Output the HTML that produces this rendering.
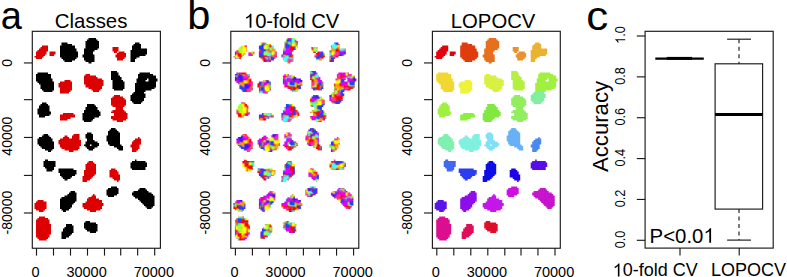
<!DOCTYPE html><html><head><meta charset="utf-8"><style>html,body{margin:0;padding:0;background:#fff;}svg{display:block;}text{font-family:"Liberation Sans",sans-serif;fill:#000;}</style></head><body>
<svg width="787" height="277" viewBox="0 0 787 277" xmlns="http://www.w3.org/2000/svg">
<rect width="787" height="277" fill="#fff"/>
<defs><pattern id="pf" patternUnits="userSpaceOnUse" x="0.6" y="0.3" width="60.0" height="60.0">
<rect width="60.0" height="60.0" fill="#ff0000"/>
<rect x="31.94" y="55.17" width="3.74" height="3.74" fill="#40ffff"/>
<rect x="33.67" y="7.97" width="3.81" height="3.81" fill="#40ffff"/>
<rect x="46.76" y="2.06" width="3.96" height="3.96" fill="#ffff00"/>
<rect x="47.95" y="40.59" width="3.31" height="3.31" fill="#ff0000"/>
<rect x="57.73" y="37.72" width="4.38" height="4.38" fill="#2040ff"/>
<rect x="-2.27" y="37.72" width="4.38" height="4.38" fill="#2040ff"/>
<rect x="-2.44" y="30.10" width="3.39" height="3.39" fill="#ff0000"/>
<rect x="57.56" y="30.10" width="3.39" height="3.39" fill="#ff0000"/>
<rect x="11.92" y="-1.52" width="3.43" height="3.43" fill="#40ffff"/>
<rect x="11.92" y="58.48" width="3.43" height="3.43" fill="#40ffff"/>
<rect x="49.96" y="29.35" width="3.73" height="3.73" fill="#2040ff"/>
<rect x="38.46" y="25.38" width="3.80" height="3.80" fill="#ffff00"/>
<rect x="59.72" y="49.71" width="4.40" height="4.40" fill="#5010ff"/>
<rect x="-0.28" y="49.71" width="4.40" height="4.40" fill="#5010ff"/>
<rect x="11.02" y="14.80" width="3.58" height="3.58" fill="#ff0000"/>
<rect x="21.55" y="50.16" width="4.12" height="4.12" fill="#a0ff30"/>
<rect x="50.17" y="-4.31" width="4.35" height="4.35" fill="#ffff00"/>
<rect x="50.17" y="55.69" width="4.35" height="4.35" fill="#ffff00"/>
<rect x="25.92" y="58.74" width="4.29" height="4.29" fill="#a0ff30"/>
<rect x="25.92" y="-1.26" width="4.29" height="4.29" fill="#a0ff30"/>
<rect x="36.55" y="45.98" width="3.29" height="3.29" fill="#ffff00"/>
<rect x="17.75" y="57.73" width="3.30" height="3.30" fill="#5010ff"/>
<rect x="17.75" y="-2.27" width="3.30" height="3.30" fill="#5010ff"/>
<rect x="12.27" y="3.06" width="3.34" height="3.34" fill="#ff0000"/>
<rect x="7.24" y="31.73" width="4.16" height="4.16" fill="#40ff80"/>
<rect x="42.99" y="4.88" width="3.43" height="3.43" fill="#2040ff"/>
<rect x="23.31" y="10.14" width="3.34" height="3.34" fill="#ffff00"/>
<rect x="47.35" y="15.21" width="4.37" height="4.37" fill="#e000ff"/>
<rect x="21.56" y="50.76" width="3.45" height="3.45" fill="#2040ff"/>
<rect x="59.32" y="10.18" width="3.32" height="3.32" fill="#ffff00"/>
<rect x="-0.68" y="10.18" width="3.32" height="3.32" fill="#ffff00"/>
<rect x="16.97" y="14.88" width="4.13" height="4.13" fill="#ff0000"/>
<rect x="33.58" y="12.08" width="3.31" height="3.31" fill="#2040ff"/>
<rect x="25.20" y="57.40" width="3.65" height="3.65" fill="#40ffff"/>
<rect x="25.20" y="-2.60" width="3.65" height="3.65" fill="#40ffff"/>
<rect x="51.47" y="7.79" width="3.89" height="3.89" fill="#ff9900"/>
<rect x="48.29" y="11.75" width="4.29" height="4.29" fill="#ff9900"/>
<rect x="56.18" y="8.51" width="4.09" height="4.09" fill="#ff30a0"/>
<rect x="-3.82" y="8.51" width="4.09" height="4.09" fill="#ff30a0"/>
<rect x="34.52" y="22.82" width="4.26" height="4.26" fill="#ff9900"/>
<rect x="57.64" y="11.83" width="3.25" height="3.25" fill="#5010ff"/>
<rect x="-2.36" y="11.83" width="3.25" height="3.25" fill="#5010ff"/>
<rect x="48.80" y="34.37" width="3.51" height="3.51" fill="#ffff00"/>
<rect x="42.27" y="0.95" width="3.41" height="3.41" fill="#ffff00"/>
<rect x="50.57" y="35.37" width="3.87" height="3.87" fill="#ffff00"/>
<rect x="8.82" y="-3.24" width="4.30" height="4.30" fill="#ffff00"/>
<rect x="8.82" y="56.76" width="4.30" height="4.30" fill="#ffff00"/>
<rect x="0.12" y="7.50" width="3.73" height="3.73" fill="#a0ff30"/>
<rect x="4.52" y="19.25" width="3.89" height="3.89" fill="#ff30a0"/>
<rect x="37.91" y="40.12" width="4.38" height="4.38" fill="#2040ff"/>
<rect x="-1.15" y="-2.23" width="3.37" height="3.37" fill="#ff30a0"/>
<rect x="-1.15" y="57.77" width="3.37" height="3.37" fill="#ff30a0"/>
<rect x="58.85" y="-2.23" width="3.37" height="3.37" fill="#ff30a0"/>
<rect x="58.85" y="57.77" width="3.37" height="3.37" fill="#ff30a0"/>
<rect x="57.62" y="-2.68" width="4.04" height="4.04" fill="#2040ff"/>
<rect x="57.62" y="57.32" width="4.04" height="4.04" fill="#2040ff"/>
<rect x="-2.38" y="-2.68" width="4.04" height="4.04" fill="#2040ff"/>
<rect x="-2.38" y="57.32" width="4.04" height="4.04" fill="#2040ff"/>
<rect x="42.81" y="16.56" width="3.78" height="3.78" fill="#ff30a0"/>
<rect x="31.27" y="43.35" width="3.29" height="3.29" fill="#ff30a0"/>
<rect x="41.01" y="46.75" width="4.08" height="4.08" fill="#ff30a0"/>
<rect x="39.97" y="53.69" width="3.62" height="3.62" fill="#e000ff"/>
<rect x="46.66" y="51.30" width="3.70" height="3.70" fill="#2040ff"/>
<rect x="20.50" y="33.31" width="3.95" height="3.95" fill="#2040ff"/>
<rect x="37.18" y="59.58" width="3.30" height="3.30" fill="#e000ff"/>
<rect x="37.18" y="-0.42" width="3.30" height="3.30" fill="#e000ff"/>
<rect x="20.81" y="43.02" width="4.07" height="4.07" fill="#2040ff"/>
<rect x="49.70" y="1.61" width="3.73" height="3.73" fill="#5010ff"/>
<rect x="34.79" y="27.18" width="3.24" height="3.24" fill="#ffff00"/>
<rect x="27.80" y="35.31" width="4.04" height="4.04" fill="#ff30a0"/>
<rect x="-2.79" y="15.61" width="3.51" height="3.51" fill="#2040ff"/>
<rect x="57.21" y="15.61" width="3.51" height="3.51" fill="#2040ff"/>
<rect x="7.32" y="54.02" width="3.44" height="3.44" fill="#2040ff"/>
<rect x="53.10" y="17.11" width="3.73" height="3.73" fill="#2040ff"/>
<rect x="23.90" y="47.69" width="3.44" height="3.44" fill="#ff30a0"/>
<rect x="20.45" y="33.21" width="4.26" height="4.26" fill="#ffff00"/>
<rect x="28.09" y="49.68" width="3.36" height="3.36" fill="#e000ff"/>
<rect x="56.80" y="13.68" width="4.05" height="4.05" fill="#ff9900"/>
<rect x="-3.20" y="13.68" width="4.05" height="4.05" fill="#ff9900"/>
<rect x="13.80" y="9.90" width="3.74" height="3.74" fill="#40ff80"/>
<rect x="27.63" y="16.22" width="3.95" height="3.95" fill="#e000ff"/>
<rect x="24.75" y="0.43" width="4.38" height="4.38" fill="#ff0000"/>
<rect x="-1.58" y="41.28" width="4.25" height="4.25" fill="#2040ff"/>
<rect x="58.42" y="41.28" width="4.25" height="4.25" fill="#2040ff"/>
<rect x="46.75" y="-2.36" width="3.57" height="3.57" fill="#ff9900"/>
<rect x="46.75" y="57.64" width="3.57" height="3.57" fill="#ff9900"/>
<rect x="-2.17" y="49.14" width="3.75" height="3.75" fill="#ffff00"/>
<rect x="57.83" y="49.14" width="3.75" height="3.75" fill="#ffff00"/>
<rect x="-0.39" y="36.50" width="3.37" height="3.37" fill="#40ff80"/>
<rect x="59.61" y="36.50" width="3.37" height="3.37" fill="#40ff80"/>
<rect x="37.94" y="47.68" width="3.96" height="3.96" fill="#ff30a0"/>
<rect x="8.74" y="26.40" width="4.02" height="4.02" fill="#ff9900"/>
<rect x="26.64" y="41.93" width="3.21" height="3.21" fill="#ff9900"/>
<rect x="18.44" y="40.77" width="3.53" height="3.53" fill="#40ffff"/>
<rect x="44.41" y="21.22" width="3.94" height="3.94" fill="#e000ff"/>
<rect x="1.32" y="55.67" width="4.29" height="4.29" fill="#5010ff"/>
<rect x="25.38" y="36.28" width="3.36" height="3.36" fill="#ff30a0"/>
<rect x="32.55" y="52.32" width="3.65" height="3.65" fill="#e000ff"/>
<rect x="25.50" y="37.57" width="4.33" height="4.33" fill="#ffff00"/>
<rect x="48.36" y="37.04" width="4.07" height="4.07" fill="#5010ff"/>
<rect x="53.65" y="58.76" width="3.46" height="3.46" fill="#ff30a0"/>
<rect x="53.65" y="-1.24" width="3.46" height="3.46" fill="#ff30a0"/>
<rect x="46.64" y="16.61" width="3.84" height="3.84" fill="#ff30a0"/>
<rect x="18.16" y="1.09" width="4.23" height="4.23" fill="#40ff80"/>
<rect x="45.20" y="27.27" width="3.86" height="3.86" fill="#ff0000"/>
<rect x="-0.06" y="47.16" width="4.17" height="4.17" fill="#ff9900"/>
<rect x="59.94" y="47.16" width="4.17" height="4.17" fill="#ff9900"/>
<rect x="46.51" y="5.33" width="3.60" height="3.60" fill="#ff9900"/>
<rect x="42.36" y="49.79" width="3.82" height="3.82" fill="#5010ff"/>
<rect x="27.36" y="56.73" width="4.33" height="4.33" fill="#ff0000"/>
<rect x="27.36" y="-3.27" width="4.33" height="4.33" fill="#ff0000"/>
<rect x="29.96" y="14.95" width="3.47" height="3.47" fill="#5010ff"/>
<rect x="29.47" y="50.00" width="3.97" height="3.97" fill="#2040ff"/>
<rect x="20.66" y="50.16" width="3.57" height="3.57" fill="#ff30a0"/>
<rect x="50.53" y="58.00" width="3.45" height="3.45" fill="#40ffff"/>
<rect x="50.53" y="-2.00" width="3.45" height="3.45" fill="#40ffff"/>
<rect x="8.95" y="30.35" width="3.89" height="3.89" fill="#40ffff"/>
<rect x="-2.15" y="58.04" width="3.93" height="3.93" fill="#40ffff"/>
<rect x="-2.15" y="-1.96" width="3.93" height="3.93" fill="#40ffff"/>
<rect x="57.85" y="58.04" width="3.93" height="3.93" fill="#40ffff"/>
<rect x="57.85" y="-1.96" width="3.93" height="3.93" fill="#40ffff"/>
<rect x="47.33" y="32.16" width="3.68" height="3.68" fill="#40ffff"/>
<rect x="0.19" y="30.46" width="4.03" height="4.03" fill="#40ff80"/>
<rect x="55.07" y="12.98" width="4.35" height="4.35" fill="#40ffff"/>
<rect x="24.12" y="48.33" width="3.35" height="3.35" fill="#ff30a0"/>
<rect x="16.46" y="8.44" width="3.77" height="3.77" fill="#2040ff"/>
<rect x="4.02" y="45.81" width="4.31" height="4.31" fill="#ff0000"/>
<rect x="10.98" y="40.15" width="3.43" height="3.43" fill="#a0ff30"/>
<rect x="35.81" y="3.05" width="3.63" height="3.63" fill="#5010ff"/>
<rect x="28.99" y="12.52" width="3.35" height="3.35" fill="#ffff00"/>
<rect x="24.05" y="20.15" width="3.84" height="3.84" fill="#40ff80"/>
<rect x="6.36" y="9.20" width="3.84" height="3.84" fill="#2040ff"/>
<rect x="29.91" y="50.49" width="3.97" height="3.97" fill="#2040ff"/>
<rect x="10.72" y="43.35" width="4.23" height="4.23" fill="#e000ff"/>
<rect x="16.02" y="15.97" width="4.28" height="4.28" fill="#ff30a0"/>
<rect x="59.90" y="52.86" width="3.46" height="3.46" fill="#ff9900"/>
<rect x="-0.10" y="52.86" width="3.46" height="3.46" fill="#ff9900"/>
<rect x="42.64" y="12.99" width="3.49" height="3.49" fill="#ff0000"/>
<rect x="22.87" y="46.51" width="4.20" height="4.20" fill="#ff9900"/>
<rect x="39.95" y="-2.55" width="3.68" height="3.68" fill="#ffff00"/>
<rect x="39.95" y="57.45" width="3.68" height="3.68" fill="#ffff00"/>
<rect x="54.33" y="57.98" width="4.02" height="4.02" fill="#ff9900"/>
<rect x="54.33" y="-2.02" width="4.02" height="4.02" fill="#ff9900"/>
<rect x="44.57" y="28.27" width="3.81" height="3.81" fill="#5010ff"/>
<rect x="1.05" y="3.31" width="3.43" height="3.43" fill="#ff0000"/>
<rect x="29.02" y="32.46" width="3.86" height="3.86" fill="#ff9900"/>
<rect x="9.51" y="49.87" width="3.42" height="3.42" fill="#ff30a0"/>
<rect x="1.81" y="-0.33" width="4.31" height="4.31" fill="#ff30a0"/>
<rect x="1.81" y="59.67" width="4.31" height="4.31" fill="#ff30a0"/>
<rect x="45.00" y="17.08" width="3.75" height="3.75" fill="#40ffff"/>
<rect x="23.63" y="34.53" width="3.82" height="3.82" fill="#ff0000"/>
<rect x="50.03" y="7.57" width="4.04" height="4.04" fill="#40ffff"/>
<rect x="21.89" y="8.42" width="4.09" height="4.09" fill="#ff9900"/>
<rect x="-2.83" y="53.18" width="3.82" height="3.82" fill="#e000ff"/>
<rect x="57.17" y="53.18" width="3.82" height="3.82" fill="#e000ff"/>
<rect x="51.08" y="36.26" width="4.05" height="4.05" fill="#a0ff30"/>
<rect x="28.31" y="58.89" width="3.92" height="3.92" fill="#e000ff"/>
<rect x="28.31" y="-1.11" width="3.92" height="3.92" fill="#e000ff"/>
<rect x="54.37" y="43.77" width="3.51" height="3.51" fill="#e000ff"/>
<rect x="21.86" y="53.36" width="4.18" height="4.18" fill="#e000ff"/>
<rect x="45.10" y="44.97" width="4.03" height="4.03" fill="#a0ff30"/>
<rect x="0.45" y="17.83" width="4.07" height="4.07" fill="#40ffff"/>
<rect x="19.27" y="37.16" width="3.21" height="3.21" fill="#2040ff"/>
<rect x="56.49" y="38.80" width="3.48" height="3.48" fill="#a0ff30"/>
<rect x="32.46" y="30.12" width="3.99" height="3.99" fill="#a0ff30"/>
<rect x="36.96" y="40.76" width="4.40" height="4.40" fill="#5010ff"/>
<rect x="-2.91" y="35.24" width="4.38" height="4.38" fill="#5010ff"/>
<rect x="57.09" y="35.24" width="4.38" height="4.38" fill="#5010ff"/>
<rect x="21.99" y="-0.30" width="3.51" height="3.51" fill="#ffff00"/>
<rect x="21.99" y="59.70" width="3.51" height="3.51" fill="#ffff00"/>
<rect x="2.62" y="12.32" width="3.65" height="3.65" fill="#ff30a0"/>
<rect x="28.57" y="57.90" width="3.86" height="3.86" fill="#2040ff"/>
<rect x="28.57" y="-2.10" width="3.86" height="3.86" fill="#2040ff"/>
<rect x="36.69" y="47.73" width="4.39" height="4.39" fill="#ff0000"/>
<rect x="44.61" y="-1.03" width="3.92" height="3.92" fill="#ff30a0"/>
<rect x="44.61" y="58.97" width="3.92" height="3.92" fill="#ff30a0"/>
<rect x="26.51" y="7.33" width="3.39" height="3.39" fill="#40ffff"/>
<rect x="-0.19" y="56.50" width="3.93" height="3.93" fill="#40ff80"/>
<rect x="-0.19" y="-3.50" width="3.93" height="3.93" fill="#40ff80"/>
<rect x="59.81" y="56.50" width="3.93" height="3.93" fill="#40ff80"/>
<rect x="59.81" y="-3.50" width="3.93" height="3.93" fill="#40ff80"/>
<rect x="34.33" y="19.50" width="3.83" height="3.83" fill="#ffff00"/>
<rect x="31.89" y="14.16" width="3.99" height="3.99" fill="#5010ff"/>
<rect x="-2.66" y="12.02" width="3.56" height="3.56" fill="#ff0000"/>
<rect x="57.34" y="12.02" width="3.56" height="3.56" fill="#ff0000"/>
<rect x="44.45" y="21.33" width="3.39" height="3.39" fill="#ff30a0"/>
<rect x="-0.88" y="59.28" width="4.10" height="4.10" fill="#ff30a0"/>
<rect x="-0.88" y="-0.72" width="4.10" height="4.10" fill="#ff30a0"/>
<rect x="59.12" y="59.28" width="4.10" height="4.10" fill="#ff30a0"/>
<rect x="59.12" y="-0.72" width="4.10" height="4.10" fill="#ff30a0"/>
<rect x="54.02" y="23.90" width="3.29" height="3.29" fill="#40ffff"/>
<rect x="11.32" y="29.32" width="4.37" height="4.37" fill="#ff30a0"/>
<rect x="25.94" y="58.64" width="4.07" height="4.07" fill="#e000ff"/>
<rect x="25.94" y="-1.36" width="4.07" height="4.07" fill="#e000ff"/>
<rect x="3.43" y="35.98" width="3.92" height="3.92" fill="#40ffff"/>
<rect x="-0.14" y="30.06" width="3.44" height="3.44" fill="#ff9900"/>
<rect x="59.86" y="30.06" width="3.44" height="3.44" fill="#ff9900"/>
<rect x="38.83" y="25.30" width="3.73" height="3.73" fill="#ffff00"/>
<rect x="22.91" y="45.81" width="3.90" height="3.90" fill="#40ffff"/>
<rect x="56.95" y="42.89" width="4.40" height="4.40" fill="#ffff00"/>
<rect x="-3.05" y="42.89" width="4.40" height="4.40" fill="#ffff00"/>
<rect x="53.20" y="46.34" width="3.34" height="3.34" fill="#2040ff"/>
<rect x="13.65" y="39.96" width="3.63" height="3.63" fill="#2040ff"/>
<rect x="36.55" y="44.24" width="3.91" height="3.91" fill="#ff9900"/>
<rect x="58.71" y="54.65" width="3.50" height="3.50" fill="#e000ff"/>
<rect x="-1.29" y="54.65" width="3.50" height="3.50" fill="#e000ff"/>
<rect x="0.60" y="13.89" width="3.25" height="3.25" fill="#40ff80"/>
<rect x="2.60" y="30.69" width="3.95" height="3.95" fill="#ff0000"/>
<rect x="39.51" y="31.55" width="3.30" height="3.30" fill="#2040ff"/>
<rect x="26.81" y="9.76" width="3.65" height="3.65" fill="#a0ff30"/>
<rect x="49.65" y="0.67" width="4.09" height="4.09" fill="#ff9900"/>
<rect x="35.85" y="45.16" width="4.17" height="4.17" fill="#ffff00"/>
<rect x="12.73" y="47.89" width="3.71" height="3.71" fill="#a0ff30"/>
<rect x="59.31" y="16.84" width="3.98" height="3.98" fill="#40ffff"/>
<rect x="-0.69" y="16.84" width="3.98" height="3.98" fill="#40ffff"/>
<rect x="54.93" y="23.32" width="4.10" height="4.10" fill="#a0ff30"/>
<rect x="52.10" y="1.65" width="3.32" height="3.32" fill="#ff0000"/>
<rect x="27.09" y="39.90" width="3.88" height="3.88" fill="#ffff00"/>
<rect x="0.75" y="9.55" width="4.13" height="4.13" fill="#2040ff"/>
<rect x="15.93" y="42.59" width="3.30" height="3.30" fill="#5010ff"/>
<rect x="5.54" y="19.20" width="3.54" height="3.54" fill="#5010ff"/>
<rect x="3.83" y="41.50" width="3.64" height="3.64" fill="#2040ff"/>
<rect x="56.14" y="54.43" width="4.30" height="4.30" fill="#40ff80"/>
<rect x="-3.86" y="54.43" width="4.30" height="4.30" fill="#40ff80"/>
<rect x="15.39" y="16.22" width="4.16" height="4.16" fill="#a0ff30"/>
<rect x="53.23" y="11.65" width="4.32" height="4.32" fill="#a0ff30"/>
<rect x="19.48" y="21.54" width="3.64" height="3.64" fill="#a0ff30"/>
<rect x="32.33" y="47.13" width="3.43" height="3.43" fill="#40ffff"/>
<rect x="31.93" y="7.13" width="4.20" height="4.20" fill="#5010ff"/>
<rect x="13.83" y="-2.83" width="4.26" height="4.26" fill="#40ffff"/>
<rect x="13.83" y="57.17" width="4.26" height="4.26" fill="#40ffff"/>
<rect x="32.38" y="57.86" width="3.85" height="3.85" fill="#2040ff"/>
<rect x="32.38" y="-2.14" width="3.85" height="3.85" fill="#2040ff"/>
<rect x="-0.05" y="30.92" width="4.17" height="4.17" fill="#e000ff"/>
<rect x="59.95" y="30.92" width="4.17" height="4.17" fill="#e000ff"/>
<rect x="1.87" y="43.36" width="3.30" height="3.30" fill="#ff30a0"/>
<rect x="36.84" y="5.81" width="3.30" height="3.30" fill="#5010ff"/>
<rect x="11.72" y="10.13" width="3.98" height="3.98" fill="#5010ff"/>
<rect x="44.98" y="21.35" width="3.83" height="3.83" fill="#a0ff30"/>
<rect x="38.91" y="27.41" width="4.36" height="4.36" fill="#40ffff"/>
<rect x="41.30" y="54.55" width="4.07" height="4.07" fill="#40ff80"/>
<rect x="38.61" y="50.60" width="4.19" height="4.19" fill="#e000ff"/>
<rect x="52.85" y="57.29" width="4.20" height="4.20" fill="#2040ff"/>
<rect x="52.85" y="-2.71" width="4.20" height="4.20" fill="#2040ff"/>
<rect x="41.50" y="47.38" width="3.83" height="3.83" fill="#40ff80"/>
<rect x="5.61" y="43.52" width="3.70" height="3.70" fill="#ff30a0"/>
<rect x="7.02" y="9.36" width="3.65" height="3.65" fill="#40ff80"/>
<rect x="58.08" y="0.21" width="3.55" height="3.55" fill="#ffff00"/>
<rect x="-1.92" y="0.21" width="3.55" height="3.55" fill="#ffff00"/>
<rect x="37.70" y="45.81" width="3.34" height="3.34" fill="#ff9900"/>
<rect x="25.75" y="33.68" width="3.27" height="3.27" fill="#ff30a0"/>
<rect x="3.63" y="8.43" width="3.24" height="3.24" fill="#ffff00"/>
<rect x="42.05" y="34.28" width="3.48" height="3.48" fill="#ffff00"/>
<rect x="14.40" y="7.52" width="3.42" height="3.42" fill="#5010ff"/>
<rect x="31.28" y="48.37" width="3.57" height="3.57" fill="#40ffff"/>
<rect x="52.85" y="54.55" width="3.51" height="3.51" fill="#a0ff30"/>
<rect x="57.26" y="26.96" width="3.86" height="3.86" fill="#ffff00"/>
<rect x="-2.74" y="26.96" width="3.86" height="3.86" fill="#ffff00"/>
<rect x="56.68" y="47.44" width="3.26" height="3.26" fill="#a0ff30"/>
<rect x="29.09" y="13.69" width="3.83" height="3.83" fill="#ff30a0"/>
<rect x="11.22" y="-3.29" width="3.99" height="3.99" fill="#40ffff"/>
<rect x="11.22" y="56.71" width="3.99" height="3.99" fill="#40ffff"/>
<rect x="47.07" y="41.75" width="3.65" height="3.65" fill="#2040ff"/>
<rect x="6.56" y="17.01" width="3.39" height="3.39" fill="#ffff00"/>
<rect x="28.91" y="36.68" width="4.24" height="4.24" fill="#ff30a0"/>
<rect x="30.44" y="6.05" width="3.52" height="3.52" fill="#e000ff"/>
<rect x="48.71" y="50.28" width="3.20" height="3.20" fill="#e000ff"/>
<rect x="13.79" y="42.06" width="3.30" height="3.30" fill="#ff0000"/>
<rect x="26.11" y="57.16" width="3.78" height="3.78" fill="#2040ff"/>
<rect x="26.11" y="-2.84" width="3.78" height="3.78" fill="#2040ff"/>
<rect x="15.27" y="46.47" width="4.23" height="4.23" fill="#40ff80"/>
<rect x="1.55" y="48.83" width="4.30" height="4.30" fill="#ffff00"/>
<rect x="29.71" y="6.21" width="3.85" height="3.85" fill="#e000ff"/>
<rect x="16.18" y="1.26" width="3.57" height="3.57" fill="#ffff00"/>
<rect x="41.84" y="19.17" width="3.76" height="3.76" fill="#5010ff"/>
<rect x="21.64" y="25.91" width="3.33" height="3.33" fill="#ff30a0"/>
<rect x="37.78" y="-3.40" width="4.20" height="4.20" fill="#a0ff30"/>
<rect x="37.78" y="56.60" width="4.20" height="4.20" fill="#a0ff30"/>
<rect x="11.16" y="32.08" width="4.05" height="4.05" fill="#40ffff"/>
<rect x="59.47" y="47.32" width="3.21" height="3.21" fill="#ffff00"/>
<rect x="-0.53" y="47.32" width="3.21" height="3.21" fill="#ffff00"/>
<rect x="14.63" y="20.10" width="3.94" height="3.94" fill="#40ffff"/>
<rect x="17.89" y="21.37" width="3.56" height="3.56" fill="#2040ff"/>
<rect x="9.19" y="42.94" width="3.51" height="3.51" fill="#a0ff30"/>
<rect x="31.87" y="42.23" width="4.33" height="4.33" fill="#a0ff30"/>
<rect x="1.73" y="4.85" width="4.19" height="4.19" fill="#ff0000"/>
<rect x="41.33" y="7.50" width="4.01" height="4.01" fill="#a0ff30"/>
<rect x="33.85" y="1.58" width="4.20" height="4.20" fill="#ffff00"/>
<rect x="4.48" y="22.40" width="3.39" height="3.39" fill="#ff0000"/>
<rect x="23.15" y="28.59" width="4.30" height="4.30" fill="#2040ff"/>
<rect x="48.53" y="20.63" width="4.12" height="4.12" fill="#a0ff30"/>
<rect x="-2.71" y="21.83" width="3.69" height="3.69" fill="#5010ff"/>
<rect x="57.29" y="21.83" width="3.69" height="3.69" fill="#5010ff"/>
<rect x="46.46" y="38.13" width="4.38" height="4.38" fill="#2040ff"/>
<rect x="17.71" y="18.41" width="3.22" height="3.22" fill="#2040ff"/>
<rect x="20.59" y="28.93" width="3.33" height="3.33" fill="#e000ff"/>
<rect x="35.06" y="5.97" width="4.19" height="4.19" fill="#5010ff"/>
<rect x="30.96" y="18.38" width="4.28" height="4.28" fill="#40ffff"/>
<rect x="41.84" y="59.16" width="3.37" height="3.37" fill="#40ffff"/>
<rect x="41.84" y="-0.84" width="3.37" height="3.37" fill="#40ffff"/>
<rect x="49.46" y="8.57" width="4.06" height="4.06" fill="#ff30a0"/>
<rect x="8.70" y="1.37" width="3.95" height="3.95" fill="#ffff00"/>
<rect x="40.65" y="17.14" width="3.89" height="3.89" fill="#ff30a0"/>
<rect x="25.83" y="4.26" width="3.63" height="3.63" fill="#ff30a0"/>
<rect x="53.92" y="31.07" width="3.36" height="3.36" fill="#2040ff"/>
<rect x="13.01" y="54.21" width="3.87" height="3.87" fill="#ff30a0"/>
<rect x="34.42" y="3.69" width="4.18" height="4.18" fill="#e000ff"/>
<rect x="53.46" y="11.76" width="3.55" height="3.55" fill="#2040ff"/>
<rect x="7.72" y="30.97" width="4.20" height="4.20" fill="#ff0000"/>
<rect x="8.15" y="59.18" width="3.24" height="3.24" fill="#ff30a0"/>
<rect x="8.15" y="-0.82" width="3.24" height="3.24" fill="#ff30a0"/>
<rect x="15.70" y="38.96" width="3.99" height="3.99" fill="#5010ff"/>
<rect x="34.02" y="47.51" width="3.66" height="3.66" fill="#ff0000"/>
<rect x="26.25" y="5.63" width="3.44" height="3.44" fill="#a0ff30"/>
<rect x="7.21" y="29.32" width="3.88" height="3.88" fill="#ffff00"/>
<rect x="17.33" y="37.11" width="3.88" height="3.88" fill="#ff0000"/>
<rect x="5.26" y="57.40" width="4.01" height="4.01" fill="#2040ff"/>
<rect x="5.26" y="-2.60" width="4.01" height="4.01" fill="#2040ff"/>
<rect x="22.47" y="36.01" width="3.76" height="3.76" fill="#5010ff"/>
<rect x="44.08" y="27.03" width="4.11" height="4.11" fill="#ff30a0"/>
<rect x="50.69" y="22.06" width="4.21" height="4.21" fill="#40ff80"/>
<rect x="53.95" y="29.72" width="3.88" height="3.88" fill="#40ffff"/>
<rect x="53.90" y="16.72" width="3.72" height="3.72" fill="#ff0000"/>
<rect x="53.60" y="42.83" width="4.07" height="4.07" fill="#2040ff"/>
<rect x="15.43" y="33.94" width="4.10" height="4.10" fill="#ff0000"/>
<rect x="24.97" y="28.49" width="3.35" height="3.35" fill="#a0ff30"/>
<rect x="40.70" y="30.03" width="3.26" height="3.26" fill="#ffff00"/>
<rect x="21.58" y="11.43" width="3.57" height="3.57" fill="#ff0000"/>
<rect x="57.84" y="38.51" width="4.29" height="4.29" fill="#e000ff"/>
<rect x="-2.16" y="38.51" width="4.29" height="4.29" fill="#e000ff"/>
<rect x="47.59" y="10.42" width="3.71" height="3.71" fill="#5010ff"/>
<rect x="53.83" y="2.42" width="3.88" height="3.88" fill="#e000ff"/>
<rect x="30.71" y="56.89" width="3.35" height="3.35" fill="#ff0000"/>
<rect x="30.71" y="-3.11" width="3.35" height="3.35" fill="#ff0000"/>
<rect x="15.51" y="17.13" width="3.49" height="3.49" fill="#ff0000"/>
<rect x="48.14" y="21.26" width="4.27" height="4.27" fill="#a0ff30"/>
<rect x="-0.97" y="-1.91" width="3.90" height="3.90" fill="#ff30a0"/>
<rect x="-0.97" y="58.09" width="3.90" height="3.90" fill="#ff30a0"/>
<rect x="59.03" y="-1.91" width="3.90" height="3.90" fill="#ff30a0"/>
<rect x="59.03" y="58.09" width="3.90" height="3.90" fill="#ff30a0"/>
<rect x="28.11" y="55.80" width="3.57" height="3.57" fill="#ff30a0"/>
<rect x="9.40" y="15.07" width="3.77" height="3.77" fill="#ff30a0"/>
<rect x="8.29" y="49.58" width="4.28" height="4.28" fill="#a0ff30"/>
<rect x="7.19" y="52.33" width="3.77" height="3.77" fill="#ff30a0"/>
<rect x="36.68" y="8.71" width="3.44" height="3.44" fill="#e000ff"/>
<rect x="3.45" y="42.65" width="3.26" height="3.26" fill="#ffff00"/>
<rect x="51.62" y="41.56" width="4.28" height="4.28" fill="#ff9900"/>
<rect x="56.02" y="24.47" width="4.04" height="4.04" fill="#ff0000"/>
<rect x="-3.98" y="24.47" width="4.04" height="4.04" fill="#ff0000"/>
<rect x="16.03" y="41.63" width="3.47" height="3.47" fill="#ffff00"/>
<rect x="11.51" y="38.73" width="3.42" height="3.42" fill="#e000ff"/>
<rect x="38.49" y="52.64" width="3.65" height="3.65" fill="#2040ff"/>
<rect x="15.63" y="55.35" width="3.47" height="3.47" fill="#2040ff"/>
<rect x="37.12" y="2.18" width="3.53" height="3.53" fill="#ff30a0"/>
<rect x="29.94" y="30.10" width="3.73" height="3.73" fill="#ff0000"/>
<rect x="14.27" y="12.12" width="3.92" height="3.92" fill="#e000ff"/>
<rect x="14.75" y="44.53" width="3.30" height="3.30" fill="#ffff00"/>
<rect x="31.29" y="8.31" width="3.53" height="3.53" fill="#ff30a0"/>
<rect x="-2.22" y="25.34" width="4.39" height="4.39" fill="#5010ff"/>
<rect x="57.78" y="25.34" width="4.39" height="4.39" fill="#5010ff"/>
<rect x="55.50" y="28.16" width="3.66" height="3.66" fill="#ff9900"/>
<rect x="37.32" y="19.10" width="3.87" height="3.87" fill="#2040ff"/>
<rect x="29.00" y="28.29" width="4.14" height="4.14" fill="#e000ff"/>
<rect x="29.30" y="56.90" width="4.02" height="4.02" fill="#ff9900"/>
<rect x="29.30" y="-3.10" width="4.02" height="4.02" fill="#ff9900"/>
<rect x="6.46" y="34.86" width="4.14" height="4.14" fill="#ffff00"/>
<rect x="45.54" y="46.40" width="3.73" height="3.73" fill="#e000ff"/>
<rect x="27.57" y="10.56" width="3.48" height="3.48" fill="#2040ff"/>
<rect x="-1.54" y="34.28" width="3.80" height="3.80" fill="#5010ff"/>
<rect x="58.46" y="34.28" width="3.80" height="3.80" fill="#5010ff"/>
<rect x="51.88" y="7.61" width="3.89" height="3.89" fill="#ff9900"/>
<rect x="28.14" y="24.26" width="3.22" height="3.22" fill="#40ff80"/>
<rect x="47.20" y="1.09" width="3.52" height="3.52" fill="#ff30a0"/>
<rect x="30.82" y="46.69" width="3.88" height="3.88" fill="#ffff00"/>
<rect x="16.33" y="-0.69" width="3.38" height="3.38" fill="#ffff00"/>
<rect x="16.33" y="59.31" width="3.38" height="3.38" fill="#ffff00"/>
<rect x="29.66" y="12.98" width="3.95" height="3.95" fill="#2040ff"/>
<rect x="48.64" y="7.56" width="3.31" height="3.31" fill="#ffff00"/>
<rect x="40.39" y="49.28" width="3.39" height="3.39" fill="#e000ff"/>
<rect x="22.71" y="19.78" width="3.27" height="3.27" fill="#ffff00"/>
<rect x="-1.65" y="27.14" width="4.36" height="4.36" fill="#5010ff"/>
<rect x="58.35" y="27.14" width="4.36" height="4.36" fill="#5010ff"/>
<rect x="4.92" y="24.93" width="4.38" height="4.38" fill="#5010ff"/>
<rect x="11.97" y="53.05" width="3.25" height="3.25" fill="#ff9900"/>
<rect x="15.31" y="23.35" width="3.67" height="3.67" fill="#ff0000"/>
<rect x="59.75" y="45.03" width="3.24" height="3.24" fill="#5010ff"/>
<rect x="-0.25" y="45.03" width="3.24" height="3.24" fill="#5010ff"/>
<rect x="12.60" y="31.56" width="3.48" height="3.48" fill="#ffff00"/>
<rect x="55.69" y="19.45" width="3.75" height="3.75" fill="#a0ff30"/>
<rect x="34.95" y="-1.82" width="4.38" height="4.38" fill="#a0ff30"/>
<rect x="34.95" y="58.18" width="4.38" height="4.38" fill="#a0ff30"/>
<rect x="-0.24" y="17.98" width="3.98" height="3.98" fill="#5010ff"/>
<rect x="59.76" y="17.98" width="3.98" height="3.98" fill="#5010ff"/>
<rect x="33.71" y="52.70" width="4.24" height="4.24" fill="#40ffff"/>
<rect x="50.01" y="20.60" width="3.67" height="3.67" fill="#e000ff"/>
<rect x="18.59" y="8.19" width="3.46" height="3.46" fill="#40ffff"/>
<rect x="9.51" y="10.20" width="3.40" height="3.40" fill="#40ffff"/>
<rect x="24.85" y="59.58" width="3.57" height="3.57" fill="#2040ff"/>
<rect x="24.85" y="-0.42" width="3.57" height="3.57" fill="#2040ff"/>
<rect x="8.91" y="20.36" width="4.24" height="4.24" fill="#ff0000"/>
<rect x="19.20" y="13.55" width="4.03" height="4.03" fill="#ff0000"/>
<rect x="13.22" y="21.50" width="3.42" height="3.42" fill="#ff30a0"/>
<rect x="13.15" y="19.07" width="4.06" height="4.06" fill="#ff9900"/>
<rect x="18.82" y="44.93" width="4.32" height="4.32" fill="#5010ff"/>
<rect x="-2.98" y="16.42" width="4.29" height="4.29" fill="#a0ff30"/>
<rect x="57.02" y="16.42" width="4.29" height="4.29" fill="#a0ff30"/>
<rect x="52.56" y="17.29" width="3.30" height="3.30" fill="#e000ff"/>
<rect x="-0.32" y="21.32" width="3.82" height="3.82" fill="#ffff00"/>
<rect x="59.68" y="21.32" width="3.82" height="3.82" fill="#ffff00"/>
<rect x="6.29" y="34.41" width="3.25" height="3.25" fill="#ff0000"/>
<rect x="23.38" y="31.01" width="3.57" height="3.57" fill="#ff9900"/>
<rect x="12.63" y="42.42" width="4.05" height="4.05" fill="#2040ff"/>
<rect x="9.60" y="14.39" width="3.38" height="3.38" fill="#5010ff"/>
<rect x="20.93" y="51.46" width="3.69" height="3.69" fill="#ffff00"/>
<rect x="18.37" y="10.16" width="3.55" height="3.55" fill="#ff0000"/>
<rect x="36.63" y="32.55" width="3.23" height="3.23" fill="#e000ff"/>
<rect x="14.82" y="38.79" width="4.37" height="4.37" fill="#ff30a0"/>
<rect x="40.28" y="38.84" width="3.46" height="3.46" fill="#ff30a0"/>
<rect x="10.83" y="36.39" width="4.24" height="4.24" fill="#ff0000"/>
<rect x="21.29" y="0.12" width="3.71" height="3.71" fill="#a0ff30"/>
<rect x="28.02" y="14.20" width="3.59" height="3.59" fill="#ff9900"/>
<rect x="26.58" y="6.93" width="3.68" height="3.68" fill="#2040ff"/>
<rect x="2.42" y="18.21" width="3.49" height="3.49" fill="#40ff80"/>
<rect x="33.55" y="41.07" width="3.38" height="3.38" fill="#2040ff"/>
<rect x="-2.56" y="21.02" width="4.04" height="4.04" fill="#a0ff30"/>
<rect x="57.44" y="21.02" width="4.04" height="4.04" fill="#a0ff30"/>
<rect x="22.31" y="0.18" width="3.28" height="3.28" fill="#40ffff"/>
<rect x="26.06" y="16.90" width="3.90" height="3.90" fill="#ffff00"/>
<rect x="18.72" y="53.16" width="3.23" height="3.23" fill="#2040ff"/>
<rect x="38.92" y="8.30" width="3.51" height="3.51" fill="#40ffff"/>
<rect x="57.10" y="19.25" width="3.94" height="3.94" fill="#2040ff"/>
<rect x="-2.90" y="19.25" width="3.94" height="3.94" fill="#2040ff"/>
<rect x="45.30" y="36.03" width="4.33" height="4.33" fill="#2040ff"/>
<rect x="22.78" y="13.90" width="3.69" height="3.69" fill="#e000ff"/>
<rect x="20.28" y="54.19" width="4.26" height="4.26" fill="#ff0000"/>
<rect x="28.77" y="16.19" width="3.36" height="3.36" fill="#a0ff30"/>
<rect x="5.27" y="8.02" width="4.37" height="4.37" fill="#ffff00"/>
<rect x="11.00" y="-3.96" width="4.02" height="4.02" fill="#40ffff"/>
<rect x="11.00" y="56.04" width="4.02" height="4.02" fill="#40ffff"/>
<rect x="11.57" y="27.76" width="3.67" height="3.67" fill="#2040ff"/>
<rect x="36.01" y="31.95" width="3.86" height="3.86" fill="#e000ff"/>
<rect x="17.10" y="17.95" width="4.36" height="4.36" fill="#e000ff"/>
<rect x="41.94" y="40.63" width="3.58" height="3.58" fill="#5010ff"/>
<rect x="48.70" y="5.91" width="4.36" height="4.36" fill="#2040ff"/>
<rect x="32.18" y="19.78" width="3.79" height="3.79" fill="#ffff00"/>
<rect x="30.13" y="11.09" width="4.10" height="4.10" fill="#ffff00"/>
<rect x="7.72" y="29.08" width="3.59" height="3.59" fill="#ff9900"/>
<rect x="1.07" y="3.19" width="3.28" height="3.28" fill="#5010ff"/>
<rect x="25.27" y="45.57" width="3.34" height="3.34" fill="#40ffff"/>
<rect x="51.52" y="51.75" width="3.40" height="3.40" fill="#ff0000"/>
<rect x="28.72" y="47.07" width="3.50" height="3.50" fill="#a0ff30"/>
<rect x="12.07" y="41.79" width="4.06" height="4.06" fill="#a0ff30"/>
<rect x="44.69" y="50.00" width="3.60" height="3.60" fill="#e000ff"/>
<rect x="22.99" y="41.28" width="3.88" height="3.88" fill="#2040ff"/>
<rect x="47.24" y="3.84" width="4.20" height="4.20" fill="#a0ff30"/>
<rect x="10.78" y="7.81" width="4.00" height="4.00" fill="#ff0000"/>
<rect x="56.23" y="58.11" width="3.90" height="3.90" fill="#ff9900"/>
<rect x="56.23" y="-1.89" width="3.90" height="3.90" fill="#ff9900"/>
<rect x="-3.77" y="58.11" width="3.90" height="3.90" fill="#ff9900"/>
<rect x="-3.77" y="-1.89" width="3.90" height="3.90" fill="#ff9900"/>
<rect x="22.82" y="36.40" width="4.03" height="4.03" fill="#a0ff30"/>
<rect x="59.28" y="-1.19" width="4.32" height="4.32" fill="#5010ff"/>
<rect x="59.28" y="58.81" width="4.32" height="4.32" fill="#5010ff"/>
<rect x="-0.72" y="-1.19" width="4.32" height="4.32" fill="#5010ff"/>
<rect x="-0.72" y="58.81" width="4.32" height="4.32" fill="#5010ff"/>
<rect x="-0.66" y="14.78" width="3.34" height="3.34" fill="#5010ff"/>
<rect x="59.34" y="14.78" width="3.34" height="3.34" fill="#5010ff"/>
<rect x="3.34" y="16.86" width="4.39" height="4.39" fill="#ff0000"/>
<rect x="26.99" y="19.99" width="3.85" height="3.85" fill="#ffff00"/>
<rect x="49.65" y="14.04" width="4.16" height="4.16" fill="#a0ff30"/>
<rect x="45.00" y="58.78" width="3.94" height="3.94" fill="#a0ff30"/>
<rect x="45.00" y="-1.22" width="3.94" height="3.94" fill="#a0ff30"/>
<rect x="30.93" y="47.20" width="4.03" height="4.03" fill="#ff9900"/>
<rect x="3.38" y="55.79" width="3.41" height="3.41" fill="#ffff00"/>
<rect x="3.89" y="16.86" width="3.79" height="3.79" fill="#ff0000"/>
<rect x="5.30" y="36.06" width="3.88" height="3.88" fill="#ffff00"/>
<rect x="27.13" y="19.75" width="3.47" height="3.47" fill="#ffff00"/>
<rect x="0.81" y="53.21" width="3.26" height="3.26" fill="#ffff00"/>
<rect x="8.26" y="27.30" width="3.29" height="3.29" fill="#ff30a0"/>
<rect x="51.58" y="27.28" width="3.44" height="3.44" fill="#40ff80"/>
<rect x="21.24" y="-0.47" width="4.17" height="4.17" fill="#2040ff"/>
<rect x="21.24" y="59.53" width="4.17" height="4.17" fill="#2040ff"/>
<rect x="35.88" y="13.74" width="3.99" height="3.99" fill="#ff30a0"/>
<rect x="59.63" y="24.23" width="4.24" height="4.24" fill="#e000ff"/>
<rect x="-0.37" y="24.23" width="4.24" height="4.24" fill="#e000ff"/>
<rect x="7.20" y="-2.35" width="4.07" height="4.07" fill="#ff9900"/>
<rect x="7.20" y="57.65" width="4.07" height="4.07" fill="#ff9900"/>
<rect x="1.39" y="19.39" width="3.34" height="3.34" fill="#5010ff"/>
<rect x="29.12" y="-2.91" width="3.57" height="3.57" fill="#ffff00"/>
<rect x="29.12" y="57.09" width="3.57" height="3.57" fill="#ffff00"/>
<rect x="-3.64" y="29.58" width="4.35" height="4.35" fill="#e000ff"/>
<rect x="56.36" y="29.58" width="4.35" height="4.35" fill="#e000ff"/>
<rect x="43.03" y="21.46" width="4.15" height="4.15" fill="#e000ff"/>
<rect x="45.09" y="59.10" width="4.19" height="4.19" fill="#ff9900"/>
<rect x="45.09" y="-0.90" width="4.19" height="4.19" fill="#ff9900"/>
<rect x="21.54" y="41.04" width="4.34" height="4.34" fill="#ffff00"/>
<rect x="-2.78" y="32.79" width="4.29" height="4.29" fill="#ffff00"/>
<rect x="57.22" y="32.79" width="4.29" height="4.29" fill="#ffff00"/>
<rect x="19.85" y="38.16" width="3.67" height="3.67" fill="#e000ff"/>
<rect x="36.96" y="18.89" width="3.64" height="3.64" fill="#ffff00"/>
<rect x="16.39" y="1.77" width="4.29" height="4.29" fill="#a0ff30"/>
<rect x="9.45" y="43.54" width="4.09" height="4.09" fill="#40ffff"/>
<rect x="7.33" y="2.76" width="4.02" height="4.02" fill="#ff9900"/>
<rect x="23.78" y="-3.02" width="3.62" height="3.62" fill="#40ffff"/>
<rect x="23.78" y="56.98" width="3.62" height="3.62" fill="#40ffff"/>
<rect x="16.79" y="30.52" width="3.68" height="3.68" fill="#ff30a0"/>
<rect x="52.42" y="16.91" width="3.45" height="3.45" fill="#5010ff"/>
<rect x="59.21" y="23.91" width="3.33" height="3.33" fill="#ff30a0"/>
<rect x="-0.79" y="23.91" width="3.33" height="3.33" fill="#ff30a0"/>
<rect x="22.44" y="41.34" width="3.46" height="3.46" fill="#ff9900"/>
<rect x="39.49" y="56.68" width="3.53" height="3.53" fill="#a0ff30"/>
<rect x="39.49" y="-3.32" width="3.53" height="3.53" fill="#a0ff30"/>
<rect x="19.23" y="59.33" width="3.42" height="3.42" fill="#ff9900"/>
<rect x="19.23" y="-0.67" width="3.42" height="3.42" fill="#ff9900"/>
<rect x="20.22" y="37.22" width="3.96" height="3.96" fill="#ffff00"/>
<rect x="52.82" y="50.82" width="3.94" height="3.94" fill="#2040ff"/>
<rect x="32.42" y="3.48" width="3.81" height="3.81" fill="#e000ff"/>
<rect x="24.99" y="38.58" width="4.03" height="4.03" fill="#40ff80"/>
<rect x="10.98" y="34.58" width="3.66" height="3.66" fill="#2040ff"/>
<rect x="-1.76" y="36.22" width="3.82" height="3.82" fill="#40ff80"/>
<rect x="58.24" y="36.22" width="3.82" height="3.82" fill="#40ff80"/>
<rect x="34.09" y="55.63" width="3.91" height="3.91" fill="#ff9900"/>
<rect x="59.55" y="43.29" width="3.76" height="3.76" fill="#ffff00"/>
<rect x="-0.45" y="43.29" width="3.76" height="3.76" fill="#ffff00"/>
<rect x="59.32" y="21.68" width="4.08" height="4.08" fill="#e000ff"/>
<rect x="-0.68" y="21.68" width="4.08" height="4.08" fill="#e000ff"/>
<rect x="59.37" y="27.76" width="3.35" height="3.35" fill="#ffff00"/>
<rect x="-0.63" y="27.76" width="3.35" height="3.35" fill="#ffff00"/>
<rect x="37.48" y="56.00" width="4.21" height="4.21" fill="#e000ff"/>
<rect x="37.48" y="-4.00" width="4.21" height="4.21" fill="#e000ff"/>
<rect x="28.67" y="59.59" width="4.16" height="4.16" fill="#ff0000"/>
<rect x="28.67" y="-0.41" width="4.16" height="4.16" fill="#ff0000"/>
<rect x="41.47" y="11.86" width="4.24" height="4.24" fill="#e000ff"/>
<rect x="30.44" y="51.43" width="3.74" height="3.74" fill="#ffff00"/>
<rect x="37.36" y="1.14" width="3.54" height="3.54" fill="#2040ff"/>
<rect x="27.33" y="11.37" width="4.14" height="4.14" fill="#e000ff"/>
<rect x="45.28" y="31.05" width="4.23" height="4.23" fill="#ff30a0"/>
<rect x="5.58" y="19.32" width="4.16" height="4.16" fill="#ff9900"/>
<rect x="18.62" y="51.45" width="3.24" height="3.24" fill="#e000ff"/>
<rect x="8.17" y="21.28" width="3.34" height="3.34" fill="#e000ff"/>
<rect x="53.72" y="0.66" width="3.94" height="3.94" fill="#ff30a0"/>
<rect x="36.47" y="52.17" width="3.45" height="3.45" fill="#5010ff"/>
<rect x="38.96" y="23.89" width="3.44" height="3.44" fill="#ff0000"/>
<rect x="16.45" y="36.45" width="3.61" height="3.61" fill="#ffff00"/>
<rect x="40.49" y="7.63" width="3.92" height="3.92" fill="#ff9900"/>
<rect x="25.84" y="4.23" width="4.03" height="4.03" fill="#ff9900"/>
<rect x="34.91" y="18.67" width="4.33" height="4.33" fill="#ffff00"/>
<rect x="40.14" y="43.02" width="4.39" height="4.39" fill="#a0ff30"/>
<rect x="22.38" y="5.73" width="3.57" height="3.57" fill="#2040ff"/>
<rect x="48.54" y="22.35" width="3.71" height="3.71" fill="#40ffff"/>
<rect x="56.28" y="18.29" width="3.81" height="3.81" fill="#5010ff"/>
<rect x="-3.72" y="18.29" width="3.81" height="3.81" fill="#5010ff"/>
<rect x="33.29" y="14.60" width="3.48" height="3.48" fill="#e000ff"/>
<rect x="50.75" y="39.46" width="3.54" height="3.54" fill="#40ffff"/>
<rect x="20.61" y="43.49" width="4.32" height="4.32" fill="#2040ff"/>
<rect x="0.35" y="22.97" width="3.74" height="3.74" fill="#ffff00"/>
<rect x="57.10" y="14.94" width="3.73" height="3.73" fill="#5010ff"/>
<rect x="-2.90" y="14.94" width="3.73" height="3.73" fill="#5010ff"/>
<rect x="11.66" y="22.33" width="4.01" height="4.01" fill="#ff9900"/>
<rect x="11.90" y="22.76" width="4.27" height="4.27" fill="#a0ff30"/>
<rect x="50.39" y="33.73" width="4.18" height="4.18" fill="#40ffff"/>
<rect x="53.45" y="2.28" width="3.32" height="3.32" fill="#a0ff30"/>
<rect x="42.37" y="38.94" width="3.65" height="3.65" fill="#a0ff30"/>
<rect x="56.76" y="-2.78" width="4.28" height="4.28" fill="#2040ff"/>
<rect x="56.76" y="57.22" width="4.28" height="4.28" fill="#2040ff"/>
<rect x="-3.24" y="-2.78" width="4.28" height="4.28" fill="#2040ff"/>
<rect x="-3.24" y="57.22" width="4.28" height="4.28" fill="#2040ff"/>
<rect x="19.30" y="25.88" width="3.76" height="3.76" fill="#ffff00"/>
<rect x="34.75" y="58.11" width="4.01" height="4.01" fill="#ff30a0"/>
<rect x="34.75" y="-1.89" width="4.01" height="4.01" fill="#ff30a0"/>
<rect x="21.05" y="48.97" width="4.39" height="4.39" fill="#2040ff"/>
<rect x="59.85" y="0.22" width="4.04" height="4.04" fill="#40ffff"/>
<rect x="-0.15" y="0.22" width="4.04" height="4.04" fill="#40ffff"/>
<rect x="38.10" y="10.21" width="3.68" height="3.68" fill="#ff30a0"/>
<rect x="20.02" y="5.62" width="3.45" height="3.45" fill="#a0ff30"/>
<rect x="1.26" y="6.60" width="4.09" height="4.09" fill="#2040ff"/>
<rect x="43.50" y="12.26" width="3.95" height="3.95" fill="#e000ff"/>
<rect x="45.65" y="3.59" width="4.08" height="4.08" fill="#40ffff"/>
<rect x="51.13" y="56.49" width="3.22" height="3.22" fill="#ff30a0"/>
<rect x="18.97" y="30.65" width="3.23" height="3.23" fill="#40ffff"/>
<rect x="46.65" y="15.77" width="3.33" height="3.33" fill="#40ffff"/>
<rect x="32.63" y="4.87" width="3.35" height="3.35" fill="#ff0000"/>
<rect x="14.95" y="45.80" width="3.81" height="3.81" fill="#ffff00"/>
<rect x="-0.24" y="10.17" width="3.70" height="3.70" fill="#40ffff"/>
<rect x="59.76" y="10.17" width="3.70" height="3.70" fill="#40ffff"/>
<rect x="25.47" y="50.47" width="3.87" height="3.87" fill="#ff9900"/>
<rect x="5.72" y="58.09" width="4.22" height="4.22" fill="#40ffff"/>
<rect x="5.72" y="-1.91" width="4.22" height="4.22" fill="#40ffff"/>
<rect x="35.30" y="51.33" width="3.69" height="3.69" fill="#ff30a0"/>
<rect x="-3.01" y="6.10" width="3.70" height="3.70" fill="#e000ff"/>
<rect x="56.99" y="6.10" width="3.70" height="3.70" fill="#e000ff"/>
<rect x="41.58" y="5.95" width="4.08" height="4.08" fill="#40ffff"/>
<rect x="3.74" y="15.78" width="3.23" height="3.23" fill="#ff30a0"/>
<rect x="50.26" y="-1.02" width="3.97" height="3.97" fill="#40ff80"/>
<rect x="50.26" y="58.98" width="3.97" height="3.97" fill="#40ff80"/>
<rect x="13.21" y="3.78" width="3.29" height="3.29" fill="#ff30a0"/>
<rect x="27.50" y="38.00" width="3.59" height="3.59" fill="#e000ff"/>
<rect x="32.20" y="27.89" width="4.34" height="4.34" fill="#ff30a0"/>
<rect x="15.39" y="43.40" width="3.67" height="3.67" fill="#ffff00"/>
<rect x="23.68" y="26.71" width="3.64" height="3.64" fill="#a0ff30"/>
<rect x="25.01" y="-0.56" width="3.72" height="3.72" fill="#e000ff"/>
<rect x="25.01" y="59.44" width="3.72" height="3.72" fill="#e000ff"/>
<rect x="30.13" y="31.37" width="3.27" height="3.27" fill="#a0ff30"/>
<rect x="2.83" y="20.14" width="3.47" height="3.47" fill="#ffff00"/>
<rect x="10.91" y="44.02" width="3.78" height="3.78" fill="#40ffff"/>
<rect x="22.49" y="57.87" width="3.21" height="3.21" fill="#ff0000"/>
<rect x="22.49" y="-2.13" width="3.21" height="3.21" fill="#ff0000"/>
<rect x="57.49" y="19.46" width="3.91" height="3.91" fill="#2040ff"/>
<rect x="-2.51" y="19.46" width="3.91" height="3.91" fill="#2040ff"/>
<rect x="15.52" y="35.13" width="3.64" height="3.64" fill="#2040ff"/>
<rect x="28.06" y="29.24" width="3.58" height="3.58" fill="#5010ff"/>
<rect x="2.61" y="12.68" width="3.26" height="3.26" fill="#ffff00"/>
<rect x="23.14" y="51.02" width="4.15" height="4.15" fill="#a0ff30"/>
<rect x="39.66" y="1.89" width="3.54" height="3.54" fill="#ff30a0"/>
<rect x="16.87" y="16.18" width="4.20" height="4.20" fill="#e000ff"/>
<rect x="37.05" y="-0.51" width="4.15" height="4.15" fill="#5010ff"/>
<rect x="37.05" y="59.49" width="4.15" height="4.15" fill="#5010ff"/>
<rect x="36.26" y="31.67" width="3.26" height="3.26" fill="#ff30a0"/>
<rect x="-2.54" y="55.80" width="3.97" height="3.97" fill="#5010ff"/>
<rect x="57.46" y="55.80" width="3.97" height="3.97" fill="#5010ff"/>
<rect x="-3.54" y="43.19" width="3.90" height="3.90" fill="#40ff80"/>
<rect x="56.46" y="43.19" width="3.90" height="3.90" fill="#40ff80"/>
<rect x="58.96" y="54.67" width="4.02" height="4.02" fill="#ff0000"/>
<rect x="-1.04" y="54.67" width="4.02" height="4.02" fill="#ff0000"/>
<rect x="24.12" y="44.07" width="4.14" height="4.14" fill="#a0ff30"/>
<rect x="24.11" y="3.78" width="3.74" height="3.74" fill="#ffff00"/>
<rect x="0.50" y="3.34" width="4.08" height="4.08" fill="#e000ff"/>
<rect x="31.08" y="3.25" width="4.00" height="4.00" fill="#ff9900"/>
<rect x="57.07" y="32.04" width="3.57" height="3.57" fill="#ff30a0"/>
<rect x="-2.93" y="32.04" width="3.57" height="3.57" fill="#ff30a0"/>
<rect x="22.87" y="30.58" width="3.45" height="3.45" fill="#e000ff"/>
<rect x="52.00" y="26.58" width="3.35" height="3.35" fill="#ff0000"/>
<rect x="20.34" y="39.25" width="3.72" height="3.72" fill="#ff30a0"/>
<rect x="40.20" y="20.96" width="3.79" height="3.79" fill="#e000ff"/>
<rect x="43.68" y="7.22" width="3.33" height="3.33" fill="#2040ff"/>
<rect x="18.53" y="6.95" width="3.44" height="3.44" fill="#a0ff30"/>
<rect x="29.32" y="20.92" width="3.91" height="3.91" fill="#2040ff"/>
<rect x="18.79" y="33.28" width="4.21" height="4.21" fill="#40ffff"/>
<rect x="16.74" y="40.52" width="4.38" height="4.38" fill="#ffff00"/>
<rect x="42.88" y="33.01" width="3.51" height="3.51" fill="#ffff00"/>
<rect x="48.92" y="20.61" width="3.28" height="3.28" fill="#5010ff"/>
<rect x="35.64" y="31.93" width="3.72" height="3.72" fill="#ff30a0"/>
<rect x="25.01" y="27.01" width="4.29" height="4.29" fill="#ffff00"/>
<rect x="2.45" y="15.55" width="4.10" height="4.10" fill="#e000ff"/>
<rect x="40.93" y="32.68" width="3.24" height="3.24" fill="#2040ff"/>
<rect x="6.04" y="56.87" width="3.60" height="3.60" fill="#5010ff"/>
<rect x="6.04" y="-3.13" width="3.60" height="3.60" fill="#5010ff"/>
<rect x="2.10" y="46.15" width="4.17" height="4.17" fill="#ffff00"/>
<rect x="30.50" y="35.25" width="3.44" height="3.44" fill="#ff9900"/>
<rect x="33.23" y="53.55" width="4.12" height="4.12" fill="#ff30a0"/>
<rect x="19.28" y="56.86" width="4.03" height="4.03" fill="#5010ff"/>
<rect x="19.28" y="-3.14" width="4.03" height="4.03" fill="#5010ff"/>
<rect x="50.95" y="42.64" width="3.55" height="3.55" fill="#ffff00"/>
<rect x="-2.21" y="30.61" width="3.50" height="3.50" fill="#ffff00"/>
<rect x="57.79" y="30.61" width="3.50" height="3.50" fill="#ffff00"/>
<rect x="12.52" y="4.81" width="3.55" height="3.55" fill="#40ffff"/>
<rect x="14.58" y="14.11" width="3.53" height="3.53" fill="#40ffff"/>
<rect x="6.04" y="50.98" width="4.25" height="4.25" fill="#e000ff"/>
<rect x="30.83" y="42.99" width="3.93" height="3.93" fill="#40ffff"/>
<rect x="54.83" y="45.62" width="3.99" height="3.99" fill="#ffff00"/>
<rect x="55.99" y="19.68" width="3.27" height="3.27" fill="#e000ff"/>
<rect x="25.27" y="20.04" width="3.48" height="3.48" fill="#5010ff"/>
<rect x="28.20" y="32.08" width="4.33" height="4.33" fill="#a0ff30"/>
<rect x="56.82" y="3.52" width="3.48" height="3.48" fill="#ff30a0"/>
<rect x="-3.18" y="3.52" width="3.48" height="3.48" fill="#ff30a0"/>
<rect x="0.61" y="53.71" width="3.99" height="3.99" fill="#ff9900"/>
<rect x="3.77" y="59.29" width="3.88" height="3.88" fill="#ffff00"/>
<rect x="3.77" y="-0.71" width="3.88" height="3.88" fill="#ffff00"/>
<rect x="-0.30" y="38.56" width="4.25" height="4.25" fill="#ff0000"/>
<rect x="59.70" y="38.56" width="4.25" height="4.25" fill="#ff0000"/>
<rect x="32.87" y="58.91" width="3.24" height="3.24" fill="#5010ff"/>
<rect x="32.87" y="-1.09" width="3.24" height="3.24" fill="#5010ff"/>
<rect x="46.18" y="29.25" width="4.23" height="4.23" fill="#ff0000"/>
<rect x="7.95" y="29.79" width="3.83" height="3.83" fill="#a0ff30"/>
<rect x="8.80" y="41.18" width="3.80" height="3.80" fill="#40ff80"/>
<rect x="1.24" y="27.28" width="3.78" height="3.78" fill="#2040ff"/>
<rect x="31.77" y="4.32" width="4.37" height="4.37" fill="#ffff00"/>
<rect x="41.05" y="56.11" width="3.60" height="3.60" fill="#ff30a0"/>
<rect x="55.20" y="50.90" width="4.34" height="4.34" fill="#ff30a0"/>
<rect x="27.74" y="34.12" width="3.22" height="3.22" fill="#5010ff"/>
<rect x="35.27" y="55.73" width="3.94" height="3.94" fill="#ff0000"/>
<rect x="57.41" y="-1.79" width="3.82" height="3.82" fill="#ff9900"/>
<rect x="57.41" y="58.21" width="3.82" height="3.82" fill="#ff9900"/>
<rect x="-2.59" y="-1.79" width="3.82" height="3.82" fill="#ff9900"/>
<rect x="-2.59" y="58.21" width="3.82" height="3.82" fill="#ff9900"/>
<rect x="57.25" y="-2.70" width="4.24" height="4.24" fill="#ff0000"/>
<rect x="57.25" y="57.30" width="4.24" height="4.24" fill="#ff0000"/>
<rect x="-2.75" y="-2.70" width="4.24" height="4.24" fill="#ff0000"/>
<rect x="-2.75" y="57.30" width="4.24" height="4.24" fill="#ff0000"/>
<rect x="40.00" y="29.17" width="4.20" height="4.20" fill="#2040ff"/>
<rect x="47.68" y="-4.07" width="4.11" height="4.11" fill="#ff0000"/>
<rect x="47.68" y="55.93" width="4.11" height="4.11" fill="#ff0000"/>
<rect x="58.42" y="49.31" width="4.15" height="4.15" fill="#a0ff30"/>
<rect x="-1.58" y="49.31" width="4.15" height="4.15" fill="#a0ff30"/>
<rect x="18.45" y="-2.65" width="3.60" height="3.60" fill="#e000ff"/>
<rect x="18.45" y="57.35" width="3.60" height="3.60" fill="#e000ff"/>
<rect x="33.68" y="29.90" width="3.51" height="3.51" fill="#a0ff30"/>
<rect x="25.11" y="10.99" width="4.01" height="4.01" fill="#e000ff"/>
<rect x="6.10" y="12.66" width="3.41" height="3.41" fill="#40ffff"/>
<rect x="17.21" y="11.14" width="4.14" height="4.14" fill="#2040ff"/>
<rect x="29.69" y="12.68" width="3.51" height="3.51" fill="#e000ff"/>
<rect x="11.31" y="15.70" width="3.42" height="3.42" fill="#a0ff30"/>
<rect x="39.12" y="46.57" width="4.07" height="4.07" fill="#40ffff"/>
<rect x="45.03" y="12.18" width="3.29" height="3.29" fill="#ffff00"/>
<rect x="59.35" y="19.92" width="3.70" height="3.70" fill="#a0ff30"/>
<rect x="-0.65" y="19.92" width="3.70" height="3.70" fill="#a0ff30"/>
<rect x="59.39" y="20.60" width="4.29" height="4.29" fill="#ff9900"/>
<rect x="-0.61" y="20.60" width="4.29" height="4.29" fill="#ff9900"/>
<rect x="46.04" y="17.54" width="4.15" height="4.15" fill="#e000ff"/>
<rect x="14.62" y="34.11" width="3.66" height="3.66" fill="#5010ff"/>
<rect x="48.42" y="-2.89" width="3.77" height="3.77" fill="#40ffff"/>
<rect x="48.42" y="57.11" width="3.77" height="3.77" fill="#40ffff"/>
<rect x="0.49" y="54.56" width="3.66" height="3.66" fill="#ff9900"/>
<rect x="52.27" y="57.49" width="3.45" height="3.45" fill="#ff30a0"/>
<rect x="52.27" y="-2.51" width="3.45" height="3.45" fill="#ff30a0"/>
<rect x="55.59" y="5.41" width="3.61" height="3.61" fill="#5010ff"/>
<rect x="8.06" y="4.40" width="4.33" height="4.33" fill="#2040ff"/>
<rect x="42.42" y="56.74" width="4.26" height="4.26" fill="#40ffff"/>
<rect x="42.42" y="-3.26" width="4.26" height="4.26" fill="#40ffff"/>
<rect x="4.00" y="13.73" width="3.65" height="3.65" fill="#ff30a0"/>
<rect x="8.41" y="18.71" width="3.29" height="3.29" fill="#ff0000"/>
<rect x="8.05" y="4.24" width="3.57" height="3.57" fill="#40ffff"/>
<rect x="32.40" y="44.82" width="3.85" height="3.85" fill="#40ffff"/>
<rect x="0.91" y="10.01" width="4.34" height="4.34" fill="#ff0000"/>
<rect x="44.79" y="55.18" width="3.57" height="3.57" fill="#40ffff"/>
<rect x="17.55" y="32.64" width="3.39" height="3.39" fill="#ffff00"/>
<rect x="58.24" y="25.34" width="4.15" height="4.15" fill="#2040ff"/>
<rect x="-1.76" y="25.34" width="4.15" height="4.15" fill="#2040ff"/>
<rect x="25.65" y="8.04" width="4.22" height="4.22" fill="#ff30a0"/>
<rect x="-2.80" y="44.72" width="4.37" height="4.37" fill="#a0ff30"/>
<rect x="57.20" y="44.72" width="4.37" height="4.37" fill="#a0ff30"/>
<rect x="7.04" y="7.68" width="3.26" height="3.26" fill="#5010ff"/>
<rect x="-2.21" y="10.49" width="3.45" height="3.45" fill="#e000ff"/>
<rect x="57.79" y="10.49" width="3.45" height="3.45" fill="#e000ff"/>
<rect x="37.85" y="25.87" width="3.80" height="3.80" fill="#ff9900"/>
<rect x="16.02" y="-0.59" width="3.22" height="3.22" fill="#ffff00"/>
<rect x="16.02" y="59.41" width="3.22" height="3.22" fill="#ffff00"/>
<rect x="19.68" y="26.30" width="3.94" height="3.94" fill="#2040ff"/>
<rect x="19.09" y="52.62" width="3.58" height="3.58" fill="#2040ff"/>
<rect x="30.71" y="25.62" width="3.70" height="3.70" fill="#a0ff30"/>
<rect x="10.71" y="55.88" width="4.30" height="4.30" fill="#e000ff"/>
<rect x="10.71" y="-4.12" width="4.30" height="4.30" fill="#e000ff"/>
<rect x="6.19" y="28.44" width="4.26" height="4.26" fill="#ff30a0"/>
<rect x="7.32" y="42.42" width="3.55" height="3.55" fill="#ffff00"/>
<rect x="6.17" y="56.64" width="3.90" height="3.90" fill="#ffff00"/>
<rect x="6.17" y="-3.36" width="3.90" height="3.90" fill="#ffff00"/>
<rect x="40.20" y="18.66" width="3.32" height="3.32" fill="#2040ff"/>
<rect x="55.06" y="29.01" width="3.80" height="3.80" fill="#a0ff30"/>
<rect x="28.18" y="13.80" width="3.20" height="3.20" fill="#2040ff"/>
<rect x="25.61" y="1.79" width="3.96" height="3.96" fill="#40ffff"/>
<rect x="37.12" y="58.09" width="3.78" height="3.78" fill="#ffff00"/>
<rect x="37.12" y="-1.91" width="3.78" height="3.78" fill="#ffff00"/>
<rect x="1.66" y="47.25" width="3.73" height="3.73" fill="#ffff00"/>
<rect x="47.03" y="12.15" width="4.19" height="4.19" fill="#ff30a0"/>
<rect x="23.39" y="31.62" width="3.80" height="3.80" fill="#ff30a0"/>
<rect x="26.97" y="14.75" width="3.79" height="3.79" fill="#e000ff"/>
<rect x="18.05" y="8.73" width="3.80" height="3.80" fill="#ffff00"/>
<rect x="47.38" y="58.63" width="4.20" height="4.20" fill="#ff30a0"/>
<rect x="47.38" y="-1.37" width="4.20" height="4.20" fill="#ff30a0"/>
<rect x="47.03" y="41.54" width="4.02" height="4.02" fill="#e000ff"/>
<rect x="7.15" y="48.11" width="4.16" height="4.16" fill="#ffff00"/>
<rect x="54.89" y="-2.04" width="3.49" height="3.49" fill="#40ffff"/>
<rect x="54.89" y="57.96" width="3.49" height="3.49" fill="#40ffff"/>
<rect x="46.75" y="35.22" width="3.61" height="3.61" fill="#ff30a0"/>
<rect x="37.12" y="-0.17" width="4.32" height="4.32" fill="#2040ff"/>
<rect x="37.12" y="59.83" width="4.32" height="4.32" fill="#2040ff"/>
<rect x="58.87" y="51.85" width="3.33" height="3.33" fill="#ffff00"/>
<rect x="-1.13" y="51.85" width="3.33" height="3.33" fill="#ffff00"/>
<rect x="40.61" y="44.66" width="3.42" height="3.42" fill="#ff30a0"/>
<rect x="4.06" y="42.52" width="3.95" height="3.95" fill="#ff0000"/>
<rect x="45.14" y="46.21" width="4.24" height="4.24" fill="#e000ff"/>
<rect x="56.39" y="36.95" width="3.88" height="3.88" fill="#40ffff"/>
<rect x="-3.61" y="36.95" width="3.88" height="3.88" fill="#40ffff"/>
<rect x="18.84" y="-2.20" width="3.66" height="3.66" fill="#ff9900"/>
<rect x="18.84" y="57.80" width="3.66" height="3.66" fill="#ff9900"/>
<rect x="10.52" y="37.78" width="4.15" height="4.15" fill="#e000ff"/>
<rect x="29.00" y="16.20" width="4.03" height="4.03" fill="#ffff00"/>
<rect x="37.66" y="40.10" width="3.42" height="3.42" fill="#ff30a0"/>
<rect x="55.36" y="54.37" width="3.60" height="3.60" fill="#ffff00"/>
<rect x="35.51" y="57.59" width="4.34" height="4.34" fill="#e000ff"/>
<rect x="35.51" y="-2.41" width="4.34" height="4.34" fill="#e000ff"/>
<rect x="14.16" y="29.63" width="3.60" height="3.60" fill="#40ffff"/>
<rect x="51.30" y="30.62" width="3.24" height="3.24" fill="#40ffff"/>
<rect x="11.92" y="8.68" width="4.09" height="4.09" fill="#2040ff"/>
<rect x="17.30" y="0.95" width="3.49" height="3.49" fill="#ff0000"/>
<rect x="29.90" y="56.75" width="3.63" height="3.63" fill="#2040ff"/>
<rect x="29.90" y="-3.25" width="3.63" height="3.63" fill="#2040ff"/>
<rect x="22.21" y="11.30" width="3.70" height="3.70" fill="#40ffff"/>
<rect x="3.50" y="23.51" width="4.35" height="4.35" fill="#5010ff"/>
<rect x="31.47" y="36.99" width="4.11" height="4.11" fill="#ff30a0"/>
<rect x="11.86" y="30.51" width="4.28" height="4.28" fill="#ff30a0"/>
<rect x="8.25" y="45.07" width="3.83" height="3.83" fill="#ff0000"/>
<rect x="31.56" y="13.90" width="3.38" height="3.38" fill="#5010ff"/>
<rect x="16.39" y="45.07" width="4.07" height="4.07" fill="#2040ff"/>
<rect x="25.20" y="23.65" width="4.05" height="4.05" fill="#ff9900"/>
<rect x="57.11" y="52.89" width="3.77" height="3.77" fill="#ff0000"/>
<rect x="-2.89" y="52.89" width="3.77" height="3.77" fill="#ff0000"/>
<rect x="13.77" y="40.66" width="3.29" height="3.29" fill="#40ff80"/>
<rect x="23.61" y="32.96" width="3.35" height="3.35" fill="#5010ff"/>
<rect x="37.69" y="39.71" width="3.68" height="3.68" fill="#2040ff"/>
<rect x="41.69" y="4.88" width="3.26" height="3.26" fill="#ff0000"/>
<rect x="-2.70" y="0.88" width="3.77" height="3.77" fill="#a0ff30"/>
<rect x="57.30" y="0.88" width="3.77" height="3.77" fill="#a0ff30"/>
<rect x="2.97" y="57.05" width="3.76" height="3.76" fill="#e000ff"/>
<rect x="2.97" y="-2.95" width="3.76" height="3.76" fill="#e000ff"/>
<rect x="33.71" y="16.35" width="3.78" height="3.78" fill="#ff30a0"/>
<rect x="15.92" y="10.65" width="3.34" height="3.34" fill="#e000ff"/>
<rect x="22.38" y="21.64" width="3.81" height="3.81" fill="#e000ff"/>
<rect x="46.75" y="41.46" width="3.51" height="3.51" fill="#40ff80"/>
<rect x="24.16" y="25.19" width="3.64" height="3.64" fill="#ffff00"/>
<rect x="22.34" y="15.47" width="3.95" height="3.95" fill="#e000ff"/>
<rect x="26.44" y="52.32" width="3.75" height="3.75" fill="#40ffff"/>
<rect x="53.51" y="58.50" width="3.65" height="3.65" fill="#e000ff"/>
<rect x="53.51" y="-1.50" width="3.65" height="3.65" fill="#e000ff"/>
<rect x="39.06" y="43.50" width="3.68" height="3.68" fill="#ffff00"/>
<rect x="56.78" y="37.95" width="4.07" height="4.07" fill="#2040ff"/>
<rect x="-3.22" y="37.95" width="4.07" height="4.07" fill="#2040ff"/>
<rect x="37.91" y="10.68" width="3.72" height="3.72" fill="#e000ff"/>
<rect x="58.72" y="17.97" width="3.85" height="3.85" fill="#5010ff"/>
<rect x="-1.28" y="17.97" width="3.85" height="3.85" fill="#5010ff"/>
<rect x="23.09" y="45.23" width="3.22" height="3.22" fill="#ffff00"/>
<rect x="10.19" y="21.53" width="3.94" height="3.94" fill="#ff30a0"/>
<rect x="54.47" y="0.36" width="3.44" height="3.44" fill="#2040ff"/>
<rect x="49.56" y="20.93" width="4.19" height="4.19" fill="#2040ff"/>
<rect x="44.74" y="43.77" width="4.05" height="4.05" fill="#2040ff"/>
</pattern><filter id="bl" x="-5%" y="-5%" width="110%" height="110%"><feGaussianBlur stdDeviation="0.3"/></filter><filter id="bl2" x="-5%" y="-5%" width="110%" height="110%"><feGaussianBlur stdDeviation="0.22"/></filter></defs>
<g filter="url(#bl)">
<path fill="#dd0000" d="M34.50 56.00h1.50v1.50h-1.50zM36.00 51.50h1.50v1.50h-1.50zM36.00 53.00h1.50v1.50h-1.50zM36.00 54.50h1.50v1.50h-1.50zM36.00 56.00h1.50v1.50h-1.50zM36.00 57.50h1.50v1.50h-1.50zM37.50 50.00h1.50v1.50h-1.50zM37.50 51.50h1.50v1.50h-1.50zM37.50 53.00h1.50v1.50h-1.50zM37.50 54.50h1.50v1.50h-1.50zM37.50 56.00h1.50v1.50h-1.50zM37.50 57.50h1.50v1.50h-1.50zM39.00 48.50h1.50v1.50h-1.50zM39.00 50.00h1.50v1.50h-1.50zM39.00 51.50h1.50v1.50h-1.50zM39.00 53.00h1.50v1.50h-1.50zM39.00 54.50h1.50v1.50h-1.50zM39.00 56.00h1.50v1.50h-1.50zM39.00 57.50h1.50v1.50h-1.50zM40.50 47.00h1.50v1.50h-1.50zM40.50 48.50h1.50v1.50h-1.50zM40.50 50.00h1.50v1.50h-1.50zM40.50 51.50h1.50v1.50h-1.50zM40.50 53.00h1.50v1.50h-1.50zM40.50 54.50h1.50v1.50h-1.50zM40.50 56.00h1.50v1.50h-1.50zM40.50 57.50h1.50v1.50h-1.50zM42.00 45.50h1.50v1.50h-1.50zM42.00 47.00h1.50v1.50h-1.50zM42.00 48.50h1.50v1.50h-1.50zM42.00 50.00h1.50v1.50h-1.50zM42.00 51.50h1.50v1.50h-1.50zM42.00 53.00h1.50v1.50h-1.50zM42.00 54.50h1.50v1.50h-1.50zM42.00 56.00h1.50v1.50h-1.50zM43.50 45.50h1.50v1.50h-1.50zM43.50 47.00h1.50v1.50h-1.50zM43.50 48.50h1.50v1.50h-1.50zM43.50 50.00h1.50v1.50h-1.50zM43.50 51.50h1.50v1.50h-1.50zM43.50 53.00h1.50v1.50h-1.50zM43.50 54.50h1.50v1.50h-1.50zM45.00 45.50h1.50v1.50h-1.50zM45.00 47.00h1.50v1.50h-1.50zM45.00 48.50h1.50v1.50h-1.50zM45.00 50.00h1.50v1.50h-1.50zM45.00 51.50h1.50v1.50h-1.50zM45.00 53.00h1.50v1.50h-1.50zM46.50 45.50h1.50v1.50h-1.50zM46.50 47.00h1.50v1.50h-1.50zM46.50 48.50h1.50v1.50h-1.50zM46.50 50.00h1.50v1.50h-1.50z"/>
<path fill="#dd0000" d="M49.50 51.50h1.50v1.50h-1.50zM49.50 53.00h1.50v1.50h-1.50zM49.50 54.50h1.50v1.50h-1.50zM51.00 51.50h1.50v1.50h-1.50zM51.00 53.00h1.50v1.50h-1.50zM51.00 54.50h1.50v1.50h-1.50zM52.50 51.50h1.50v1.50h-1.50zM52.50 53.00h1.50v1.50h-1.50zM52.50 54.50h1.50v1.50h-1.50zM54.00 51.50h1.50v1.50h-1.50zM54.00 53.00h1.50v1.50h-1.50z"/>
<path fill="#000" d="M60.00 45.50h1.50v1.50h-1.50zM60.00 47.00h1.50v1.50h-1.50zM60.00 48.50h1.50v1.50h-1.50zM60.00 50.00h1.50v1.50h-1.50zM60.00 51.50h1.50v1.50h-1.50zM60.00 53.00h1.50v1.50h-1.50zM60.00 54.50h1.50v1.50h-1.50zM60.00 56.00h1.50v1.50h-1.50zM61.50 42.50h1.50v1.50h-1.50zM61.50 44.00h1.50v1.50h-1.50zM61.50 45.50h1.50v1.50h-1.50zM61.50 47.00h1.50v1.50h-1.50zM61.50 48.50h1.50v1.50h-1.50zM61.50 50.00h1.50v1.50h-1.50zM61.50 51.50h1.50v1.50h-1.50zM61.50 53.00h1.50v1.50h-1.50zM61.50 54.50h1.50v1.50h-1.50zM61.50 56.00h1.50v1.50h-1.50zM61.50 57.50h1.50v1.50h-1.50zM63.00 42.50h1.50v1.50h-1.50zM63.00 44.00h1.50v1.50h-1.50zM63.00 45.50h1.50v1.50h-1.50zM63.00 47.00h1.50v1.50h-1.50zM63.00 48.50h1.50v1.50h-1.50zM63.00 50.00h1.50v1.50h-1.50zM63.00 51.50h1.50v1.50h-1.50zM63.00 53.00h1.50v1.50h-1.50zM63.00 54.50h1.50v1.50h-1.50zM63.00 56.00h1.50v1.50h-1.50zM63.00 57.50h1.50v1.50h-1.50zM63.00 59.00h1.50v1.50h-1.50zM64.50 42.50h1.50v1.50h-1.50zM64.50 44.00h1.50v1.50h-1.50zM64.50 45.50h1.50v1.50h-1.50zM64.50 47.00h1.50v1.50h-1.50zM64.50 48.50h1.50v1.50h-1.50zM64.50 50.00h1.50v1.50h-1.50zM64.50 51.50h1.50v1.50h-1.50zM64.50 53.00h1.50v1.50h-1.50zM64.50 54.50h1.50v1.50h-1.50zM64.50 56.00h1.50v1.50h-1.50zM64.50 57.50h1.50v1.50h-1.50zM64.50 59.00h1.50v1.50h-1.50zM64.50 60.50h1.50v1.50h-1.50zM66.00 42.50h1.50v1.50h-1.50zM66.00 44.00h1.50v1.50h-1.50zM66.00 45.50h1.50v1.50h-1.50zM66.00 47.00h1.50v1.50h-1.50zM66.00 48.50h1.50v1.50h-1.50zM66.00 50.00h1.50v1.50h-1.50zM66.00 51.50h1.50v1.50h-1.50zM66.00 53.00h1.50v1.50h-1.50zM66.00 54.50h1.50v1.50h-1.50zM66.00 56.00h1.50v1.50h-1.50zM66.00 57.50h1.50v1.50h-1.50zM66.00 59.00h1.50v1.50h-1.50zM66.00 60.50h1.50v1.50h-1.50zM67.50 44.00h1.50v1.50h-1.50zM67.50 45.50h1.50v1.50h-1.50zM67.50 47.00h1.50v1.50h-1.50zM67.50 48.50h1.50v1.50h-1.50zM67.50 50.00h1.50v1.50h-1.50zM67.50 51.50h1.50v1.50h-1.50zM67.50 53.00h1.50v1.50h-1.50zM67.50 54.50h1.50v1.50h-1.50zM67.50 56.00h1.50v1.50h-1.50zM67.50 57.50h1.50v1.50h-1.50zM67.50 59.00h1.50v1.50h-1.50zM67.50 60.50h1.50v1.50h-1.50zM69.00 44.00h1.50v1.50h-1.50zM69.00 45.50h1.50v1.50h-1.50zM69.00 47.00h1.50v1.50h-1.50zM69.00 48.50h1.50v1.50h-1.50zM69.00 50.00h1.50v1.50h-1.50zM69.00 51.50h1.50v1.50h-1.50zM69.00 53.00h1.50v1.50h-1.50zM69.00 54.50h1.50v1.50h-1.50zM69.00 56.00h1.50v1.50h-1.50zM69.00 57.50h1.50v1.50h-1.50zM69.00 59.00h1.50v1.50h-1.50zM69.00 60.50h1.50v1.50h-1.50zM70.50 44.00h1.50v1.50h-1.50zM70.50 45.50h1.50v1.50h-1.50zM70.50 47.00h1.50v1.50h-1.50zM70.50 48.50h1.50v1.50h-1.50zM70.50 50.00h1.50v1.50h-1.50zM70.50 51.50h1.50v1.50h-1.50zM70.50 53.00h1.50v1.50h-1.50zM70.50 54.50h1.50v1.50h-1.50zM70.50 56.00h1.50v1.50h-1.50zM70.50 57.50h1.50v1.50h-1.50zM70.50 59.00h1.50v1.50h-1.50zM70.50 60.50h1.50v1.50h-1.50zM72.00 45.50h1.50v1.50h-1.50zM72.00 47.00h1.50v1.50h-1.50zM72.00 48.50h1.50v1.50h-1.50zM72.00 50.00h1.50v1.50h-1.50zM72.00 51.50h1.50v1.50h-1.50zM72.00 53.00h1.50v1.50h-1.50zM72.00 54.50h1.50v1.50h-1.50zM72.00 56.00h1.50v1.50h-1.50zM72.00 57.50h1.50v1.50h-1.50zM72.00 59.00h1.50v1.50h-1.50zM73.50 45.50h1.50v1.50h-1.50zM73.50 47.00h1.50v1.50h-1.50zM73.50 48.50h1.50v1.50h-1.50zM73.50 50.00h1.50v1.50h-1.50zM73.50 51.50h1.50v1.50h-1.50zM73.50 53.00h1.50v1.50h-1.50zM73.50 54.50h1.50v1.50h-1.50zM73.50 56.00h1.50v1.50h-1.50zM73.50 57.50h1.50v1.50h-1.50zM73.50 59.00h1.50v1.50h-1.50zM75.00 48.50h1.50v1.50h-1.50zM75.00 50.00h1.50v1.50h-1.50zM75.00 51.50h1.50v1.50h-1.50zM75.00 53.00h1.50v1.50h-1.50zM75.00 54.50h1.50v1.50h-1.50zM75.00 56.00h1.50v1.50h-1.50zM75.00 57.50h1.50v1.50h-1.50zM76.50 51.50h1.50v1.50h-1.50zM76.50 53.00h1.50v1.50h-1.50zM76.50 54.50h1.50v1.50h-1.50zM76.50 56.00h1.50v1.50h-1.50z"/>
<path fill="#000" d="M36.00 74.00h1.50v1.50h-1.50zM36.00 75.50h1.50v1.50h-1.50zM36.00 77.00h1.50v1.50h-1.50zM36.00 78.50h1.50v1.50h-1.50zM36.00 80.00h1.50v1.50h-1.50zM37.50 72.50h1.50v1.50h-1.50zM37.50 74.00h1.50v1.50h-1.50zM37.50 75.50h1.50v1.50h-1.50zM37.50 77.00h1.50v1.50h-1.50zM37.50 78.50h1.50v1.50h-1.50zM37.50 80.00h1.50v1.50h-1.50zM37.50 81.50h1.50v1.50h-1.50zM39.00 72.50h1.50v1.50h-1.50zM39.00 74.00h1.50v1.50h-1.50zM39.00 75.50h1.50v1.50h-1.50zM39.00 77.00h1.50v1.50h-1.50zM39.00 78.50h1.50v1.50h-1.50zM39.00 80.00h1.50v1.50h-1.50zM39.00 81.50h1.50v1.50h-1.50zM39.00 83.00h1.50v1.50h-1.50zM40.50 72.50h1.50v1.50h-1.50zM40.50 74.00h1.50v1.50h-1.50zM40.50 75.50h1.50v1.50h-1.50zM40.50 77.00h1.50v1.50h-1.50zM40.50 78.50h1.50v1.50h-1.50zM40.50 80.00h1.50v1.50h-1.50zM40.50 81.50h1.50v1.50h-1.50zM40.50 83.00h1.50v1.50h-1.50zM40.50 84.50h1.50v1.50h-1.50zM40.50 86.00h1.50v1.50h-1.50zM40.50 87.50h1.50v1.50h-1.50zM42.00 72.50h1.50v1.50h-1.50zM42.00 74.00h1.50v1.50h-1.50zM42.00 75.50h1.50v1.50h-1.50zM42.00 77.00h1.50v1.50h-1.50zM42.00 78.50h1.50v1.50h-1.50zM42.00 80.00h1.50v1.50h-1.50zM42.00 81.50h1.50v1.50h-1.50zM42.00 83.00h1.50v1.50h-1.50zM42.00 84.50h1.50v1.50h-1.50zM42.00 86.00h1.50v1.50h-1.50zM42.00 87.50h1.50v1.50h-1.50zM42.00 89.00h1.50v1.50h-1.50zM43.50 72.50h1.50v1.50h-1.50zM43.50 74.00h1.50v1.50h-1.50zM43.50 75.50h1.50v1.50h-1.50zM43.50 77.00h1.50v1.50h-1.50zM43.50 78.50h1.50v1.50h-1.50zM43.50 80.00h1.50v1.50h-1.50zM43.50 81.50h1.50v1.50h-1.50zM43.50 83.00h1.50v1.50h-1.50zM43.50 84.50h1.50v1.50h-1.50zM43.50 86.00h1.50v1.50h-1.50zM43.50 87.50h1.50v1.50h-1.50zM43.50 89.00h1.50v1.50h-1.50zM43.50 90.50h1.50v1.50h-1.50zM45.00 72.50h1.50v1.50h-1.50zM45.00 74.00h1.50v1.50h-1.50zM45.00 75.50h1.50v1.50h-1.50zM45.00 77.00h1.50v1.50h-1.50zM45.00 78.50h1.50v1.50h-1.50zM45.00 80.00h1.50v1.50h-1.50zM45.00 81.50h1.50v1.50h-1.50zM45.00 83.00h1.50v1.50h-1.50zM45.00 84.50h1.50v1.50h-1.50zM45.00 86.00h1.50v1.50h-1.50zM45.00 87.50h1.50v1.50h-1.50zM45.00 89.00h1.50v1.50h-1.50zM45.00 90.50h1.50v1.50h-1.50zM46.50 72.50h1.50v1.50h-1.50zM46.50 74.00h1.50v1.50h-1.50zM46.50 75.50h1.50v1.50h-1.50zM46.50 77.00h1.50v1.50h-1.50zM46.50 78.50h1.50v1.50h-1.50zM46.50 80.00h1.50v1.50h-1.50zM46.50 81.50h1.50v1.50h-1.50zM46.50 83.00h1.50v1.50h-1.50zM46.50 84.50h1.50v1.50h-1.50zM46.50 86.00h1.50v1.50h-1.50zM46.50 87.50h1.50v1.50h-1.50zM46.50 89.00h1.50v1.50h-1.50zM46.50 90.50h1.50v1.50h-1.50zM48.00 74.00h1.50v1.50h-1.50zM48.00 75.50h1.50v1.50h-1.50zM48.00 77.00h1.50v1.50h-1.50zM48.00 78.50h1.50v1.50h-1.50zM48.00 80.00h1.50v1.50h-1.50zM48.00 81.50h1.50v1.50h-1.50zM48.00 83.00h1.50v1.50h-1.50zM48.00 84.50h1.50v1.50h-1.50zM48.00 86.00h1.50v1.50h-1.50zM48.00 87.50h1.50v1.50h-1.50zM48.00 89.00h1.50v1.50h-1.50zM48.00 90.50h1.50v1.50h-1.50zM49.50 74.00h1.50v1.50h-1.50zM49.50 75.50h1.50v1.50h-1.50zM49.50 77.00h1.50v1.50h-1.50zM49.50 78.50h1.50v1.50h-1.50zM49.50 80.00h1.50v1.50h-1.50zM49.50 81.50h1.50v1.50h-1.50zM49.50 83.00h1.50v1.50h-1.50zM49.50 84.50h1.50v1.50h-1.50zM49.50 86.00h1.50v1.50h-1.50zM49.50 87.50h1.50v1.50h-1.50zM49.50 89.00h1.50v1.50h-1.50zM49.50 90.50h1.50v1.50h-1.50zM51.00 78.50h1.50v1.50h-1.50zM51.00 80.00h1.50v1.50h-1.50zM51.00 81.50h1.50v1.50h-1.50zM51.00 83.00h1.50v1.50h-1.50zM51.00 84.50h1.50v1.50h-1.50zM51.00 86.00h1.50v1.50h-1.50zM51.00 87.50h1.50v1.50h-1.50zM51.00 89.00h1.50v1.50h-1.50zM51.00 90.50h1.50v1.50h-1.50zM52.50 81.50h1.50v1.50h-1.50zM52.50 83.00h1.50v1.50h-1.50zM52.50 84.50h1.50v1.50h-1.50zM52.50 86.00h1.50v1.50h-1.50zM52.50 87.50h1.50v1.50h-1.50zM52.50 89.00h1.50v1.50h-1.50z"/>
<path fill="#000" d="M82.50 54.50h1.50v1.50h-1.50zM82.50 56.00h1.50v1.50h-1.50zM84.00 48.50h1.50v1.50h-1.50zM84.00 50.00h1.50v1.50h-1.50zM84.00 51.50h1.50v1.50h-1.50zM84.00 53.00h1.50v1.50h-1.50zM84.00 54.50h1.50v1.50h-1.50zM84.00 56.00h1.50v1.50h-1.50zM84.00 57.50h1.50v1.50h-1.50zM84.00 59.00h1.50v1.50h-1.50zM85.50 41.00h1.50v1.50h-1.50zM85.50 42.50h1.50v1.50h-1.50zM85.50 44.00h1.50v1.50h-1.50zM85.50 45.50h1.50v1.50h-1.50zM85.50 47.00h1.50v1.50h-1.50zM85.50 48.50h1.50v1.50h-1.50zM85.50 50.00h1.50v1.50h-1.50zM85.50 51.50h1.50v1.50h-1.50zM85.50 53.00h1.50v1.50h-1.50zM85.50 54.50h1.50v1.50h-1.50zM85.50 56.00h1.50v1.50h-1.50zM85.50 57.50h1.50v1.50h-1.50zM85.50 59.00h1.50v1.50h-1.50zM85.50 60.50h1.50v1.50h-1.50zM87.00 39.50h1.50v1.50h-1.50zM87.00 41.00h1.50v1.50h-1.50zM87.00 42.50h1.50v1.50h-1.50zM87.00 44.00h1.50v1.50h-1.50zM87.00 45.50h1.50v1.50h-1.50zM87.00 47.00h1.50v1.50h-1.50zM87.00 48.50h1.50v1.50h-1.50zM87.00 50.00h1.50v1.50h-1.50zM87.00 51.50h1.50v1.50h-1.50zM87.00 53.00h1.50v1.50h-1.50zM87.00 54.50h1.50v1.50h-1.50zM87.00 56.00h1.50v1.50h-1.50zM87.00 57.50h1.50v1.50h-1.50zM87.00 59.00h1.50v1.50h-1.50zM87.00 60.50h1.50v1.50h-1.50zM88.50 38.00h1.50v1.50h-1.50zM88.50 39.50h1.50v1.50h-1.50zM88.50 41.00h1.50v1.50h-1.50zM88.50 42.50h1.50v1.50h-1.50zM88.50 44.00h1.50v1.50h-1.50zM88.50 45.50h1.50v1.50h-1.50zM88.50 47.00h1.50v1.50h-1.50zM88.50 48.50h1.50v1.50h-1.50zM88.50 50.00h1.50v1.50h-1.50zM88.50 51.50h1.50v1.50h-1.50zM88.50 53.00h1.50v1.50h-1.50zM88.50 54.50h1.50v1.50h-1.50zM88.50 56.00h1.50v1.50h-1.50zM88.50 57.50h1.50v1.50h-1.50zM88.50 59.00h1.50v1.50h-1.50zM88.50 60.50h1.50v1.50h-1.50zM88.50 62.00h1.50v1.50h-1.50zM90.00 38.00h1.50v1.50h-1.50zM90.00 39.50h1.50v1.50h-1.50zM90.00 41.00h1.50v1.50h-1.50zM90.00 42.50h1.50v1.50h-1.50zM90.00 44.00h1.50v1.50h-1.50zM90.00 45.50h1.50v1.50h-1.50zM90.00 47.00h1.50v1.50h-1.50zM90.00 48.50h1.50v1.50h-1.50zM90.00 50.00h1.50v1.50h-1.50zM90.00 51.50h1.50v1.50h-1.50zM90.00 53.00h1.50v1.50h-1.50zM90.00 54.50h1.50v1.50h-1.50zM90.00 56.00h1.50v1.50h-1.50zM90.00 57.50h1.50v1.50h-1.50zM90.00 59.00h1.50v1.50h-1.50zM90.00 60.50h1.50v1.50h-1.50zM90.00 62.00h1.50v1.50h-1.50zM91.50 38.00h1.50v1.50h-1.50zM91.50 39.50h1.50v1.50h-1.50zM91.50 41.00h1.50v1.50h-1.50zM91.50 42.50h1.50v1.50h-1.50zM91.50 44.00h1.50v1.50h-1.50zM91.50 45.50h1.50v1.50h-1.50zM91.50 47.00h1.50v1.50h-1.50zM91.50 48.50h1.50v1.50h-1.50zM91.50 50.00h1.50v1.50h-1.50zM91.50 51.50h1.50v1.50h-1.50zM91.50 53.00h1.50v1.50h-1.50zM91.50 54.50h1.50v1.50h-1.50zM91.50 56.00h1.50v1.50h-1.50zM91.50 57.50h1.50v1.50h-1.50zM91.50 59.00h1.50v1.50h-1.50zM91.50 60.50h1.50v1.50h-1.50zM93.00 38.00h1.50v1.50h-1.50zM93.00 39.50h1.50v1.50h-1.50zM93.00 41.00h1.50v1.50h-1.50zM93.00 42.50h1.50v1.50h-1.50zM93.00 44.00h1.50v1.50h-1.50zM93.00 45.50h1.50v1.50h-1.50zM93.00 47.00h1.50v1.50h-1.50zM93.00 48.50h1.50v1.50h-1.50zM93.00 50.00h1.50v1.50h-1.50zM93.00 54.50h1.50v1.50h-1.50zM93.00 56.00h1.50v1.50h-1.50zM93.00 57.50h1.50v1.50h-1.50zM93.00 59.00h1.50v1.50h-1.50zM93.00 60.50h1.50v1.50h-1.50zM94.50 38.00h1.50v1.50h-1.50zM94.50 39.50h1.50v1.50h-1.50zM94.50 41.00h1.50v1.50h-1.50zM94.50 42.50h1.50v1.50h-1.50zM94.50 44.00h1.50v1.50h-1.50zM94.50 45.50h1.50v1.50h-1.50zM94.50 47.00h1.50v1.50h-1.50zM94.50 48.50h1.50v1.50h-1.50zM96.00 39.50h1.50v1.50h-1.50zM96.00 41.00h1.50v1.50h-1.50zM96.00 42.50h1.50v1.50h-1.50zM96.00 44.00h1.50v1.50h-1.50zM96.00 45.50h1.50v1.50h-1.50zM96.00 47.00h1.50v1.50h-1.50zM96.00 48.50h1.50v1.50h-1.50zM97.50 41.00h1.50v1.50h-1.50zM97.50 42.50h1.50v1.50h-1.50zM97.50 44.00h1.50v1.50h-1.50zM97.50 45.50h1.50v1.50h-1.50zM97.50 47.00h1.50v1.50h-1.50z"/>
<path fill="#dd0000" d="M112.50 47.00h1.50v1.50h-1.50zM112.50 48.50h1.50v1.50h-1.50zM112.50 50.00h1.50v1.50h-1.50zM114.00 47.00h1.50v1.50h-1.50zM114.00 48.50h1.50v1.50h-1.50zM114.00 50.00h1.50v1.50h-1.50zM114.00 51.50h1.50v1.50h-1.50zM115.50 47.00h1.50v1.50h-1.50zM115.50 48.50h1.50v1.50h-1.50zM115.50 50.00h1.50v1.50h-1.50zM115.50 51.50h1.50v1.50h-1.50zM117.00 47.00h1.50v1.50h-1.50zM117.00 48.50h1.50v1.50h-1.50zM117.00 50.00h1.50v1.50h-1.50z"/>
<path fill="#dd0000" d="M115.50 54.50h1.50v1.50h-1.50zM115.50 56.00h1.50v1.50h-1.50zM117.00 53.00h1.50v1.50h-1.50zM117.00 54.50h1.50v1.50h-1.50zM117.00 56.00h1.50v1.50h-1.50zM117.00 57.50h1.50v1.50h-1.50zM117.00 59.00h1.50v1.50h-1.50zM118.50 51.50h1.50v1.50h-1.50zM118.50 53.00h1.50v1.50h-1.50zM118.50 54.50h1.50v1.50h-1.50zM118.50 56.00h1.50v1.50h-1.50zM118.50 57.50h1.50v1.50h-1.50zM118.50 59.00h1.50v1.50h-1.50zM120.00 51.50h1.50v1.50h-1.50zM120.00 53.00h1.50v1.50h-1.50zM120.00 54.50h1.50v1.50h-1.50zM120.00 56.00h1.50v1.50h-1.50zM120.00 57.50h1.50v1.50h-1.50zM120.00 59.00h1.50v1.50h-1.50zM121.50 51.50h1.50v1.50h-1.50zM121.50 53.00h1.50v1.50h-1.50zM121.50 54.50h1.50v1.50h-1.50zM121.50 56.00h1.50v1.50h-1.50zM121.50 57.50h1.50v1.50h-1.50zM121.50 59.00h1.50v1.50h-1.50zM123.00 51.50h1.50v1.50h-1.50zM123.00 53.00h1.50v1.50h-1.50zM123.00 54.50h1.50v1.50h-1.50zM123.00 56.00h1.50v1.50h-1.50zM123.00 57.50h1.50v1.50h-1.50zM124.50 53.00h1.50v1.50h-1.50zM124.50 54.50h1.50v1.50h-1.50zM124.50 56.00h1.50v1.50h-1.50z"/>
<path fill="#dd0000" d="M84.00 75.50h1.50v1.50h-1.50zM84.00 77.00h1.50v1.50h-1.50zM84.00 78.50h1.50v1.50h-1.50zM84.00 80.00h1.50v1.50h-1.50zM84.00 81.50h1.50v1.50h-1.50zM84.00 83.00h1.50v1.50h-1.50zM85.50 74.00h1.50v1.50h-1.50zM85.50 75.50h1.50v1.50h-1.50zM85.50 77.00h1.50v1.50h-1.50zM85.50 78.50h1.50v1.50h-1.50zM85.50 80.00h1.50v1.50h-1.50zM85.50 81.50h1.50v1.50h-1.50zM85.50 83.00h1.50v1.50h-1.50zM85.50 84.50h1.50v1.50h-1.50zM85.50 86.00h1.50v1.50h-1.50zM87.00 74.00h1.50v1.50h-1.50zM87.00 75.50h1.50v1.50h-1.50zM87.00 77.00h1.50v1.50h-1.50zM87.00 78.50h1.50v1.50h-1.50zM87.00 80.00h1.50v1.50h-1.50zM87.00 81.50h1.50v1.50h-1.50zM87.00 83.00h1.50v1.50h-1.50zM87.00 84.50h1.50v1.50h-1.50zM87.00 86.00h1.50v1.50h-1.50zM88.50 74.00h1.50v1.50h-1.50zM88.50 75.50h1.50v1.50h-1.50zM88.50 77.00h1.50v1.50h-1.50zM88.50 78.50h1.50v1.50h-1.50zM88.50 80.00h1.50v1.50h-1.50zM88.50 81.50h1.50v1.50h-1.50zM88.50 83.00h1.50v1.50h-1.50zM88.50 84.50h1.50v1.50h-1.50zM88.50 86.00h1.50v1.50h-1.50zM88.50 87.50h1.50v1.50h-1.50zM90.00 75.50h1.50v1.50h-1.50zM90.00 77.00h1.50v1.50h-1.50zM90.00 78.50h1.50v1.50h-1.50zM90.00 80.00h1.50v1.50h-1.50zM90.00 81.50h1.50v1.50h-1.50zM90.00 83.00h1.50v1.50h-1.50zM90.00 84.50h1.50v1.50h-1.50zM90.00 86.00h1.50v1.50h-1.50zM90.00 87.50h1.50v1.50h-1.50zM91.50 75.50h1.50v1.50h-1.50zM91.50 77.00h1.50v1.50h-1.50zM91.50 78.50h1.50v1.50h-1.50zM91.50 80.00h1.50v1.50h-1.50zM91.50 81.50h1.50v1.50h-1.50zM91.50 83.00h1.50v1.50h-1.50zM91.50 84.50h1.50v1.50h-1.50zM91.50 86.00h1.50v1.50h-1.50zM91.50 87.50h1.50v1.50h-1.50zM91.50 89.00h1.50v1.50h-1.50zM93.00 75.50h1.50v1.50h-1.50zM93.00 77.00h1.50v1.50h-1.50zM93.00 78.50h1.50v1.50h-1.50zM93.00 80.00h1.50v1.50h-1.50zM93.00 81.50h1.50v1.50h-1.50zM93.00 83.00h1.50v1.50h-1.50zM93.00 84.50h1.50v1.50h-1.50zM93.00 86.00h1.50v1.50h-1.50zM93.00 87.50h1.50v1.50h-1.50zM93.00 89.00h1.50v1.50h-1.50zM93.00 90.50h1.50v1.50h-1.50zM94.50 75.50h1.50v1.50h-1.50zM94.50 77.00h1.50v1.50h-1.50zM94.50 78.50h1.50v1.50h-1.50zM94.50 80.00h1.50v1.50h-1.50zM94.50 81.50h1.50v1.50h-1.50zM94.50 83.00h1.50v1.50h-1.50zM94.50 84.50h1.50v1.50h-1.50zM94.50 86.00h1.50v1.50h-1.50zM94.50 87.50h1.50v1.50h-1.50zM94.50 89.00h1.50v1.50h-1.50zM94.50 90.50h1.50v1.50h-1.50zM96.00 77.00h1.50v1.50h-1.50zM96.00 78.50h1.50v1.50h-1.50zM96.00 80.00h1.50v1.50h-1.50zM96.00 81.50h1.50v1.50h-1.50zM96.00 83.00h1.50v1.50h-1.50zM96.00 84.50h1.50v1.50h-1.50zM96.00 86.00h1.50v1.50h-1.50zM96.00 87.50h1.50v1.50h-1.50zM96.00 89.00h1.50v1.50h-1.50zM96.00 90.50h1.50v1.50h-1.50zM97.50 78.50h1.50v1.50h-1.50zM97.50 80.00h1.50v1.50h-1.50zM97.50 81.50h1.50v1.50h-1.50zM97.50 83.00h1.50v1.50h-1.50zM97.50 84.50h1.50v1.50h-1.50zM97.50 86.00h1.50v1.50h-1.50zM97.50 87.50h1.50v1.50h-1.50zM97.50 89.00h1.50v1.50h-1.50zM97.50 90.50h1.50v1.50h-1.50zM99.00 78.50h1.50v1.50h-1.50zM99.00 80.00h1.50v1.50h-1.50zM99.00 81.50h1.50v1.50h-1.50zM99.00 83.00h1.50v1.50h-1.50zM99.00 84.50h1.50v1.50h-1.50zM99.00 86.00h1.50v1.50h-1.50zM99.00 87.50h1.50v1.50h-1.50zM99.00 89.00h1.50v1.50h-1.50zM100.50 78.50h1.50v1.50h-1.50zM100.50 80.00h1.50v1.50h-1.50zM100.50 81.50h1.50v1.50h-1.50zM100.50 83.00h1.50v1.50h-1.50zM100.50 84.50h1.50v1.50h-1.50zM100.50 86.00h1.50v1.50h-1.50zM100.50 87.50h1.50v1.50h-1.50zM102.00 80.00h1.50v1.50h-1.50zM102.00 81.50h1.50v1.50h-1.50zM102.00 83.00h1.50v1.50h-1.50zM102.00 84.50h1.50v1.50h-1.50z"/>
<path fill="#000" d="M130.50 50.00h1.50v1.50h-1.50zM130.50 51.50h1.50v1.50h-1.50zM130.50 53.00h1.50v1.50h-1.50zM130.50 54.50h1.50v1.50h-1.50zM130.50 56.00h1.50v1.50h-1.50zM130.50 57.50h1.50v1.50h-1.50zM130.50 59.00h1.50v1.50h-1.50zM130.50 60.50h1.50v1.50h-1.50zM132.00 45.50h1.50v1.50h-1.50zM132.00 47.00h1.50v1.50h-1.50zM132.00 48.50h1.50v1.50h-1.50zM132.00 50.00h1.50v1.50h-1.50zM132.00 51.50h1.50v1.50h-1.50zM132.00 53.00h1.50v1.50h-1.50zM132.00 54.50h1.50v1.50h-1.50zM132.00 56.00h1.50v1.50h-1.50zM132.00 57.50h1.50v1.50h-1.50zM132.00 59.00h1.50v1.50h-1.50zM132.00 60.50h1.50v1.50h-1.50zM133.50 44.00h1.50v1.50h-1.50zM133.50 45.50h1.50v1.50h-1.50zM133.50 47.00h1.50v1.50h-1.50zM133.50 48.50h1.50v1.50h-1.50zM133.50 50.00h1.50v1.50h-1.50zM133.50 51.50h1.50v1.50h-1.50zM133.50 53.00h1.50v1.50h-1.50zM133.50 54.50h1.50v1.50h-1.50zM133.50 56.00h1.50v1.50h-1.50zM133.50 57.50h1.50v1.50h-1.50zM133.50 59.00h1.50v1.50h-1.50zM133.50 60.50h1.50v1.50h-1.50zM135.00 42.50h1.50v1.50h-1.50zM135.00 44.00h1.50v1.50h-1.50zM135.00 45.50h1.50v1.50h-1.50zM135.00 47.00h1.50v1.50h-1.50zM135.00 48.50h1.50v1.50h-1.50zM135.00 50.00h1.50v1.50h-1.50zM135.00 51.50h1.50v1.50h-1.50zM135.00 53.00h1.50v1.50h-1.50zM135.00 54.50h1.50v1.50h-1.50zM135.00 56.00h1.50v1.50h-1.50zM135.00 57.50h1.50v1.50h-1.50zM136.50 42.50h1.50v1.50h-1.50zM136.50 44.00h1.50v1.50h-1.50zM136.50 45.50h1.50v1.50h-1.50zM136.50 47.00h1.50v1.50h-1.50zM136.50 48.50h1.50v1.50h-1.50zM136.50 50.00h1.50v1.50h-1.50zM136.50 51.50h1.50v1.50h-1.50zM136.50 53.00h1.50v1.50h-1.50zM136.50 54.50h1.50v1.50h-1.50zM136.50 56.00h1.50v1.50h-1.50zM138.00 42.50h1.50v1.50h-1.50zM138.00 44.00h1.50v1.50h-1.50zM138.00 45.50h1.50v1.50h-1.50zM138.00 47.00h1.50v1.50h-1.50zM138.00 48.50h1.50v1.50h-1.50zM138.00 50.00h1.50v1.50h-1.50zM138.00 51.50h1.50v1.50h-1.50zM138.00 53.00h1.50v1.50h-1.50zM138.00 54.50h1.50v1.50h-1.50zM138.00 56.00h1.50v1.50h-1.50zM139.50 44.00h1.50v1.50h-1.50zM139.50 45.50h1.50v1.50h-1.50zM139.50 47.00h1.50v1.50h-1.50zM139.50 48.50h1.50v1.50h-1.50zM139.50 50.00h1.50v1.50h-1.50zM139.50 51.50h1.50v1.50h-1.50zM139.50 53.00h1.50v1.50h-1.50zM139.50 54.50h1.50v1.50h-1.50zM141.00 48.50h1.50v1.50h-1.50zM141.00 50.00h1.50v1.50h-1.50zM141.00 51.50h1.50v1.50h-1.50zM141.00 53.00h1.50v1.50h-1.50zM141.00 54.50h1.50v1.50h-1.50zM142.50 48.50h1.50v1.50h-1.50zM142.50 50.00h1.50v1.50h-1.50zM142.50 51.50h1.50v1.50h-1.50zM142.50 53.00h1.50v1.50h-1.50zM142.50 54.50h1.50v1.50h-1.50zM144.00 48.50h1.50v1.50h-1.50zM144.00 50.00h1.50v1.50h-1.50zM144.00 51.50h1.50v1.50h-1.50zM144.00 53.00h1.50v1.50h-1.50zM144.00 54.50h1.50v1.50h-1.50zM145.50 48.50h1.50v1.50h-1.50zM145.50 50.00h1.50v1.50h-1.50zM145.50 51.50h1.50v1.50h-1.50zM145.50 53.00h1.50v1.50h-1.50z"/>
<path fill="#000" d="M111.00 71.00h1.50v1.50h-1.50zM111.00 72.50h1.50v1.50h-1.50zM111.00 74.00h1.50v1.50h-1.50zM111.00 75.50h1.50v1.50h-1.50zM111.00 77.00h1.50v1.50h-1.50zM111.00 78.50h1.50v1.50h-1.50zM112.50 71.00h1.50v1.50h-1.50zM112.50 72.50h1.50v1.50h-1.50zM112.50 74.00h1.50v1.50h-1.50zM112.50 75.50h1.50v1.50h-1.50zM112.50 77.00h1.50v1.50h-1.50zM112.50 78.50h1.50v1.50h-1.50zM112.50 80.00h1.50v1.50h-1.50zM112.50 81.50h1.50v1.50h-1.50zM112.50 83.00h1.50v1.50h-1.50zM112.50 84.50h1.50v1.50h-1.50zM112.50 86.00h1.50v1.50h-1.50zM112.50 87.50h1.50v1.50h-1.50zM114.00 71.00h1.50v1.50h-1.50zM114.00 72.50h1.50v1.50h-1.50zM114.00 74.00h1.50v1.50h-1.50zM114.00 75.50h1.50v1.50h-1.50zM114.00 77.00h1.50v1.50h-1.50zM114.00 78.50h1.50v1.50h-1.50zM114.00 80.00h1.50v1.50h-1.50zM114.00 81.50h1.50v1.50h-1.50zM114.00 83.00h1.50v1.50h-1.50zM114.00 84.50h1.50v1.50h-1.50zM114.00 86.00h1.50v1.50h-1.50zM114.00 87.50h1.50v1.50h-1.50zM114.00 89.00h1.50v1.50h-1.50zM115.50 71.00h1.50v1.50h-1.50zM115.50 72.50h1.50v1.50h-1.50zM115.50 74.00h1.50v1.50h-1.50zM115.50 75.50h1.50v1.50h-1.50zM115.50 77.00h1.50v1.50h-1.50zM115.50 78.50h1.50v1.50h-1.50zM115.50 80.00h1.50v1.50h-1.50zM115.50 81.50h1.50v1.50h-1.50zM115.50 83.00h1.50v1.50h-1.50zM115.50 84.50h1.50v1.50h-1.50zM115.50 86.00h1.50v1.50h-1.50zM115.50 87.50h1.50v1.50h-1.50zM115.50 89.00h1.50v1.50h-1.50zM117.00 72.50h1.50v1.50h-1.50zM117.00 74.00h1.50v1.50h-1.50zM117.00 75.50h1.50v1.50h-1.50zM117.00 77.00h1.50v1.50h-1.50zM117.00 78.50h1.50v1.50h-1.50zM117.00 80.00h1.50v1.50h-1.50zM117.00 81.50h1.50v1.50h-1.50zM117.00 83.00h1.50v1.50h-1.50zM117.00 84.50h1.50v1.50h-1.50zM117.00 86.00h1.50v1.50h-1.50zM117.00 87.50h1.50v1.50h-1.50zM117.00 89.00h1.50v1.50h-1.50zM118.50 75.50h1.50v1.50h-1.50zM118.50 77.00h1.50v1.50h-1.50zM118.50 78.50h1.50v1.50h-1.50zM118.50 80.00h1.50v1.50h-1.50zM118.50 81.50h1.50v1.50h-1.50zM118.50 83.00h1.50v1.50h-1.50zM118.50 84.50h1.50v1.50h-1.50zM118.50 86.00h1.50v1.50h-1.50zM118.50 87.50h1.50v1.50h-1.50zM118.50 89.00h1.50v1.50h-1.50zM120.00 77.00h1.50v1.50h-1.50zM120.00 78.50h1.50v1.50h-1.50zM120.00 80.00h1.50v1.50h-1.50zM120.00 81.50h1.50v1.50h-1.50zM120.00 83.00h1.50v1.50h-1.50zM120.00 84.50h1.50v1.50h-1.50zM120.00 86.00h1.50v1.50h-1.50zM120.00 87.50h1.50v1.50h-1.50zM120.00 89.00h1.50v1.50h-1.50zM121.50 80.00h1.50v1.50h-1.50zM121.50 81.50h1.50v1.50h-1.50zM121.50 83.00h1.50v1.50h-1.50zM121.50 84.50h1.50v1.50h-1.50zM121.50 86.00h1.50v1.50h-1.50zM121.50 87.50h1.50v1.50h-1.50zM121.50 89.00h1.50v1.50h-1.50zM123.00 81.50h1.50v1.50h-1.50zM123.00 83.00h1.50v1.50h-1.50zM123.00 84.50h1.50v1.50h-1.50zM123.00 86.00h1.50v1.50h-1.50zM123.00 87.50h1.50v1.50h-1.50z"/>
<path fill="#000" d="M135.00 83.00h1.50v1.50h-1.50zM135.00 84.50h1.50v1.50h-1.50zM135.00 86.00h1.50v1.50h-1.50zM135.00 87.50h1.50v1.50h-1.50zM135.00 89.00h1.50v1.50h-1.50zM135.00 90.50h1.50v1.50h-1.50zM136.50 78.50h1.50v1.50h-1.50zM136.50 80.00h1.50v1.50h-1.50zM136.50 81.50h1.50v1.50h-1.50zM136.50 83.00h1.50v1.50h-1.50zM136.50 84.50h1.50v1.50h-1.50zM136.50 86.00h1.50v1.50h-1.50zM136.50 87.50h1.50v1.50h-1.50zM136.50 89.00h1.50v1.50h-1.50zM136.50 90.50h1.50v1.50h-1.50zM138.00 74.00h1.50v1.50h-1.50zM138.00 75.50h1.50v1.50h-1.50zM138.00 77.00h1.50v1.50h-1.50zM138.00 78.50h1.50v1.50h-1.50zM138.00 80.00h1.50v1.50h-1.50zM138.00 81.50h1.50v1.50h-1.50zM138.00 83.00h1.50v1.50h-1.50zM138.00 84.50h1.50v1.50h-1.50zM138.00 86.00h1.50v1.50h-1.50zM138.00 87.50h1.50v1.50h-1.50zM138.00 89.00h1.50v1.50h-1.50zM138.00 90.50h1.50v1.50h-1.50zM139.50 72.50h1.50v1.50h-1.50zM139.50 74.00h1.50v1.50h-1.50zM139.50 75.50h1.50v1.50h-1.50zM139.50 77.00h1.50v1.50h-1.50zM139.50 78.50h1.50v1.50h-1.50zM139.50 80.00h1.50v1.50h-1.50zM139.50 81.50h1.50v1.50h-1.50zM139.50 83.00h1.50v1.50h-1.50zM139.50 84.50h1.50v1.50h-1.50zM139.50 86.00h1.50v1.50h-1.50zM139.50 87.50h1.50v1.50h-1.50zM139.50 89.00h1.50v1.50h-1.50zM139.50 90.50h1.50v1.50h-1.50zM141.00 72.50h1.50v1.50h-1.50zM141.00 74.00h1.50v1.50h-1.50zM141.00 75.50h1.50v1.50h-1.50zM141.00 77.00h1.50v1.50h-1.50zM141.00 78.50h1.50v1.50h-1.50zM141.00 80.00h1.50v1.50h-1.50zM141.00 81.50h1.50v1.50h-1.50zM141.00 83.00h1.50v1.50h-1.50zM141.00 84.50h1.50v1.50h-1.50zM141.00 86.00h1.50v1.50h-1.50zM141.00 87.50h1.50v1.50h-1.50zM141.00 89.00h1.50v1.50h-1.50zM141.00 90.50h1.50v1.50h-1.50zM142.50 72.50h1.50v1.50h-1.50zM142.50 74.00h1.50v1.50h-1.50zM142.50 75.50h1.50v1.50h-1.50zM142.50 77.00h1.50v1.50h-1.50zM142.50 78.50h1.50v1.50h-1.50zM142.50 80.00h1.50v1.50h-1.50zM142.50 81.50h1.50v1.50h-1.50zM142.50 83.00h1.50v1.50h-1.50zM142.50 84.50h1.50v1.50h-1.50zM142.50 86.00h1.50v1.50h-1.50zM142.50 87.50h1.50v1.50h-1.50zM142.50 89.00h1.50v1.50h-1.50zM142.50 90.50h1.50v1.50h-1.50zM144.00 72.50h1.50v1.50h-1.50zM144.00 74.00h1.50v1.50h-1.50zM144.00 75.50h1.50v1.50h-1.50zM144.00 77.00h1.50v1.50h-1.50zM144.00 78.50h1.50v1.50h-1.50zM144.00 80.00h1.50v1.50h-1.50zM144.00 81.50h1.50v1.50h-1.50zM144.00 83.00h1.50v1.50h-1.50zM144.00 84.50h1.50v1.50h-1.50zM144.00 86.00h1.50v1.50h-1.50zM144.00 87.50h1.50v1.50h-1.50zM144.00 89.00h1.50v1.50h-1.50zM144.00 90.50h1.50v1.50h-1.50zM145.50 72.50h1.50v1.50h-1.50zM145.50 74.00h1.50v1.50h-1.50zM145.50 75.50h1.50v1.50h-1.50zM145.50 77.00h1.50v1.50h-1.50zM145.50 78.50h1.50v1.50h-1.50zM145.50 81.50h1.50v1.50h-1.50zM145.50 83.00h1.50v1.50h-1.50zM145.50 84.50h1.50v1.50h-1.50zM145.50 86.00h1.50v1.50h-1.50zM145.50 87.50h1.50v1.50h-1.50zM145.50 89.00h1.50v1.50h-1.50zM147.00 72.50h1.50v1.50h-1.50zM147.00 74.00h1.50v1.50h-1.50zM147.00 75.50h1.50v1.50h-1.50zM147.00 77.00h1.50v1.50h-1.50zM147.00 81.50h1.50v1.50h-1.50zM147.00 83.00h1.50v1.50h-1.50zM147.00 84.50h1.50v1.50h-1.50zM147.00 86.00h1.50v1.50h-1.50zM147.00 87.50h1.50v1.50h-1.50zM147.00 89.00h1.50v1.50h-1.50zM148.50 72.50h1.50v1.50h-1.50zM148.50 74.00h1.50v1.50h-1.50zM148.50 75.50h1.50v1.50h-1.50zM148.50 77.00h1.50v1.50h-1.50zM148.50 78.50h1.50v1.50h-1.50zM148.50 80.00h1.50v1.50h-1.50zM148.50 81.50h1.50v1.50h-1.50zM148.50 83.00h1.50v1.50h-1.50zM148.50 84.50h1.50v1.50h-1.50zM148.50 86.00h1.50v1.50h-1.50zM148.50 87.50h1.50v1.50h-1.50zM148.50 89.00h1.50v1.50h-1.50zM150.00 74.00h1.50v1.50h-1.50zM150.00 75.50h1.50v1.50h-1.50zM150.00 77.00h1.50v1.50h-1.50zM150.00 78.50h1.50v1.50h-1.50zM150.00 80.00h1.50v1.50h-1.50zM150.00 81.50h1.50v1.50h-1.50zM150.00 83.00h1.50v1.50h-1.50zM150.00 84.50h1.50v1.50h-1.50zM150.00 86.00h1.50v1.50h-1.50zM150.00 87.50h1.50v1.50h-1.50zM150.00 89.00h1.50v1.50h-1.50zM151.50 74.00h1.50v1.50h-1.50zM151.50 75.50h1.50v1.50h-1.50zM151.50 77.00h1.50v1.50h-1.50zM151.50 78.50h1.50v1.50h-1.50zM151.50 80.00h1.50v1.50h-1.50zM151.50 81.50h1.50v1.50h-1.50zM151.50 83.00h1.50v1.50h-1.50zM151.50 84.50h1.50v1.50h-1.50zM151.50 86.00h1.50v1.50h-1.50zM151.50 87.50h1.50v1.50h-1.50zM153.00 75.50h1.50v1.50h-1.50zM153.00 77.00h1.50v1.50h-1.50zM153.00 78.50h1.50v1.50h-1.50zM153.00 80.00h1.50v1.50h-1.50zM153.00 81.50h1.50v1.50h-1.50zM153.00 83.00h1.50v1.50h-1.50zM153.00 84.50h1.50v1.50h-1.50zM153.00 86.00h1.50v1.50h-1.50zM153.00 87.50h1.50v1.50h-1.50zM154.50 75.50h1.50v1.50h-1.50zM154.50 77.00h1.50v1.50h-1.50zM154.50 78.50h1.50v1.50h-1.50zM154.50 80.00h1.50v1.50h-1.50zM154.50 81.50h1.50v1.50h-1.50zM154.50 83.00h1.50v1.50h-1.50zM154.50 84.50h1.50v1.50h-1.50zM154.50 86.00h1.50v1.50h-1.50zM156.00 78.50h1.50v1.50h-1.50zM156.00 80.00h1.50v1.50h-1.50z"/>
<path fill="#dd0000" d="M58.50 83.00h1.50v1.50h-1.50zM58.50 84.50h1.50v1.50h-1.50zM58.50 86.00h1.50v1.50h-1.50zM60.00 81.50h1.50v1.50h-1.50zM60.00 83.00h1.50v1.50h-1.50zM60.00 84.50h1.50v1.50h-1.50zM60.00 86.00h1.50v1.50h-1.50zM60.00 87.50h1.50v1.50h-1.50zM60.00 89.00h1.50v1.50h-1.50zM60.00 90.50h1.50v1.50h-1.50zM60.00 92.00h1.50v1.50h-1.50zM61.50 81.50h1.50v1.50h-1.50zM61.50 83.00h1.50v1.50h-1.50zM61.50 84.50h1.50v1.50h-1.50zM61.50 86.00h1.50v1.50h-1.50zM61.50 87.50h1.50v1.50h-1.50zM61.50 89.00h1.50v1.50h-1.50zM61.50 90.50h1.50v1.50h-1.50zM61.50 92.00h1.50v1.50h-1.50zM63.00 81.50h1.50v1.50h-1.50zM63.00 83.00h1.50v1.50h-1.50zM63.00 84.50h1.50v1.50h-1.50zM63.00 86.00h1.50v1.50h-1.50zM63.00 87.50h1.50v1.50h-1.50zM63.00 89.00h1.50v1.50h-1.50zM63.00 90.50h1.50v1.50h-1.50zM63.00 92.00h1.50v1.50h-1.50zM64.50 80.00h1.50v1.50h-1.50zM64.50 81.50h1.50v1.50h-1.50zM64.50 83.00h1.50v1.50h-1.50zM64.50 84.50h1.50v1.50h-1.50zM64.50 86.00h1.50v1.50h-1.50zM64.50 87.50h1.50v1.50h-1.50zM64.50 89.00h1.50v1.50h-1.50zM64.50 90.50h1.50v1.50h-1.50zM64.50 92.00h1.50v1.50h-1.50zM66.00 80.00h1.50v1.50h-1.50zM66.00 81.50h1.50v1.50h-1.50zM66.00 83.00h1.50v1.50h-1.50zM66.00 84.50h1.50v1.50h-1.50zM66.00 86.00h1.50v1.50h-1.50zM66.00 87.50h1.50v1.50h-1.50zM66.00 89.00h1.50v1.50h-1.50zM66.00 90.50h1.50v1.50h-1.50zM66.00 92.00h1.50v1.50h-1.50zM67.50 80.00h1.50v1.50h-1.50zM67.50 81.50h1.50v1.50h-1.50zM67.50 83.00h1.50v1.50h-1.50zM67.50 84.50h1.50v1.50h-1.50zM67.50 86.00h1.50v1.50h-1.50zM67.50 87.50h1.50v1.50h-1.50zM67.50 89.00h1.50v1.50h-1.50zM67.50 90.50h1.50v1.50h-1.50zM67.50 92.00h1.50v1.50h-1.50zM69.00 80.00h1.50v1.50h-1.50zM69.00 81.50h1.50v1.50h-1.50zM69.00 83.00h1.50v1.50h-1.50zM69.00 84.50h1.50v1.50h-1.50zM69.00 86.00h1.50v1.50h-1.50zM69.00 87.50h1.50v1.50h-1.50zM69.00 89.00h1.50v1.50h-1.50zM69.00 90.50h1.50v1.50h-1.50zM70.50 81.50h1.50v1.50h-1.50zM70.50 83.00h1.50v1.50h-1.50zM70.50 84.50h1.50v1.50h-1.50zM70.50 86.00h1.50v1.50h-1.50zM70.50 87.50h1.50v1.50h-1.50zM70.50 89.00h1.50v1.50h-1.50z"/>
<path fill="#000" d="M37.50 108.50h1.50v1.50h-1.50zM37.50 110.00h1.50v1.50h-1.50zM37.50 111.50h1.50v1.50h-1.50zM37.50 113.00h1.50v1.50h-1.50zM39.00 105.50h1.50v1.50h-1.50zM39.00 107.00h1.50v1.50h-1.50zM39.00 108.50h1.50v1.50h-1.50zM39.00 110.00h1.50v1.50h-1.50zM39.00 111.50h1.50v1.50h-1.50zM39.00 113.00h1.50v1.50h-1.50zM39.00 114.50h1.50v1.50h-1.50zM39.00 116.00h1.50v1.50h-1.50zM40.50 104.00h1.50v1.50h-1.50zM40.50 105.50h1.50v1.50h-1.50zM40.50 107.00h1.50v1.50h-1.50zM40.50 108.50h1.50v1.50h-1.50zM40.50 110.00h1.50v1.50h-1.50zM40.50 111.50h1.50v1.50h-1.50zM40.50 113.00h1.50v1.50h-1.50zM40.50 114.50h1.50v1.50h-1.50zM40.50 116.00h1.50v1.50h-1.50zM42.00 102.50h1.50v1.50h-1.50zM42.00 104.00h1.50v1.50h-1.50zM42.00 105.50h1.50v1.50h-1.50zM42.00 107.00h1.50v1.50h-1.50zM42.00 108.50h1.50v1.50h-1.50zM42.00 110.00h1.50v1.50h-1.50zM42.00 111.50h1.50v1.50h-1.50zM42.00 113.00h1.50v1.50h-1.50zM42.00 114.50h1.50v1.50h-1.50zM42.00 116.00h1.50v1.50h-1.50zM43.50 102.50h1.50v1.50h-1.50zM43.50 104.00h1.50v1.50h-1.50zM43.50 105.50h1.50v1.50h-1.50zM43.50 107.00h1.50v1.50h-1.50zM43.50 108.50h1.50v1.50h-1.50zM43.50 110.00h1.50v1.50h-1.50zM43.50 111.50h1.50v1.50h-1.50zM43.50 113.00h1.50v1.50h-1.50zM43.50 114.50h1.50v1.50h-1.50zM43.50 116.00h1.50v1.50h-1.50zM45.00 102.50h1.50v1.50h-1.50zM45.00 104.00h1.50v1.50h-1.50zM45.00 105.50h1.50v1.50h-1.50zM45.00 107.00h1.50v1.50h-1.50zM45.00 108.50h1.50v1.50h-1.50zM45.00 110.00h1.50v1.50h-1.50zM45.00 111.50h1.50v1.50h-1.50zM45.00 113.00h1.50v1.50h-1.50zM45.00 114.50h1.50v1.50h-1.50zM46.50 104.00h1.50v1.50h-1.50zM46.50 105.50h1.50v1.50h-1.50zM46.50 107.00h1.50v1.50h-1.50zM46.50 108.50h1.50v1.50h-1.50zM46.50 110.00h1.50v1.50h-1.50zM46.50 111.50h1.50v1.50h-1.50zM46.50 113.00h1.50v1.50h-1.50zM46.50 114.50h1.50v1.50h-1.50zM48.00 105.50h1.50v1.50h-1.50zM48.00 107.00h1.50v1.50h-1.50zM48.00 108.50h1.50v1.50h-1.50zM48.00 110.00h1.50v1.50h-1.50zM48.00 111.50h1.50v1.50h-1.50zM48.00 113.00h1.50v1.50h-1.50zM48.00 114.50h1.50v1.50h-1.50zM49.50 111.50h1.50v1.50h-1.50zM49.50 113.00h1.50v1.50h-1.50z"/>
<path fill="#dd0000" d="M60.00 114.50h1.50v1.50h-1.50zM60.00 116.00h1.50v1.50h-1.50zM60.00 117.50h1.50v1.50h-1.50zM60.00 119.00h1.50v1.50h-1.50zM61.50 114.50h1.50v1.50h-1.50zM61.50 116.00h1.50v1.50h-1.50zM61.50 117.50h1.50v1.50h-1.50zM61.50 119.00h1.50v1.50h-1.50zM63.00 113.00h1.50v1.50h-1.50zM63.00 114.50h1.50v1.50h-1.50zM63.00 116.00h1.50v1.50h-1.50zM63.00 117.50h1.50v1.50h-1.50zM63.00 119.00h1.50v1.50h-1.50zM64.50 113.00h1.50v1.50h-1.50zM64.50 114.50h1.50v1.50h-1.50zM64.50 116.00h1.50v1.50h-1.50zM64.50 117.50h1.50v1.50h-1.50zM64.50 119.00h1.50v1.50h-1.50zM66.00 113.00h1.50v1.50h-1.50zM66.00 114.50h1.50v1.50h-1.50zM66.00 116.00h1.50v1.50h-1.50zM66.00 117.50h1.50v1.50h-1.50zM66.00 119.00h1.50v1.50h-1.50zM67.50 113.00h1.50v1.50h-1.50zM67.50 114.50h1.50v1.50h-1.50zM67.50 116.00h1.50v1.50h-1.50zM67.50 117.50h1.50v1.50h-1.50zM69.00 113.00h1.50v1.50h-1.50zM69.00 114.50h1.50v1.50h-1.50zM69.00 116.00h1.50v1.50h-1.50zM69.00 117.50h1.50v1.50h-1.50zM70.50 113.00h1.50v1.50h-1.50zM70.50 114.50h1.50v1.50h-1.50zM70.50 116.00h1.50v1.50h-1.50zM72.00 113.00h1.50v1.50h-1.50zM72.00 114.50h1.50v1.50h-1.50zM72.00 116.00h1.50v1.50h-1.50zM73.50 114.50h1.50v1.50h-1.50zM73.50 116.00h1.50v1.50h-1.50z"/>
<path fill="#dd0000" d="M111.00 98.00h1.50v1.50h-1.50zM111.00 99.50h1.50v1.50h-1.50zM111.00 101.00h1.50v1.50h-1.50zM111.00 102.50h1.50v1.50h-1.50zM111.00 104.00h1.50v1.50h-1.50zM111.00 111.50h1.50v1.50h-1.50zM111.00 116.00h1.50v1.50h-1.50zM111.00 117.50h1.50v1.50h-1.50zM112.50 96.50h1.50v1.50h-1.50zM112.50 98.00h1.50v1.50h-1.50zM112.50 99.50h1.50v1.50h-1.50zM112.50 101.00h1.50v1.50h-1.50zM112.50 102.50h1.50v1.50h-1.50zM112.50 104.00h1.50v1.50h-1.50zM112.50 105.50h1.50v1.50h-1.50zM112.50 110.00h1.50v1.50h-1.50zM112.50 111.50h1.50v1.50h-1.50zM112.50 116.00h1.50v1.50h-1.50zM112.50 117.50h1.50v1.50h-1.50zM112.50 119.00h1.50v1.50h-1.50zM114.00 95.00h1.50v1.50h-1.50zM114.00 96.50h1.50v1.50h-1.50zM114.00 98.00h1.50v1.50h-1.50zM114.00 99.50h1.50v1.50h-1.50zM114.00 101.00h1.50v1.50h-1.50zM114.00 102.50h1.50v1.50h-1.50zM114.00 104.00h1.50v1.50h-1.50zM114.00 105.50h1.50v1.50h-1.50zM114.00 110.00h1.50v1.50h-1.50zM114.00 111.50h1.50v1.50h-1.50zM114.00 113.00h1.50v1.50h-1.50zM114.00 114.50h1.50v1.50h-1.50zM114.00 116.00h1.50v1.50h-1.50zM114.00 117.50h1.50v1.50h-1.50zM114.00 119.00h1.50v1.50h-1.50zM115.50 95.00h1.50v1.50h-1.50zM115.50 96.50h1.50v1.50h-1.50zM115.50 98.00h1.50v1.50h-1.50zM115.50 99.50h1.50v1.50h-1.50zM115.50 101.00h1.50v1.50h-1.50zM115.50 102.50h1.50v1.50h-1.50zM115.50 104.00h1.50v1.50h-1.50zM115.50 105.50h1.50v1.50h-1.50zM115.50 107.00h1.50v1.50h-1.50zM115.50 108.50h1.50v1.50h-1.50zM115.50 110.00h1.50v1.50h-1.50zM115.50 111.50h1.50v1.50h-1.50zM115.50 113.00h1.50v1.50h-1.50zM115.50 114.50h1.50v1.50h-1.50zM115.50 116.00h1.50v1.50h-1.50zM115.50 117.50h1.50v1.50h-1.50zM115.50 119.00h1.50v1.50h-1.50zM117.00 95.00h1.50v1.50h-1.50zM117.00 96.50h1.50v1.50h-1.50zM117.00 98.00h1.50v1.50h-1.50zM117.00 99.50h1.50v1.50h-1.50zM117.00 101.00h1.50v1.50h-1.50zM117.00 102.50h1.50v1.50h-1.50zM117.00 104.00h1.50v1.50h-1.50zM117.00 105.50h1.50v1.50h-1.50zM117.00 107.00h1.50v1.50h-1.50zM117.00 108.50h1.50v1.50h-1.50zM117.00 110.00h1.50v1.50h-1.50zM117.00 111.50h1.50v1.50h-1.50zM117.00 113.00h1.50v1.50h-1.50zM117.00 114.50h1.50v1.50h-1.50zM117.00 116.00h1.50v1.50h-1.50zM117.00 117.50h1.50v1.50h-1.50zM117.00 119.00h1.50v1.50h-1.50zM117.00 120.50h1.50v1.50h-1.50zM118.50 95.00h1.50v1.50h-1.50zM118.50 96.50h1.50v1.50h-1.50zM118.50 98.00h1.50v1.50h-1.50zM118.50 99.50h1.50v1.50h-1.50zM118.50 101.00h1.50v1.50h-1.50zM118.50 102.50h1.50v1.50h-1.50zM118.50 104.00h1.50v1.50h-1.50zM118.50 105.50h1.50v1.50h-1.50zM118.50 107.00h1.50v1.50h-1.50zM118.50 108.50h1.50v1.50h-1.50zM118.50 110.00h1.50v1.50h-1.50zM118.50 111.50h1.50v1.50h-1.50zM118.50 113.00h1.50v1.50h-1.50zM118.50 114.50h1.50v1.50h-1.50zM118.50 116.00h1.50v1.50h-1.50zM118.50 117.50h1.50v1.50h-1.50zM118.50 119.00h1.50v1.50h-1.50zM118.50 120.50h1.50v1.50h-1.50zM120.00 96.50h1.50v1.50h-1.50zM120.00 98.00h1.50v1.50h-1.50zM120.00 99.50h1.50v1.50h-1.50zM120.00 101.00h1.50v1.50h-1.50zM120.00 102.50h1.50v1.50h-1.50zM120.00 104.00h1.50v1.50h-1.50zM120.00 105.50h1.50v1.50h-1.50zM120.00 107.00h1.50v1.50h-1.50zM120.00 108.50h1.50v1.50h-1.50zM120.00 110.00h1.50v1.50h-1.50zM120.00 111.50h1.50v1.50h-1.50zM120.00 113.00h1.50v1.50h-1.50zM120.00 114.50h1.50v1.50h-1.50zM120.00 116.00h1.50v1.50h-1.50zM120.00 117.50h1.50v1.50h-1.50zM120.00 119.00h1.50v1.50h-1.50zM120.00 120.50h1.50v1.50h-1.50zM121.50 96.50h1.50v1.50h-1.50zM121.50 98.00h1.50v1.50h-1.50zM121.50 99.50h1.50v1.50h-1.50zM121.50 101.00h1.50v1.50h-1.50zM121.50 102.50h1.50v1.50h-1.50zM121.50 104.00h1.50v1.50h-1.50zM121.50 105.50h1.50v1.50h-1.50zM121.50 107.00h1.50v1.50h-1.50zM121.50 108.50h1.50v1.50h-1.50zM121.50 110.00h1.50v1.50h-1.50zM121.50 111.50h1.50v1.50h-1.50zM121.50 113.00h1.50v1.50h-1.50zM121.50 114.50h1.50v1.50h-1.50zM121.50 116.00h1.50v1.50h-1.50zM121.50 117.50h1.50v1.50h-1.50zM121.50 119.00h1.50v1.50h-1.50zM121.50 120.50h1.50v1.50h-1.50zM123.00 98.00h1.50v1.50h-1.50zM123.00 99.50h1.50v1.50h-1.50zM123.00 101.00h1.50v1.50h-1.50zM123.00 102.50h1.50v1.50h-1.50zM123.00 104.00h1.50v1.50h-1.50zM123.00 105.50h1.50v1.50h-1.50zM123.00 110.00h1.50v1.50h-1.50zM123.00 111.50h1.50v1.50h-1.50zM123.00 113.00h1.50v1.50h-1.50zM123.00 114.50h1.50v1.50h-1.50zM123.00 116.00h1.50v1.50h-1.50zM123.00 117.50h1.50v1.50h-1.50zM123.00 119.00h1.50v1.50h-1.50zM124.50 99.50h1.50v1.50h-1.50zM124.50 101.00h1.50v1.50h-1.50zM124.50 102.50h1.50v1.50h-1.50zM124.50 104.00h1.50v1.50h-1.50zM124.50 111.50h1.50v1.50h-1.50zM124.50 113.00h1.50v1.50h-1.50zM124.50 114.50h1.50v1.50h-1.50zM124.50 116.00h1.50v1.50h-1.50zM124.50 117.50h1.50v1.50h-1.50zM124.50 119.00h1.50v1.50h-1.50zM126.00 113.00h1.50v1.50h-1.50zM126.00 114.50h1.50v1.50h-1.50zM126.00 116.00h1.50v1.50h-1.50zM126.00 117.50h1.50v1.50h-1.50z"/>
<path fill="#000" d="M82.50 113.00h1.50v1.50h-1.50zM82.50 114.50h1.50v1.50h-1.50zM82.50 116.00h1.50v1.50h-1.50zM82.50 117.50h1.50v1.50h-1.50zM82.50 119.00h1.50v1.50h-1.50zM84.00 110.00h1.50v1.50h-1.50zM84.00 111.50h1.50v1.50h-1.50zM84.00 113.00h1.50v1.50h-1.50zM84.00 114.50h1.50v1.50h-1.50zM84.00 116.00h1.50v1.50h-1.50zM84.00 117.50h1.50v1.50h-1.50zM84.00 119.00h1.50v1.50h-1.50zM84.00 120.50h1.50v1.50h-1.50zM85.50 107.00h1.50v1.50h-1.50zM85.50 108.50h1.50v1.50h-1.50zM85.50 110.00h1.50v1.50h-1.50zM85.50 111.50h1.50v1.50h-1.50zM85.50 113.00h1.50v1.50h-1.50zM85.50 114.50h1.50v1.50h-1.50zM85.50 116.00h1.50v1.50h-1.50zM85.50 117.50h1.50v1.50h-1.50zM85.50 119.00h1.50v1.50h-1.50zM85.50 120.50h1.50v1.50h-1.50zM87.00 104.00h1.50v1.50h-1.50zM87.00 105.50h1.50v1.50h-1.50zM87.00 107.00h1.50v1.50h-1.50zM87.00 108.50h1.50v1.50h-1.50zM87.00 110.00h1.50v1.50h-1.50zM87.00 111.50h1.50v1.50h-1.50zM87.00 113.00h1.50v1.50h-1.50zM87.00 114.50h1.50v1.50h-1.50zM87.00 116.00h1.50v1.50h-1.50zM87.00 117.50h1.50v1.50h-1.50zM87.00 119.00h1.50v1.50h-1.50zM87.00 120.50h1.50v1.50h-1.50zM88.50 104.00h1.50v1.50h-1.50zM88.50 105.50h1.50v1.50h-1.50zM88.50 107.00h1.50v1.50h-1.50zM88.50 108.50h1.50v1.50h-1.50zM88.50 110.00h1.50v1.50h-1.50zM88.50 111.50h1.50v1.50h-1.50zM88.50 113.00h1.50v1.50h-1.50zM88.50 114.50h1.50v1.50h-1.50zM88.50 116.00h1.50v1.50h-1.50zM88.50 117.50h1.50v1.50h-1.50zM88.50 119.00h1.50v1.50h-1.50zM88.50 120.50h1.50v1.50h-1.50zM90.00 104.00h1.50v1.50h-1.50zM90.00 105.50h1.50v1.50h-1.50zM90.00 107.00h1.50v1.50h-1.50zM90.00 108.50h1.50v1.50h-1.50zM90.00 110.00h1.50v1.50h-1.50zM90.00 111.50h1.50v1.50h-1.50zM90.00 113.00h1.50v1.50h-1.50zM90.00 114.50h1.50v1.50h-1.50zM90.00 116.00h1.50v1.50h-1.50zM90.00 117.50h1.50v1.50h-1.50zM90.00 119.00h1.50v1.50h-1.50zM90.00 120.50h1.50v1.50h-1.50zM91.50 104.00h1.50v1.50h-1.50zM91.50 105.50h1.50v1.50h-1.50zM91.50 107.00h1.50v1.50h-1.50zM91.50 108.50h1.50v1.50h-1.50zM91.50 110.00h1.50v1.50h-1.50zM91.50 111.50h1.50v1.50h-1.50zM91.50 113.00h1.50v1.50h-1.50zM91.50 114.50h1.50v1.50h-1.50zM91.50 116.00h1.50v1.50h-1.50zM91.50 117.50h1.50v1.50h-1.50zM91.50 119.00h1.50v1.50h-1.50zM93.00 104.00h1.50v1.50h-1.50zM93.00 105.50h1.50v1.50h-1.50zM93.00 107.00h1.50v1.50h-1.50zM93.00 108.50h1.50v1.50h-1.50zM93.00 110.00h1.50v1.50h-1.50zM93.00 111.50h1.50v1.50h-1.50zM93.00 113.00h1.50v1.50h-1.50zM93.00 114.50h1.50v1.50h-1.50zM93.00 116.00h1.50v1.50h-1.50zM93.00 117.50h1.50v1.50h-1.50zM94.50 105.50h1.50v1.50h-1.50zM94.50 107.00h1.50v1.50h-1.50zM94.50 108.50h1.50v1.50h-1.50zM94.50 110.00h1.50v1.50h-1.50zM94.50 111.50h1.50v1.50h-1.50zM94.50 113.00h1.50v1.50h-1.50zM94.50 114.50h1.50v1.50h-1.50zM94.50 116.00h1.50v1.50h-1.50zM96.00 107.00h1.50v1.50h-1.50zM96.00 108.50h1.50v1.50h-1.50zM96.00 110.00h1.50v1.50h-1.50zM96.00 111.50h1.50v1.50h-1.50zM96.00 113.00h1.50v1.50h-1.50zM96.00 114.50h1.50v1.50h-1.50zM96.00 116.00h1.50v1.50h-1.50zM97.50 110.00h1.50v1.50h-1.50zM97.50 111.50h1.50v1.50h-1.50zM97.50 113.00h1.50v1.50h-1.50zM97.50 114.50h1.50v1.50h-1.50zM97.50 116.00h1.50v1.50h-1.50zM99.00 111.50h1.50v1.50h-1.50zM99.00 113.00h1.50v1.50h-1.50zM99.00 114.50h1.50v1.50h-1.50z"/>
<path fill="#000" d="M84.00 144.50h1.50v1.50h-1.50zM85.50 134.00h1.50v1.50h-1.50zM85.50 135.50h1.50v1.50h-1.50zM85.50 137.00h1.50v1.50h-1.50zM85.50 141.50h1.50v1.50h-1.50zM85.50 143.00h1.50v1.50h-1.50zM85.50 144.50h1.50v1.50h-1.50zM85.50 146.00h1.50v1.50h-1.50zM87.00 132.50h1.50v1.50h-1.50zM87.00 134.00h1.50v1.50h-1.50zM87.00 135.50h1.50v1.50h-1.50zM87.00 137.00h1.50v1.50h-1.50zM87.00 138.50h1.50v1.50h-1.50zM87.00 140.00h1.50v1.50h-1.50zM87.00 141.50h1.50v1.50h-1.50zM87.00 143.00h1.50v1.50h-1.50zM87.00 144.50h1.50v1.50h-1.50zM87.00 146.00h1.50v1.50h-1.50zM87.00 147.50h1.50v1.50h-1.50zM88.50 132.50h1.50v1.50h-1.50zM88.50 134.00h1.50v1.50h-1.50zM88.50 135.50h1.50v1.50h-1.50zM88.50 137.00h1.50v1.50h-1.50zM88.50 138.50h1.50v1.50h-1.50zM88.50 140.00h1.50v1.50h-1.50zM88.50 141.50h1.50v1.50h-1.50zM88.50 143.00h1.50v1.50h-1.50zM88.50 144.50h1.50v1.50h-1.50zM88.50 146.00h1.50v1.50h-1.50zM88.50 147.50h1.50v1.50h-1.50zM88.50 149.00h1.50v1.50h-1.50zM90.00 132.50h1.50v1.50h-1.50zM90.00 134.00h1.50v1.50h-1.50zM90.00 135.50h1.50v1.50h-1.50zM90.00 137.00h1.50v1.50h-1.50zM90.00 138.50h1.50v1.50h-1.50zM90.00 140.00h1.50v1.50h-1.50zM90.00 141.50h1.50v1.50h-1.50zM90.00 143.00h1.50v1.50h-1.50zM90.00 146.00h1.50v1.50h-1.50zM90.00 147.50h1.50v1.50h-1.50zM90.00 149.00h1.50v1.50h-1.50zM91.50 134.00h1.50v1.50h-1.50zM91.50 135.50h1.50v1.50h-1.50zM91.50 137.00h1.50v1.50h-1.50zM91.50 138.50h1.50v1.50h-1.50zM91.50 140.00h1.50v1.50h-1.50zM91.50 141.50h1.50v1.50h-1.50zM91.50 143.00h1.50v1.50h-1.50zM91.50 144.50h1.50v1.50h-1.50zM91.50 146.00h1.50v1.50h-1.50zM91.50 147.50h1.50v1.50h-1.50zM91.50 149.00h1.50v1.50h-1.50zM93.00 140.00h1.50v1.50h-1.50zM93.00 141.50h1.50v1.50h-1.50zM93.00 143.00h1.50v1.50h-1.50zM93.00 144.50h1.50v1.50h-1.50zM93.00 146.00h1.50v1.50h-1.50zM93.00 147.50h1.50v1.50h-1.50zM94.50 141.50h1.50v1.50h-1.50zM94.50 143.00h1.50v1.50h-1.50zM94.50 144.50h1.50v1.50h-1.50zM94.50 146.00h1.50v1.50h-1.50zM96.00 141.50h1.50v1.50h-1.50zM96.00 143.00h1.50v1.50h-1.50zM96.00 144.50h1.50v1.50h-1.50zM96.00 146.00h1.50v1.50h-1.50zM97.50 143.00h1.50v1.50h-1.50zM97.50 144.50h1.50v1.50h-1.50z"/>
<path fill="#000" d="M106.50 135.50h1.50v1.50h-1.50zM106.50 137.00h1.50v1.50h-1.50zM106.50 138.50h1.50v1.50h-1.50zM106.50 140.00h1.50v1.50h-1.50zM108.00 131.00h1.50v1.50h-1.50zM108.00 132.50h1.50v1.50h-1.50zM108.00 134.00h1.50v1.50h-1.50zM108.00 135.50h1.50v1.50h-1.50zM108.00 137.00h1.50v1.50h-1.50zM108.00 138.50h1.50v1.50h-1.50zM108.00 140.00h1.50v1.50h-1.50zM108.00 141.50h1.50v1.50h-1.50zM108.00 143.00h1.50v1.50h-1.50zM109.50 129.50h1.50v1.50h-1.50zM109.50 131.00h1.50v1.50h-1.50zM109.50 132.50h1.50v1.50h-1.50zM109.50 134.00h1.50v1.50h-1.50zM109.50 135.50h1.50v1.50h-1.50zM109.50 137.00h1.50v1.50h-1.50zM109.50 138.50h1.50v1.50h-1.50zM109.50 140.00h1.50v1.50h-1.50zM109.50 141.50h1.50v1.50h-1.50zM109.50 143.00h1.50v1.50h-1.50zM109.50 144.50h1.50v1.50h-1.50zM111.00 128.00h1.50v1.50h-1.50zM111.00 129.50h1.50v1.50h-1.50zM111.00 131.00h1.50v1.50h-1.50zM111.00 132.50h1.50v1.50h-1.50zM111.00 134.00h1.50v1.50h-1.50zM111.00 135.50h1.50v1.50h-1.50zM111.00 137.00h1.50v1.50h-1.50zM111.00 138.50h1.50v1.50h-1.50zM111.00 140.00h1.50v1.50h-1.50zM111.00 141.50h1.50v1.50h-1.50zM111.00 143.00h1.50v1.50h-1.50zM111.00 144.50h1.50v1.50h-1.50zM112.50 128.00h1.50v1.50h-1.50zM112.50 129.50h1.50v1.50h-1.50zM112.50 131.00h1.50v1.50h-1.50zM112.50 132.50h1.50v1.50h-1.50zM112.50 134.00h1.50v1.50h-1.50zM112.50 135.50h1.50v1.50h-1.50zM112.50 137.00h1.50v1.50h-1.50zM112.50 138.50h1.50v1.50h-1.50zM112.50 140.00h1.50v1.50h-1.50zM112.50 141.50h1.50v1.50h-1.50zM112.50 143.00h1.50v1.50h-1.50zM112.50 144.50h1.50v1.50h-1.50zM114.00 128.00h1.50v1.50h-1.50zM114.00 129.50h1.50v1.50h-1.50zM114.00 131.00h1.50v1.50h-1.50zM114.00 132.50h1.50v1.50h-1.50zM114.00 134.00h1.50v1.50h-1.50zM114.00 135.50h1.50v1.50h-1.50zM114.00 137.00h1.50v1.50h-1.50zM114.00 138.50h1.50v1.50h-1.50zM114.00 140.00h1.50v1.50h-1.50zM114.00 141.50h1.50v1.50h-1.50zM114.00 143.00h1.50v1.50h-1.50zM114.00 144.50h1.50v1.50h-1.50zM114.00 146.00h1.50v1.50h-1.50zM115.50 129.50h1.50v1.50h-1.50zM115.50 131.00h1.50v1.50h-1.50zM115.50 132.50h1.50v1.50h-1.50zM115.50 134.00h1.50v1.50h-1.50zM115.50 135.50h1.50v1.50h-1.50zM115.50 137.00h1.50v1.50h-1.50zM115.50 138.50h1.50v1.50h-1.50zM115.50 140.00h1.50v1.50h-1.50zM115.50 141.50h1.50v1.50h-1.50zM115.50 143.00h1.50v1.50h-1.50zM115.50 144.50h1.50v1.50h-1.50zM115.50 146.00h1.50v1.50h-1.50zM117.00 131.00h1.50v1.50h-1.50zM117.00 132.50h1.50v1.50h-1.50zM117.00 134.00h1.50v1.50h-1.50zM117.00 135.50h1.50v1.50h-1.50zM117.00 137.00h1.50v1.50h-1.50zM117.00 138.50h1.50v1.50h-1.50zM117.00 140.00h1.50v1.50h-1.50zM117.00 141.50h1.50v1.50h-1.50zM117.00 143.00h1.50v1.50h-1.50zM117.00 144.50h1.50v1.50h-1.50zM117.00 146.00h1.50v1.50h-1.50zM117.00 147.50h1.50v1.50h-1.50zM118.50 132.50h1.50v1.50h-1.50zM118.50 134.00h1.50v1.50h-1.50zM118.50 135.50h1.50v1.50h-1.50zM118.50 137.00h1.50v1.50h-1.50zM118.50 138.50h1.50v1.50h-1.50zM118.50 140.00h1.50v1.50h-1.50zM118.50 141.50h1.50v1.50h-1.50zM118.50 143.00h1.50v1.50h-1.50zM118.50 144.50h1.50v1.50h-1.50zM118.50 146.00h1.50v1.50h-1.50zM118.50 147.50h1.50v1.50h-1.50zM118.50 149.00h1.50v1.50h-1.50zM120.00 144.50h1.50v1.50h-1.50zM120.00 146.00h1.50v1.50h-1.50zM120.00 147.50h1.50v1.50h-1.50zM120.00 149.00h1.50v1.50h-1.50zM121.50 146.00h1.50v1.50h-1.50zM121.50 147.50h1.50v1.50h-1.50zM121.50 149.00h1.50v1.50h-1.50z"/>
<path fill="#000" d="M37.50 138.50h1.50v1.50h-1.50zM37.50 140.00h1.50v1.50h-1.50zM37.50 141.50h1.50v1.50h-1.50zM37.50 143.00h1.50v1.50h-1.50zM39.00 137.00h1.50v1.50h-1.50zM39.00 138.50h1.50v1.50h-1.50zM39.00 140.00h1.50v1.50h-1.50zM39.00 141.50h1.50v1.50h-1.50zM39.00 143.00h1.50v1.50h-1.50zM39.00 144.50h1.50v1.50h-1.50zM40.50 137.00h1.50v1.50h-1.50zM40.50 138.50h1.50v1.50h-1.50zM40.50 140.00h1.50v1.50h-1.50zM40.50 141.50h1.50v1.50h-1.50zM40.50 143.00h1.50v1.50h-1.50zM40.50 144.50h1.50v1.50h-1.50zM40.50 146.00h1.50v1.50h-1.50zM42.00 135.50h1.50v1.50h-1.50zM42.00 137.00h1.50v1.50h-1.50zM42.00 138.50h1.50v1.50h-1.50zM42.00 140.00h1.50v1.50h-1.50zM42.00 141.50h1.50v1.50h-1.50zM42.00 143.00h1.50v1.50h-1.50zM42.00 144.50h1.50v1.50h-1.50zM42.00 146.00h1.50v1.50h-1.50zM42.00 147.50h1.50v1.50h-1.50zM43.50 134.00h1.50v1.50h-1.50zM43.50 135.50h1.50v1.50h-1.50zM43.50 137.00h1.50v1.50h-1.50zM43.50 138.50h1.50v1.50h-1.50zM43.50 140.00h1.50v1.50h-1.50zM43.50 141.50h1.50v1.50h-1.50zM43.50 143.00h1.50v1.50h-1.50zM43.50 144.50h1.50v1.50h-1.50zM43.50 146.00h1.50v1.50h-1.50zM43.50 147.50h1.50v1.50h-1.50zM45.00 134.00h1.50v1.50h-1.50zM45.00 135.50h1.50v1.50h-1.50zM45.00 137.00h1.50v1.50h-1.50zM45.00 138.50h1.50v1.50h-1.50zM45.00 140.00h1.50v1.50h-1.50zM45.00 141.50h1.50v1.50h-1.50zM45.00 143.00h1.50v1.50h-1.50zM45.00 144.50h1.50v1.50h-1.50zM45.00 146.00h1.50v1.50h-1.50zM45.00 147.50h1.50v1.50h-1.50zM45.00 149.00h1.50v1.50h-1.50zM46.50 134.00h1.50v1.50h-1.50zM46.50 135.50h1.50v1.50h-1.50zM46.50 137.00h1.50v1.50h-1.50zM46.50 138.50h1.50v1.50h-1.50zM46.50 140.00h1.50v1.50h-1.50zM46.50 141.50h1.50v1.50h-1.50zM46.50 143.00h1.50v1.50h-1.50zM46.50 144.50h1.50v1.50h-1.50zM46.50 146.00h1.50v1.50h-1.50zM46.50 147.50h1.50v1.50h-1.50zM46.50 149.00h1.50v1.50h-1.50zM48.00 135.50h1.50v1.50h-1.50zM48.00 137.00h1.50v1.50h-1.50zM48.00 138.50h1.50v1.50h-1.50zM48.00 140.00h1.50v1.50h-1.50zM48.00 141.50h1.50v1.50h-1.50zM48.00 143.00h1.50v1.50h-1.50zM48.00 144.50h1.50v1.50h-1.50zM48.00 146.00h1.50v1.50h-1.50zM48.00 147.50h1.50v1.50h-1.50zM48.00 149.00h1.50v1.50h-1.50zM48.00 150.50h1.50v1.50h-1.50zM49.50 137.00h1.50v1.50h-1.50zM49.50 138.50h1.50v1.50h-1.50zM49.50 140.00h1.50v1.50h-1.50zM49.50 141.50h1.50v1.50h-1.50zM49.50 143.00h1.50v1.50h-1.50zM49.50 144.50h1.50v1.50h-1.50zM49.50 146.00h1.50v1.50h-1.50zM49.50 147.50h1.50v1.50h-1.50zM49.50 149.00h1.50v1.50h-1.50zM49.50 150.50h1.50v1.50h-1.50zM51.00 138.50h1.50v1.50h-1.50zM51.00 140.00h1.50v1.50h-1.50zM51.00 141.50h1.50v1.50h-1.50zM51.00 143.00h1.50v1.50h-1.50zM51.00 144.50h1.50v1.50h-1.50zM51.00 146.00h1.50v1.50h-1.50zM51.00 147.50h1.50v1.50h-1.50zM51.00 149.00h1.50v1.50h-1.50zM52.50 141.50h1.50v1.50h-1.50zM52.50 143.00h1.50v1.50h-1.50zM52.50 144.50h1.50v1.50h-1.50zM52.50 146.00h1.50v1.50h-1.50zM52.50 147.50h1.50v1.50h-1.50z"/>
<path fill="#dd0000" d="M58.50 140.00h1.50v1.50h-1.50zM58.50 141.50h1.50v1.50h-1.50zM58.50 143.00h1.50v1.50h-1.50zM60.00 138.50h1.50v1.50h-1.50zM60.00 140.00h1.50v1.50h-1.50zM60.00 141.50h1.50v1.50h-1.50zM60.00 143.00h1.50v1.50h-1.50zM60.00 144.50h1.50v1.50h-1.50zM60.00 146.00h1.50v1.50h-1.50zM61.50 138.50h1.50v1.50h-1.50zM61.50 140.00h1.50v1.50h-1.50zM61.50 141.50h1.50v1.50h-1.50zM61.50 143.00h1.50v1.50h-1.50zM61.50 144.50h1.50v1.50h-1.50zM61.50 146.00h1.50v1.50h-1.50zM61.50 147.50h1.50v1.50h-1.50zM63.00 137.00h1.50v1.50h-1.50zM63.00 138.50h1.50v1.50h-1.50zM63.00 140.00h1.50v1.50h-1.50zM63.00 141.50h1.50v1.50h-1.50zM63.00 143.00h1.50v1.50h-1.50zM63.00 144.50h1.50v1.50h-1.50zM63.00 146.00h1.50v1.50h-1.50zM63.00 147.50h1.50v1.50h-1.50zM64.50 135.50h1.50v1.50h-1.50zM64.50 137.00h1.50v1.50h-1.50zM64.50 138.50h1.50v1.50h-1.50zM64.50 140.00h1.50v1.50h-1.50zM64.50 141.50h1.50v1.50h-1.50zM64.50 143.00h1.50v1.50h-1.50zM64.50 144.50h1.50v1.50h-1.50zM64.50 146.00h1.50v1.50h-1.50zM64.50 147.50h1.50v1.50h-1.50zM64.50 149.00h1.50v1.50h-1.50zM66.00 135.50h1.50v1.50h-1.50zM66.00 137.00h1.50v1.50h-1.50zM66.00 138.50h1.50v1.50h-1.50zM66.00 140.00h1.50v1.50h-1.50zM66.00 141.50h1.50v1.50h-1.50zM66.00 143.00h1.50v1.50h-1.50zM66.00 144.50h1.50v1.50h-1.50zM66.00 146.00h1.50v1.50h-1.50zM66.00 147.50h1.50v1.50h-1.50zM66.00 149.00h1.50v1.50h-1.50zM67.50 137.00h1.50v1.50h-1.50zM67.50 138.50h1.50v1.50h-1.50zM67.50 140.00h1.50v1.50h-1.50zM67.50 141.50h1.50v1.50h-1.50zM67.50 143.00h1.50v1.50h-1.50zM67.50 144.50h1.50v1.50h-1.50zM67.50 146.00h1.50v1.50h-1.50zM67.50 147.50h1.50v1.50h-1.50zM67.50 149.00h1.50v1.50h-1.50zM69.00 138.50h1.50v1.50h-1.50zM69.00 140.00h1.50v1.50h-1.50zM69.00 141.50h1.50v1.50h-1.50zM69.00 143.00h1.50v1.50h-1.50zM69.00 144.50h1.50v1.50h-1.50zM69.00 146.00h1.50v1.50h-1.50zM69.00 147.50h1.50v1.50h-1.50zM69.00 149.00h1.50v1.50h-1.50zM69.00 150.50h1.50v1.50h-1.50zM70.50 138.50h1.50v1.50h-1.50zM70.50 140.00h1.50v1.50h-1.50zM70.50 141.50h1.50v1.50h-1.50zM70.50 143.00h1.50v1.50h-1.50zM70.50 144.50h1.50v1.50h-1.50zM70.50 146.00h1.50v1.50h-1.50zM70.50 147.50h1.50v1.50h-1.50zM70.50 149.00h1.50v1.50h-1.50zM70.50 150.50h1.50v1.50h-1.50zM72.00 135.50h1.50v1.50h-1.50zM72.00 137.00h1.50v1.50h-1.50zM72.00 138.50h1.50v1.50h-1.50zM72.00 140.00h1.50v1.50h-1.50zM72.00 141.50h1.50v1.50h-1.50zM72.00 143.00h1.50v1.50h-1.50zM72.00 144.50h1.50v1.50h-1.50zM72.00 146.00h1.50v1.50h-1.50zM72.00 147.50h1.50v1.50h-1.50zM72.00 149.00h1.50v1.50h-1.50zM72.00 150.50h1.50v1.50h-1.50zM73.50 134.00h1.50v1.50h-1.50zM73.50 135.50h1.50v1.50h-1.50zM73.50 137.00h1.50v1.50h-1.50zM73.50 138.50h1.50v1.50h-1.50zM73.50 140.00h1.50v1.50h-1.50zM73.50 141.50h1.50v1.50h-1.50zM73.50 143.00h1.50v1.50h-1.50zM73.50 144.50h1.50v1.50h-1.50zM73.50 146.00h1.50v1.50h-1.50zM73.50 147.50h1.50v1.50h-1.50zM73.50 149.00h1.50v1.50h-1.50zM75.00 134.00h1.50v1.50h-1.50zM75.00 135.50h1.50v1.50h-1.50zM75.00 137.00h1.50v1.50h-1.50zM75.00 138.50h1.50v1.50h-1.50zM75.00 140.00h1.50v1.50h-1.50zM75.00 141.50h1.50v1.50h-1.50zM75.00 143.00h1.50v1.50h-1.50zM75.00 144.50h1.50v1.50h-1.50zM75.00 146.00h1.50v1.50h-1.50zM75.00 147.50h1.50v1.50h-1.50zM75.00 149.00h1.50v1.50h-1.50zM76.50 134.00h1.50v1.50h-1.50zM76.50 135.50h1.50v1.50h-1.50zM76.50 137.00h1.50v1.50h-1.50zM76.50 138.50h1.50v1.50h-1.50zM76.50 140.00h1.50v1.50h-1.50zM76.50 141.50h1.50v1.50h-1.50zM76.50 143.00h1.50v1.50h-1.50zM76.50 144.50h1.50v1.50h-1.50zM76.50 146.00h1.50v1.50h-1.50zM76.50 147.50h1.50v1.50h-1.50zM76.50 149.00h1.50v1.50h-1.50zM78.00 134.00h1.50v1.50h-1.50zM78.00 135.50h1.50v1.50h-1.50zM78.00 137.00h1.50v1.50h-1.50zM78.00 138.50h1.50v1.50h-1.50zM78.00 140.00h1.50v1.50h-1.50zM78.00 141.50h1.50v1.50h-1.50zM78.00 143.00h1.50v1.50h-1.50zM78.00 144.50h1.50v1.50h-1.50zM78.00 146.00h1.50v1.50h-1.50zM78.00 147.50h1.50v1.50h-1.50zM79.50 140.00h1.50v1.50h-1.50zM79.50 141.50h1.50v1.50h-1.50zM79.50 143.00h1.50v1.50h-1.50zM79.50 144.50h1.50v1.50h-1.50z"/>
<path fill="#000" d="M43.50 161.00h1.50v1.50h-1.50zM43.50 162.50h1.50v1.50h-1.50zM43.50 164.00h1.50v1.50h-1.50zM43.50 165.50h1.50v1.50h-1.50zM45.00 159.50h1.50v1.50h-1.50zM45.00 161.00h1.50v1.50h-1.50zM45.00 162.50h1.50v1.50h-1.50zM45.00 164.00h1.50v1.50h-1.50zM45.00 165.50h1.50v1.50h-1.50zM45.00 167.00h1.50v1.50h-1.50zM46.50 159.50h1.50v1.50h-1.50zM46.50 161.00h1.50v1.50h-1.50zM46.50 162.50h1.50v1.50h-1.50zM46.50 164.00h1.50v1.50h-1.50zM46.50 165.50h1.50v1.50h-1.50zM46.50 167.00h1.50v1.50h-1.50zM46.50 168.50h1.50v1.50h-1.50zM46.50 170.00h1.50v1.50h-1.50zM48.00 161.00h1.50v1.50h-1.50zM48.00 162.50h1.50v1.50h-1.50zM48.00 164.00h1.50v1.50h-1.50zM48.00 165.50h1.50v1.50h-1.50zM48.00 167.00h1.50v1.50h-1.50zM48.00 168.50h1.50v1.50h-1.50zM48.00 170.00h1.50v1.50h-1.50zM49.50 161.00h1.50v1.50h-1.50zM49.50 162.50h1.50v1.50h-1.50zM49.50 164.00h1.50v1.50h-1.50zM49.50 165.50h1.50v1.50h-1.50zM49.50 167.00h1.50v1.50h-1.50zM49.50 168.50h1.50v1.50h-1.50zM49.50 170.00h1.50v1.50h-1.50zM51.00 161.00h1.50v1.50h-1.50zM51.00 162.50h1.50v1.50h-1.50zM51.00 164.00h1.50v1.50h-1.50zM51.00 165.50h1.50v1.50h-1.50zM51.00 167.00h1.50v1.50h-1.50zM51.00 168.50h1.50v1.50h-1.50zM51.00 170.00h1.50v1.50h-1.50zM52.50 161.00h1.50v1.50h-1.50zM52.50 162.50h1.50v1.50h-1.50zM52.50 164.00h1.50v1.50h-1.50zM52.50 165.50h1.50v1.50h-1.50zM52.50 167.00h1.50v1.50h-1.50zM52.50 168.50h1.50v1.50h-1.50zM54.00 161.00h1.50v1.50h-1.50zM54.00 162.50h1.50v1.50h-1.50zM54.00 164.00h1.50v1.50h-1.50zM54.00 165.50h1.50v1.50h-1.50z"/>
<path fill="#000" d="M58.50 168.50h1.50v1.50h-1.50zM58.50 170.00h1.50v1.50h-1.50zM58.50 171.50h1.50v1.50h-1.50zM60.00 168.50h1.50v1.50h-1.50zM60.00 170.00h1.50v1.50h-1.50zM60.00 171.50h1.50v1.50h-1.50zM60.00 173.00h1.50v1.50h-1.50zM60.00 174.50h1.50v1.50h-1.50zM61.50 168.50h1.50v1.50h-1.50zM61.50 170.00h1.50v1.50h-1.50zM61.50 171.50h1.50v1.50h-1.50zM61.50 173.00h1.50v1.50h-1.50zM61.50 174.50h1.50v1.50h-1.50zM61.50 176.00h1.50v1.50h-1.50zM63.00 168.50h1.50v1.50h-1.50zM63.00 170.00h1.50v1.50h-1.50zM63.00 171.50h1.50v1.50h-1.50zM63.00 173.00h1.50v1.50h-1.50zM63.00 174.50h1.50v1.50h-1.50zM63.00 176.00h1.50v1.50h-1.50zM63.00 177.50h1.50v1.50h-1.50zM64.50 168.50h1.50v1.50h-1.50zM64.50 170.00h1.50v1.50h-1.50zM64.50 171.50h1.50v1.50h-1.50zM64.50 173.00h1.50v1.50h-1.50zM64.50 174.50h1.50v1.50h-1.50zM64.50 176.00h1.50v1.50h-1.50zM64.50 177.50h1.50v1.50h-1.50zM64.50 179.00h1.50v1.50h-1.50zM66.00 168.50h1.50v1.50h-1.50zM66.00 170.00h1.50v1.50h-1.50zM66.00 171.50h1.50v1.50h-1.50zM66.00 173.00h1.50v1.50h-1.50zM66.00 174.50h1.50v1.50h-1.50zM66.00 176.00h1.50v1.50h-1.50zM66.00 177.50h1.50v1.50h-1.50zM66.00 179.00h1.50v1.50h-1.50zM67.50 168.50h1.50v1.50h-1.50zM67.50 170.00h1.50v1.50h-1.50zM67.50 171.50h1.50v1.50h-1.50zM67.50 173.00h1.50v1.50h-1.50zM67.50 174.50h1.50v1.50h-1.50zM67.50 176.00h1.50v1.50h-1.50zM67.50 177.50h1.50v1.50h-1.50zM69.00 168.50h1.50v1.50h-1.50zM69.00 170.00h1.50v1.50h-1.50zM69.00 171.50h1.50v1.50h-1.50zM69.00 173.00h1.50v1.50h-1.50zM69.00 174.50h1.50v1.50h-1.50zM69.00 176.00h1.50v1.50h-1.50zM69.00 177.50h1.50v1.50h-1.50zM70.50 168.50h1.50v1.50h-1.50zM70.50 170.00h1.50v1.50h-1.50zM70.50 171.50h1.50v1.50h-1.50zM70.50 173.00h1.50v1.50h-1.50zM70.50 174.50h1.50v1.50h-1.50zM70.50 176.00h1.50v1.50h-1.50zM72.00 168.50h1.50v1.50h-1.50zM72.00 170.00h1.50v1.50h-1.50zM72.00 171.50h1.50v1.50h-1.50zM72.00 173.00h1.50v1.50h-1.50zM72.00 174.50h1.50v1.50h-1.50zM73.50 170.00h1.50v1.50h-1.50zM73.50 171.50h1.50v1.50h-1.50zM73.50 173.00h1.50v1.50h-1.50zM73.50 174.50h1.50v1.50h-1.50zM75.00 170.00h1.50v1.50h-1.50zM75.00 171.50h1.50v1.50h-1.50zM75.00 173.00h1.50v1.50h-1.50z"/>
<path fill="#dd0000" d="M130.50 144.50h1.50v1.50h-1.50zM130.50 146.00h1.50v1.50h-1.50zM132.00 141.50h1.50v1.50h-1.50zM132.00 143.00h1.50v1.50h-1.50zM132.00 144.50h1.50v1.50h-1.50zM132.00 146.00h1.50v1.50h-1.50zM132.00 147.50h1.50v1.50h-1.50zM132.00 149.00h1.50v1.50h-1.50zM132.00 150.50h1.50v1.50h-1.50zM133.50 140.00h1.50v1.50h-1.50zM133.50 141.50h1.50v1.50h-1.50zM133.50 143.00h1.50v1.50h-1.50zM133.50 144.50h1.50v1.50h-1.50zM133.50 146.00h1.50v1.50h-1.50zM133.50 147.50h1.50v1.50h-1.50zM133.50 149.00h1.50v1.50h-1.50zM133.50 150.50h1.50v1.50h-1.50zM135.00 138.50h1.50v1.50h-1.50zM135.00 140.00h1.50v1.50h-1.50zM135.00 141.50h1.50v1.50h-1.50zM135.00 143.00h1.50v1.50h-1.50zM135.00 144.50h1.50v1.50h-1.50zM135.00 146.00h1.50v1.50h-1.50zM135.00 147.50h1.50v1.50h-1.50zM135.00 149.00h1.50v1.50h-1.50zM135.00 150.50h1.50v1.50h-1.50zM136.50 138.50h1.50v1.50h-1.50zM136.50 140.00h1.50v1.50h-1.50zM136.50 141.50h1.50v1.50h-1.50zM136.50 143.00h1.50v1.50h-1.50zM136.50 144.50h1.50v1.50h-1.50zM136.50 146.00h1.50v1.50h-1.50zM136.50 147.50h1.50v1.50h-1.50zM136.50 149.00h1.50v1.50h-1.50zM138.00 137.00h1.50v1.50h-1.50zM138.00 138.50h1.50v1.50h-1.50zM138.00 140.00h1.50v1.50h-1.50zM138.00 141.50h1.50v1.50h-1.50zM138.00 143.00h1.50v1.50h-1.50zM138.00 144.50h1.50v1.50h-1.50zM138.00 146.00h1.50v1.50h-1.50zM138.00 147.50h1.50v1.50h-1.50zM139.50 138.50h1.50v1.50h-1.50zM139.50 140.00h1.50v1.50h-1.50zM139.50 141.50h1.50v1.50h-1.50zM139.50 143.00h1.50v1.50h-1.50z"/>
<path fill="#000" d="M130.50 162.50h1.50v1.50h-1.50zM130.50 164.00h1.50v1.50h-1.50zM130.50 165.50h1.50v1.50h-1.50zM130.50 167.00h1.50v1.50h-1.50zM132.00 161.00h1.50v1.50h-1.50zM132.00 162.50h1.50v1.50h-1.50zM132.00 164.00h1.50v1.50h-1.50zM132.00 165.50h1.50v1.50h-1.50zM132.00 167.00h1.50v1.50h-1.50zM132.00 168.50h1.50v1.50h-1.50zM133.50 161.00h1.50v1.50h-1.50zM133.50 162.50h1.50v1.50h-1.50zM133.50 164.00h1.50v1.50h-1.50zM133.50 165.50h1.50v1.50h-1.50zM133.50 167.00h1.50v1.50h-1.50zM133.50 168.50h1.50v1.50h-1.50zM135.00 159.50h1.50v1.50h-1.50zM135.00 161.00h1.50v1.50h-1.50zM135.00 162.50h1.50v1.50h-1.50zM135.00 164.00h1.50v1.50h-1.50zM135.00 165.50h1.50v1.50h-1.50zM135.00 167.00h1.50v1.50h-1.50zM135.00 168.50h1.50v1.50h-1.50zM136.50 161.00h1.50v1.50h-1.50zM136.50 162.50h1.50v1.50h-1.50zM136.50 164.00h1.50v1.50h-1.50zM136.50 165.50h1.50v1.50h-1.50zM136.50 167.00h1.50v1.50h-1.50zM136.50 168.50h1.50v1.50h-1.50zM138.00 161.00h1.50v1.50h-1.50zM138.00 162.50h1.50v1.50h-1.50zM138.00 164.00h1.50v1.50h-1.50zM138.00 165.50h1.50v1.50h-1.50zM138.00 167.00h1.50v1.50h-1.50zM138.00 168.50h1.50v1.50h-1.50zM139.50 161.00h1.50v1.50h-1.50zM139.50 162.50h1.50v1.50h-1.50zM139.50 164.00h1.50v1.50h-1.50zM139.50 165.50h1.50v1.50h-1.50zM139.50 167.00h1.50v1.50h-1.50zM139.50 168.50h1.50v1.50h-1.50zM141.00 161.00h1.50v1.50h-1.50zM141.00 162.50h1.50v1.50h-1.50zM141.00 164.00h1.50v1.50h-1.50zM141.00 165.50h1.50v1.50h-1.50zM141.00 167.00h1.50v1.50h-1.50zM141.00 168.50h1.50v1.50h-1.50zM142.50 161.00h1.50v1.50h-1.50zM142.50 162.50h1.50v1.50h-1.50zM142.50 164.00h1.50v1.50h-1.50zM142.50 165.50h1.50v1.50h-1.50zM142.50 167.00h1.50v1.50h-1.50zM142.50 168.50h1.50v1.50h-1.50zM144.00 161.00h1.50v1.50h-1.50zM144.00 162.50h1.50v1.50h-1.50zM144.00 164.00h1.50v1.50h-1.50zM144.00 165.50h1.50v1.50h-1.50zM144.00 167.00h1.50v1.50h-1.50zM144.00 168.50h1.50v1.50h-1.50zM145.50 162.50h1.50v1.50h-1.50zM145.50 164.00h1.50v1.50h-1.50zM145.50 165.50h1.50v1.50h-1.50z"/>
<path fill="#dd0000" d="M109.50 170.00h1.50v1.50h-1.50zM109.50 171.50h1.50v1.50h-1.50zM109.50 173.00h1.50v1.50h-1.50zM109.50 174.50h1.50v1.50h-1.50zM109.50 176.00h1.50v1.50h-1.50zM111.00 168.50h1.50v1.50h-1.50zM111.00 170.00h1.50v1.50h-1.50zM111.00 171.50h1.50v1.50h-1.50zM111.00 173.00h1.50v1.50h-1.50zM111.00 174.50h1.50v1.50h-1.50zM111.00 176.00h1.50v1.50h-1.50zM112.50 168.50h1.50v1.50h-1.50zM112.50 170.00h1.50v1.50h-1.50zM112.50 171.50h1.50v1.50h-1.50zM112.50 173.00h1.50v1.50h-1.50zM112.50 174.50h1.50v1.50h-1.50zM112.50 176.00h1.50v1.50h-1.50zM112.50 177.50h1.50v1.50h-1.50zM114.00 168.50h1.50v1.50h-1.50zM114.00 170.00h1.50v1.50h-1.50zM114.00 171.50h1.50v1.50h-1.50zM114.00 173.00h1.50v1.50h-1.50zM114.00 174.50h1.50v1.50h-1.50zM114.00 176.00h1.50v1.50h-1.50zM114.00 177.50h1.50v1.50h-1.50zM114.00 179.00h1.50v1.50h-1.50zM115.50 170.00h1.50v1.50h-1.50zM115.50 171.50h1.50v1.50h-1.50zM115.50 173.00h1.50v1.50h-1.50zM115.50 174.50h1.50v1.50h-1.50zM115.50 176.00h1.50v1.50h-1.50zM115.50 177.50h1.50v1.50h-1.50zM115.50 179.00h1.50v1.50h-1.50zM117.00 171.50h1.50v1.50h-1.50zM117.00 173.00h1.50v1.50h-1.50zM117.00 174.50h1.50v1.50h-1.50zM117.00 176.00h1.50v1.50h-1.50zM117.00 177.50h1.50v1.50h-1.50zM117.00 179.00h1.50v1.50h-1.50zM117.00 180.50h1.50v1.50h-1.50zM118.50 174.50h1.50v1.50h-1.50zM118.50 176.00h1.50v1.50h-1.50zM118.50 177.50h1.50v1.50h-1.50zM118.50 179.00h1.50v1.50h-1.50z"/>
<path fill="#dd0000" d="M34.50 203.00h1.50v1.50h-1.50zM34.50 204.50h1.50v1.50h-1.50zM34.50 206.00h1.50v1.50h-1.50zM34.50 207.50h1.50v1.50h-1.50zM36.00 201.50h1.50v1.50h-1.50zM36.00 203.00h1.50v1.50h-1.50zM36.00 204.50h1.50v1.50h-1.50zM36.00 206.00h1.50v1.50h-1.50zM36.00 207.50h1.50v1.50h-1.50zM36.00 209.00h1.50v1.50h-1.50zM37.50 200.00h1.50v1.50h-1.50zM37.50 201.50h1.50v1.50h-1.50zM37.50 203.00h1.50v1.50h-1.50zM37.50 204.50h1.50v1.50h-1.50zM37.50 206.00h1.50v1.50h-1.50zM37.50 207.50h1.50v1.50h-1.50zM37.50 209.00h1.50v1.50h-1.50zM39.00 200.00h1.50v1.50h-1.50zM39.00 201.50h1.50v1.50h-1.50zM39.00 203.00h1.50v1.50h-1.50zM39.00 204.50h1.50v1.50h-1.50zM39.00 206.00h1.50v1.50h-1.50zM39.00 207.50h1.50v1.50h-1.50zM39.00 209.00h1.50v1.50h-1.50zM39.00 210.50h1.50v1.50h-1.50zM40.50 200.00h1.50v1.50h-1.50zM40.50 201.50h1.50v1.50h-1.50zM40.50 203.00h1.50v1.50h-1.50zM40.50 204.50h1.50v1.50h-1.50zM40.50 206.00h1.50v1.50h-1.50zM40.50 207.50h1.50v1.50h-1.50zM40.50 209.00h1.50v1.50h-1.50zM40.50 210.50h1.50v1.50h-1.50zM42.00 200.00h1.50v1.50h-1.50zM42.00 201.50h1.50v1.50h-1.50zM42.00 203.00h1.50v1.50h-1.50zM42.00 204.50h1.50v1.50h-1.50zM42.00 206.00h1.50v1.50h-1.50zM42.00 207.50h1.50v1.50h-1.50zM42.00 209.00h1.50v1.50h-1.50zM42.00 210.50h1.50v1.50h-1.50zM43.50 201.50h1.50v1.50h-1.50zM43.50 203.00h1.50v1.50h-1.50zM43.50 204.50h1.50v1.50h-1.50zM43.50 206.00h1.50v1.50h-1.50zM43.50 207.50h1.50v1.50h-1.50zM43.50 209.00h1.50v1.50h-1.50zM45.00 201.50h1.50v1.50h-1.50zM45.00 203.00h1.50v1.50h-1.50zM45.00 204.50h1.50v1.50h-1.50zM45.00 206.00h1.50v1.50h-1.50zM45.00 207.50h1.50v1.50h-1.50z"/>
<path fill="#dd0000" d="M36.00 219.50h1.50v1.50h-1.50zM36.00 221.00h1.50v1.50h-1.50zM36.00 222.50h1.50v1.50h-1.50zM36.00 224.00h1.50v1.50h-1.50zM36.00 225.50h1.50v1.50h-1.50zM36.00 227.00h1.50v1.50h-1.50zM36.00 228.50h1.50v1.50h-1.50zM36.00 230.00h1.50v1.50h-1.50zM36.00 231.50h1.50v1.50h-1.50zM36.00 233.00h1.50v1.50h-1.50zM36.00 234.50h1.50v1.50h-1.50zM36.00 236.00h1.50v1.50h-1.50zM37.50 218.00h1.50v1.50h-1.50zM37.50 219.50h1.50v1.50h-1.50zM37.50 221.00h1.50v1.50h-1.50zM37.50 222.50h1.50v1.50h-1.50zM37.50 224.00h1.50v1.50h-1.50zM37.50 225.50h1.50v1.50h-1.50zM37.50 227.00h1.50v1.50h-1.50zM37.50 228.50h1.50v1.50h-1.50zM37.50 230.00h1.50v1.50h-1.50zM37.50 231.50h1.50v1.50h-1.50zM37.50 233.00h1.50v1.50h-1.50zM37.50 234.50h1.50v1.50h-1.50zM37.50 236.00h1.50v1.50h-1.50zM37.50 237.50h1.50v1.50h-1.50zM39.00 216.50h1.50v1.50h-1.50zM39.00 218.00h1.50v1.50h-1.50zM39.00 219.50h1.50v1.50h-1.50zM39.00 221.00h1.50v1.50h-1.50zM39.00 222.50h1.50v1.50h-1.50zM39.00 224.00h1.50v1.50h-1.50zM39.00 225.50h1.50v1.50h-1.50zM39.00 227.00h1.50v1.50h-1.50zM39.00 228.50h1.50v1.50h-1.50zM39.00 230.00h1.50v1.50h-1.50zM39.00 231.50h1.50v1.50h-1.50zM39.00 233.00h1.50v1.50h-1.50zM39.00 234.50h1.50v1.50h-1.50zM39.00 236.00h1.50v1.50h-1.50zM39.00 237.50h1.50v1.50h-1.50zM39.00 239.00h1.50v1.50h-1.50zM40.50 216.50h1.50v1.50h-1.50zM40.50 218.00h1.50v1.50h-1.50zM40.50 219.50h1.50v1.50h-1.50zM40.50 221.00h1.50v1.50h-1.50zM40.50 222.50h1.50v1.50h-1.50zM40.50 224.00h1.50v1.50h-1.50zM40.50 225.50h1.50v1.50h-1.50zM40.50 227.00h1.50v1.50h-1.50zM40.50 228.50h1.50v1.50h-1.50zM40.50 230.00h1.50v1.50h-1.50zM40.50 231.50h1.50v1.50h-1.50zM40.50 233.00h1.50v1.50h-1.50zM40.50 234.50h1.50v1.50h-1.50zM40.50 236.00h1.50v1.50h-1.50zM40.50 237.50h1.50v1.50h-1.50zM40.50 239.00h1.50v1.50h-1.50zM42.00 216.50h1.50v1.50h-1.50zM42.00 218.00h1.50v1.50h-1.50zM42.00 219.50h1.50v1.50h-1.50zM42.00 221.00h1.50v1.50h-1.50zM42.00 222.50h1.50v1.50h-1.50zM42.00 224.00h1.50v1.50h-1.50zM42.00 225.50h1.50v1.50h-1.50zM42.00 227.00h1.50v1.50h-1.50zM42.00 228.50h1.50v1.50h-1.50zM42.00 230.00h1.50v1.50h-1.50zM42.00 231.50h1.50v1.50h-1.50zM42.00 233.00h1.50v1.50h-1.50zM42.00 234.50h1.50v1.50h-1.50zM42.00 236.00h1.50v1.50h-1.50zM42.00 237.50h1.50v1.50h-1.50zM42.00 239.00h1.50v1.50h-1.50zM43.50 216.50h1.50v1.50h-1.50zM43.50 218.00h1.50v1.50h-1.50zM43.50 219.50h1.50v1.50h-1.50zM43.50 221.00h1.50v1.50h-1.50zM43.50 222.50h1.50v1.50h-1.50zM43.50 224.00h1.50v1.50h-1.50zM43.50 225.50h1.50v1.50h-1.50zM43.50 227.00h1.50v1.50h-1.50zM43.50 228.50h1.50v1.50h-1.50zM43.50 230.00h1.50v1.50h-1.50zM43.50 231.50h1.50v1.50h-1.50zM43.50 233.00h1.50v1.50h-1.50zM43.50 234.50h1.50v1.50h-1.50zM43.50 236.00h1.50v1.50h-1.50zM43.50 237.50h1.50v1.50h-1.50zM43.50 239.00h1.50v1.50h-1.50zM45.00 218.00h1.50v1.50h-1.50zM45.00 219.50h1.50v1.50h-1.50zM45.00 221.00h1.50v1.50h-1.50zM45.00 222.50h1.50v1.50h-1.50zM45.00 224.00h1.50v1.50h-1.50zM45.00 225.50h1.50v1.50h-1.50zM45.00 227.00h1.50v1.50h-1.50zM45.00 228.50h1.50v1.50h-1.50zM45.00 230.00h1.50v1.50h-1.50zM45.00 231.50h1.50v1.50h-1.50zM45.00 233.00h1.50v1.50h-1.50zM45.00 234.50h1.50v1.50h-1.50zM45.00 236.00h1.50v1.50h-1.50zM45.00 237.50h1.50v1.50h-1.50zM45.00 239.00h1.50v1.50h-1.50zM46.50 218.00h1.50v1.50h-1.50zM46.50 219.50h1.50v1.50h-1.50zM46.50 221.00h1.50v1.50h-1.50zM46.50 222.50h1.50v1.50h-1.50zM46.50 224.00h1.50v1.50h-1.50zM46.50 225.50h1.50v1.50h-1.50zM46.50 227.00h1.50v1.50h-1.50zM46.50 228.50h1.50v1.50h-1.50zM46.50 230.00h1.50v1.50h-1.50zM46.50 231.50h1.50v1.50h-1.50zM46.50 233.00h1.50v1.50h-1.50zM46.50 234.50h1.50v1.50h-1.50zM46.50 236.00h1.50v1.50h-1.50zM46.50 237.50h1.50v1.50h-1.50zM48.00 219.50h1.50v1.50h-1.50zM48.00 221.00h1.50v1.50h-1.50zM48.00 222.50h1.50v1.50h-1.50zM48.00 224.00h1.50v1.50h-1.50zM48.00 225.50h1.50v1.50h-1.50zM48.00 227.00h1.50v1.50h-1.50zM48.00 228.50h1.50v1.50h-1.50zM48.00 230.00h1.50v1.50h-1.50zM48.00 231.50h1.50v1.50h-1.50zM48.00 233.00h1.50v1.50h-1.50zM48.00 234.50h1.50v1.50h-1.50zM48.00 236.00h1.50v1.50h-1.50zM49.50 224.00h1.50v1.50h-1.50zM49.50 225.50h1.50v1.50h-1.50zM49.50 227.00h1.50v1.50h-1.50zM49.50 228.50h1.50v1.50h-1.50zM49.50 230.00h1.50v1.50h-1.50zM49.50 231.50h1.50v1.50h-1.50zM49.50 233.00h1.50v1.50h-1.50z"/>
<path fill="#000" d="M60.00 198.50h1.50v1.50h-1.50zM60.00 200.00h1.50v1.50h-1.50zM60.00 201.50h1.50v1.50h-1.50zM60.00 203.00h1.50v1.50h-1.50zM60.00 204.50h1.50v1.50h-1.50zM60.00 206.00h1.50v1.50h-1.50zM60.00 207.50h1.50v1.50h-1.50zM61.50 197.00h1.50v1.50h-1.50zM61.50 198.50h1.50v1.50h-1.50zM61.50 200.00h1.50v1.50h-1.50zM61.50 201.50h1.50v1.50h-1.50zM61.50 203.00h1.50v1.50h-1.50zM61.50 204.50h1.50v1.50h-1.50zM61.50 206.00h1.50v1.50h-1.50zM61.50 207.50h1.50v1.50h-1.50zM61.50 209.00h1.50v1.50h-1.50zM63.00 197.00h1.50v1.50h-1.50zM63.00 198.50h1.50v1.50h-1.50zM63.00 200.00h1.50v1.50h-1.50zM63.00 201.50h1.50v1.50h-1.50zM63.00 203.00h1.50v1.50h-1.50zM63.00 204.50h1.50v1.50h-1.50zM63.00 206.00h1.50v1.50h-1.50zM63.00 207.50h1.50v1.50h-1.50zM63.00 209.00h1.50v1.50h-1.50zM63.00 210.50h1.50v1.50h-1.50zM64.50 195.50h1.50v1.50h-1.50zM64.50 197.00h1.50v1.50h-1.50zM64.50 198.50h1.50v1.50h-1.50zM64.50 200.00h1.50v1.50h-1.50zM64.50 201.50h1.50v1.50h-1.50zM64.50 203.00h1.50v1.50h-1.50zM64.50 204.50h1.50v1.50h-1.50zM64.50 206.00h1.50v1.50h-1.50zM64.50 207.50h1.50v1.50h-1.50zM64.50 209.00h1.50v1.50h-1.50zM64.50 210.50h1.50v1.50h-1.50zM66.00 195.50h1.50v1.50h-1.50zM66.00 197.00h1.50v1.50h-1.50zM66.00 198.50h1.50v1.50h-1.50zM66.00 200.00h1.50v1.50h-1.50zM66.00 201.50h1.50v1.50h-1.50zM66.00 203.00h1.50v1.50h-1.50zM66.00 204.50h1.50v1.50h-1.50zM66.00 206.00h1.50v1.50h-1.50zM66.00 207.50h1.50v1.50h-1.50zM66.00 209.00h1.50v1.50h-1.50zM67.50 194.00h1.50v1.50h-1.50zM67.50 195.50h1.50v1.50h-1.50zM67.50 197.00h1.50v1.50h-1.50zM67.50 198.50h1.50v1.50h-1.50zM67.50 200.00h1.50v1.50h-1.50zM67.50 201.50h1.50v1.50h-1.50zM67.50 203.00h1.50v1.50h-1.50zM67.50 204.50h1.50v1.50h-1.50zM67.50 206.00h1.50v1.50h-1.50zM67.50 207.50h1.50v1.50h-1.50zM67.50 209.00h1.50v1.50h-1.50zM69.00 192.50h1.50v1.50h-1.50zM69.00 194.00h1.50v1.50h-1.50zM69.00 195.50h1.50v1.50h-1.50zM69.00 197.00h1.50v1.50h-1.50zM69.00 198.50h1.50v1.50h-1.50zM69.00 200.00h1.50v1.50h-1.50zM69.00 201.50h1.50v1.50h-1.50zM69.00 203.00h1.50v1.50h-1.50zM69.00 204.50h1.50v1.50h-1.50zM69.00 206.00h1.50v1.50h-1.50zM69.00 207.50h1.50v1.50h-1.50zM70.50 191.00h1.50v1.50h-1.50zM70.50 192.50h1.50v1.50h-1.50zM70.50 194.00h1.50v1.50h-1.50zM70.50 195.50h1.50v1.50h-1.50zM70.50 197.00h1.50v1.50h-1.50zM70.50 198.50h1.50v1.50h-1.50zM70.50 200.00h1.50v1.50h-1.50zM70.50 201.50h1.50v1.50h-1.50zM70.50 203.00h1.50v1.50h-1.50zM70.50 204.50h1.50v1.50h-1.50zM70.50 206.00h1.50v1.50h-1.50zM72.00 191.00h1.50v1.50h-1.50zM72.00 192.50h1.50v1.50h-1.50zM72.00 194.00h1.50v1.50h-1.50zM72.00 195.50h1.50v1.50h-1.50zM72.00 197.00h1.50v1.50h-1.50zM72.00 198.50h1.50v1.50h-1.50zM72.00 200.00h1.50v1.50h-1.50zM72.00 201.50h1.50v1.50h-1.50zM72.00 203.00h1.50v1.50h-1.50zM73.50 191.00h1.50v1.50h-1.50zM73.50 192.50h1.50v1.50h-1.50zM73.50 194.00h1.50v1.50h-1.50zM73.50 195.50h1.50v1.50h-1.50zM73.50 197.00h1.50v1.50h-1.50zM73.50 198.50h1.50v1.50h-1.50zM73.50 200.00h1.50v1.50h-1.50zM73.50 201.50h1.50v1.50h-1.50zM75.00 192.50h1.50v1.50h-1.50zM75.00 194.00h1.50v1.50h-1.50zM75.00 195.50h1.50v1.50h-1.50zM75.00 197.00h1.50v1.50h-1.50zM75.00 198.50h1.50v1.50h-1.50zM75.00 200.00h1.50v1.50h-1.50z"/>
<path fill="#000" d="M61.50 231.50h1.50v1.50h-1.50zM61.50 233.00h1.50v1.50h-1.50zM61.50 234.50h1.50v1.50h-1.50zM61.50 236.00h1.50v1.50h-1.50zM61.50 237.50h1.50v1.50h-1.50zM63.00 228.50h1.50v1.50h-1.50zM63.00 230.00h1.50v1.50h-1.50zM63.00 231.50h1.50v1.50h-1.50zM63.00 233.00h1.50v1.50h-1.50zM63.00 234.50h1.50v1.50h-1.50zM63.00 236.00h1.50v1.50h-1.50zM63.00 237.50h1.50v1.50h-1.50zM64.50 227.00h1.50v1.50h-1.50zM64.50 228.50h1.50v1.50h-1.50zM64.50 230.00h1.50v1.50h-1.50zM64.50 231.50h1.50v1.50h-1.50zM64.50 233.00h1.50v1.50h-1.50zM64.50 234.50h1.50v1.50h-1.50zM64.50 236.00h1.50v1.50h-1.50zM64.50 237.50h1.50v1.50h-1.50zM66.00 224.00h1.50v1.50h-1.50zM66.00 225.50h1.50v1.50h-1.50zM66.00 227.00h1.50v1.50h-1.50zM66.00 228.50h1.50v1.50h-1.50zM66.00 230.00h1.50v1.50h-1.50zM66.00 231.50h1.50v1.50h-1.50zM66.00 233.00h1.50v1.50h-1.50zM66.00 234.50h1.50v1.50h-1.50zM66.00 236.00h1.50v1.50h-1.50zM67.50 224.00h1.50v1.50h-1.50zM67.50 225.50h1.50v1.50h-1.50zM67.50 227.00h1.50v1.50h-1.50zM67.50 228.50h1.50v1.50h-1.50zM67.50 230.00h1.50v1.50h-1.50zM67.50 231.50h1.50v1.50h-1.50zM67.50 233.00h1.50v1.50h-1.50zM67.50 234.50h1.50v1.50h-1.50zM67.50 236.00h1.50v1.50h-1.50zM69.00 224.00h1.50v1.50h-1.50zM69.00 225.50h1.50v1.50h-1.50zM69.00 227.00h1.50v1.50h-1.50zM69.00 228.50h1.50v1.50h-1.50zM69.00 230.00h1.50v1.50h-1.50zM69.00 231.50h1.50v1.50h-1.50zM69.00 233.00h1.50v1.50h-1.50zM69.00 234.50h1.50v1.50h-1.50zM70.50 224.00h1.50v1.50h-1.50zM70.50 225.50h1.50v1.50h-1.50zM70.50 227.00h1.50v1.50h-1.50zM70.50 228.50h1.50v1.50h-1.50zM70.50 230.00h1.50v1.50h-1.50zM70.50 231.50h1.50v1.50h-1.50zM70.50 233.00h1.50v1.50h-1.50zM72.00 225.50h1.50v1.50h-1.50zM72.00 227.00h1.50v1.50h-1.50zM72.00 228.50h1.50v1.50h-1.50zM72.00 230.00h1.50v1.50h-1.50zM72.00 231.50h1.50v1.50h-1.50z"/>
<path fill="#dd0000" d="M82.50 176.00h1.50v1.50h-1.50zM82.50 177.50h1.50v1.50h-1.50zM82.50 179.00h1.50v1.50h-1.50zM82.50 180.50h1.50v1.50h-1.50zM84.00 170.00h1.50v1.50h-1.50zM84.00 171.50h1.50v1.50h-1.50zM84.00 173.00h1.50v1.50h-1.50zM84.00 174.50h1.50v1.50h-1.50zM84.00 176.00h1.50v1.50h-1.50zM84.00 177.50h1.50v1.50h-1.50zM84.00 179.00h1.50v1.50h-1.50zM84.00 180.50h1.50v1.50h-1.50zM85.50 164.00h1.50v1.50h-1.50zM85.50 165.50h1.50v1.50h-1.50zM85.50 167.00h1.50v1.50h-1.50zM85.50 168.50h1.50v1.50h-1.50zM85.50 170.00h1.50v1.50h-1.50zM85.50 171.50h1.50v1.50h-1.50zM85.50 173.00h1.50v1.50h-1.50zM85.50 174.50h1.50v1.50h-1.50zM85.50 176.00h1.50v1.50h-1.50zM85.50 177.50h1.50v1.50h-1.50zM85.50 179.00h1.50v1.50h-1.50zM85.50 180.50h1.50v1.50h-1.50zM87.00 162.50h1.50v1.50h-1.50zM87.00 164.00h1.50v1.50h-1.50zM87.00 165.50h1.50v1.50h-1.50zM87.00 167.00h1.50v1.50h-1.50zM87.00 168.50h1.50v1.50h-1.50zM87.00 170.00h1.50v1.50h-1.50zM87.00 171.50h1.50v1.50h-1.50zM87.00 173.00h1.50v1.50h-1.50zM87.00 174.50h1.50v1.50h-1.50zM87.00 176.00h1.50v1.50h-1.50zM87.00 177.50h1.50v1.50h-1.50zM87.00 179.00h1.50v1.50h-1.50zM88.50 161.00h1.50v1.50h-1.50zM88.50 162.50h1.50v1.50h-1.50zM88.50 164.00h1.50v1.50h-1.50zM88.50 165.50h1.50v1.50h-1.50zM88.50 167.00h1.50v1.50h-1.50zM88.50 168.50h1.50v1.50h-1.50zM88.50 170.00h1.50v1.50h-1.50zM88.50 171.50h1.50v1.50h-1.50zM88.50 173.00h1.50v1.50h-1.50zM88.50 174.50h1.50v1.50h-1.50zM88.50 176.00h1.50v1.50h-1.50zM88.50 177.50h1.50v1.50h-1.50zM88.50 179.00h1.50v1.50h-1.50zM90.00 161.00h1.50v1.50h-1.50zM90.00 162.50h1.50v1.50h-1.50zM90.00 164.00h1.50v1.50h-1.50zM90.00 165.50h1.50v1.50h-1.50zM90.00 167.00h1.50v1.50h-1.50zM90.00 168.50h1.50v1.50h-1.50zM90.00 170.00h1.50v1.50h-1.50zM90.00 171.50h1.50v1.50h-1.50zM90.00 173.00h1.50v1.50h-1.50zM90.00 174.50h1.50v1.50h-1.50zM90.00 176.00h1.50v1.50h-1.50zM90.00 177.50h1.50v1.50h-1.50zM91.50 161.00h1.50v1.50h-1.50zM91.50 162.50h1.50v1.50h-1.50zM91.50 164.00h1.50v1.50h-1.50zM91.50 165.50h1.50v1.50h-1.50zM91.50 167.00h1.50v1.50h-1.50zM91.50 168.50h1.50v1.50h-1.50zM91.50 170.00h1.50v1.50h-1.50zM91.50 171.50h1.50v1.50h-1.50zM91.50 173.00h1.50v1.50h-1.50zM91.50 174.50h1.50v1.50h-1.50zM91.50 176.00h1.50v1.50h-1.50zM93.00 162.50h1.50v1.50h-1.50zM93.00 164.00h1.50v1.50h-1.50zM93.00 165.50h1.50v1.50h-1.50zM93.00 167.00h1.50v1.50h-1.50zM93.00 168.50h1.50v1.50h-1.50zM93.00 170.00h1.50v1.50h-1.50zM93.00 171.50h1.50v1.50h-1.50zM93.00 173.00h1.50v1.50h-1.50zM93.00 174.50h1.50v1.50h-1.50zM94.50 164.00h1.50v1.50h-1.50zM94.50 165.50h1.50v1.50h-1.50zM94.50 167.00h1.50v1.50h-1.50zM94.50 168.50h1.50v1.50h-1.50zM94.50 170.00h1.50v1.50h-1.50zM94.50 171.50h1.50v1.50h-1.50zM94.50 173.00h1.50v1.50h-1.50z"/>
<path fill="#000" d="M106.50 189.50h1.50v1.50h-1.50zM106.50 191.00h1.50v1.50h-1.50zM106.50 192.50h1.50v1.50h-1.50zM106.50 194.00h1.50v1.50h-1.50zM108.00 188.00h1.50v1.50h-1.50zM108.00 189.50h1.50v1.50h-1.50zM108.00 191.00h1.50v1.50h-1.50zM108.00 192.50h1.50v1.50h-1.50zM108.00 194.00h1.50v1.50h-1.50zM108.00 195.50h1.50v1.50h-1.50zM109.50 188.00h1.50v1.50h-1.50zM109.50 189.50h1.50v1.50h-1.50zM109.50 191.00h1.50v1.50h-1.50zM109.50 192.50h1.50v1.50h-1.50zM109.50 194.00h1.50v1.50h-1.50zM109.50 195.50h1.50v1.50h-1.50zM111.00 186.50h1.50v1.50h-1.50zM111.00 188.00h1.50v1.50h-1.50zM111.00 189.50h1.50v1.50h-1.50zM111.00 191.00h1.50v1.50h-1.50zM111.00 192.50h1.50v1.50h-1.50zM111.00 194.00h1.50v1.50h-1.50zM111.00 195.50h1.50v1.50h-1.50zM112.50 186.50h1.50v1.50h-1.50zM112.50 188.00h1.50v1.50h-1.50zM112.50 189.50h1.50v1.50h-1.50zM112.50 191.00h1.50v1.50h-1.50zM112.50 192.50h1.50v1.50h-1.50zM112.50 194.00h1.50v1.50h-1.50zM112.50 195.50h1.50v1.50h-1.50zM114.00 186.50h1.50v1.50h-1.50zM114.00 188.00h1.50v1.50h-1.50zM114.00 189.50h1.50v1.50h-1.50zM114.00 191.00h1.50v1.50h-1.50zM114.00 192.50h1.50v1.50h-1.50zM114.00 194.00h1.50v1.50h-1.50zM115.50 186.50h1.50v1.50h-1.50zM115.50 188.00h1.50v1.50h-1.50zM115.50 189.50h1.50v1.50h-1.50zM115.50 191.00h1.50v1.50h-1.50zM115.50 192.50h1.50v1.50h-1.50zM115.50 194.00h1.50v1.50h-1.50zM117.00 188.00h1.50v1.50h-1.50zM117.00 189.50h1.50v1.50h-1.50zM117.00 191.00h1.50v1.50h-1.50zM117.00 192.50h1.50v1.50h-1.50z"/>
<path fill="#dd0000" d="M82.50 203.00h1.50v1.50h-1.50zM82.50 204.50h1.50v1.50h-1.50zM82.50 206.00h1.50v1.50h-1.50zM84.00 203.00h1.50v1.50h-1.50zM84.00 204.50h1.50v1.50h-1.50zM84.00 206.00h1.50v1.50h-1.50zM84.00 207.50h1.50v1.50h-1.50zM85.50 201.50h1.50v1.50h-1.50zM85.50 203.00h1.50v1.50h-1.50zM85.50 204.50h1.50v1.50h-1.50zM85.50 206.00h1.50v1.50h-1.50zM85.50 207.50h1.50v1.50h-1.50zM87.00 198.50h1.50v1.50h-1.50zM87.00 200.00h1.50v1.50h-1.50zM87.00 201.50h1.50v1.50h-1.50zM87.00 203.00h1.50v1.50h-1.50zM87.00 204.50h1.50v1.50h-1.50zM87.00 206.00h1.50v1.50h-1.50zM87.00 207.50h1.50v1.50h-1.50zM87.00 209.00h1.50v1.50h-1.50zM88.50 197.00h1.50v1.50h-1.50zM88.50 198.50h1.50v1.50h-1.50zM88.50 200.00h1.50v1.50h-1.50zM88.50 201.50h1.50v1.50h-1.50zM88.50 203.00h1.50v1.50h-1.50zM88.50 204.50h1.50v1.50h-1.50zM88.50 206.00h1.50v1.50h-1.50zM88.50 207.50h1.50v1.50h-1.50zM88.50 209.00h1.50v1.50h-1.50zM90.00 197.00h1.50v1.50h-1.50zM90.00 198.50h1.50v1.50h-1.50zM90.00 200.00h1.50v1.50h-1.50zM90.00 201.50h1.50v1.50h-1.50zM90.00 203.00h1.50v1.50h-1.50zM90.00 204.50h1.50v1.50h-1.50zM90.00 206.00h1.50v1.50h-1.50zM90.00 207.50h1.50v1.50h-1.50zM90.00 209.00h1.50v1.50h-1.50zM90.00 210.50h1.50v1.50h-1.50zM91.50 195.50h1.50v1.50h-1.50zM91.50 197.00h1.50v1.50h-1.50zM91.50 198.50h1.50v1.50h-1.50zM91.50 200.00h1.50v1.50h-1.50zM91.50 201.50h1.50v1.50h-1.50zM91.50 203.00h1.50v1.50h-1.50zM91.50 204.50h1.50v1.50h-1.50zM91.50 206.00h1.50v1.50h-1.50zM91.50 207.50h1.50v1.50h-1.50zM91.50 209.00h1.50v1.50h-1.50zM91.50 210.50h1.50v1.50h-1.50zM93.00 194.00h1.50v1.50h-1.50zM93.00 195.50h1.50v1.50h-1.50zM93.00 197.00h1.50v1.50h-1.50zM93.00 198.50h1.50v1.50h-1.50zM93.00 200.00h1.50v1.50h-1.50zM93.00 201.50h1.50v1.50h-1.50zM93.00 203.00h1.50v1.50h-1.50zM93.00 204.50h1.50v1.50h-1.50zM93.00 206.00h1.50v1.50h-1.50zM93.00 207.50h1.50v1.50h-1.50zM93.00 209.00h1.50v1.50h-1.50zM93.00 210.50h1.50v1.50h-1.50zM94.50 195.50h1.50v1.50h-1.50zM94.50 197.00h1.50v1.50h-1.50zM94.50 198.50h1.50v1.50h-1.50zM94.50 200.00h1.50v1.50h-1.50zM94.50 201.50h1.50v1.50h-1.50zM94.50 203.00h1.50v1.50h-1.50zM94.50 204.50h1.50v1.50h-1.50zM94.50 206.00h1.50v1.50h-1.50zM94.50 207.50h1.50v1.50h-1.50zM94.50 209.00h1.50v1.50h-1.50zM94.50 210.50h1.50v1.50h-1.50zM96.00 198.50h1.50v1.50h-1.50zM96.00 200.00h1.50v1.50h-1.50zM96.00 201.50h1.50v1.50h-1.50zM96.00 203.00h1.50v1.50h-1.50zM96.00 204.50h1.50v1.50h-1.50zM96.00 206.00h1.50v1.50h-1.50zM96.00 207.50h1.50v1.50h-1.50zM96.00 209.00h1.50v1.50h-1.50zM97.50 198.50h1.50v1.50h-1.50zM97.50 200.00h1.50v1.50h-1.50zM97.50 201.50h1.50v1.50h-1.50zM97.50 203.00h1.50v1.50h-1.50zM97.50 204.50h1.50v1.50h-1.50zM97.50 206.00h1.50v1.50h-1.50zM97.50 207.50h1.50v1.50h-1.50zM97.50 209.00h1.50v1.50h-1.50zM99.00 200.00h1.50v1.50h-1.50zM99.00 201.50h1.50v1.50h-1.50zM99.00 203.00h1.50v1.50h-1.50zM99.00 204.50h1.50v1.50h-1.50zM99.00 206.00h1.50v1.50h-1.50zM99.00 207.50h1.50v1.50h-1.50zM99.00 209.00h1.50v1.50h-1.50zM100.50 200.00h1.50v1.50h-1.50zM100.50 201.50h1.50v1.50h-1.50zM100.50 203.00h1.50v1.50h-1.50zM100.50 204.50h1.50v1.50h-1.50zM100.50 206.00h1.50v1.50h-1.50zM100.50 207.50h1.50v1.50h-1.50zM102.00 203.00h1.50v1.50h-1.50zM102.00 204.50h1.50v1.50h-1.50z"/>
<path fill="#000" d="M132.00 192.50h1.50v1.50h-1.50zM132.00 194.00h1.50v1.50h-1.50zM133.50 191.00h1.50v1.50h-1.50zM133.50 192.50h1.50v1.50h-1.50zM133.50 194.00h1.50v1.50h-1.50zM133.50 195.50h1.50v1.50h-1.50zM135.00 191.00h1.50v1.50h-1.50zM135.00 192.50h1.50v1.50h-1.50zM135.00 194.00h1.50v1.50h-1.50zM135.00 195.50h1.50v1.50h-1.50zM135.00 197.00h1.50v1.50h-1.50zM136.50 191.00h1.50v1.50h-1.50zM136.50 192.50h1.50v1.50h-1.50zM136.50 194.00h1.50v1.50h-1.50zM136.50 195.50h1.50v1.50h-1.50zM136.50 197.00h1.50v1.50h-1.50zM138.00 189.50h1.50v1.50h-1.50zM138.00 191.00h1.50v1.50h-1.50zM138.00 192.50h1.50v1.50h-1.50zM138.00 194.00h1.50v1.50h-1.50zM138.00 195.50h1.50v1.50h-1.50zM138.00 197.00h1.50v1.50h-1.50zM138.00 198.50h1.50v1.50h-1.50zM139.50 188.00h1.50v1.50h-1.50zM139.50 189.50h1.50v1.50h-1.50zM139.50 191.00h1.50v1.50h-1.50zM139.50 192.50h1.50v1.50h-1.50zM139.50 194.00h1.50v1.50h-1.50zM139.50 195.50h1.50v1.50h-1.50zM139.50 197.00h1.50v1.50h-1.50zM139.50 198.50h1.50v1.50h-1.50zM139.50 200.00h1.50v1.50h-1.50zM141.00 188.00h1.50v1.50h-1.50zM141.00 189.50h1.50v1.50h-1.50zM141.00 191.00h1.50v1.50h-1.50zM141.00 192.50h1.50v1.50h-1.50zM141.00 194.00h1.50v1.50h-1.50zM141.00 195.50h1.50v1.50h-1.50zM141.00 197.00h1.50v1.50h-1.50zM141.00 198.50h1.50v1.50h-1.50zM141.00 200.00h1.50v1.50h-1.50zM141.00 201.50h1.50v1.50h-1.50zM142.50 188.00h1.50v1.50h-1.50zM142.50 189.50h1.50v1.50h-1.50zM142.50 191.00h1.50v1.50h-1.50zM142.50 192.50h1.50v1.50h-1.50zM142.50 194.00h1.50v1.50h-1.50zM142.50 195.50h1.50v1.50h-1.50zM142.50 197.00h1.50v1.50h-1.50zM142.50 198.50h1.50v1.50h-1.50zM142.50 200.00h1.50v1.50h-1.50zM142.50 201.50h1.50v1.50h-1.50zM142.50 203.00h1.50v1.50h-1.50zM144.00 188.00h1.50v1.50h-1.50zM144.00 189.50h1.50v1.50h-1.50zM144.00 191.00h1.50v1.50h-1.50zM144.00 192.50h1.50v1.50h-1.50zM144.00 194.00h1.50v1.50h-1.50zM144.00 195.50h1.50v1.50h-1.50zM144.00 197.00h1.50v1.50h-1.50zM144.00 198.50h1.50v1.50h-1.50zM144.00 200.00h1.50v1.50h-1.50zM144.00 201.50h1.50v1.50h-1.50zM144.00 203.00h1.50v1.50h-1.50zM144.00 204.50h1.50v1.50h-1.50zM145.50 189.50h1.50v1.50h-1.50zM145.50 191.00h1.50v1.50h-1.50zM145.50 192.50h1.50v1.50h-1.50zM145.50 194.00h1.50v1.50h-1.50zM145.50 195.50h1.50v1.50h-1.50zM145.50 197.00h1.50v1.50h-1.50zM145.50 198.50h1.50v1.50h-1.50zM145.50 200.00h1.50v1.50h-1.50zM145.50 201.50h1.50v1.50h-1.50zM145.50 203.00h1.50v1.50h-1.50zM145.50 204.50h1.50v1.50h-1.50zM145.50 206.00h1.50v1.50h-1.50zM147.00 191.00h1.50v1.50h-1.50zM147.00 192.50h1.50v1.50h-1.50zM147.00 194.00h1.50v1.50h-1.50zM147.00 195.50h1.50v1.50h-1.50zM147.00 197.00h1.50v1.50h-1.50zM147.00 198.50h1.50v1.50h-1.50zM147.00 200.00h1.50v1.50h-1.50zM147.00 201.50h1.50v1.50h-1.50zM147.00 203.00h1.50v1.50h-1.50zM147.00 204.50h1.50v1.50h-1.50zM147.00 206.00h1.50v1.50h-1.50zM147.00 207.50h1.50v1.50h-1.50zM148.50 192.50h1.50v1.50h-1.50zM148.50 194.00h1.50v1.50h-1.50zM148.50 195.50h1.50v1.50h-1.50zM148.50 197.00h1.50v1.50h-1.50zM148.50 198.50h1.50v1.50h-1.50zM148.50 200.00h1.50v1.50h-1.50zM148.50 201.50h1.50v1.50h-1.50zM148.50 203.00h1.50v1.50h-1.50zM148.50 204.50h1.50v1.50h-1.50zM148.50 206.00h1.50v1.50h-1.50zM148.50 207.50h1.50v1.50h-1.50zM150.00 192.50h1.50v1.50h-1.50zM150.00 194.00h1.50v1.50h-1.50zM150.00 195.50h1.50v1.50h-1.50zM150.00 197.00h1.50v1.50h-1.50zM150.00 198.50h1.50v1.50h-1.50zM150.00 200.00h1.50v1.50h-1.50zM150.00 201.50h1.50v1.50h-1.50zM150.00 203.00h1.50v1.50h-1.50zM150.00 204.50h1.50v1.50h-1.50zM150.00 206.00h1.50v1.50h-1.50zM150.00 207.50h1.50v1.50h-1.50zM151.50 194.00h1.50v1.50h-1.50zM151.50 195.50h1.50v1.50h-1.50zM151.50 197.00h1.50v1.50h-1.50zM151.50 198.50h1.50v1.50h-1.50zM151.50 200.00h1.50v1.50h-1.50zM151.50 201.50h1.50v1.50h-1.50zM151.50 203.00h1.50v1.50h-1.50zM151.50 204.50h1.50v1.50h-1.50zM151.50 206.00h1.50v1.50h-1.50zM153.00 195.50h1.50v1.50h-1.50zM153.00 197.00h1.50v1.50h-1.50zM153.00 198.50h1.50v1.50h-1.50zM153.00 200.00h1.50v1.50h-1.50zM153.00 201.50h1.50v1.50h-1.50zM153.00 203.00h1.50v1.50h-1.50zM153.00 204.50h1.50v1.50h-1.50z"/>
<path fill="#000" d="M84.00 222.50h1.50v1.50h-1.50zM84.00 224.00h1.50v1.50h-1.50zM84.00 225.50h1.50v1.50h-1.50zM84.00 227.00h1.50v1.50h-1.50zM85.50 221.00h1.50v1.50h-1.50zM85.50 222.50h1.50v1.50h-1.50zM85.50 224.00h1.50v1.50h-1.50zM85.50 225.50h1.50v1.50h-1.50zM85.50 227.00h1.50v1.50h-1.50zM85.50 228.50h1.50v1.50h-1.50zM87.00 221.00h1.50v1.50h-1.50zM87.00 222.50h1.50v1.50h-1.50zM87.00 224.00h1.50v1.50h-1.50zM87.00 225.50h1.50v1.50h-1.50zM87.00 227.00h1.50v1.50h-1.50zM87.00 228.50h1.50v1.50h-1.50zM87.00 230.00h1.50v1.50h-1.50zM88.50 221.00h1.50v1.50h-1.50zM88.50 222.50h1.50v1.50h-1.50zM88.50 224.00h1.50v1.50h-1.50zM88.50 225.50h1.50v1.50h-1.50zM88.50 227.00h1.50v1.50h-1.50zM88.50 228.50h1.50v1.50h-1.50zM88.50 230.00h1.50v1.50h-1.50zM90.00 222.50h1.50v1.50h-1.50zM90.00 224.00h1.50v1.50h-1.50zM90.00 225.50h1.50v1.50h-1.50zM90.00 227.00h1.50v1.50h-1.50zM90.00 228.50h1.50v1.50h-1.50zM90.00 230.00h1.50v1.50h-1.50zM90.00 231.50h1.50v1.50h-1.50zM91.50 222.50h1.50v1.50h-1.50zM91.50 224.00h1.50v1.50h-1.50zM91.50 225.50h1.50v1.50h-1.50zM91.50 227.00h1.50v1.50h-1.50zM91.50 228.50h1.50v1.50h-1.50zM91.50 230.00h1.50v1.50h-1.50zM91.50 231.50h1.50v1.50h-1.50zM93.00 222.50h1.50v1.50h-1.50zM93.00 224.00h1.50v1.50h-1.50zM93.00 225.50h1.50v1.50h-1.50zM93.00 227.00h1.50v1.50h-1.50zM93.00 228.50h1.50v1.50h-1.50zM93.00 230.00h1.50v1.50h-1.50zM93.00 231.50h1.50v1.50h-1.50zM94.50 222.50h1.50v1.50h-1.50zM94.50 224.00h1.50v1.50h-1.50zM94.50 225.50h1.50v1.50h-1.50zM94.50 227.00h1.50v1.50h-1.50zM94.50 228.50h1.50v1.50h-1.50zM94.50 230.00h1.50v1.50h-1.50zM94.50 231.50h1.50v1.50h-1.50zM96.00 224.00h1.50v1.50h-1.50zM96.00 225.50h1.50v1.50h-1.50zM96.00 227.00h1.50v1.50h-1.50zM96.00 228.50h1.50v1.50h-1.50zM96.00 230.00h1.50v1.50h-1.50z"/>
<path fill="#000" d="M130.50 95.00h1.50v1.50h-1.50zM130.50 96.50h1.50v1.50h-1.50zM130.50 98.00h1.50v1.50h-1.50zM130.50 99.50h1.50v1.50h-1.50zM132.00 93.50h1.50v1.50h-1.50zM132.00 95.00h1.50v1.50h-1.50zM132.00 96.50h1.50v1.50h-1.50zM132.00 98.00h1.50v1.50h-1.50zM132.00 99.50h1.50v1.50h-1.50zM132.00 101.00h1.50v1.50h-1.50zM133.50 92.00h1.50v1.50h-1.50zM133.50 93.50h1.50v1.50h-1.50zM133.50 95.00h1.50v1.50h-1.50zM133.50 96.50h1.50v1.50h-1.50zM133.50 98.00h1.50v1.50h-1.50zM133.50 99.50h1.50v1.50h-1.50zM133.50 101.00h1.50v1.50h-1.50zM133.50 102.50h1.50v1.50h-1.50zM135.00 92.00h1.50v1.50h-1.50zM135.00 93.50h1.50v1.50h-1.50zM135.00 95.00h1.50v1.50h-1.50zM135.00 96.50h1.50v1.50h-1.50zM135.00 98.00h1.50v1.50h-1.50zM135.00 99.50h1.50v1.50h-1.50zM135.00 101.00h1.50v1.50h-1.50zM135.00 102.50h1.50v1.50h-1.50zM136.50 92.00h1.50v1.50h-1.50zM136.50 93.50h1.50v1.50h-1.50zM136.50 95.00h1.50v1.50h-1.50zM136.50 96.50h1.50v1.50h-1.50zM136.50 98.00h1.50v1.50h-1.50zM136.50 99.50h1.50v1.50h-1.50zM136.50 101.00h1.50v1.50h-1.50zM136.50 102.50h1.50v1.50h-1.50zM138.00 92.00h1.50v1.50h-1.50zM138.00 93.50h1.50v1.50h-1.50zM138.00 95.00h1.50v1.50h-1.50zM138.00 96.50h1.50v1.50h-1.50zM138.00 98.00h1.50v1.50h-1.50zM138.00 99.50h1.50v1.50h-1.50zM138.00 101.00h1.50v1.50h-1.50zM138.00 102.50h1.50v1.50h-1.50zM139.50 92.00h1.50v1.50h-1.50zM139.50 93.50h1.50v1.50h-1.50zM139.50 95.00h1.50v1.50h-1.50zM139.50 96.50h1.50v1.50h-1.50zM139.50 98.00h1.50v1.50h-1.50zM139.50 99.50h1.50v1.50h-1.50zM139.50 101.00h1.50v1.50h-1.50zM139.50 102.50h1.50v1.50h-1.50zM141.00 92.00h1.50v1.50h-1.50zM141.00 93.50h1.50v1.50h-1.50zM141.00 95.00h1.50v1.50h-1.50zM141.00 96.50h1.50v1.50h-1.50zM141.00 98.00h1.50v1.50h-1.50zM141.00 99.50h1.50v1.50h-1.50zM141.00 101.00h1.50v1.50h-1.50zM142.50 92.00h1.50v1.50h-1.50zM142.50 93.50h1.50v1.50h-1.50zM142.50 95.00h1.50v1.50h-1.50zM142.50 96.50h1.50v1.50h-1.50zM142.50 98.00h1.50v1.50h-1.50zM142.50 99.50h1.50v1.50h-1.50zM144.00 93.50h1.50v1.50h-1.50zM144.00 95.00h1.50v1.50h-1.50zM144.00 96.50h1.50v1.50h-1.50z"/>
</g><g>
<rect x="32.3" y="31.3" width="128.10" height="216.95" stroke="#1a1a1a" stroke-width="1.15" fill="none"/>
<line x1="36.50" y1="248.25" x2="36.50" y2="255.6" stroke="#1a1a1a" stroke-width="1.15" fill="none"/>
<line x1="53.50" y1="248.25" x2="53.50" y2="255.6" stroke="#1a1a1a" stroke-width="1.15" fill="none"/>
<line x1="70.50" y1="248.25" x2="70.50" y2="255.6" stroke="#1a1a1a" stroke-width="1.15" fill="none"/>
<line x1="87.50" y1="248.25" x2="87.50" y2="255.6" stroke="#1a1a1a" stroke-width="1.15" fill="none"/>
<line x1="104.50" y1="248.25" x2="104.50" y2="255.6" stroke="#1a1a1a" stroke-width="1.15" fill="none"/>
<line x1="120.70" y1="248.25" x2="120.70" y2="255.6" stroke="#1a1a1a" stroke-width="1.15" fill="none"/>
<line x1="137.65" y1="248.25" x2="137.65" y2="255.6" stroke="#1a1a1a" stroke-width="1.15" fill="none"/>
<line x1="154.70" y1="248.25" x2="154.70" y2="255.6" stroke="#1a1a1a" stroke-width="1.15" fill="none"/>
<text x="35.60" y="276.6" font-size="14.5" text-anchor="middle">0</text>
<text x="86.60" y="276.6" font-size="14.5" text-anchor="middle">30000</text>
<text x="153.80" y="276.6" font-size="14.5" text-anchor="middle">70000</text>
<line x1="23.90" y1="62.94" x2="32.3" y2="62.94" stroke="#1a1a1a" stroke-width="1.15" fill="none"/>
<line x1="23.90" y1="99.65" x2="32.3" y2="99.65" stroke="#1a1a1a" stroke-width="1.15" fill="none"/>
<line x1="23.90" y1="137.46" x2="32.3" y2="137.46" stroke="#1a1a1a" stroke-width="1.15" fill="none"/>
<line x1="23.90" y1="175.43" x2="32.3" y2="175.43" stroke="#1a1a1a" stroke-width="1.15" fill="none"/>
<line x1="23.90" y1="212.98" x2="32.3" y2="212.98" stroke="#1a1a1a" stroke-width="1.15" fill="none"/>
<text transform="translate(11.70,62.79) rotate(-90)" font-size="14" text-anchor="middle">0</text>
<text transform="translate(11.70,136.16) rotate(-90)" font-size="14" text-anchor="middle">40000</text>
<text transform="translate(11.70,212.58) rotate(-90)" font-size="14" text-anchor="middle">-80000</text>
</g>
<g filter="url(#bl2)">
<path fill="url(#pf)" d="M233.40 56.00h1.50v1.50h-1.50zM234.90 51.50h1.50v1.50h-1.50zM234.90 53.00h1.50v1.50h-1.50zM234.90 54.50h1.50v1.50h-1.50zM234.90 56.00h1.50v1.50h-1.50zM234.90 57.50h1.50v1.50h-1.50zM236.40 50.00h1.50v1.50h-1.50zM236.40 51.50h1.50v1.50h-1.50zM236.40 53.00h1.50v1.50h-1.50zM236.40 54.50h1.50v1.50h-1.50zM236.40 56.00h1.50v1.50h-1.50zM236.40 57.50h1.50v1.50h-1.50zM237.90 48.50h1.50v1.50h-1.50zM237.90 50.00h1.50v1.50h-1.50zM237.90 51.50h1.50v1.50h-1.50zM237.90 53.00h1.50v1.50h-1.50zM237.90 54.50h1.50v1.50h-1.50zM237.90 56.00h1.50v1.50h-1.50zM237.90 57.50h1.50v1.50h-1.50zM239.40 47.00h1.50v1.50h-1.50zM239.40 48.50h1.50v1.50h-1.50zM239.40 50.00h1.50v1.50h-1.50zM239.40 51.50h1.50v1.50h-1.50zM239.40 53.00h1.50v1.50h-1.50zM239.40 54.50h1.50v1.50h-1.50zM239.40 56.00h1.50v1.50h-1.50zM239.40 57.50h1.50v1.50h-1.50zM240.90 45.50h1.50v1.50h-1.50zM240.90 47.00h1.50v1.50h-1.50zM240.90 48.50h1.50v1.50h-1.50zM240.90 50.00h1.50v1.50h-1.50zM240.90 51.50h1.50v1.50h-1.50zM240.90 53.00h1.50v1.50h-1.50zM240.90 54.50h1.50v1.50h-1.50zM240.90 56.00h1.50v1.50h-1.50zM242.40 45.50h1.50v1.50h-1.50zM242.40 47.00h1.50v1.50h-1.50zM242.40 48.50h1.50v1.50h-1.50zM242.40 50.00h1.50v1.50h-1.50zM242.40 51.50h1.50v1.50h-1.50zM242.40 53.00h1.50v1.50h-1.50zM242.40 54.50h1.50v1.50h-1.50zM243.90 45.50h1.50v1.50h-1.50zM243.90 47.00h1.50v1.50h-1.50zM243.90 48.50h1.50v1.50h-1.50zM243.90 50.00h1.50v1.50h-1.50zM243.90 51.50h1.50v1.50h-1.50zM243.90 53.00h1.50v1.50h-1.50zM245.40 45.50h1.50v1.50h-1.50zM245.40 47.00h1.50v1.50h-1.50zM245.40 48.50h1.50v1.50h-1.50zM245.40 50.00h1.50v1.50h-1.50zM248.40 51.50h1.50v1.50h-1.50zM248.40 53.00h1.50v1.50h-1.50zM248.40 54.50h1.50v1.50h-1.50zM249.90 51.50h1.50v1.50h-1.50zM249.90 53.00h1.50v1.50h-1.50zM249.90 54.50h1.50v1.50h-1.50zM251.40 51.50h1.50v1.50h-1.50zM251.40 53.00h1.50v1.50h-1.50zM251.40 54.50h1.50v1.50h-1.50zM252.90 51.50h1.50v1.50h-1.50zM252.90 53.00h1.50v1.50h-1.50zM258.90 45.50h1.50v1.50h-1.50zM258.90 47.00h1.50v1.50h-1.50zM258.90 48.50h1.50v1.50h-1.50zM258.90 50.00h1.50v1.50h-1.50zM258.90 51.50h1.50v1.50h-1.50zM258.90 53.00h1.50v1.50h-1.50zM258.90 54.50h1.50v1.50h-1.50zM258.90 56.00h1.50v1.50h-1.50zM260.40 42.50h1.50v1.50h-1.50zM260.40 44.00h1.50v1.50h-1.50zM260.40 45.50h1.50v1.50h-1.50zM260.40 47.00h1.50v1.50h-1.50zM260.40 48.50h1.50v1.50h-1.50zM260.40 50.00h1.50v1.50h-1.50zM260.40 51.50h1.50v1.50h-1.50zM260.40 53.00h1.50v1.50h-1.50zM260.40 54.50h1.50v1.50h-1.50zM260.40 56.00h1.50v1.50h-1.50zM260.40 57.50h1.50v1.50h-1.50zM261.90 42.50h1.50v1.50h-1.50zM261.90 44.00h1.50v1.50h-1.50zM261.90 45.50h1.50v1.50h-1.50zM261.90 47.00h1.50v1.50h-1.50zM261.90 48.50h1.50v1.50h-1.50zM261.90 50.00h1.50v1.50h-1.50zM261.90 51.50h1.50v1.50h-1.50zM261.90 53.00h1.50v1.50h-1.50zM261.90 54.50h1.50v1.50h-1.50zM261.90 56.00h1.50v1.50h-1.50zM261.90 57.50h1.50v1.50h-1.50zM261.90 59.00h1.50v1.50h-1.50zM263.40 42.50h1.50v1.50h-1.50zM263.40 44.00h1.50v1.50h-1.50zM263.40 45.50h1.50v1.50h-1.50zM263.40 47.00h1.50v1.50h-1.50zM263.40 48.50h1.50v1.50h-1.50zM263.40 50.00h1.50v1.50h-1.50zM263.40 51.50h1.50v1.50h-1.50zM263.40 53.00h1.50v1.50h-1.50zM263.40 54.50h1.50v1.50h-1.50zM263.40 56.00h1.50v1.50h-1.50zM263.40 57.50h1.50v1.50h-1.50zM263.40 59.00h1.50v1.50h-1.50zM263.40 60.50h1.50v1.50h-1.50zM264.90 42.50h1.50v1.50h-1.50zM264.90 44.00h1.50v1.50h-1.50zM264.90 45.50h1.50v1.50h-1.50zM264.90 47.00h1.50v1.50h-1.50zM264.90 48.50h1.50v1.50h-1.50zM264.90 50.00h1.50v1.50h-1.50zM264.90 51.50h1.50v1.50h-1.50zM264.90 53.00h1.50v1.50h-1.50zM264.90 54.50h1.50v1.50h-1.50zM264.90 56.00h1.50v1.50h-1.50zM264.90 57.50h1.50v1.50h-1.50zM264.90 59.00h1.50v1.50h-1.50zM264.90 60.50h1.50v1.50h-1.50zM266.40 44.00h1.50v1.50h-1.50zM266.40 45.50h1.50v1.50h-1.50zM266.40 47.00h1.50v1.50h-1.50zM266.40 48.50h1.50v1.50h-1.50zM266.40 50.00h1.50v1.50h-1.50zM266.40 51.50h1.50v1.50h-1.50zM266.40 53.00h1.50v1.50h-1.50zM266.40 54.50h1.50v1.50h-1.50zM266.40 56.00h1.50v1.50h-1.50zM266.40 57.50h1.50v1.50h-1.50zM266.40 59.00h1.50v1.50h-1.50zM266.40 60.50h1.50v1.50h-1.50zM267.90 44.00h1.50v1.50h-1.50zM267.90 45.50h1.50v1.50h-1.50zM267.90 47.00h1.50v1.50h-1.50zM267.90 48.50h1.50v1.50h-1.50zM267.90 50.00h1.50v1.50h-1.50zM267.90 51.50h1.50v1.50h-1.50zM267.90 53.00h1.50v1.50h-1.50zM267.90 54.50h1.50v1.50h-1.50zM267.90 56.00h1.50v1.50h-1.50zM267.90 57.50h1.50v1.50h-1.50zM267.90 59.00h1.50v1.50h-1.50zM267.90 60.50h1.50v1.50h-1.50zM269.40 44.00h1.50v1.50h-1.50zM269.40 45.50h1.50v1.50h-1.50zM269.40 47.00h1.50v1.50h-1.50zM269.40 48.50h1.50v1.50h-1.50zM269.40 50.00h1.50v1.50h-1.50zM269.40 51.50h1.50v1.50h-1.50zM269.40 53.00h1.50v1.50h-1.50zM269.40 54.50h1.50v1.50h-1.50zM269.40 56.00h1.50v1.50h-1.50zM269.40 57.50h1.50v1.50h-1.50zM269.40 59.00h1.50v1.50h-1.50zM269.40 60.50h1.50v1.50h-1.50zM270.90 45.50h1.50v1.50h-1.50zM270.90 47.00h1.50v1.50h-1.50zM270.90 48.50h1.50v1.50h-1.50zM270.90 50.00h1.50v1.50h-1.50zM270.90 51.50h1.50v1.50h-1.50zM270.90 53.00h1.50v1.50h-1.50zM270.90 54.50h1.50v1.50h-1.50zM270.90 56.00h1.50v1.50h-1.50zM270.90 57.50h1.50v1.50h-1.50zM270.90 59.00h1.50v1.50h-1.50zM272.40 45.50h1.50v1.50h-1.50zM272.40 47.00h1.50v1.50h-1.50zM272.40 48.50h1.50v1.50h-1.50zM272.40 50.00h1.50v1.50h-1.50zM272.40 51.50h1.50v1.50h-1.50zM272.40 53.00h1.50v1.50h-1.50zM272.40 54.50h1.50v1.50h-1.50zM272.40 56.00h1.50v1.50h-1.50zM272.40 57.50h1.50v1.50h-1.50zM272.40 59.00h1.50v1.50h-1.50zM273.90 48.50h1.50v1.50h-1.50zM273.90 50.00h1.50v1.50h-1.50zM273.90 51.50h1.50v1.50h-1.50zM273.90 53.00h1.50v1.50h-1.50zM273.90 54.50h1.50v1.50h-1.50zM273.90 56.00h1.50v1.50h-1.50zM273.90 57.50h1.50v1.50h-1.50zM275.40 51.50h1.50v1.50h-1.50zM275.40 53.00h1.50v1.50h-1.50zM275.40 54.50h1.50v1.50h-1.50zM275.40 56.00h1.50v1.50h-1.50zM234.90 74.00h1.50v1.50h-1.50zM234.90 75.50h1.50v1.50h-1.50zM234.90 77.00h1.50v1.50h-1.50zM234.90 78.50h1.50v1.50h-1.50zM234.90 80.00h1.50v1.50h-1.50zM236.40 72.50h1.50v1.50h-1.50zM236.40 74.00h1.50v1.50h-1.50zM236.40 75.50h1.50v1.50h-1.50zM236.40 77.00h1.50v1.50h-1.50zM236.40 78.50h1.50v1.50h-1.50zM236.40 80.00h1.50v1.50h-1.50zM236.40 81.50h1.50v1.50h-1.50zM237.90 72.50h1.50v1.50h-1.50zM237.90 74.00h1.50v1.50h-1.50zM237.90 75.50h1.50v1.50h-1.50zM237.90 77.00h1.50v1.50h-1.50zM237.90 78.50h1.50v1.50h-1.50zM237.90 80.00h1.50v1.50h-1.50zM237.90 81.50h1.50v1.50h-1.50zM237.90 83.00h1.50v1.50h-1.50zM239.40 72.50h1.50v1.50h-1.50zM239.40 74.00h1.50v1.50h-1.50zM239.40 75.50h1.50v1.50h-1.50zM239.40 77.00h1.50v1.50h-1.50zM239.40 78.50h1.50v1.50h-1.50zM239.40 80.00h1.50v1.50h-1.50zM239.40 81.50h1.50v1.50h-1.50zM239.40 83.00h1.50v1.50h-1.50zM239.40 84.50h1.50v1.50h-1.50zM239.40 86.00h1.50v1.50h-1.50zM239.40 87.50h1.50v1.50h-1.50zM240.90 72.50h1.50v1.50h-1.50zM240.90 74.00h1.50v1.50h-1.50zM240.90 75.50h1.50v1.50h-1.50zM240.90 77.00h1.50v1.50h-1.50zM240.90 78.50h1.50v1.50h-1.50zM240.90 80.00h1.50v1.50h-1.50zM240.90 81.50h1.50v1.50h-1.50zM240.90 83.00h1.50v1.50h-1.50zM240.90 84.50h1.50v1.50h-1.50zM240.90 86.00h1.50v1.50h-1.50zM240.90 87.50h1.50v1.50h-1.50zM240.90 89.00h1.50v1.50h-1.50zM242.40 72.50h1.50v1.50h-1.50zM242.40 74.00h1.50v1.50h-1.50zM242.40 75.50h1.50v1.50h-1.50zM242.40 77.00h1.50v1.50h-1.50zM242.40 78.50h1.50v1.50h-1.50zM242.40 80.00h1.50v1.50h-1.50zM242.40 81.50h1.50v1.50h-1.50zM242.40 83.00h1.50v1.50h-1.50zM242.40 84.50h1.50v1.50h-1.50zM242.40 86.00h1.50v1.50h-1.50zM242.40 87.50h1.50v1.50h-1.50zM242.40 89.00h1.50v1.50h-1.50zM242.40 90.50h1.50v1.50h-1.50zM243.90 72.50h1.50v1.50h-1.50zM243.90 74.00h1.50v1.50h-1.50zM243.90 75.50h1.50v1.50h-1.50zM243.90 77.00h1.50v1.50h-1.50zM243.90 78.50h1.50v1.50h-1.50zM243.90 80.00h1.50v1.50h-1.50zM243.90 81.50h1.50v1.50h-1.50zM243.90 83.00h1.50v1.50h-1.50zM243.90 84.50h1.50v1.50h-1.50zM243.90 86.00h1.50v1.50h-1.50zM243.90 87.50h1.50v1.50h-1.50zM243.90 89.00h1.50v1.50h-1.50zM243.90 90.50h1.50v1.50h-1.50zM245.40 72.50h1.50v1.50h-1.50zM245.40 74.00h1.50v1.50h-1.50zM245.40 75.50h1.50v1.50h-1.50zM245.40 77.00h1.50v1.50h-1.50zM245.40 78.50h1.50v1.50h-1.50zM245.40 80.00h1.50v1.50h-1.50zM245.40 81.50h1.50v1.50h-1.50zM245.40 83.00h1.50v1.50h-1.50zM245.40 84.50h1.50v1.50h-1.50zM245.40 86.00h1.50v1.50h-1.50zM245.40 87.50h1.50v1.50h-1.50zM245.40 89.00h1.50v1.50h-1.50zM245.40 90.50h1.50v1.50h-1.50zM246.90 74.00h1.50v1.50h-1.50zM246.90 75.50h1.50v1.50h-1.50zM246.90 77.00h1.50v1.50h-1.50zM246.90 78.50h1.50v1.50h-1.50zM246.90 80.00h1.50v1.50h-1.50zM246.90 81.50h1.50v1.50h-1.50zM246.90 83.00h1.50v1.50h-1.50zM246.90 84.50h1.50v1.50h-1.50zM246.90 86.00h1.50v1.50h-1.50zM246.90 87.50h1.50v1.50h-1.50zM246.90 89.00h1.50v1.50h-1.50zM246.90 90.50h1.50v1.50h-1.50zM248.40 74.00h1.50v1.50h-1.50zM248.40 75.50h1.50v1.50h-1.50zM248.40 77.00h1.50v1.50h-1.50zM248.40 78.50h1.50v1.50h-1.50zM248.40 80.00h1.50v1.50h-1.50zM248.40 81.50h1.50v1.50h-1.50zM248.40 83.00h1.50v1.50h-1.50zM248.40 84.50h1.50v1.50h-1.50zM248.40 86.00h1.50v1.50h-1.50zM248.40 87.50h1.50v1.50h-1.50zM248.40 89.00h1.50v1.50h-1.50zM248.40 90.50h1.50v1.50h-1.50zM249.90 78.50h1.50v1.50h-1.50zM249.90 80.00h1.50v1.50h-1.50zM249.90 81.50h1.50v1.50h-1.50zM249.90 83.00h1.50v1.50h-1.50zM249.90 84.50h1.50v1.50h-1.50zM249.90 86.00h1.50v1.50h-1.50zM249.90 87.50h1.50v1.50h-1.50zM249.90 89.00h1.50v1.50h-1.50zM249.90 90.50h1.50v1.50h-1.50zM251.40 81.50h1.50v1.50h-1.50zM251.40 83.00h1.50v1.50h-1.50zM251.40 84.50h1.50v1.50h-1.50zM251.40 86.00h1.50v1.50h-1.50zM251.40 87.50h1.50v1.50h-1.50zM251.40 89.00h1.50v1.50h-1.50zM281.40 54.50h1.50v1.50h-1.50zM281.40 56.00h1.50v1.50h-1.50zM282.90 48.50h1.50v1.50h-1.50zM282.90 50.00h1.50v1.50h-1.50zM282.90 51.50h1.50v1.50h-1.50zM282.90 53.00h1.50v1.50h-1.50zM282.90 54.50h1.50v1.50h-1.50zM282.90 56.00h1.50v1.50h-1.50zM282.90 57.50h1.50v1.50h-1.50zM282.90 59.00h1.50v1.50h-1.50zM284.40 41.00h1.50v1.50h-1.50zM284.40 42.50h1.50v1.50h-1.50zM284.40 44.00h1.50v1.50h-1.50zM284.40 45.50h1.50v1.50h-1.50zM284.40 47.00h1.50v1.50h-1.50zM284.40 48.50h1.50v1.50h-1.50zM284.40 50.00h1.50v1.50h-1.50zM284.40 51.50h1.50v1.50h-1.50zM284.40 53.00h1.50v1.50h-1.50zM284.40 54.50h1.50v1.50h-1.50zM284.40 56.00h1.50v1.50h-1.50zM284.40 57.50h1.50v1.50h-1.50zM284.40 59.00h1.50v1.50h-1.50zM284.40 60.50h1.50v1.50h-1.50zM285.90 39.50h1.50v1.50h-1.50zM285.90 41.00h1.50v1.50h-1.50zM285.90 42.50h1.50v1.50h-1.50zM285.90 44.00h1.50v1.50h-1.50zM285.90 45.50h1.50v1.50h-1.50zM285.90 47.00h1.50v1.50h-1.50zM285.90 48.50h1.50v1.50h-1.50zM285.90 50.00h1.50v1.50h-1.50zM285.90 51.50h1.50v1.50h-1.50zM285.90 53.00h1.50v1.50h-1.50zM285.90 54.50h1.50v1.50h-1.50zM285.90 56.00h1.50v1.50h-1.50zM285.90 57.50h1.50v1.50h-1.50zM285.90 59.00h1.50v1.50h-1.50zM285.90 60.50h1.50v1.50h-1.50zM287.40 38.00h1.50v1.50h-1.50zM287.40 39.50h1.50v1.50h-1.50zM287.40 41.00h1.50v1.50h-1.50zM287.40 42.50h1.50v1.50h-1.50zM287.40 44.00h1.50v1.50h-1.50zM287.40 45.50h1.50v1.50h-1.50zM287.40 47.00h1.50v1.50h-1.50zM287.40 48.50h1.50v1.50h-1.50zM287.40 50.00h1.50v1.50h-1.50zM287.40 51.50h1.50v1.50h-1.50zM287.40 53.00h1.50v1.50h-1.50zM287.40 54.50h1.50v1.50h-1.50zM287.40 56.00h1.50v1.50h-1.50zM287.40 57.50h1.50v1.50h-1.50zM287.40 59.00h1.50v1.50h-1.50zM287.40 60.50h1.50v1.50h-1.50zM287.40 62.00h1.50v1.50h-1.50zM288.90 38.00h1.50v1.50h-1.50zM288.90 39.50h1.50v1.50h-1.50zM288.90 41.00h1.50v1.50h-1.50zM288.90 42.50h1.50v1.50h-1.50zM288.90 44.00h1.50v1.50h-1.50zM288.90 45.50h1.50v1.50h-1.50zM288.90 47.00h1.50v1.50h-1.50zM288.90 48.50h1.50v1.50h-1.50zM288.90 50.00h1.50v1.50h-1.50zM288.90 51.50h1.50v1.50h-1.50zM288.90 53.00h1.50v1.50h-1.50zM288.90 54.50h1.50v1.50h-1.50zM288.90 56.00h1.50v1.50h-1.50zM288.90 57.50h1.50v1.50h-1.50zM288.90 59.00h1.50v1.50h-1.50zM288.90 60.50h1.50v1.50h-1.50zM288.90 62.00h1.50v1.50h-1.50zM290.40 38.00h1.50v1.50h-1.50zM290.40 39.50h1.50v1.50h-1.50zM290.40 41.00h1.50v1.50h-1.50zM290.40 42.50h1.50v1.50h-1.50zM290.40 44.00h1.50v1.50h-1.50zM290.40 45.50h1.50v1.50h-1.50zM290.40 47.00h1.50v1.50h-1.50zM290.40 48.50h1.50v1.50h-1.50zM290.40 50.00h1.50v1.50h-1.50zM290.40 51.50h1.50v1.50h-1.50zM290.40 53.00h1.50v1.50h-1.50zM290.40 54.50h1.50v1.50h-1.50zM290.40 56.00h1.50v1.50h-1.50zM290.40 57.50h1.50v1.50h-1.50zM290.40 59.00h1.50v1.50h-1.50zM290.40 60.50h1.50v1.50h-1.50zM291.90 38.00h1.50v1.50h-1.50zM291.90 39.50h1.50v1.50h-1.50zM291.90 41.00h1.50v1.50h-1.50zM291.90 42.50h1.50v1.50h-1.50zM291.90 44.00h1.50v1.50h-1.50zM291.90 45.50h1.50v1.50h-1.50zM291.90 47.00h1.50v1.50h-1.50zM291.90 48.50h1.50v1.50h-1.50zM291.90 50.00h1.50v1.50h-1.50zM291.90 54.50h1.50v1.50h-1.50zM291.90 56.00h1.50v1.50h-1.50zM291.90 57.50h1.50v1.50h-1.50zM291.90 59.00h1.50v1.50h-1.50zM291.90 60.50h1.50v1.50h-1.50zM293.40 38.00h1.50v1.50h-1.50zM293.40 39.50h1.50v1.50h-1.50zM293.40 41.00h1.50v1.50h-1.50zM293.40 42.50h1.50v1.50h-1.50zM293.40 44.00h1.50v1.50h-1.50zM293.40 45.50h1.50v1.50h-1.50zM293.40 47.00h1.50v1.50h-1.50zM293.40 48.50h1.50v1.50h-1.50zM294.90 39.50h1.50v1.50h-1.50zM294.90 41.00h1.50v1.50h-1.50zM294.90 42.50h1.50v1.50h-1.50zM294.90 44.00h1.50v1.50h-1.50zM294.90 45.50h1.50v1.50h-1.50zM294.90 47.00h1.50v1.50h-1.50zM294.90 48.50h1.50v1.50h-1.50zM296.40 41.00h1.50v1.50h-1.50zM296.40 42.50h1.50v1.50h-1.50zM296.40 44.00h1.50v1.50h-1.50zM296.40 45.50h1.50v1.50h-1.50zM296.40 47.00h1.50v1.50h-1.50zM311.40 47.00h1.50v1.50h-1.50zM311.40 48.50h1.50v1.50h-1.50zM311.40 50.00h1.50v1.50h-1.50zM312.90 47.00h1.50v1.50h-1.50zM312.90 48.50h1.50v1.50h-1.50zM312.90 50.00h1.50v1.50h-1.50zM312.90 51.50h1.50v1.50h-1.50zM314.40 47.00h1.50v1.50h-1.50zM314.40 48.50h1.50v1.50h-1.50zM314.40 50.00h1.50v1.50h-1.50zM314.40 51.50h1.50v1.50h-1.50zM315.90 47.00h1.50v1.50h-1.50zM315.90 48.50h1.50v1.50h-1.50zM315.90 50.00h1.50v1.50h-1.50zM314.40 54.50h1.50v1.50h-1.50zM314.40 56.00h1.50v1.50h-1.50zM315.90 53.00h1.50v1.50h-1.50zM315.90 54.50h1.50v1.50h-1.50zM315.90 56.00h1.50v1.50h-1.50zM315.90 57.50h1.50v1.50h-1.50zM315.90 59.00h1.50v1.50h-1.50zM317.40 51.50h1.50v1.50h-1.50zM317.40 53.00h1.50v1.50h-1.50zM317.40 54.50h1.50v1.50h-1.50zM317.40 56.00h1.50v1.50h-1.50zM317.40 57.50h1.50v1.50h-1.50zM317.40 59.00h1.50v1.50h-1.50zM318.90 51.50h1.50v1.50h-1.50zM318.90 53.00h1.50v1.50h-1.50zM318.90 54.50h1.50v1.50h-1.50zM318.90 56.00h1.50v1.50h-1.50zM318.90 57.50h1.50v1.50h-1.50zM318.90 59.00h1.50v1.50h-1.50zM320.40 51.50h1.50v1.50h-1.50zM320.40 53.00h1.50v1.50h-1.50zM320.40 54.50h1.50v1.50h-1.50zM320.40 56.00h1.50v1.50h-1.50zM320.40 57.50h1.50v1.50h-1.50zM320.40 59.00h1.50v1.50h-1.50zM321.90 51.50h1.50v1.50h-1.50zM321.90 53.00h1.50v1.50h-1.50zM321.90 54.50h1.50v1.50h-1.50zM321.90 56.00h1.50v1.50h-1.50zM321.90 57.50h1.50v1.50h-1.50zM323.40 53.00h1.50v1.50h-1.50zM323.40 54.50h1.50v1.50h-1.50zM323.40 56.00h1.50v1.50h-1.50zM282.90 75.50h1.50v1.50h-1.50zM282.90 77.00h1.50v1.50h-1.50zM282.90 78.50h1.50v1.50h-1.50zM282.90 80.00h1.50v1.50h-1.50zM282.90 81.50h1.50v1.50h-1.50zM282.90 83.00h1.50v1.50h-1.50zM284.40 74.00h1.50v1.50h-1.50zM284.40 75.50h1.50v1.50h-1.50zM284.40 77.00h1.50v1.50h-1.50zM284.40 78.50h1.50v1.50h-1.50zM284.40 80.00h1.50v1.50h-1.50zM284.40 81.50h1.50v1.50h-1.50zM284.40 83.00h1.50v1.50h-1.50zM284.40 84.50h1.50v1.50h-1.50zM284.40 86.00h1.50v1.50h-1.50zM285.90 74.00h1.50v1.50h-1.50zM285.90 75.50h1.50v1.50h-1.50zM285.90 77.00h1.50v1.50h-1.50zM285.90 78.50h1.50v1.50h-1.50zM285.90 80.00h1.50v1.50h-1.50zM285.90 81.50h1.50v1.50h-1.50zM285.90 83.00h1.50v1.50h-1.50zM285.90 84.50h1.50v1.50h-1.50zM285.90 86.00h1.50v1.50h-1.50zM287.40 74.00h1.50v1.50h-1.50zM287.40 75.50h1.50v1.50h-1.50zM287.40 77.00h1.50v1.50h-1.50zM287.40 78.50h1.50v1.50h-1.50zM287.40 80.00h1.50v1.50h-1.50zM287.40 81.50h1.50v1.50h-1.50zM287.40 83.00h1.50v1.50h-1.50zM287.40 84.50h1.50v1.50h-1.50zM287.40 86.00h1.50v1.50h-1.50zM287.40 87.50h1.50v1.50h-1.50zM288.90 75.50h1.50v1.50h-1.50zM288.90 77.00h1.50v1.50h-1.50zM288.90 78.50h1.50v1.50h-1.50zM288.90 80.00h1.50v1.50h-1.50zM288.90 81.50h1.50v1.50h-1.50zM288.90 83.00h1.50v1.50h-1.50zM288.90 84.50h1.50v1.50h-1.50zM288.90 86.00h1.50v1.50h-1.50zM288.90 87.50h1.50v1.50h-1.50zM290.40 75.50h1.50v1.50h-1.50zM290.40 77.00h1.50v1.50h-1.50zM290.40 78.50h1.50v1.50h-1.50zM290.40 80.00h1.50v1.50h-1.50zM290.40 81.50h1.50v1.50h-1.50zM290.40 83.00h1.50v1.50h-1.50zM290.40 84.50h1.50v1.50h-1.50zM290.40 86.00h1.50v1.50h-1.50zM290.40 87.50h1.50v1.50h-1.50zM290.40 89.00h1.50v1.50h-1.50zM291.90 75.50h1.50v1.50h-1.50zM291.90 77.00h1.50v1.50h-1.50zM291.90 78.50h1.50v1.50h-1.50zM291.90 80.00h1.50v1.50h-1.50zM291.90 81.50h1.50v1.50h-1.50zM291.90 83.00h1.50v1.50h-1.50zM291.90 84.50h1.50v1.50h-1.50zM291.90 86.00h1.50v1.50h-1.50zM291.90 87.50h1.50v1.50h-1.50zM291.90 89.00h1.50v1.50h-1.50zM291.90 90.50h1.50v1.50h-1.50zM293.40 75.50h1.50v1.50h-1.50zM293.40 77.00h1.50v1.50h-1.50zM293.40 78.50h1.50v1.50h-1.50zM293.40 80.00h1.50v1.50h-1.50zM293.40 81.50h1.50v1.50h-1.50zM293.40 83.00h1.50v1.50h-1.50zM293.40 84.50h1.50v1.50h-1.50zM293.40 86.00h1.50v1.50h-1.50zM293.40 87.50h1.50v1.50h-1.50zM293.40 89.00h1.50v1.50h-1.50zM293.40 90.50h1.50v1.50h-1.50zM294.90 77.00h1.50v1.50h-1.50zM294.90 78.50h1.50v1.50h-1.50zM294.90 80.00h1.50v1.50h-1.50zM294.90 81.50h1.50v1.50h-1.50zM294.90 83.00h1.50v1.50h-1.50zM294.90 84.50h1.50v1.50h-1.50zM294.90 86.00h1.50v1.50h-1.50zM294.90 87.50h1.50v1.50h-1.50zM294.90 89.00h1.50v1.50h-1.50zM294.90 90.50h1.50v1.50h-1.50zM296.40 78.50h1.50v1.50h-1.50zM296.40 80.00h1.50v1.50h-1.50zM296.40 81.50h1.50v1.50h-1.50zM296.40 83.00h1.50v1.50h-1.50zM296.40 84.50h1.50v1.50h-1.50zM296.40 86.00h1.50v1.50h-1.50zM296.40 87.50h1.50v1.50h-1.50zM296.40 89.00h1.50v1.50h-1.50zM296.40 90.50h1.50v1.50h-1.50zM297.90 78.50h1.50v1.50h-1.50zM297.90 80.00h1.50v1.50h-1.50zM297.90 81.50h1.50v1.50h-1.50zM297.90 83.00h1.50v1.50h-1.50zM297.90 84.50h1.50v1.50h-1.50zM297.90 86.00h1.50v1.50h-1.50zM297.90 87.50h1.50v1.50h-1.50zM297.90 89.00h1.50v1.50h-1.50zM299.40 78.50h1.50v1.50h-1.50zM299.40 80.00h1.50v1.50h-1.50zM299.40 81.50h1.50v1.50h-1.50zM299.40 83.00h1.50v1.50h-1.50zM299.40 84.50h1.50v1.50h-1.50zM299.40 86.00h1.50v1.50h-1.50zM299.40 87.50h1.50v1.50h-1.50zM300.90 80.00h1.50v1.50h-1.50zM300.90 81.50h1.50v1.50h-1.50zM300.90 83.00h1.50v1.50h-1.50zM300.90 84.50h1.50v1.50h-1.50zM329.40 50.00h1.50v1.50h-1.50zM329.40 51.50h1.50v1.50h-1.50zM329.40 53.00h1.50v1.50h-1.50zM329.40 54.50h1.50v1.50h-1.50zM329.40 56.00h1.50v1.50h-1.50zM329.40 57.50h1.50v1.50h-1.50zM329.40 59.00h1.50v1.50h-1.50zM329.40 60.50h1.50v1.50h-1.50zM330.90 45.50h1.50v1.50h-1.50zM330.90 47.00h1.50v1.50h-1.50zM330.90 48.50h1.50v1.50h-1.50zM330.90 50.00h1.50v1.50h-1.50zM330.90 51.50h1.50v1.50h-1.50zM330.90 53.00h1.50v1.50h-1.50zM330.90 54.50h1.50v1.50h-1.50zM330.90 56.00h1.50v1.50h-1.50zM330.90 57.50h1.50v1.50h-1.50zM330.90 59.00h1.50v1.50h-1.50zM330.90 60.50h1.50v1.50h-1.50zM332.40 44.00h1.50v1.50h-1.50zM332.40 45.50h1.50v1.50h-1.50zM332.40 47.00h1.50v1.50h-1.50zM332.40 48.50h1.50v1.50h-1.50zM332.40 50.00h1.50v1.50h-1.50zM332.40 51.50h1.50v1.50h-1.50zM332.40 53.00h1.50v1.50h-1.50zM332.40 54.50h1.50v1.50h-1.50zM332.40 56.00h1.50v1.50h-1.50zM332.40 57.50h1.50v1.50h-1.50zM332.40 59.00h1.50v1.50h-1.50zM332.40 60.50h1.50v1.50h-1.50zM333.90 42.50h1.50v1.50h-1.50zM333.90 44.00h1.50v1.50h-1.50zM333.90 45.50h1.50v1.50h-1.50zM333.90 47.00h1.50v1.50h-1.50zM333.90 48.50h1.50v1.50h-1.50zM333.90 50.00h1.50v1.50h-1.50zM333.90 51.50h1.50v1.50h-1.50zM333.90 53.00h1.50v1.50h-1.50zM333.90 54.50h1.50v1.50h-1.50zM333.90 56.00h1.50v1.50h-1.50zM333.90 57.50h1.50v1.50h-1.50zM335.40 42.50h1.50v1.50h-1.50zM335.40 44.00h1.50v1.50h-1.50zM335.40 45.50h1.50v1.50h-1.50zM335.40 47.00h1.50v1.50h-1.50zM335.40 48.50h1.50v1.50h-1.50zM335.40 50.00h1.50v1.50h-1.50zM335.40 51.50h1.50v1.50h-1.50zM335.40 53.00h1.50v1.50h-1.50zM335.40 54.50h1.50v1.50h-1.50zM335.40 56.00h1.50v1.50h-1.50zM336.90 42.50h1.50v1.50h-1.50zM336.90 44.00h1.50v1.50h-1.50zM336.90 45.50h1.50v1.50h-1.50zM336.90 47.00h1.50v1.50h-1.50zM336.90 48.50h1.50v1.50h-1.50zM336.90 50.00h1.50v1.50h-1.50zM336.90 51.50h1.50v1.50h-1.50zM336.90 53.00h1.50v1.50h-1.50zM336.90 54.50h1.50v1.50h-1.50zM336.90 56.00h1.50v1.50h-1.50zM338.40 44.00h1.50v1.50h-1.50zM338.40 45.50h1.50v1.50h-1.50zM338.40 47.00h1.50v1.50h-1.50zM338.40 48.50h1.50v1.50h-1.50zM338.40 50.00h1.50v1.50h-1.50zM338.40 51.50h1.50v1.50h-1.50zM338.40 53.00h1.50v1.50h-1.50zM338.40 54.50h1.50v1.50h-1.50zM339.90 48.50h1.50v1.50h-1.50zM339.90 50.00h1.50v1.50h-1.50zM339.90 51.50h1.50v1.50h-1.50zM339.90 53.00h1.50v1.50h-1.50zM339.90 54.50h1.50v1.50h-1.50zM341.40 48.50h1.50v1.50h-1.50zM341.40 50.00h1.50v1.50h-1.50zM341.40 51.50h1.50v1.50h-1.50zM341.40 53.00h1.50v1.50h-1.50zM341.40 54.50h1.50v1.50h-1.50zM342.90 48.50h1.50v1.50h-1.50zM342.90 50.00h1.50v1.50h-1.50zM342.90 51.50h1.50v1.50h-1.50zM342.90 53.00h1.50v1.50h-1.50zM342.90 54.50h1.50v1.50h-1.50zM344.40 48.50h1.50v1.50h-1.50zM344.40 50.00h1.50v1.50h-1.50zM344.40 51.50h1.50v1.50h-1.50zM344.40 53.00h1.50v1.50h-1.50zM309.90 71.00h1.50v1.50h-1.50zM309.90 72.50h1.50v1.50h-1.50zM309.90 74.00h1.50v1.50h-1.50zM309.90 75.50h1.50v1.50h-1.50zM309.90 77.00h1.50v1.50h-1.50zM309.90 78.50h1.50v1.50h-1.50zM311.40 71.00h1.50v1.50h-1.50zM311.40 72.50h1.50v1.50h-1.50zM311.40 74.00h1.50v1.50h-1.50zM311.40 75.50h1.50v1.50h-1.50zM311.40 77.00h1.50v1.50h-1.50zM311.40 78.50h1.50v1.50h-1.50zM311.40 80.00h1.50v1.50h-1.50zM311.40 81.50h1.50v1.50h-1.50zM311.40 83.00h1.50v1.50h-1.50zM311.40 84.50h1.50v1.50h-1.50zM311.40 86.00h1.50v1.50h-1.50zM311.40 87.50h1.50v1.50h-1.50zM312.90 71.00h1.50v1.50h-1.50zM312.90 72.50h1.50v1.50h-1.50zM312.90 74.00h1.50v1.50h-1.50zM312.90 75.50h1.50v1.50h-1.50zM312.90 77.00h1.50v1.50h-1.50zM312.90 78.50h1.50v1.50h-1.50zM312.90 80.00h1.50v1.50h-1.50zM312.90 81.50h1.50v1.50h-1.50zM312.90 83.00h1.50v1.50h-1.50zM312.90 84.50h1.50v1.50h-1.50zM312.90 86.00h1.50v1.50h-1.50zM312.90 87.50h1.50v1.50h-1.50zM312.90 89.00h1.50v1.50h-1.50zM314.40 71.00h1.50v1.50h-1.50zM314.40 72.50h1.50v1.50h-1.50zM314.40 74.00h1.50v1.50h-1.50zM314.40 75.50h1.50v1.50h-1.50zM314.40 77.00h1.50v1.50h-1.50zM314.40 78.50h1.50v1.50h-1.50zM314.40 80.00h1.50v1.50h-1.50zM314.40 81.50h1.50v1.50h-1.50zM314.40 83.00h1.50v1.50h-1.50zM314.40 84.50h1.50v1.50h-1.50zM314.40 86.00h1.50v1.50h-1.50zM314.40 87.50h1.50v1.50h-1.50zM314.40 89.00h1.50v1.50h-1.50zM315.90 72.50h1.50v1.50h-1.50zM315.90 74.00h1.50v1.50h-1.50zM315.90 75.50h1.50v1.50h-1.50zM315.90 77.00h1.50v1.50h-1.50zM315.90 78.50h1.50v1.50h-1.50zM315.90 80.00h1.50v1.50h-1.50zM315.90 81.50h1.50v1.50h-1.50zM315.90 83.00h1.50v1.50h-1.50zM315.90 84.50h1.50v1.50h-1.50zM315.90 86.00h1.50v1.50h-1.50zM315.90 87.50h1.50v1.50h-1.50zM315.90 89.00h1.50v1.50h-1.50zM317.40 75.50h1.50v1.50h-1.50zM317.40 77.00h1.50v1.50h-1.50zM317.40 78.50h1.50v1.50h-1.50zM317.40 80.00h1.50v1.50h-1.50zM317.40 81.50h1.50v1.50h-1.50zM317.40 83.00h1.50v1.50h-1.50zM317.40 84.50h1.50v1.50h-1.50zM317.40 86.00h1.50v1.50h-1.50zM317.40 87.50h1.50v1.50h-1.50zM317.40 89.00h1.50v1.50h-1.50zM318.90 77.00h1.50v1.50h-1.50zM318.90 78.50h1.50v1.50h-1.50zM318.90 80.00h1.50v1.50h-1.50zM318.90 81.50h1.50v1.50h-1.50zM318.90 83.00h1.50v1.50h-1.50zM318.90 84.50h1.50v1.50h-1.50zM318.90 86.00h1.50v1.50h-1.50zM318.90 87.50h1.50v1.50h-1.50zM318.90 89.00h1.50v1.50h-1.50zM320.40 80.00h1.50v1.50h-1.50zM320.40 81.50h1.50v1.50h-1.50zM320.40 83.00h1.50v1.50h-1.50zM320.40 84.50h1.50v1.50h-1.50zM320.40 86.00h1.50v1.50h-1.50zM320.40 87.50h1.50v1.50h-1.50zM320.40 89.00h1.50v1.50h-1.50zM321.90 81.50h1.50v1.50h-1.50zM321.90 83.00h1.50v1.50h-1.50zM321.90 84.50h1.50v1.50h-1.50zM321.90 86.00h1.50v1.50h-1.50zM321.90 87.50h1.50v1.50h-1.50zM333.90 83.00h1.50v1.50h-1.50zM333.90 84.50h1.50v1.50h-1.50zM333.90 86.00h1.50v1.50h-1.50zM333.90 87.50h1.50v1.50h-1.50zM333.90 89.00h1.50v1.50h-1.50zM333.90 90.50h1.50v1.50h-1.50zM335.40 78.50h1.50v1.50h-1.50zM335.40 80.00h1.50v1.50h-1.50zM335.40 81.50h1.50v1.50h-1.50zM335.40 83.00h1.50v1.50h-1.50zM335.40 84.50h1.50v1.50h-1.50zM335.40 86.00h1.50v1.50h-1.50zM335.40 87.50h1.50v1.50h-1.50zM335.40 89.00h1.50v1.50h-1.50zM335.40 90.50h1.50v1.50h-1.50zM336.90 74.00h1.50v1.50h-1.50zM336.90 75.50h1.50v1.50h-1.50zM336.90 77.00h1.50v1.50h-1.50zM336.90 78.50h1.50v1.50h-1.50zM336.90 80.00h1.50v1.50h-1.50zM336.90 81.50h1.50v1.50h-1.50zM336.90 83.00h1.50v1.50h-1.50zM336.90 84.50h1.50v1.50h-1.50zM336.90 86.00h1.50v1.50h-1.50zM336.90 87.50h1.50v1.50h-1.50zM336.90 89.00h1.50v1.50h-1.50zM336.90 90.50h1.50v1.50h-1.50zM338.40 72.50h1.50v1.50h-1.50zM338.40 74.00h1.50v1.50h-1.50zM338.40 75.50h1.50v1.50h-1.50zM338.40 77.00h1.50v1.50h-1.50zM338.40 78.50h1.50v1.50h-1.50zM338.40 80.00h1.50v1.50h-1.50zM338.40 81.50h1.50v1.50h-1.50zM338.40 83.00h1.50v1.50h-1.50zM338.40 84.50h1.50v1.50h-1.50zM338.40 86.00h1.50v1.50h-1.50zM338.40 87.50h1.50v1.50h-1.50zM338.40 89.00h1.50v1.50h-1.50zM338.40 90.50h1.50v1.50h-1.50zM339.90 72.50h1.50v1.50h-1.50zM339.90 74.00h1.50v1.50h-1.50zM339.90 75.50h1.50v1.50h-1.50zM339.90 77.00h1.50v1.50h-1.50zM339.90 78.50h1.50v1.50h-1.50zM339.90 80.00h1.50v1.50h-1.50zM339.90 81.50h1.50v1.50h-1.50zM339.90 83.00h1.50v1.50h-1.50zM339.90 84.50h1.50v1.50h-1.50zM339.90 86.00h1.50v1.50h-1.50zM339.90 87.50h1.50v1.50h-1.50zM339.90 89.00h1.50v1.50h-1.50zM339.90 90.50h1.50v1.50h-1.50zM341.40 72.50h1.50v1.50h-1.50zM341.40 74.00h1.50v1.50h-1.50zM341.40 75.50h1.50v1.50h-1.50zM341.40 77.00h1.50v1.50h-1.50zM341.40 78.50h1.50v1.50h-1.50zM341.40 80.00h1.50v1.50h-1.50zM341.40 81.50h1.50v1.50h-1.50zM341.40 83.00h1.50v1.50h-1.50zM341.40 84.50h1.50v1.50h-1.50zM341.40 86.00h1.50v1.50h-1.50zM341.40 87.50h1.50v1.50h-1.50zM341.40 89.00h1.50v1.50h-1.50zM341.40 90.50h1.50v1.50h-1.50zM342.90 72.50h1.50v1.50h-1.50zM342.90 74.00h1.50v1.50h-1.50zM342.90 75.50h1.50v1.50h-1.50zM342.90 77.00h1.50v1.50h-1.50zM342.90 78.50h1.50v1.50h-1.50zM342.90 80.00h1.50v1.50h-1.50zM342.90 81.50h1.50v1.50h-1.50zM342.90 83.00h1.50v1.50h-1.50zM342.90 84.50h1.50v1.50h-1.50zM342.90 86.00h1.50v1.50h-1.50zM342.90 87.50h1.50v1.50h-1.50zM342.90 89.00h1.50v1.50h-1.50zM342.90 90.50h1.50v1.50h-1.50zM344.40 72.50h1.50v1.50h-1.50zM344.40 74.00h1.50v1.50h-1.50zM344.40 75.50h1.50v1.50h-1.50zM344.40 77.00h1.50v1.50h-1.50zM344.40 78.50h1.50v1.50h-1.50zM344.40 81.50h1.50v1.50h-1.50zM344.40 83.00h1.50v1.50h-1.50zM344.40 84.50h1.50v1.50h-1.50zM344.40 86.00h1.50v1.50h-1.50zM344.40 87.50h1.50v1.50h-1.50zM344.40 89.00h1.50v1.50h-1.50zM345.90 72.50h1.50v1.50h-1.50zM345.90 74.00h1.50v1.50h-1.50zM345.90 75.50h1.50v1.50h-1.50zM345.90 77.00h1.50v1.50h-1.50zM345.90 81.50h1.50v1.50h-1.50zM345.90 83.00h1.50v1.50h-1.50zM345.90 84.50h1.50v1.50h-1.50zM345.90 86.00h1.50v1.50h-1.50zM345.90 87.50h1.50v1.50h-1.50zM345.90 89.00h1.50v1.50h-1.50zM347.40 72.50h1.50v1.50h-1.50zM347.40 74.00h1.50v1.50h-1.50zM347.40 75.50h1.50v1.50h-1.50zM347.40 77.00h1.50v1.50h-1.50zM347.40 78.50h1.50v1.50h-1.50zM347.40 80.00h1.50v1.50h-1.50zM347.40 81.50h1.50v1.50h-1.50zM347.40 83.00h1.50v1.50h-1.50zM347.40 84.50h1.50v1.50h-1.50zM347.40 86.00h1.50v1.50h-1.50zM347.40 87.50h1.50v1.50h-1.50zM347.40 89.00h1.50v1.50h-1.50zM348.90 74.00h1.50v1.50h-1.50zM348.90 75.50h1.50v1.50h-1.50zM348.90 77.00h1.50v1.50h-1.50zM348.90 78.50h1.50v1.50h-1.50zM348.90 80.00h1.50v1.50h-1.50zM348.90 81.50h1.50v1.50h-1.50zM348.90 83.00h1.50v1.50h-1.50zM348.90 84.50h1.50v1.50h-1.50zM348.90 86.00h1.50v1.50h-1.50zM348.90 87.50h1.50v1.50h-1.50zM348.90 89.00h1.50v1.50h-1.50zM350.40 74.00h1.50v1.50h-1.50zM350.40 75.50h1.50v1.50h-1.50zM350.40 77.00h1.50v1.50h-1.50zM350.40 78.50h1.50v1.50h-1.50zM350.40 80.00h1.50v1.50h-1.50zM350.40 81.50h1.50v1.50h-1.50zM350.40 83.00h1.50v1.50h-1.50zM350.40 84.50h1.50v1.50h-1.50zM350.40 86.00h1.50v1.50h-1.50zM350.40 87.50h1.50v1.50h-1.50zM351.90 75.50h1.50v1.50h-1.50zM351.90 77.00h1.50v1.50h-1.50zM351.90 78.50h1.50v1.50h-1.50zM351.90 80.00h1.50v1.50h-1.50zM351.90 81.50h1.50v1.50h-1.50zM351.90 83.00h1.50v1.50h-1.50zM351.90 84.50h1.50v1.50h-1.50zM351.90 86.00h1.50v1.50h-1.50zM351.90 87.50h1.50v1.50h-1.50zM353.40 75.50h1.50v1.50h-1.50zM353.40 77.00h1.50v1.50h-1.50zM353.40 78.50h1.50v1.50h-1.50zM353.40 80.00h1.50v1.50h-1.50zM353.40 81.50h1.50v1.50h-1.50zM353.40 83.00h1.50v1.50h-1.50zM353.40 84.50h1.50v1.50h-1.50zM353.40 86.00h1.50v1.50h-1.50zM354.90 78.50h1.50v1.50h-1.50zM354.90 80.00h1.50v1.50h-1.50zM257.40 83.00h1.50v1.50h-1.50zM257.40 84.50h1.50v1.50h-1.50zM257.40 86.00h1.50v1.50h-1.50zM258.90 81.50h1.50v1.50h-1.50zM258.90 83.00h1.50v1.50h-1.50zM258.90 84.50h1.50v1.50h-1.50zM258.90 86.00h1.50v1.50h-1.50zM258.90 87.50h1.50v1.50h-1.50zM258.90 89.00h1.50v1.50h-1.50zM258.90 90.50h1.50v1.50h-1.50zM258.90 92.00h1.50v1.50h-1.50zM260.40 81.50h1.50v1.50h-1.50zM260.40 83.00h1.50v1.50h-1.50zM260.40 84.50h1.50v1.50h-1.50zM260.40 86.00h1.50v1.50h-1.50zM260.40 87.50h1.50v1.50h-1.50zM260.40 89.00h1.50v1.50h-1.50zM260.40 90.50h1.50v1.50h-1.50zM260.40 92.00h1.50v1.50h-1.50zM261.90 81.50h1.50v1.50h-1.50zM261.90 83.00h1.50v1.50h-1.50zM261.90 84.50h1.50v1.50h-1.50zM261.90 86.00h1.50v1.50h-1.50zM261.90 87.50h1.50v1.50h-1.50zM261.90 89.00h1.50v1.50h-1.50zM261.90 90.50h1.50v1.50h-1.50zM261.90 92.00h1.50v1.50h-1.50zM263.40 80.00h1.50v1.50h-1.50zM263.40 81.50h1.50v1.50h-1.50zM263.40 83.00h1.50v1.50h-1.50zM263.40 84.50h1.50v1.50h-1.50zM263.40 86.00h1.50v1.50h-1.50zM263.40 87.50h1.50v1.50h-1.50zM263.40 89.00h1.50v1.50h-1.50zM263.40 90.50h1.50v1.50h-1.50zM263.40 92.00h1.50v1.50h-1.50zM264.90 80.00h1.50v1.50h-1.50zM264.90 81.50h1.50v1.50h-1.50zM264.90 83.00h1.50v1.50h-1.50zM264.90 84.50h1.50v1.50h-1.50zM264.90 86.00h1.50v1.50h-1.50zM264.90 87.50h1.50v1.50h-1.50zM264.90 89.00h1.50v1.50h-1.50zM264.90 90.50h1.50v1.50h-1.50zM264.90 92.00h1.50v1.50h-1.50zM266.40 80.00h1.50v1.50h-1.50zM266.40 81.50h1.50v1.50h-1.50zM266.40 83.00h1.50v1.50h-1.50zM266.40 84.50h1.50v1.50h-1.50zM266.40 86.00h1.50v1.50h-1.50zM266.40 87.50h1.50v1.50h-1.50zM266.40 89.00h1.50v1.50h-1.50zM266.40 90.50h1.50v1.50h-1.50zM266.40 92.00h1.50v1.50h-1.50zM267.90 80.00h1.50v1.50h-1.50zM267.90 81.50h1.50v1.50h-1.50zM267.90 83.00h1.50v1.50h-1.50zM267.90 84.50h1.50v1.50h-1.50zM267.90 86.00h1.50v1.50h-1.50zM267.90 87.50h1.50v1.50h-1.50zM267.90 89.00h1.50v1.50h-1.50zM267.90 90.50h1.50v1.50h-1.50zM269.40 81.50h1.50v1.50h-1.50zM269.40 83.00h1.50v1.50h-1.50zM269.40 84.50h1.50v1.50h-1.50zM269.40 86.00h1.50v1.50h-1.50zM269.40 87.50h1.50v1.50h-1.50zM269.40 89.00h1.50v1.50h-1.50zM236.40 108.50h1.50v1.50h-1.50zM236.40 110.00h1.50v1.50h-1.50zM236.40 111.50h1.50v1.50h-1.50zM236.40 113.00h1.50v1.50h-1.50zM237.90 105.50h1.50v1.50h-1.50zM237.90 107.00h1.50v1.50h-1.50zM237.90 108.50h1.50v1.50h-1.50zM237.90 110.00h1.50v1.50h-1.50zM237.90 111.50h1.50v1.50h-1.50zM237.90 113.00h1.50v1.50h-1.50zM237.90 114.50h1.50v1.50h-1.50zM237.90 116.00h1.50v1.50h-1.50zM239.40 104.00h1.50v1.50h-1.50zM239.40 105.50h1.50v1.50h-1.50zM239.40 107.00h1.50v1.50h-1.50zM239.40 108.50h1.50v1.50h-1.50zM239.40 110.00h1.50v1.50h-1.50zM239.40 111.50h1.50v1.50h-1.50zM239.40 113.00h1.50v1.50h-1.50zM239.40 114.50h1.50v1.50h-1.50zM239.40 116.00h1.50v1.50h-1.50zM240.90 102.50h1.50v1.50h-1.50zM240.90 104.00h1.50v1.50h-1.50zM240.90 105.50h1.50v1.50h-1.50zM240.90 107.00h1.50v1.50h-1.50zM240.90 108.50h1.50v1.50h-1.50zM240.90 110.00h1.50v1.50h-1.50zM240.90 111.50h1.50v1.50h-1.50zM240.90 113.00h1.50v1.50h-1.50zM240.90 114.50h1.50v1.50h-1.50zM240.90 116.00h1.50v1.50h-1.50zM242.40 102.50h1.50v1.50h-1.50zM242.40 104.00h1.50v1.50h-1.50zM242.40 105.50h1.50v1.50h-1.50zM242.40 107.00h1.50v1.50h-1.50zM242.40 108.50h1.50v1.50h-1.50zM242.40 110.00h1.50v1.50h-1.50zM242.40 111.50h1.50v1.50h-1.50zM242.40 113.00h1.50v1.50h-1.50zM242.40 114.50h1.50v1.50h-1.50zM242.40 116.00h1.50v1.50h-1.50zM243.90 102.50h1.50v1.50h-1.50zM243.90 104.00h1.50v1.50h-1.50zM243.90 105.50h1.50v1.50h-1.50zM243.90 107.00h1.50v1.50h-1.50zM243.90 108.50h1.50v1.50h-1.50zM243.90 110.00h1.50v1.50h-1.50zM243.90 111.50h1.50v1.50h-1.50zM243.90 113.00h1.50v1.50h-1.50zM243.90 114.50h1.50v1.50h-1.50zM245.40 104.00h1.50v1.50h-1.50zM245.40 105.50h1.50v1.50h-1.50zM245.40 107.00h1.50v1.50h-1.50zM245.40 108.50h1.50v1.50h-1.50zM245.40 110.00h1.50v1.50h-1.50zM245.40 111.50h1.50v1.50h-1.50zM245.40 113.00h1.50v1.50h-1.50zM245.40 114.50h1.50v1.50h-1.50zM246.90 105.50h1.50v1.50h-1.50zM246.90 107.00h1.50v1.50h-1.50zM246.90 108.50h1.50v1.50h-1.50zM246.90 110.00h1.50v1.50h-1.50zM246.90 111.50h1.50v1.50h-1.50zM246.90 113.00h1.50v1.50h-1.50zM246.90 114.50h1.50v1.50h-1.50zM248.40 111.50h1.50v1.50h-1.50zM248.40 113.00h1.50v1.50h-1.50zM258.90 114.50h1.50v1.50h-1.50zM258.90 116.00h1.50v1.50h-1.50zM258.90 117.50h1.50v1.50h-1.50zM258.90 119.00h1.50v1.50h-1.50zM260.40 114.50h1.50v1.50h-1.50zM260.40 116.00h1.50v1.50h-1.50zM260.40 117.50h1.50v1.50h-1.50zM260.40 119.00h1.50v1.50h-1.50zM261.90 113.00h1.50v1.50h-1.50zM261.90 114.50h1.50v1.50h-1.50zM261.90 116.00h1.50v1.50h-1.50zM261.90 117.50h1.50v1.50h-1.50zM261.90 119.00h1.50v1.50h-1.50zM263.40 113.00h1.50v1.50h-1.50zM263.40 114.50h1.50v1.50h-1.50zM263.40 116.00h1.50v1.50h-1.50zM263.40 117.50h1.50v1.50h-1.50zM263.40 119.00h1.50v1.50h-1.50zM264.90 113.00h1.50v1.50h-1.50zM264.90 114.50h1.50v1.50h-1.50zM264.90 116.00h1.50v1.50h-1.50zM264.90 117.50h1.50v1.50h-1.50zM264.90 119.00h1.50v1.50h-1.50zM266.40 113.00h1.50v1.50h-1.50zM266.40 114.50h1.50v1.50h-1.50zM266.40 116.00h1.50v1.50h-1.50zM266.40 117.50h1.50v1.50h-1.50zM267.90 113.00h1.50v1.50h-1.50zM267.90 114.50h1.50v1.50h-1.50zM267.90 116.00h1.50v1.50h-1.50zM267.90 117.50h1.50v1.50h-1.50zM269.40 113.00h1.50v1.50h-1.50zM269.40 114.50h1.50v1.50h-1.50zM269.40 116.00h1.50v1.50h-1.50zM270.90 113.00h1.50v1.50h-1.50zM270.90 114.50h1.50v1.50h-1.50zM270.90 116.00h1.50v1.50h-1.50zM272.40 114.50h1.50v1.50h-1.50zM272.40 116.00h1.50v1.50h-1.50zM309.90 98.00h1.50v1.50h-1.50zM309.90 99.50h1.50v1.50h-1.50zM309.90 101.00h1.50v1.50h-1.50zM309.90 102.50h1.50v1.50h-1.50zM309.90 104.00h1.50v1.50h-1.50zM309.90 111.50h1.50v1.50h-1.50zM309.90 116.00h1.50v1.50h-1.50zM309.90 117.50h1.50v1.50h-1.50zM311.40 96.50h1.50v1.50h-1.50zM311.40 98.00h1.50v1.50h-1.50zM311.40 99.50h1.50v1.50h-1.50zM311.40 101.00h1.50v1.50h-1.50zM311.40 102.50h1.50v1.50h-1.50zM311.40 104.00h1.50v1.50h-1.50zM311.40 105.50h1.50v1.50h-1.50zM311.40 110.00h1.50v1.50h-1.50zM311.40 111.50h1.50v1.50h-1.50zM311.40 116.00h1.50v1.50h-1.50zM311.40 117.50h1.50v1.50h-1.50zM311.40 119.00h1.50v1.50h-1.50zM312.90 95.00h1.50v1.50h-1.50zM312.90 96.50h1.50v1.50h-1.50zM312.90 98.00h1.50v1.50h-1.50zM312.90 99.50h1.50v1.50h-1.50zM312.90 101.00h1.50v1.50h-1.50zM312.90 102.50h1.50v1.50h-1.50zM312.90 104.00h1.50v1.50h-1.50zM312.90 105.50h1.50v1.50h-1.50zM312.90 110.00h1.50v1.50h-1.50zM312.90 111.50h1.50v1.50h-1.50zM312.90 113.00h1.50v1.50h-1.50zM312.90 114.50h1.50v1.50h-1.50zM312.90 116.00h1.50v1.50h-1.50zM312.90 117.50h1.50v1.50h-1.50zM312.90 119.00h1.50v1.50h-1.50zM314.40 95.00h1.50v1.50h-1.50zM314.40 96.50h1.50v1.50h-1.50zM314.40 98.00h1.50v1.50h-1.50zM314.40 99.50h1.50v1.50h-1.50zM314.40 101.00h1.50v1.50h-1.50zM314.40 102.50h1.50v1.50h-1.50zM314.40 104.00h1.50v1.50h-1.50zM314.40 105.50h1.50v1.50h-1.50zM314.40 107.00h1.50v1.50h-1.50zM314.40 108.50h1.50v1.50h-1.50zM314.40 110.00h1.50v1.50h-1.50zM314.40 111.50h1.50v1.50h-1.50zM314.40 113.00h1.50v1.50h-1.50zM314.40 114.50h1.50v1.50h-1.50zM314.40 116.00h1.50v1.50h-1.50zM314.40 117.50h1.50v1.50h-1.50zM314.40 119.00h1.50v1.50h-1.50zM315.90 95.00h1.50v1.50h-1.50zM315.90 96.50h1.50v1.50h-1.50zM315.90 98.00h1.50v1.50h-1.50zM315.90 99.50h1.50v1.50h-1.50zM315.90 101.00h1.50v1.50h-1.50zM315.90 102.50h1.50v1.50h-1.50zM315.90 104.00h1.50v1.50h-1.50zM315.90 105.50h1.50v1.50h-1.50zM315.90 107.00h1.50v1.50h-1.50zM315.90 108.50h1.50v1.50h-1.50zM315.90 110.00h1.50v1.50h-1.50zM315.90 111.50h1.50v1.50h-1.50zM315.90 113.00h1.50v1.50h-1.50zM315.90 114.50h1.50v1.50h-1.50zM315.90 116.00h1.50v1.50h-1.50zM315.90 117.50h1.50v1.50h-1.50zM315.90 119.00h1.50v1.50h-1.50zM315.90 120.50h1.50v1.50h-1.50zM317.40 95.00h1.50v1.50h-1.50zM317.40 96.50h1.50v1.50h-1.50zM317.40 98.00h1.50v1.50h-1.50zM317.40 99.50h1.50v1.50h-1.50zM317.40 101.00h1.50v1.50h-1.50zM317.40 102.50h1.50v1.50h-1.50zM317.40 104.00h1.50v1.50h-1.50zM317.40 105.50h1.50v1.50h-1.50zM317.40 107.00h1.50v1.50h-1.50zM317.40 108.50h1.50v1.50h-1.50zM317.40 110.00h1.50v1.50h-1.50zM317.40 111.50h1.50v1.50h-1.50zM317.40 113.00h1.50v1.50h-1.50zM317.40 114.50h1.50v1.50h-1.50zM317.40 116.00h1.50v1.50h-1.50zM317.40 117.50h1.50v1.50h-1.50zM317.40 119.00h1.50v1.50h-1.50zM317.40 120.50h1.50v1.50h-1.50zM318.90 96.50h1.50v1.50h-1.50zM318.90 98.00h1.50v1.50h-1.50zM318.90 99.50h1.50v1.50h-1.50zM318.90 101.00h1.50v1.50h-1.50zM318.90 102.50h1.50v1.50h-1.50zM318.90 104.00h1.50v1.50h-1.50zM318.90 105.50h1.50v1.50h-1.50zM318.90 107.00h1.50v1.50h-1.50zM318.90 108.50h1.50v1.50h-1.50zM318.90 110.00h1.50v1.50h-1.50zM318.90 111.50h1.50v1.50h-1.50zM318.90 113.00h1.50v1.50h-1.50zM318.90 114.50h1.50v1.50h-1.50zM318.90 116.00h1.50v1.50h-1.50zM318.90 117.50h1.50v1.50h-1.50zM318.90 119.00h1.50v1.50h-1.50zM318.90 120.50h1.50v1.50h-1.50zM320.40 96.50h1.50v1.50h-1.50zM320.40 98.00h1.50v1.50h-1.50zM320.40 99.50h1.50v1.50h-1.50zM320.40 101.00h1.50v1.50h-1.50zM320.40 102.50h1.50v1.50h-1.50zM320.40 104.00h1.50v1.50h-1.50zM320.40 105.50h1.50v1.50h-1.50zM320.40 107.00h1.50v1.50h-1.50zM320.40 108.50h1.50v1.50h-1.50zM320.40 110.00h1.50v1.50h-1.50zM320.40 111.50h1.50v1.50h-1.50zM320.40 113.00h1.50v1.50h-1.50zM320.40 114.50h1.50v1.50h-1.50zM320.40 116.00h1.50v1.50h-1.50zM320.40 117.50h1.50v1.50h-1.50zM320.40 119.00h1.50v1.50h-1.50zM320.40 120.50h1.50v1.50h-1.50zM321.90 98.00h1.50v1.50h-1.50zM321.90 99.50h1.50v1.50h-1.50zM321.90 101.00h1.50v1.50h-1.50zM321.90 102.50h1.50v1.50h-1.50zM321.90 104.00h1.50v1.50h-1.50zM321.90 105.50h1.50v1.50h-1.50zM321.90 110.00h1.50v1.50h-1.50zM321.90 111.50h1.50v1.50h-1.50zM321.90 113.00h1.50v1.50h-1.50zM321.90 114.50h1.50v1.50h-1.50zM321.90 116.00h1.50v1.50h-1.50zM321.90 117.50h1.50v1.50h-1.50zM321.90 119.00h1.50v1.50h-1.50zM323.40 99.50h1.50v1.50h-1.50zM323.40 101.00h1.50v1.50h-1.50zM323.40 102.50h1.50v1.50h-1.50zM323.40 104.00h1.50v1.50h-1.50zM323.40 111.50h1.50v1.50h-1.50zM323.40 113.00h1.50v1.50h-1.50zM323.40 114.50h1.50v1.50h-1.50zM323.40 116.00h1.50v1.50h-1.50zM323.40 117.50h1.50v1.50h-1.50zM323.40 119.00h1.50v1.50h-1.50zM324.90 113.00h1.50v1.50h-1.50zM324.90 114.50h1.50v1.50h-1.50zM324.90 116.00h1.50v1.50h-1.50zM324.90 117.50h1.50v1.50h-1.50zM281.40 113.00h1.50v1.50h-1.50zM281.40 114.50h1.50v1.50h-1.50zM281.40 116.00h1.50v1.50h-1.50zM281.40 117.50h1.50v1.50h-1.50zM281.40 119.00h1.50v1.50h-1.50zM282.90 110.00h1.50v1.50h-1.50zM282.90 111.50h1.50v1.50h-1.50zM282.90 113.00h1.50v1.50h-1.50zM282.90 114.50h1.50v1.50h-1.50zM282.90 116.00h1.50v1.50h-1.50zM282.90 117.50h1.50v1.50h-1.50zM282.90 119.00h1.50v1.50h-1.50zM282.90 120.50h1.50v1.50h-1.50zM284.40 107.00h1.50v1.50h-1.50zM284.40 108.50h1.50v1.50h-1.50zM284.40 110.00h1.50v1.50h-1.50zM284.40 111.50h1.50v1.50h-1.50zM284.40 113.00h1.50v1.50h-1.50zM284.40 114.50h1.50v1.50h-1.50zM284.40 116.00h1.50v1.50h-1.50zM284.40 117.50h1.50v1.50h-1.50zM284.40 119.00h1.50v1.50h-1.50zM284.40 120.50h1.50v1.50h-1.50zM285.90 104.00h1.50v1.50h-1.50zM285.90 105.50h1.50v1.50h-1.50zM285.90 107.00h1.50v1.50h-1.50zM285.90 108.50h1.50v1.50h-1.50zM285.90 110.00h1.50v1.50h-1.50zM285.90 111.50h1.50v1.50h-1.50zM285.90 113.00h1.50v1.50h-1.50zM285.90 114.50h1.50v1.50h-1.50zM285.90 116.00h1.50v1.50h-1.50zM285.90 117.50h1.50v1.50h-1.50zM285.90 119.00h1.50v1.50h-1.50zM285.90 120.50h1.50v1.50h-1.50zM287.40 104.00h1.50v1.50h-1.50zM287.40 105.50h1.50v1.50h-1.50zM287.40 107.00h1.50v1.50h-1.50zM287.40 108.50h1.50v1.50h-1.50zM287.40 110.00h1.50v1.50h-1.50zM287.40 111.50h1.50v1.50h-1.50zM287.40 113.00h1.50v1.50h-1.50zM287.40 114.50h1.50v1.50h-1.50zM287.40 116.00h1.50v1.50h-1.50zM287.40 117.50h1.50v1.50h-1.50zM287.40 119.00h1.50v1.50h-1.50zM287.40 120.50h1.50v1.50h-1.50zM288.90 104.00h1.50v1.50h-1.50zM288.90 105.50h1.50v1.50h-1.50zM288.90 107.00h1.50v1.50h-1.50zM288.90 108.50h1.50v1.50h-1.50zM288.90 110.00h1.50v1.50h-1.50zM288.90 111.50h1.50v1.50h-1.50zM288.90 113.00h1.50v1.50h-1.50zM288.90 114.50h1.50v1.50h-1.50zM288.90 116.00h1.50v1.50h-1.50zM288.90 117.50h1.50v1.50h-1.50zM288.90 119.00h1.50v1.50h-1.50zM288.90 120.50h1.50v1.50h-1.50zM290.40 104.00h1.50v1.50h-1.50zM290.40 105.50h1.50v1.50h-1.50zM290.40 107.00h1.50v1.50h-1.50zM290.40 108.50h1.50v1.50h-1.50zM290.40 110.00h1.50v1.50h-1.50zM290.40 111.50h1.50v1.50h-1.50zM290.40 113.00h1.50v1.50h-1.50zM290.40 114.50h1.50v1.50h-1.50zM290.40 116.00h1.50v1.50h-1.50zM290.40 117.50h1.50v1.50h-1.50zM290.40 119.00h1.50v1.50h-1.50zM291.90 104.00h1.50v1.50h-1.50zM291.90 105.50h1.50v1.50h-1.50zM291.90 107.00h1.50v1.50h-1.50zM291.90 108.50h1.50v1.50h-1.50zM291.90 110.00h1.50v1.50h-1.50zM291.90 111.50h1.50v1.50h-1.50zM291.90 113.00h1.50v1.50h-1.50zM291.90 114.50h1.50v1.50h-1.50zM291.90 116.00h1.50v1.50h-1.50zM291.90 117.50h1.50v1.50h-1.50zM293.40 105.50h1.50v1.50h-1.50zM293.40 107.00h1.50v1.50h-1.50zM293.40 108.50h1.50v1.50h-1.50zM293.40 110.00h1.50v1.50h-1.50zM293.40 111.50h1.50v1.50h-1.50zM293.40 113.00h1.50v1.50h-1.50zM293.40 114.50h1.50v1.50h-1.50zM293.40 116.00h1.50v1.50h-1.50zM294.90 107.00h1.50v1.50h-1.50zM294.90 108.50h1.50v1.50h-1.50zM294.90 110.00h1.50v1.50h-1.50zM294.90 111.50h1.50v1.50h-1.50zM294.90 113.00h1.50v1.50h-1.50zM294.90 114.50h1.50v1.50h-1.50zM294.90 116.00h1.50v1.50h-1.50zM296.40 110.00h1.50v1.50h-1.50zM296.40 111.50h1.50v1.50h-1.50zM296.40 113.00h1.50v1.50h-1.50zM296.40 114.50h1.50v1.50h-1.50zM296.40 116.00h1.50v1.50h-1.50zM297.90 111.50h1.50v1.50h-1.50zM297.90 113.00h1.50v1.50h-1.50zM297.90 114.50h1.50v1.50h-1.50zM282.90 144.50h1.50v1.50h-1.50zM284.40 134.00h1.50v1.50h-1.50zM284.40 135.50h1.50v1.50h-1.50zM284.40 137.00h1.50v1.50h-1.50zM284.40 141.50h1.50v1.50h-1.50zM284.40 143.00h1.50v1.50h-1.50zM284.40 144.50h1.50v1.50h-1.50zM284.40 146.00h1.50v1.50h-1.50zM285.90 132.50h1.50v1.50h-1.50zM285.90 134.00h1.50v1.50h-1.50zM285.90 135.50h1.50v1.50h-1.50zM285.90 137.00h1.50v1.50h-1.50zM285.90 138.50h1.50v1.50h-1.50zM285.90 140.00h1.50v1.50h-1.50zM285.90 141.50h1.50v1.50h-1.50zM285.90 143.00h1.50v1.50h-1.50zM285.90 144.50h1.50v1.50h-1.50zM285.90 146.00h1.50v1.50h-1.50zM285.90 147.50h1.50v1.50h-1.50zM287.40 132.50h1.50v1.50h-1.50zM287.40 134.00h1.50v1.50h-1.50zM287.40 135.50h1.50v1.50h-1.50zM287.40 137.00h1.50v1.50h-1.50zM287.40 138.50h1.50v1.50h-1.50zM287.40 140.00h1.50v1.50h-1.50zM287.40 141.50h1.50v1.50h-1.50zM287.40 143.00h1.50v1.50h-1.50zM287.40 144.50h1.50v1.50h-1.50zM287.40 146.00h1.50v1.50h-1.50zM287.40 147.50h1.50v1.50h-1.50zM287.40 149.00h1.50v1.50h-1.50zM288.90 132.50h1.50v1.50h-1.50zM288.90 134.00h1.50v1.50h-1.50zM288.90 135.50h1.50v1.50h-1.50zM288.90 137.00h1.50v1.50h-1.50zM288.90 138.50h1.50v1.50h-1.50zM288.90 140.00h1.50v1.50h-1.50zM288.90 141.50h1.50v1.50h-1.50zM288.90 143.00h1.50v1.50h-1.50zM288.90 146.00h1.50v1.50h-1.50zM288.90 147.50h1.50v1.50h-1.50zM288.90 149.00h1.50v1.50h-1.50zM290.40 134.00h1.50v1.50h-1.50zM290.40 135.50h1.50v1.50h-1.50zM290.40 137.00h1.50v1.50h-1.50zM290.40 138.50h1.50v1.50h-1.50zM290.40 140.00h1.50v1.50h-1.50zM290.40 141.50h1.50v1.50h-1.50zM290.40 143.00h1.50v1.50h-1.50zM290.40 144.50h1.50v1.50h-1.50zM290.40 146.00h1.50v1.50h-1.50zM290.40 147.50h1.50v1.50h-1.50zM290.40 149.00h1.50v1.50h-1.50zM291.90 140.00h1.50v1.50h-1.50zM291.90 141.50h1.50v1.50h-1.50zM291.90 143.00h1.50v1.50h-1.50zM291.90 144.50h1.50v1.50h-1.50zM291.90 146.00h1.50v1.50h-1.50zM291.90 147.50h1.50v1.50h-1.50zM293.40 141.50h1.50v1.50h-1.50zM293.40 143.00h1.50v1.50h-1.50zM293.40 144.50h1.50v1.50h-1.50zM293.40 146.00h1.50v1.50h-1.50zM294.90 141.50h1.50v1.50h-1.50zM294.90 143.00h1.50v1.50h-1.50zM294.90 144.50h1.50v1.50h-1.50zM294.90 146.00h1.50v1.50h-1.50zM296.40 143.00h1.50v1.50h-1.50zM296.40 144.50h1.50v1.50h-1.50zM305.40 135.50h1.50v1.50h-1.50zM305.40 137.00h1.50v1.50h-1.50zM305.40 138.50h1.50v1.50h-1.50zM305.40 140.00h1.50v1.50h-1.50zM306.90 131.00h1.50v1.50h-1.50zM306.90 132.50h1.50v1.50h-1.50zM306.90 134.00h1.50v1.50h-1.50zM306.90 135.50h1.50v1.50h-1.50zM306.90 137.00h1.50v1.50h-1.50zM306.90 138.50h1.50v1.50h-1.50zM306.90 140.00h1.50v1.50h-1.50zM306.90 141.50h1.50v1.50h-1.50zM306.90 143.00h1.50v1.50h-1.50zM308.40 129.50h1.50v1.50h-1.50zM308.40 131.00h1.50v1.50h-1.50zM308.40 132.50h1.50v1.50h-1.50zM308.40 134.00h1.50v1.50h-1.50zM308.40 135.50h1.50v1.50h-1.50zM308.40 137.00h1.50v1.50h-1.50zM308.40 138.50h1.50v1.50h-1.50zM308.40 140.00h1.50v1.50h-1.50zM308.40 141.50h1.50v1.50h-1.50zM308.40 143.00h1.50v1.50h-1.50zM308.40 144.50h1.50v1.50h-1.50zM309.90 128.00h1.50v1.50h-1.50zM309.90 129.50h1.50v1.50h-1.50zM309.90 131.00h1.50v1.50h-1.50zM309.90 132.50h1.50v1.50h-1.50zM309.90 134.00h1.50v1.50h-1.50zM309.90 135.50h1.50v1.50h-1.50zM309.90 137.00h1.50v1.50h-1.50zM309.90 138.50h1.50v1.50h-1.50zM309.90 140.00h1.50v1.50h-1.50zM309.90 141.50h1.50v1.50h-1.50zM309.90 143.00h1.50v1.50h-1.50zM309.90 144.50h1.50v1.50h-1.50zM311.40 128.00h1.50v1.50h-1.50zM311.40 129.50h1.50v1.50h-1.50zM311.40 131.00h1.50v1.50h-1.50zM311.40 132.50h1.50v1.50h-1.50zM311.40 134.00h1.50v1.50h-1.50zM311.40 135.50h1.50v1.50h-1.50zM311.40 137.00h1.50v1.50h-1.50zM311.40 138.50h1.50v1.50h-1.50zM311.40 140.00h1.50v1.50h-1.50zM311.40 141.50h1.50v1.50h-1.50zM311.40 143.00h1.50v1.50h-1.50zM311.40 144.50h1.50v1.50h-1.50zM312.90 128.00h1.50v1.50h-1.50zM312.90 129.50h1.50v1.50h-1.50zM312.90 131.00h1.50v1.50h-1.50zM312.90 132.50h1.50v1.50h-1.50zM312.90 134.00h1.50v1.50h-1.50zM312.90 135.50h1.50v1.50h-1.50zM312.90 137.00h1.50v1.50h-1.50zM312.90 138.50h1.50v1.50h-1.50zM312.90 140.00h1.50v1.50h-1.50zM312.90 141.50h1.50v1.50h-1.50zM312.90 143.00h1.50v1.50h-1.50zM312.90 144.50h1.50v1.50h-1.50zM312.90 146.00h1.50v1.50h-1.50zM314.40 129.50h1.50v1.50h-1.50zM314.40 131.00h1.50v1.50h-1.50zM314.40 132.50h1.50v1.50h-1.50zM314.40 134.00h1.50v1.50h-1.50zM314.40 135.50h1.50v1.50h-1.50zM314.40 137.00h1.50v1.50h-1.50zM314.40 138.50h1.50v1.50h-1.50zM314.40 140.00h1.50v1.50h-1.50zM314.40 141.50h1.50v1.50h-1.50zM314.40 143.00h1.50v1.50h-1.50zM314.40 144.50h1.50v1.50h-1.50zM314.40 146.00h1.50v1.50h-1.50zM315.90 131.00h1.50v1.50h-1.50zM315.90 132.50h1.50v1.50h-1.50zM315.90 134.00h1.50v1.50h-1.50zM315.90 135.50h1.50v1.50h-1.50zM315.90 137.00h1.50v1.50h-1.50zM315.90 138.50h1.50v1.50h-1.50zM315.90 140.00h1.50v1.50h-1.50zM315.90 141.50h1.50v1.50h-1.50zM315.90 143.00h1.50v1.50h-1.50zM315.90 144.50h1.50v1.50h-1.50zM315.90 146.00h1.50v1.50h-1.50zM315.90 147.50h1.50v1.50h-1.50zM317.40 132.50h1.50v1.50h-1.50zM317.40 134.00h1.50v1.50h-1.50zM317.40 135.50h1.50v1.50h-1.50zM317.40 137.00h1.50v1.50h-1.50zM317.40 138.50h1.50v1.50h-1.50zM317.40 140.00h1.50v1.50h-1.50zM317.40 141.50h1.50v1.50h-1.50zM317.40 143.00h1.50v1.50h-1.50zM317.40 144.50h1.50v1.50h-1.50zM317.40 146.00h1.50v1.50h-1.50zM317.40 147.50h1.50v1.50h-1.50zM317.40 149.00h1.50v1.50h-1.50zM318.90 144.50h1.50v1.50h-1.50zM318.90 146.00h1.50v1.50h-1.50zM318.90 147.50h1.50v1.50h-1.50zM318.90 149.00h1.50v1.50h-1.50zM320.40 146.00h1.50v1.50h-1.50zM320.40 147.50h1.50v1.50h-1.50zM320.40 149.00h1.50v1.50h-1.50zM236.40 138.50h1.50v1.50h-1.50zM236.40 140.00h1.50v1.50h-1.50zM236.40 141.50h1.50v1.50h-1.50zM236.40 143.00h1.50v1.50h-1.50zM237.90 137.00h1.50v1.50h-1.50zM237.90 138.50h1.50v1.50h-1.50zM237.90 140.00h1.50v1.50h-1.50zM237.90 141.50h1.50v1.50h-1.50zM237.90 143.00h1.50v1.50h-1.50zM237.90 144.50h1.50v1.50h-1.50zM239.40 137.00h1.50v1.50h-1.50zM239.40 138.50h1.50v1.50h-1.50zM239.40 140.00h1.50v1.50h-1.50zM239.40 141.50h1.50v1.50h-1.50zM239.40 143.00h1.50v1.50h-1.50zM239.40 144.50h1.50v1.50h-1.50zM239.40 146.00h1.50v1.50h-1.50zM240.90 135.50h1.50v1.50h-1.50zM240.90 137.00h1.50v1.50h-1.50zM240.90 138.50h1.50v1.50h-1.50zM240.90 140.00h1.50v1.50h-1.50zM240.90 141.50h1.50v1.50h-1.50zM240.90 143.00h1.50v1.50h-1.50zM240.90 144.50h1.50v1.50h-1.50zM240.90 146.00h1.50v1.50h-1.50zM240.90 147.50h1.50v1.50h-1.50zM242.40 134.00h1.50v1.50h-1.50zM242.40 135.50h1.50v1.50h-1.50zM242.40 137.00h1.50v1.50h-1.50zM242.40 138.50h1.50v1.50h-1.50zM242.40 140.00h1.50v1.50h-1.50zM242.40 141.50h1.50v1.50h-1.50zM242.40 143.00h1.50v1.50h-1.50zM242.40 144.50h1.50v1.50h-1.50zM242.40 146.00h1.50v1.50h-1.50zM242.40 147.50h1.50v1.50h-1.50zM243.90 134.00h1.50v1.50h-1.50zM243.90 135.50h1.50v1.50h-1.50zM243.90 137.00h1.50v1.50h-1.50zM243.90 138.50h1.50v1.50h-1.50zM243.90 140.00h1.50v1.50h-1.50zM243.90 141.50h1.50v1.50h-1.50zM243.90 143.00h1.50v1.50h-1.50zM243.90 144.50h1.50v1.50h-1.50zM243.90 146.00h1.50v1.50h-1.50zM243.90 147.50h1.50v1.50h-1.50zM243.90 149.00h1.50v1.50h-1.50zM245.40 134.00h1.50v1.50h-1.50zM245.40 135.50h1.50v1.50h-1.50zM245.40 137.00h1.50v1.50h-1.50zM245.40 138.50h1.50v1.50h-1.50zM245.40 140.00h1.50v1.50h-1.50zM245.40 141.50h1.50v1.50h-1.50zM245.40 143.00h1.50v1.50h-1.50zM245.40 144.50h1.50v1.50h-1.50zM245.40 146.00h1.50v1.50h-1.50zM245.40 147.50h1.50v1.50h-1.50zM245.40 149.00h1.50v1.50h-1.50zM246.90 135.50h1.50v1.50h-1.50zM246.90 137.00h1.50v1.50h-1.50zM246.90 138.50h1.50v1.50h-1.50zM246.90 140.00h1.50v1.50h-1.50zM246.90 141.50h1.50v1.50h-1.50zM246.90 143.00h1.50v1.50h-1.50zM246.90 144.50h1.50v1.50h-1.50zM246.90 146.00h1.50v1.50h-1.50zM246.90 147.50h1.50v1.50h-1.50zM246.90 149.00h1.50v1.50h-1.50zM246.90 150.50h1.50v1.50h-1.50zM248.40 137.00h1.50v1.50h-1.50zM248.40 138.50h1.50v1.50h-1.50zM248.40 140.00h1.50v1.50h-1.50zM248.40 141.50h1.50v1.50h-1.50zM248.40 143.00h1.50v1.50h-1.50zM248.40 144.50h1.50v1.50h-1.50zM248.40 146.00h1.50v1.50h-1.50zM248.40 147.50h1.50v1.50h-1.50zM248.40 149.00h1.50v1.50h-1.50zM248.40 150.50h1.50v1.50h-1.50zM249.90 138.50h1.50v1.50h-1.50zM249.90 140.00h1.50v1.50h-1.50zM249.90 141.50h1.50v1.50h-1.50zM249.90 143.00h1.50v1.50h-1.50zM249.90 144.50h1.50v1.50h-1.50zM249.90 146.00h1.50v1.50h-1.50zM249.90 147.50h1.50v1.50h-1.50zM249.90 149.00h1.50v1.50h-1.50zM251.40 141.50h1.50v1.50h-1.50zM251.40 143.00h1.50v1.50h-1.50zM251.40 144.50h1.50v1.50h-1.50zM251.40 146.00h1.50v1.50h-1.50zM251.40 147.50h1.50v1.50h-1.50zM257.40 140.00h1.50v1.50h-1.50zM257.40 141.50h1.50v1.50h-1.50zM257.40 143.00h1.50v1.50h-1.50zM258.90 138.50h1.50v1.50h-1.50zM258.90 140.00h1.50v1.50h-1.50zM258.90 141.50h1.50v1.50h-1.50zM258.90 143.00h1.50v1.50h-1.50zM258.90 144.50h1.50v1.50h-1.50zM258.90 146.00h1.50v1.50h-1.50zM260.40 138.50h1.50v1.50h-1.50zM260.40 140.00h1.50v1.50h-1.50zM260.40 141.50h1.50v1.50h-1.50zM260.40 143.00h1.50v1.50h-1.50zM260.40 144.50h1.50v1.50h-1.50zM260.40 146.00h1.50v1.50h-1.50zM260.40 147.50h1.50v1.50h-1.50zM261.90 137.00h1.50v1.50h-1.50zM261.90 138.50h1.50v1.50h-1.50zM261.90 140.00h1.50v1.50h-1.50zM261.90 141.50h1.50v1.50h-1.50zM261.90 143.00h1.50v1.50h-1.50zM261.90 144.50h1.50v1.50h-1.50zM261.90 146.00h1.50v1.50h-1.50zM261.90 147.50h1.50v1.50h-1.50zM263.40 135.50h1.50v1.50h-1.50zM263.40 137.00h1.50v1.50h-1.50zM263.40 138.50h1.50v1.50h-1.50zM263.40 140.00h1.50v1.50h-1.50zM263.40 141.50h1.50v1.50h-1.50zM263.40 143.00h1.50v1.50h-1.50zM263.40 144.50h1.50v1.50h-1.50zM263.40 146.00h1.50v1.50h-1.50zM263.40 147.50h1.50v1.50h-1.50zM263.40 149.00h1.50v1.50h-1.50zM264.90 135.50h1.50v1.50h-1.50zM264.90 137.00h1.50v1.50h-1.50zM264.90 138.50h1.50v1.50h-1.50zM264.90 140.00h1.50v1.50h-1.50zM264.90 141.50h1.50v1.50h-1.50zM264.90 143.00h1.50v1.50h-1.50zM264.90 144.50h1.50v1.50h-1.50zM264.90 146.00h1.50v1.50h-1.50zM264.90 147.50h1.50v1.50h-1.50zM264.90 149.00h1.50v1.50h-1.50zM266.40 137.00h1.50v1.50h-1.50zM266.40 138.50h1.50v1.50h-1.50zM266.40 140.00h1.50v1.50h-1.50zM266.40 141.50h1.50v1.50h-1.50zM266.40 143.00h1.50v1.50h-1.50zM266.40 144.50h1.50v1.50h-1.50zM266.40 146.00h1.50v1.50h-1.50zM266.40 147.50h1.50v1.50h-1.50zM266.40 149.00h1.50v1.50h-1.50zM267.90 138.50h1.50v1.50h-1.50zM267.90 140.00h1.50v1.50h-1.50zM267.90 141.50h1.50v1.50h-1.50zM267.90 143.00h1.50v1.50h-1.50zM267.90 144.50h1.50v1.50h-1.50zM267.90 146.00h1.50v1.50h-1.50zM267.90 147.50h1.50v1.50h-1.50zM267.90 149.00h1.50v1.50h-1.50zM267.90 150.50h1.50v1.50h-1.50zM269.40 138.50h1.50v1.50h-1.50zM269.40 140.00h1.50v1.50h-1.50zM269.40 141.50h1.50v1.50h-1.50zM269.40 143.00h1.50v1.50h-1.50zM269.40 144.50h1.50v1.50h-1.50zM269.40 146.00h1.50v1.50h-1.50zM269.40 147.50h1.50v1.50h-1.50zM269.40 149.00h1.50v1.50h-1.50zM269.40 150.50h1.50v1.50h-1.50zM270.90 135.50h1.50v1.50h-1.50zM270.90 137.00h1.50v1.50h-1.50zM270.90 138.50h1.50v1.50h-1.50zM270.90 140.00h1.50v1.50h-1.50zM270.90 141.50h1.50v1.50h-1.50zM270.90 143.00h1.50v1.50h-1.50zM270.90 144.50h1.50v1.50h-1.50zM270.90 146.00h1.50v1.50h-1.50zM270.90 147.50h1.50v1.50h-1.50zM270.90 149.00h1.50v1.50h-1.50zM270.90 150.50h1.50v1.50h-1.50zM272.40 134.00h1.50v1.50h-1.50zM272.40 135.50h1.50v1.50h-1.50zM272.40 137.00h1.50v1.50h-1.50zM272.40 138.50h1.50v1.50h-1.50zM272.40 140.00h1.50v1.50h-1.50zM272.40 141.50h1.50v1.50h-1.50zM272.40 143.00h1.50v1.50h-1.50zM272.40 144.50h1.50v1.50h-1.50zM272.40 146.00h1.50v1.50h-1.50zM272.40 147.50h1.50v1.50h-1.50zM272.40 149.00h1.50v1.50h-1.50zM273.90 134.00h1.50v1.50h-1.50zM273.90 135.50h1.50v1.50h-1.50zM273.90 137.00h1.50v1.50h-1.50zM273.90 138.50h1.50v1.50h-1.50zM273.90 140.00h1.50v1.50h-1.50zM273.90 141.50h1.50v1.50h-1.50zM273.90 143.00h1.50v1.50h-1.50zM273.90 144.50h1.50v1.50h-1.50zM273.90 146.00h1.50v1.50h-1.50zM273.90 147.50h1.50v1.50h-1.50zM273.90 149.00h1.50v1.50h-1.50zM275.40 134.00h1.50v1.50h-1.50zM275.40 135.50h1.50v1.50h-1.50zM275.40 137.00h1.50v1.50h-1.50zM275.40 138.50h1.50v1.50h-1.50zM275.40 140.00h1.50v1.50h-1.50zM275.40 141.50h1.50v1.50h-1.50zM275.40 143.00h1.50v1.50h-1.50zM275.40 144.50h1.50v1.50h-1.50zM275.40 146.00h1.50v1.50h-1.50zM275.40 147.50h1.50v1.50h-1.50zM275.40 149.00h1.50v1.50h-1.50zM276.90 134.00h1.50v1.50h-1.50zM276.90 135.50h1.50v1.50h-1.50zM276.90 137.00h1.50v1.50h-1.50zM276.90 138.50h1.50v1.50h-1.50zM276.90 140.00h1.50v1.50h-1.50zM276.90 141.50h1.50v1.50h-1.50zM276.90 143.00h1.50v1.50h-1.50zM276.90 144.50h1.50v1.50h-1.50zM276.90 146.00h1.50v1.50h-1.50zM276.90 147.50h1.50v1.50h-1.50zM278.40 140.00h1.50v1.50h-1.50zM278.40 141.50h1.50v1.50h-1.50zM278.40 143.00h1.50v1.50h-1.50zM278.40 144.50h1.50v1.50h-1.50zM242.40 161.00h1.50v1.50h-1.50zM242.40 162.50h1.50v1.50h-1.50zM242.40 164.00h1.50v1.50h-1.50zM242.40 165.50h1.50v1.50h-1.50zM243.90 159.50h1.50v1.50h-1.50zM243.90 161.00h1.50v1.50h-1.50zM243.90 162.50h1.50v1.50h-1.50zM243.90 164.00h1.50v1.50h-1.50zM243.90 165.50h1.50v1.50h-1.50zM243.90 167.00h1.50v1.50h-1.50zM245.40 159.50h1.50v1.50h-1.50zM245.40 161.00h1.50v1.50h-1.50zM245.40 162.50h1.50v1.50h-1.50zM245.40 164.00h1.50v1.50h-1.50zM245.40 165.50h1.50v1.50h-1.50zM245.40 167.00h1.50v1.50h-1.50zM245.40 168.50h1.50v1.50h-1.50zM245.40 170.00h1.50v1.50h-1.50zM246.90 161.00h1.50v1.50h-1.50zM246.90 162.50h1.50v1.50h-1.50zM246.90 164.00h1.50v1.50h-1.50zM246.90 165.50h1.50v1.50h-1.50zM246.90 167.00h1.50v1.50h-1.50zM246.90 168.50h1.50v1.50h-1.50zM246.90 170.00h1.50v1.50h-1.50zM248.40 161.00h1.50v1.50h-1.50zM248.40 162.50h1.50v1.50h-1.50zM248.40 164.00h1.50v1.50h-1.50zM248.40 165.50h1.50v1.50h-1.50zM248.40 167.00h1.50v1.50h-1.50zM248.40 168.50h1.50v1.50h-1.50zM248.40 170.00h1.50v1.50h-1.50zM249.90 161.00h1.50v1.50h-1.50zM249.90 162.50h1.50v1.50h-1.50zM249.90 164.00h1.50v1.50h-1.50zM249.90 165.50h1.50v1.50h-1.50zM249.90 167.00h1.50v1.50h-1.50zM249.90 168.50h1.50v1.50h-1.50zM249.90 170.00h1.50v1.50h-1.50zM251.40 161.00h1.50v1.50h-1.50zM251.40 162.50h1.50v1.50h-1.50zM251.40 164.00h1.50v1.50h-1.50zM251.40 165.50h1.50v1.50h-1.50zM251.40 167.00h1.50v1.50h-1.50zM251.40 168.50h1.50v1.50h-1.50zM252.90 161.00h1.50v1.50h-1.50zM252.90 162.50h1.50v1.50h-1.50zM252.90 164.00h1.50v1.50h-1.50zM252.90 165.50h1.50v1.50h-1.50zM257.40 168.50h1.50v1.50h-1.50zM257.40 170.00h1.50v1.50h-1.50zM257.40 171.50h1.50v1.50h-1.50zM258.90 168.50h1.50v1.50h-1.50zM258.90 170.00h1.50v1.50h-1.50zM258.90 171.50h1.50v1.50h-1.50zM258.90 173.00h1.50v1.50h-1.50zM258.90 174.50h1.50v1.50h-1.50zM260.40 168.50h1.50v1.50h-1.50zM260.40 170.00h1.50v1.50h-1.50zM260.40 171.50h1.50v1.50h-1.50zM260.40 173.00h1.50v1.50h-1.50zM260.40 174.50h1.50v1.50h-1.50zM260.40 176.00h1.50v1.50h-1.50zM261.90 168.50h1.50v1.50h-1.50zM261.90 170.00h1.50v1.50h-1.50zM261.90 171.50h1.50v1.50h-1.50zM261.90 173.00h1.50v1.50h-1.50zM261.90 174.50h1.50v1.50h-1.50zM261.90 176.00h1.50v1.50h-1.50zM261.90 177.50h1.50v1.50h-1.50zM263.40 168.50h1.50v1.50h-1.50zM263.40 170.00h1.50v1.50h-1.50zM263.40 171.50h1.50v1.50h-1.50zM263.40 173.00h1.50v1.50h-1.50zM263.40 174.50h1.50v1.50h-1.50zM263.40 176.00h1.50v1.50h-1.50zM263.40 177.50h1.50v1.50h-1.50zM263.40 179.00h1.50v1.50h-1.50zM264.90 168.50h1.50v1.50h-1.50zM264.90 170.00h1.50v1.50h-1.50zM264.90 171.50h1.50v1.50h-1.50zM264.90 173.00h1.50v1.50h-1.50zM264.90 174.50h1.50v1.50h-1.50zM264.90 176.00h1.50v1.50h-1.50zM264.90 177.50h1.50v1.50h-1.50zM264.90 179.00h1.50v1.50h-1.50zM266.40 168.50h1.50v1.50h-1.50zM266.40 170.00h1.50v1.50h-1.50zM266.40 171.50h1.50v1.50h-1.50zM266.40 173.00h1.50v1.50h-1.50zM266.40 174.50h1.50v1.50h-1.50zM266.40 176.00h1.50v1.50h-1.50zM266.40 177.50h1.50v1.50h-1.50zM267.90 168.50h1.50v1.50h-1.50zM267.90 170.00h1.50v1.50h-1.50zM267.90 171.50h1.50v1.50h-1.50zM267.90 173.00h1.50v1.50h-1.50zM267.90 174.50h1.50v1.50h-1.50zM267.90 176.00h1.50v1.50h-1.50zM267.90 177.50h1.50v1.50h-1.50zM269.40 168.50h1.50v1.50h-1.50zM269.40 170.00h1.50v1.50h-1.50zM269.40 171.50h1.50v1.50h-1.50zM269.40 173.00h1.50v1.50h-1.50zM269.40 174.50h1.50v1.50h-1.50zM269.40 176.00h1.50v1.50h-1.50zM270.90 168.50h1.50v1.50h-1.50zM270.90 170.00h1.50v1.50h-1.50zM270.90 171.50h1.50v1.50h-1.50zM270.90 173.00h1.50v1.50h-1.50zM270.90 174.50h1.50v1.50h-1.50zM272.40 170.00h1.50v1.50h-1.50zM272.40 171.50h1.50v1.50h-1.50zM272.40 173.00h1.50v1.50h-1.50zM272.40 174.50h1.50v1.50h-1.50zM273.90 170.00h1.50v1.50h-1.50zM273.90 171.50h1.50v1.50h-1.50zM273.90 173.00h1.50v1.50h-1.50zM329.40 144.50h1.50v1.50h-1.50zM329.40 146.00h1.50v1.50h-1.50zM330.90 141.50h1.50v1.50h-1.50zM330.90 143.00h1.50v1.50h-1.50zM330.90 144.50h1.50v1.50h-1.50zM330.90 146.00h1.50v1.50h-1.50zM330.90 147.50h1.50v1.50h-1.50zM330.90 149.00h1.50v1.50h-1.50zM330.90 150.50h1.50v1.50h-1.50zM332.40 140.00h1.50v1.50h-1.50zM332.40 141.50h1.50v1.50h-1.50zM332.40 143.00h1.50v1.50h-1.50zM332.40 144.50h1.50v1.50h-1.50zM332.40 146.00h1.50v1.50h-1.50zM332.40 147.50h1.50v1.50h-1.50zM332.40 149.00h1.50v1.50h-1.50zM332.40 150.50h1.50v1.50h-1.50zM333.90 138.50h1.50v1.50h-1.50zM333.90 140.00h1.50v1.50h-1.50zM333.90 141.50h1.50v1.50h-1.50zM333.90 143.00h1.50v1.50h-1.50zM333.90 144.50h1.50v1.50h-1.50zM333.90 146.00h1.50v1.50h-1.50zM333.90 147.50h1.50v1.50h-1.50zM333.90 149.00h1.50v1.50h-1.50zM333.90 150.50h1.50v1.50h-1.50zM335.40 138.50h1.50v1.50h-1.50zM335.40 140.00h1.50v1.50h-1.50zM335.40 141.50h1.50v1.50h-1.50zM335.40 143.00h1.50v1.50h-1.50zM335.40 144.50h1.50v1.50h-1.50zM335.40 146.00h1.50v1.50h-1.50zM335.40 147.50h1.50v1.50h-1.50zM335.40 149.00h1.50v1.50h-1.50zM336.90 137.00h1.50v1.50h-1.50zM336.90 138.50h1.50v1.50h-1.50zM336.90 140.00h1.50v1.50h-1.50zM336.90 141.50h1.50v1.50h-1.50zM336.90 143.00h1.50v1.50h-1.50zM336.90 144.50h1.50v1.50h-1.50zM336.90 146.00h1.50v1.50h-1.50zM336.90 147.50h1.50v1.50h-1.50zM338.40 138.50h1.50v1.50h-1.50zM338.40 140.00h1.50v1.50h-1.50zM338.40 141.50h1.50v1.50h-1.50zM338.40 143.00h1.50v1.50h-1.50zM329.40 162.50h1.50v1.50h-1.50zM329.40 164.00h1.50v1.50h-1.50zM329.40 165.50h1.50v1.50h-1.50zM329.40 167.00h1.50v1.50h-1.50zM330.90 161.00h1.50v1.50h-1.50zM330.90 162.50h1.50v1.50h-1.50zM330.90 164.00h1.50v1.50h-1.50zM330.90 165.50h1.50v1.50h-1.50zM330.90 167.00h1.50v1.50h-1.50zM330.90 168.50h1.50v1.50h-1.50zM332.40 161.00h1.50v1.50h-1.50zM332.40 162.50h1.50v1.50h-1.50zM332.40 164.00h1.50v1.50h-1.50zM332.40 165.50h1.50v1.50h-1.50zM332.40 167.00h1.50v1.50h-1.50zM332.40 168.50h1.50v1.50h-1.50zM333.90 159.50h1.50v1.50h-1.50zM333.90 161.00h1.50v1.50h-1.50zM333.90 162.50h1.50v1.50h-1.50zM333.90 164.00h1.50v1.50h-1.50zM333.90 165.50h1.50v1.50h-1.50zM333.90 167.00h1.50v1.50h-1.50zM333.90 168.50h1.50v1.50h-1.50zM335.40 161.00h1.50v1.50h-1.50zM335.40 162.50h1.50v1.50h-1.50zM335.40 164.00h1.50v1.50h-1.50zM335.40 165.50h1.50v1.50h-1.50zM335.40 167.00h1.50v1.50h-1.50zM335.40 168.50h1.50v1.50h-1.50zM336.90 161.00h1.50v1.50h-1.50zM336.90 162.50h1.50v1.50h-1.50zM336.90 164.00h1.50v1.50h-1.50zM336.90 165.50h1.50v1.50h-1.50zM336.90 167.00h1.50v1.50h-1.50zM336.90 168.50h1.50v1.50h-1.50zM338.40 161.00h1.50v1.50h-1.50zM338.40 162.50h1.50v1.50h-1.50zM338.40 164.00h1.50v1.50h-1.50zM338.40 165.50h1.50v1.50h-1.50zM338.40 167.00h1.50v1.50h-1.50zM338.40 168.50h1.50v1.50h-1.50zM339.90 161.00h1.50v1.50h-1.50zM339.90 162.50h1.50v1.50h-1.50zM339.90 164.00h1.50v1.50h-1.50zM339.90 165.50h1.50v1.50h-1.50zM339.90 167.00h1.50v1.50h-1.50zM339.90 168.50h1.50v1.50h-1.50zM341.40 161.00h1.50v1.50h-1.50zM341.40 162.50h1.50v1.50h-1.50zM341.40 164.00h1.50v1.50h-1.50zM341.40 165.50h1.50v1.50h-1.50zM341.40 167.00h1.50v1.50h-1.50zM341.40 168.50h1.50v1.50h-1.50zM342.90 161.00h1.50v1.50h-1.50zM342.90 162.50h1.50v1.50h-1.50zM342.90 164.00h1.50v1.50h-1.50zM342.90 165.50h1.50v1.50h-1.50zM342.90 167.00h1.50v1.50h-1.50zM342.90 168.50h1.50v1.50h-1.50zM344.40 162.50h1.50v1.50h-1.50zM344.40 164.00h1.50v1.50h-1.50zM344.40 165.50h1.50v1.50h-1.50zM308.40 170.00h1.50v1.50h-1.50zM308.40 171.50h1.50v1.50h-1.50zM308.40 173.00h1.50v1.50h-1.50zM308.40 174.50h1.50v1.50h-1.50zM308.40 176.00h1.50v1.50h-1.50zM309.90 168.50h1.50v1.50h-1.50zM309.90 170.00h1.50v1.50h-1.50zM309.90 171.50h1.50v1.50h-1.50zM309.90 173.00h1.50v1.50h-1.50zM309.90 174.50h1.50v1.50h-1.50zM309.90 176.00h1.50v1.50h-1.50zM311.40 168.50h1.50v1.50h-1.50zM311.40 170.00h1.50v1.50h-1.50zM311.40 171.50h1.50v1.50h-1.50zM311.40 173.00h1.50v1.50h-1.50zM311.40 174.50h1.50v1.50h-1.50zM311.40 176.00h1.50v1.50h-1.50zM311.40 177.50h1.50v1.50h-1.50zM312.90 168.50h1.50v1.50h-1.50zM312.90 170.00h1.50v1.50h-1.50zM312.90 171.50h1.50v1.50h-1.50zM312.90 173.00h1.50v1.50h-1.50zM312.90 174.50h1.50v1.50h-1.50zM312.90 176.00h1.50v1.50h-1.50zM312.90 177.50h1.50v1.50h-1.50zM312.90 179.00h1.50v1.50h-1.50zM314.40 170.00h1.50v1.50h-1.50zM314.40 171.50h1.50v1.50h-1.50zM314.40 173.00h1.50v1.50h-1.50zM314.40 174.50h1.50v1.50h-1.50zM314.40 176.00h1.50v1.50h-1.50zM314.40 177.50h1.50v1.50h-1.50zM314.40 179.00h1.50v1.50h-1.50zM315.90 171.50h1.50v1.50h-1.50zM315.90 173.00h1.50v1.50h-1.50zM315.90 174.50h1.50v1.50h-1.50zM315.90 176.00h1.50v1.50h-1.50zM315.90 177.50h1.50v1.50h-1.50zM315.90 179.00h1.50v1.50h-1.50zM315.90 180.50h1.50v1.50h-1.50zM317.40 174.50h1.50v1.50h-1.50zM317.40 176.00h1.50v1.50h-1.50zM317.40 177.50h1.50v1.50h-1.50zM317.40 179.00h1.50v1.50h-1.50zM233.40 203.00h1.50v1.50h-1.50zM233.40 204.50h1.50v1.50h-1.50zM233.40 206.00h1.50v1.50h-1.50zM233.40 207.50h1.50v1.50h-1.50zM234.90 201.50h1.50v1.50h-1.50zM234.90 203.00h1.50v1.50h-1.50zM234.90 204.50h1.50v1.50h-1.50zM234.90 206.00h1.50v1.50h-1.50zM234.90 207.50h1.50v1.50h-1.50zM234.90 209.00h1.50v1.50h-1.50zM236.40 200.00h1.50v1.50h-1.50zM236.40 201.50h1.50v1.50h-1.50zM236.40 203.00h1.50v1.50h-1.50zM236.40 204.50h1.50v1.50h-1.50zM236.40 206.00h1.50v1.50h-1.50zM236.40 207.50h1.50v1.50h-1.50zM236.40 209.00h1.50v1.50h-1.50zM237.90 200.00h1.50v1.50h-1.50zM237.90 201.50h1.50v1.50h-1.50zM237.90 203.00h1.50v1.50h-1.50zM237.90 204.50h1.50v1.50h-1.50zM237.90 206.00h1.50v1.50h-1.50zM237.90 207.50h1.50v1.50h-1.50zM237.90 209.00h1.50v1.50h-1.50zM237.90 210.50h1.50v1.50h-1.50zM239.40 200.00h1.50v1.50h-1.50zM239.40 201.50h1.50v1.50h-1.50zM239.40 203.00h1.50v1.50h-1.50zM239.40 204.50h1.50v1.50h-1.50zM239.40 206.00h1.50v1.50h-1.50zM239.40 207.50h1.50v1.50h-1.50zM239.40 209.00h1.50v1.50h-1.50zM239.40 210.50h1.50v1.50h-1.50zM240.90 200.00h1.50v1.50h-1.50zM240.90 201.50h1.50v1.50h-1.50zM240.90 203.00h1.50v1.50h-1.50zM240.90 204.50h1.50v1.50h-1.50zM240.90 206.00h1.50v1.50h-1.50zM240.90 207.50h1.50v1.50h-1.50zM240.90 209.00h1.50v1.50h-1.50zM240.90 210.50h1.50v1.50h-1.50zM242.40 201.50h1.50v1.50h-1.50zM242.40 203.00h1.50v1.50h-1.50zM242.40 204.50h1.50v1.50h-1.50zM242.40 206.00h1.50v1.50h-1.50zM242.40 207.50h1.50v1.50h-1.50zM242.40 209.00h1.50v1.50h-1.50zM243.90 201.50h1.50v1.50h-1.50zM243.90 203.00h1.50v1.50h-1.50zM243.90 204.50h1.50v1.50h-1.50zM243.90 206.00h1.50v1.50h-1.50zM243.90 207.50h1.50v1.50h-1.50zM234.90 219.50h1.50v1.50h-1.50zM234.90 221.00h1.50v1.50h-1.50zM234.90 222.50h1.50v1.50h-1.50zM234.90 224.00h1.50v1.50h-1.50zM234.90 225.50h1.50v1.50h-1.50zM234.90 227.00h1.50v1.50h-1.50zM234.90 228.50h1.50v1.50h-1.50zM234.90 230.00h1.50v1.50h-1.50zM234.90 231.50h1.50v1.50h-1.50zM234.90 233.00h1.50v1.50h-1.50zM234.90 234.50h1.50v1.50h-1.50zM234.90 236.00h1.50v1.50h-1.50zM236.40 218.00h1.50v1.50h-1.50zM236.40 219.50h1.50v1.50h-1.50zM236.40 221.00h1.50v1.50h-1.50zM236.40 222.50h1.50v1.50h-1.50zM236.40 224.00h1.50v1.50h-1.50zM236.40 225.50h1.50v1.50h-1.50zM236.40 227.00h1.50v1.50h-1.50zM236.40 228.50h1.50v1.50h-1.50zM236.40 230.00h1.50v1.50h-1.50zM236.40 231.50h1.50v1.50h-1.50zM236.40 233.00h1.50v1.50h-1.50zM236.40 234.50h1.50v1.50h-1.50zM236.40 236.00h1.50v1.50h-1.50zM236.40 237.50h1.50v1.50h-1.50zM237.90 216.50h1.50v1.50h-1.50zM237.90 218.00h1.50v1.50h-1.50zM237.90 219.50h1.50v1.50h-1.50zM237.90 221.00h1.50v1.50h-1.50zM237.90 222.50h1.50v1.50h-1.50zM237.90 224.00h1.50v1.50h-1.50zM237.90 225.50h1.50v1.50h-1.50zM237.90 227.00h1.50v1.50h-1.50zM237.90 228.50h1.50v1.50h-1.50zM237.90 230.00h1.50v1.50h-1.50zM237.90 231.50h1.50v1.50h-1.50zM237.90 233.00h1.50v1.50h-1.50zM237.90 234.50h1.50v1.50h-1.50zM237.90 236.00h1.50v1.50h-1.50zM237.90 237.50h1.50v1.50h-1.50zM237.90 239.00h1.50v1.50h-1.50zM239.40 216.50h1.50v1.50h-1.50zM239.40 218.00h1.50v1.50h-1.50zM239.40 219.50h1.50v1.50h-1.50zM239.40 221.00h1.50v1.50h-1.50zM239.40 222.50h1.50v1.50h-1.50zM239.40 224.00h1.50v1.50h-1.50zM239.40 225.50h1.50v1.50h-1.50zM239.40 227.00h1.50v1.50h-1.50zM239.40 228.50h1.50v1.50h-1.50zM239.40 230.00h1.50v1.50h-1.50zM239.40 231.50h1.50v1.50h-1.50zM239.40 233.00h1.50v1.50h-1.50zM239.40 234.50h1.50v1.50h-1.50zM239.40 236.00h1.50v1.50h-1.50zM239.40 237.50h1.50v1.50h-1.50zM239.40 239.00h1.50v1.50h-1.50zM240.90 216.50h1.50v1.50h-1.50zM240.90 218.00h1.50v1.50h-1.50zM240.90 219.50h1.50v1.50h-1.50zM240.90 221.00h1.50v1.50h-1.50zM240.90 222.50h1.50v1.50h-1.50zM240.90 224.00h1.50v1.50h-1.50zM240.90 225.50h1.50v1.50h-1.50zM240.90 227.00h1.50v1.50h-1.50zM240.90 228.50h1.50v1.50h-1.50zM240.90 230.00h1.50v1.50h-1.50zM240.90 231.50h1.50v1.50h-1.50zM240.90 233.00h1.50v1.50h-1.50zM240.90 234.50h1.50v1.50h-1.50zM240.90 236.00h1.50v1.50h-1.50zM240.90 237.50h1.50v1.50h-1.50zM240.90 239.00h1.50v1.50h-1.50zM242.40 216.50h1.50v1.50h-1.50zM242.40 218.00h1.50v1.50h-1.50zM242.40 219.50h1.50v1.50h-1.50zM242.40 221.00h1.50v1.50h-1.50zM242.40 222.50h1.50v1.50h-1.50zM242.40 224.00h1.50v1.50h-1.50zM242.40 225.50h1.50v1.50h-1.50zM242.40 227.00h1.50v1.50h-1.50zM242.40 228.50h1.50v1.50h-1.50zM242.40 230.00h1.50v1.50h-1.50zM242.40 231.50h1.50v1.50h-1.50zM242.40 233.00h1.50v1.50h-1.50zM242.40 234.50h1.50v1.50h-1.50zM242.40 236.00h1.50v1.50h-1.50zM242.40 237.50h1.50v1.50h-1.50zM242.40 239.00h1.50v1.50h-1.50zM243.90 218.00h1.50v1.50h-1.50zM243.90 219.50h1.50v1.50h-1.50zM243.90 221.00h1.50v1.50h-1.50zM243.90 222.50h1.50v1.50h-1.50zM243.90 224.00h1.50v1.50h-1.50zM243.90 225.50h1.50v1.50h-1.50zM243.90 227.00h1.50v1.50h-1.50zM243.90 228.50h1.50v1.50h-1.50zM243.90 230.00h1.50v1.50h-1.50zM243.90 231.50h1.50v1.50h-1.50zM243.90 233.00h1.50v1.50h-1.50zM243.90 234.50h1.50v1.50h-1.50zM243.90 236.00h1.50v1.50h-1.50zM243.90 237.50h1.50v1.50h-1.50zM243.90 239.00h1.50v1.50h-1.50zM245.40 218.00h1.50v1.50h-1.50zM245.40 219.50h1.50v1.50h-1.50zM245.40 221.00h1.50v1.50h-1.50zM245.40 222.50h1.50v1.50h-1.50zM245.40 224.00h1.50v1.50h-1.50zM245.40 225.50h1.50v1.50h-1.50zM245.40 227.00h1.50v1.50h-1.50zM245.40 228.50h1.50v1.50h-1.50zM245.40 230.00h1.50v1.50h-1.50zM245.40 231.50h1.50v1.50h-1.50zM245.40 233.00h1.50v1.50h-1.50zM245.40 234.50h1.50v1.50h-1.50zM245.40 236.00h1.50v1.50h-1.50zM245.40 237.50h1.50v1.50h-1.50zM246.90 219.50h1.50v1.50h-1.50zM246.90 221.00h1.50v1.50h-1.50zM246.90 222.50h1.50v1.50h-1.50zM246.90 224.00h1.50v1.50h-1.50zM246.90 225.50h1.50v1.50h-1.50zM246.90 227.00h1.50v1.50h-1.50zM246.90 228.50h1.50v1.50h-1.50zM246.90 230.00h1.50v1.50h-1.50zM246.90 231.50h1.50v1.50h-1.50zM246.90 233.00h1.50v1.50h-1.50zM246.90 234.50h1.50v1.50h-1.50zM246.90 236.00h1.50v1.50h-1.50zM248.40 224.00h1.50v1.50h-1.50zM248.40 225.50h1.50v1.50h-1.50zM248.40 227.00h1.50v1.50h-1.50zM248.40 228.50h1.50v1.50h-1.50zM248.40 230.00h1.50v1.50h-1.50zM248.40 231.50h1.50v1.50h-1.50zM248.40 233.00h1.50v1.50h-1.50zM258.90 198.50h1.50v1.50h-1.50zM258.90 200.00h1.50v1.50h-1.50zM258.90 201.50h1.50v1.50h-1.50zM258.90 203.00h1.50v1.50h-1.50zM258.90 204.50h1.50v1.50h-1.50zM258.90 206.00h1.50v1.50h-1.50zM258.90 207.50h1.50v1.50h-1.50zM260.40 197.00h1.50v1.50h-1.50zM260.40 198.50h1.50v1.50h-1.50zM260.40 200.00h1.50v1.50h-1.50zM260.40 201.50h1.50v1.50h-1.50zM260.40 203.00h1.50v1.50h-1.50zM260.40 204.50h1.50v1.50h-1.50zM260.40 206.00h1.50v1.50h-1.50zM260.40 207.50h1.50v1.50h-1.50zM260.40 209.00h1.50v1.50h-1.50zM261.90 197.00h1.50v1.50h-1.50zM261.90 198.50h1.50v1.50h-1.50zM261.90 200.00h1.50v1.50h-1.50zM261.90 201.50h1.50v1.50h-1.50zM261.90 203.00h1.50v1.50h-1.50zM261.90 204.50h1.50v1.50h-1.50zM261.90 206.00h1.50v1.50h-1.50zM261.90 207.50h1.50v1.50h-1.50zM261.90 209.00h1.50v1.50h-1.50zM261.90 210.50h1.50v1.50h-1.50zM263.40 195.50h1.50v1.50h-1.50zM263.40 197.00h1.50v1.50h-1.50zM263.40 198.50h1.50v1.50h-1.50zM263.40 200.00h1.50v1.50h-1.50zM263.40 201.50h1.50v1.50h-1.50zM263.40 203.00h1.50v1.50h-1.50zM263.40 204.50h1.50v1.50h-1.50zM263.40 206.00h1.50v1.50h-1.50zM263.40 207.50h1.50v1.50h-1.50zM263.40 209.00h1.50v1.50h-1.50zM263.40 210.50h1.50v1.50h-1.50zM264.90 195.50h1.50v1.50h-1.50zM264.90 197.00h1.50v1.50h-1.50zM264.90 198.50h1.50v1.50h-1.50zM264.90 200.00h1.50v1.50h-1.50zM264.90 201.50h1.50v1.50h-1.50zM264.90 203.00h1.50v1.50h-1.50zM264.90 204.50h1.50v1.50h-1.50zM264.90 206.00h1.50v1.50h-1.50zM264.90 207.50h1.50v1.50h-1.50zM264.90 209.00h1.50v1.50h-1.50zM266.40 194.00h1.50v1.50h-1.50zM266.40 195.50h1.50v1.50h-1.50zM266.40 197.00h1.50v1.50h-1.50zM266.40 198.50h1.50v1.50h-1.50zM266.40 200.00h1.50v1.50h-1.50zM266.40 201.50h1.50v1.50h-1.50zM266.40 203.00h1.50v1.50h-1.50zM266.40 204.50h1.50v1.50h-1.50zM266.40 206.00h1.50v1.50h-1.50zM266.40 207.50h1.50v1.50h-1.50zM266.40 209.00h1.50v1.50h-1.50zM267.90 192.50h1.50v1.50h-1.50zM267.90 194.00h1.50v1.50h-1.50zM267.90 195.50h1.50v1.50h-1.50zM267.90 197.00h1.50v1.50h-1.50zM267.90 198.50h1.50v1.50h-1.50zM267.90 200.00h1.50v1.50h-1.50zM267.90 201.50h1.50v1.50h-1.50zM267.90 203.00h1.50v1.50h-1.50zM267.90 204.50h1.50v1.50h-1.50zM267.90 206.00h1.50v1.50h-1.50zM267.90 207.50h1.50v1.50h-1.50zM269.40 191.00h1.50v1.50h-1.50zM269.40 192.50h1.50v1.50h-1.50zM269.40 194.00h1.50v1.50h-1.50zM269.40 195.50h1.50v1.50h-1.50zM269.40 197.00h1.50v1.50h-1.50zM269.40 198.50h1.50v1.50h-1.50zM269.40 200.00h1.50v1.50h-1.50zM269.40 201.50h1.50v1.50h-1.50zM269.40 203.00h1.50v1.50h-1.50zM269.40 204.50h1.50v1.50h-1.50zM269.40 206.00h1.50v1.50h-1.50zM270.90 191.00h1.50v1.50h-1.50zM270.90 192.50h1.50v1.50h-1.50zM270.90 194.00h1.50v1.50h-1.50zM270.90 195.50h1.50v1.50h-1.50zM270.90 197.00h1.50v1.50h-1.50zM270.90 198.50h1.50v1.50h-1.50zM270.90 200.00h1.50v1.50h-1.50zM270.90 201.50h1.50v1.50h-1.50zM270.90 203.00h1.50v1.50h-1.50zM272.40 191.00h1.50v1.50h-1.50zM272.40 192.50h1.50v1.50h-1.50zM272.40 194.00h1.50v1.50h-1.50zM272.40 195.50h1.50v1.50h-1.50zM272.40 197.00h1.50v1.50h-1.50zM272.40 198.50h1.50v1.50h-1.50zM272.40 200.00h1.50v1.50h-1.50zM272.40 201.50h1.50v1.50h-1.50zM273.90 192.50h1.50v1.50h-1.50zM273.90 194.00h1.50v1.50h-1.50zM273.90 195.50h1.50v1.50h-1.50zM273.90 197.00h1.50v1.50h-1.50zM273.90 198.50h1.50v1.50h-1.50zM273.90 200.00h1.50v1.50h-1.50zM260.40 231.50h1.50v1.50h-1.50zM260.40 233.00h1.50v1.50h-1.50zM260.40 234.50h1.50v1.50h-1.50zM260.40 236.00h1.50v1.50h-1.50zM260.40 237.50h1.50v1.50h-1.50zM261.90 228.50h1.50v1.50h-1.50zM261.90 230.00h1.50v1.50h-1.50zM261.90 231.50h1.50v1.50h-1.50zM261.90 233.00h1.50v1.50h-1.50zM261.90 234.50h1.50v1.50h-1.50zM261.90 236.00h1.50v1.50h-1.50zM261.90 237.50h1.50v1.50h-1.50zM263.40 227.00h1.50v1.50h-1.50zM263.40 228.50h1.50v1.50h-1.50zM263.40 230.00h1.50v1.50h-1.50zM263.40 231.50h1.50v1.50h-1.50zM263.40 233.00h1.50v1.50h-1.50zM263.40 234.50h1.50v1.50h-1.50zM263.40 236.00h1.50v1.50h-1.50zM263.40 237.50h1.50v1.50h-1.50zM264.90 224.00h1.50v1.50h-1.50zM264.90 225.50h1.50v1.50h-1.50zM264.90 227.00h1.50v1.50h-1.50zM264.90 228.50h1.50v1.50h-1.50zM264.90 230.00h1.50v1.50h-1.50zM264.90 231.50h1.50v1.50h-1.50zM264.90 233.00h1.50v1.50h-1.50zM264.90 234.50h1.50v1.50h-1.50zM264.90 236.00h1.50v1.50h-1.50zM266.40 224.00h1.50v1.50h-1.50zM266.40 225.50h1.50v1.50h-1.50zM266.40 227.00h1.50v1.50h-1.50zM266.40 228.50h1.50v1.50h-1.50zM266.40 230.00h1.50v1.50h-1.50zM266.40 231.50h1.50v1.50h-1.50zM266.40 233.00h1.50v1.50h-1.50zM266.40 234.50h1.50v1.50h-1.50zM266.40 236.00h1.50v1.50h-1.50zM267.90 224.00h1.50v1.50h-1.50zM267.90 225.50h1.50v1.50h-1.50zM267.90 227.00h1.50v1.50h-1.50zM267.90 228.50h1.50v1.50h-1.50zM267.90 230.00h1.50v1.50h-1.50zM267.90 231.50h1.50v1.50h-1.50zM267.90 233.00h1.50v1.50h-1.50zM267.90 234.50h1.50v1.50h-1.50zM269.40 224.00h1.50v1.50h-1.50zM269.40 225.50h1.50v1.50h-1.50zM269.40 227.00h1.50v1.50h-1.50zM269.40 228.50h1.50v1.50h-1.50zM269.40 230.00h1.50v1.50h-1.50zM269.40 231.50h1.50v1.50h-1.50zM269.40 233.00h1.50v1.50h-1.50zM270.90 225.50h1.50v1.50h-1.50zM270.90 227.00h1.50v1.50h-1.50zM270.90 228.50h1.50v1.50h-1.50zM270.90 230.00h1.50v1.50h-1.50zM270.90 231.50h1.50v1.50h-1.50zM281.40 176.00h1.50v1.50h-1.50zM281.40 177.50h1.50v1.50h-1.50zM281.40 179.00h1.50v1.50h-1.50zM281.40 180.50h1.50v1.50h-1.50zM282.90 170.00h1.50v1.50h-1.50zM282.90 171.50h1.50v1.50h-1.50zM282.90 173.00h1.50v1.50h-1.50zM282.90 174.50h1.50v1.50h-1.50zM282.90 176.00h1.50v1.50h-1.50zM282.90 177.50h1.50v1.50h-1.50zM282.90 179.00h1.50v1.50h-1.50zM282.90 180.50h1.50v1.50h-1.50zM284.40 164.00h1.50v1.50h-1.50zM284.40 165.50h1.50v1.50h-1.50zM284.40 167.00h1.50v1.50h-1.50zM284.40 168.50h1.50v1.50h-1.50zM284.40 170.00h1.50v1.50h-1.50zM284.40 171.50h1.50v1.50h-1.50zM284.40 173.00h1.50v1.50h-1.50zM284.40 174.50h1.50v1.50h-1.50zM284.40 176.00h1.50v1.50h-1.50zM284.40 177.50h1.50v1.50h-1.50zM284.40 179.00h1.50v1.50h-1.50zM284.40 180.50h1.50v1.50h-1.50zM285.90 162.50h1.50v1.50h-1.50zM285.90 164.00h1.50v1.50h-1.50zM285.90 165.50h1.50v1.50h-1.50zM285.90 167.00h1.50v1.50h-1.50zM285.90 168.50h1.50v1.50h-1.50zM285.90 170.00h1.50v1.50h-1.50zM285.90 171.50h1.50v1.50h-1.50zM285.90 173.00h1.50v1.50h-1.50zM285.90 174.50h1.50v1.50h-1.50zM285.90 176.00h1.50v1.50h-1.50zM285.90 177.50h1.50v1.50h-1.50zM285.90 179.00h1.50v1.50h-1.50zM287.40 161.00h1.50v1.50h-1.50zM287.40 162.50h1.50v1.50h-1.50zM287.40 164.00h1.50v1.50h-1.50zM287.40 165.50h1.50v1.50h-1.50zM287.40 167.00h1.50v1.50h-1.50zM287.40 168.50h1.50v1.50h-1.50zM287.40 170.00h1.50v1.50h-1.50zM287.40 171.50h1.50v1.50h-1.50zM287.40 173.00h1.50v1.50h-1.50zM287.40 174.50h1.50v1.50h-1.50zM287.40 176.00h1.50v1.50h-1.50zM287.40 177.50h1.50v1.50h-1.50zM287.40 179.00h1.50v1.50h-1.50zM288.90 161.00h1.50v1.50h-1.50zM288.90 162.50h1.50v1.50h-1.50zM288.90 164.00h1.50v1.50h-1.50zM288.90 165.50h1.50v1.50h-1.50zM288.90 167.00h1.50v1.50h-1.50zM288.90 168.50h1.50v1.50h-1.50zM288.90 170.00h1.50v1.50h-1.50zM288.90 171.50h1.50v1.50h-1.50zM288.90 173.00h1.50v1.50h-1.50zM288.90 174.50h1.50v1.50h-1.50zM288.90 176.00h1.50v1.50h-1.50zM288.90 177.50h1.50v1.50h-1.50zM290.40 161.00h1.50v1.50h-1.50zM290.40 162.50h1.50v1.50h-1.50zM290.40 164.00h1.50v1.50h-1.50zM290.40 165.50h1.50v1.50h-1.50zM290.40 167.00h1.50v1.50h-1.50zM290.40 168.50h1.50v1.50h-1.50zM290.40 170.00h1.50v1.50h-1.50zM290.40 171.50h1.50v1.50h-1.50zM290.40 173.00h1.50v1.50h-1.50zM290.40 174.50h1.50v1.50h-1.50zM290.40 176.00h1.50v1.50h-1.50zM291.90 162.50h1.50v1.50h-1.50zM291.90 164.00h1.50v1.50h-1.50zM291.90 165.50h1.50v1.50h-1.50zM291.90 167.00h1.50v1.50h-1.50zM291.90 168.50h1.50v1.50h-1.50zM291.90 170.00h1.50v1.50h-1.50zM291.90 171.50h1.50v1.50h-1.50zM291.90 173.00h1.50v1.50h-1.50zM291.90 174.50h1.50v1.50h-1.50zM293.40 164.00h1.50v1.50h-1.50zM293.40 165.50h1.50v1.50h-1.50zM293.40 167.00h1.50v1.50h-1.50zM293.40 168.50h1.50v1.50h-1.50zM293.40 170.00h1.50v1.50h-1.50zM293.40 171.50h1.50v1.50h-1.50zM293.40 173.00h1.50v1.50h-1.50zM305.40 189.50h1.50v1.50h-1.50zM305.40 191.00h1.50v1.50h-1.50zM305.40 192.50h1.50v1.50h-1.50zM305.40 194.00h1.50v1.50h-1.50zM306.90 188.00h1.50v1.50h-1.50zM306.90 189.50h1.50v1.50h-1.50zM306.90 191.00h1.50v1.50h-1.50zM306.90 192.50h1.50v1.50h-1.50zM306.90 194.00h1.50v1.50h-1.50zM306.90 195.50h1.50v1.50h-1.50zM308.40 188.00h1.50v1.50h-1.50zM308.40 189.50h1.50v1.50h-1.50zM308.40 191.00h1.50v1.50h-1.50zM308.40 192.50h1.50v1.50h-1.50zM308.40 194.00h1.50v1.50h-1.50zM308.40 195.50h1.50v1.50h-1.50zM309.90 186.50h1.50v1.50h-1.50zM309.90 188.00h1.50v1.50h-1.50zM309.90 189.50h1.50v1.50h-1.50zM309.90 191.00h1.50v1.50h-1.50zM309.90 192.50h1.50v1.50h-1.50zM309.90 194.00h1.50v1.50h-1.50zM309.90 195.50h1.50v1.50h-1.50zM311.40 186.50h1.50v1.50h-1.50zM311.40 188.00h1.50v1.50h-1.50zM311.40 189.50h1.50v1.50h-1.50zM311.40 191.00h1.50v1.50h-1.50zM311.40 192.50h1.50v1.50h-1.50zM311.40 194.00h1.50v1.50h-1.50zM311.40 195.50h1.50v1.50h-1.50zM312.90 186.50h1.50v1.50h-1.50zM312.90 188.00h1.50v1.50h-1.50zM312.90 189.50h1.50v1.50h-1.50zM312.90 191.00h1.50v1.50h-1.50zM312.90 192.50h1.50v1.50h-1.50zM312.90 194.00h1.50v1.50h-1.50zM314.40 186.50h1.50v1.50h-1.50zM314.40 188.00h1.50v1.50h-1.50zM314.40 189.50h1.50v1.50h-1.50zM314.40 191.00h1.50v1.50h-1.50zM314.40 192.50h1.50v1.50h-1.50zM314.40 194.00h1.50v1.50h-1.50zM315.90 188.00h1.50v1.50h-1.50zM315.90 189.50h1.50v1.50h-1.50zM315.90 191.00h1.50v1.50h-1.50zM315.90 192.50h1.50v1.50h-1.50zM281.40 203.00h1.50v1.50h-1.50zM281.40 204.50h1.50v1.50h-1.50zM281.40 206.00h1.50v1.50h-1.50zM282.90 203.00h1.50v1.50h-1.50zM282.90 204.50h1.50v1.50h-1.50zM282.90 206.00h1.50v1.50h-1.50zM282.90 207.50h1.50v1.50h-1.50zM284.40 201.50h1.50v1.50h-1.50zM284.40 203.00h1.50v1.50h-1.50zM284.40 204.50h1.50v1.50h-1.50zM284.40 206.00h1.50v1.50h-1.50zM284.40 207.50h1.50v1.50h-1.50zM285.90 198.50h1.50v1.50h-1.50zM285.90 200.00h1.50v1.50h-1.50zM285.90 201.50h1.50v1.50h-1.50zM285.90 203.00h1.50v1.50h-1.50zM285.90 204.50h1.50v1.50h-1.50zM285.90 206.00h1.50v1.50h-1.50zM285.90 207.50h1.50v1.50h-1.50zM285.90 209.00h1.50v1.50h-1.50zM287.40 197.00h1.50v1.50h-1.50zM287.40 198.50h1.50v1.50h-1.50zM287.40 200.00h1.50v1.50h-1.50zM287.40 201.50h1.50v1.50h-1.50zM287.40 203.00h1.50v1.50h-1.50zM287.40 204.50h1.50v1.50h-1.50zM287.40 206.00h1.50v1.50h-1.50zM287.40 207.50h1.50v1.50h-1.50zM287.40 209.00h1.50v1.50h-1.50zM288.90 197.00h1.50v1.50h-1.50zM288.90 198.50h1.50v1.50h-1.50zM288.90 200.00h1.50v1.50h-1.50zM288.90 201.50h1.50v1.50h-1.50zM288.90 203.00h1.50v1.50h-1.50zM288.90 204.50h1.50v1.50h-1.50zM288.90 206.00h1.50v1.50h-1.50zM288.90 207.50h1.50v1.50h-1.50zM288.90 209.00h1.50v1.50h-1.50zM288.90 210.50h1.50v1.50h-1.50zM290.40 195.50h1.50v1.50h-1.50zM290.40 197.00h1.50v1.50h-1.50zM290.40 198.50h1.50v1.50h-1.50zM290.40 200.00h1.50v1.50h-1.50zM290.40 201.50h1.50v1.50h-1.50zM290.40 203.00h1.50v1.50h-1.50zM290.40 204.50h1.50v1.50h-1.50zM290.40 206.00h1.50v1.50h-1.50zM290.40 207.50h1.50v1.50h-1.50zM290.40 209.00h1.50v1.50h-1.50zM290.40 210.50h1.50v1.50h-1.50zM291.90 194.00h1.50v1.50h-1.50zM291.90 195.50h1.50v1.50h-1.50zM291.90 197.00h1.50v1.50h-1.50zM291.90 198.50h1.50v1.50h-1.50zM291.90 200.00h1.50v1.50h-1.50zM291.90 201.50h1.50v1.50h-1.50zM291.90 203.00h1.50v1.50h-1.50zM291.90 204.50h1.50v1.50h-1.50zM291.90 206.00h1.50v1.50h-1.50zM291.90 207.50h1.50v1.50h-1.50zM291.90 209.00h1.50v1.50h-1.50zM291.90 210.50h1.50v1.50h-1.50zM293.40 195.50h1.50v1.50h-1.50zM293.40 197.00h1.50v1.50h-1.50zM293.40 198.50h1.50v1.50h-1.50zM293.40 200.00h1.50v1.50h-1.50zM293.40 201.50h1.50v1.50h-1.50zM293.40 203.00h1.50v1.50h-1.50zM293.40 204.50h1.50v1.50h-1.50zM293.40 206.00h1.50v1.50h-1.50zM293.40 207.50h1.50v1.50h-1.50zM293.40 209.00h1.50v1.50h-1.50zM293.40 210.50h1.50v1.50h-1.50zM294.90 198.50h1.50v1.50h-1.50zM294.90 200.00h1.50v1.50h-1.50zM294.90 201.50h1.50v1.50h-1.50zM294.90 203.00h1.50v1.50h-1.50zM294.90 204.50h1.50v1.50h-1.50zM294.90 206.00h1.50v1.50h-1.50zM294.90 207.50h1.50v1.50h-1.50zM294.90 209.00h1.50v1.50h-1.50zM296.40 198.50h1.50v1.50h-1.50zM296.40 200.00h1.50v1.50h-1.50zM296.40 201.50h1.50v1.50h-1.50zM296.40 203.00h1.50v1.50h-1.50zM296.40 204.50h1.50v1.50h-1.50zM296.40 206.00h1.50v1.50h-1.50zM296.40 207.50h1.50v1.50h-1.50zM296.40 209.00h1.50v1.50h-1.50zM297.90 200.00h1.50v1.50h-1.50zM297.90 201.50h1.50v1.50h-1.50zM297.90 203.00h1.50v1.50h-1.50zM297.90 204.50h1.50v1.50h-1.50zM297.90 206.00h1.50v1.50h-1.50zM297.90 207.50h1.50v1.50h-1.50zM297.90 209.00h1.50v1.50h-1.50zM299.40 200.00h1.50v1.50h-1.50zM299.40 201.50h1.50v1.50h-1.50zM299.40 203.00h1.50v1.50h-1.50zM299.40 204.50h1.50v1.50h-1.50zM299.40 206.00h1.50v1.50h-1.50zM299.40 207.50h1.50v1.50h-1.50zM300.90 203.00h1.50v1.50h-1.50zM300.90 204.50h1.50v1.50h-1.50zM330.90 192.50h1.50v1.50h-1.50zM330.90 194.00h1.50v1.50h-1.50zM332.40 191.00h1.50v1.50h-1.50zM332.40 192.50h1.50v1.50h-1.50zM332.40 194.00h1.50v1.50h-1.50zM332.40 195.50h1.50v1.50h-1.50zM333.90 191.00h1.50v1.50h-1.50zM333.90 192.50h1.50v1.50h-1.50zM333.90 194.00h1.50v1.50h-1.50zM333.90 195.50h1.50v1.50h-1.50zM333.90 197.00h1.50v1.50h-1.50zM335.40 191.00h1.50v1.50h-1.50zM335.40 192.50h1.50v1.50h-1.50zM335.40 194.00h1.50v1.50h-1.50zM335.40 195.50h1.50v1.50h-1.50zM335.40 197.00h1.50v1.50h-1.50zM336.90 189.50h1.50v1.50h-1.50zM336.90 191.00h1.50v1.50h-1.50zM336.90 192.50h1.50v1.50h-1.50zM336.90 194.00h1.50v1.50h-1.50zM336.90 195.50h1.50v1.50h-1.50zM336.90 197.00h1.50v1.50h-1.50zM336.90 198.50h1.50v1.50h-1.50zM338.40 188.00h1.50v1.50h-1.50zM338.40 189.50h1.50v1.50h-1.50zM338.40 191.00h1.50v1.50h-1.50zM338.40 192.50h1.50v1.50h-1.50zM338.40 194.00h1.50v1.50h-1.50zM338.40 195.50h1.50v1.50h-1.50zM338.40 197.00h1.50v1.50h-1.50zM338.40 198.50h1.50v1.50h-1.50zM338.40 200.00h1.50v1.50h-1.50zM339.90 188.00h1.50v1.50h-1.50zM339.90 189.50h1.50v1.50h-1.50zM339.90 191.00h1.50v1.50h-1.50zM339.90 192.50h1.50v1.50h-1.50zM339.90 194.00h1.50v1.50h-1.50zM339.90 195.50h1.50v1.50h-1.50zM339.90 197.00h1.50v1.50h-1.50zM339.90 198.50h1.50v1.50h-1.50zM339.90 200.00h1.50v1.50h-1.50zM339.90 201.50h1.50v1.50h-1.50zM341.40 188.00h1.50v1.50h-1.50zM341.40 189.50h1.50v1.50h-1.50zM341.40 191.00h1.50v1.50h-1.50zM341.40 192.50h1.50v1.50h-1.50zM341.40 194.00h1.50v1.50h-1.50zM341.40 195.50h1.50v1.50h-1.50zM341.40 197.00h1.50v1.50h-1.50zM341.40 198.50h1.50v1.50h-1.50zM341.40 200.00h1.50v1.50h-1.50zM341.40 201.50h1.50v1.50h-1.50zM341.40 203.00h1.50v1.50h-1.50zM342.90 188.00h1.50v1.50h-1.50zM342.90 189.50h1.50v1.50h-1.50zM342.90 191.00h1.50v1.50h-1.50zM342.90 192.50h1.50v1.50h-1.50zM342.90 194.00h1.50v1.50h-1.50zM342.90 195.50h1.50v1.50h-1.50zM342.90 197.00h1.50v1.50h-1.50zM342.90 198.50h1.50v1.50h-1.50zM342.90 200.00h1.50v1.50h-1.50zM342.90 201.50h1.50v1.50h-1.50zM342.90 203.00h1.50v1.50h-1.50zM342.90 204.50h1.50v1.50h-1.50zM344.40 189.50h1.50v1.50h-1.50zM344.40 191.00h1.50v1.50h-1.50zM344.40 192.50h1.50v1.50h-1.50zM344.40 194.00h1.50v1.50h-1.50zM344.40 195.50h1.50v1.50h-1.50zM344.40 197.00h1.50v1.50h-1.50zM344.40 198.50h1.50v1.50h-1.50zM344.40 200.00h1.50v1.50h-1.50zM344.40 201.50h1.50v1.50h-1.50zM344.40 203.00h1.50v1.50h-1.50zM344.40 204.50h1.50v1.50h-1.50zM344.40 206.00h1.50v1.50h-1.50zM345.90 191.00h1.50v1.50h-1.50zM345.90 192.50h1.50v1.50h-1.50zM345.90 194.00h1.50v1.50h-1.50zM345.90 195.50h1.50v1.50h-1.50zM345.90 197.00h1.50v1.50h-1.50zM345.90 198.50h1.50v1.50h-1.50zM345.90 200.00h1.50v1.50h-1.50zM345.90 201.50h1.50v1.50h-1.50zM345.90 203.00h1.50v1.50h-1.50zM345.90 204.50h1.50v1.50h-1.50zM345.90 206.00h1.50v1.50h-1.50zM345.90 207.50h1.50v1.50h-1.50zM347.40 192.50h1.50v1.50h-1.50zM347.40 194.00h1.50v1.50h-1.50zM347.40 195.50h1.50v1.50h-1.50zM347.40 197.00h1.50v1.50h-1.50zM347.40 198.50h1.50v1.50h-1.50zM347.40 200.00h1.50v1.50h-1.50zM347.40 201.50h1.50v1.50h-1.50zM347.40 203.00h1.50v1.50h-1.50zM347.40 204.50h1.50v1.50h-1.50zM347.40 206.00h1.50v1.50h-1.50zM347.40 207.50h1.50v1.50h-1.50zM348.90 192.50h1.50v1.50h-1.50zM348.90 194.00h1.50v1.50h-1.50zM348.90 195.50h1.50v1.50h-1.50zM348.90 197.00h1.50v1.50h-1.50zM348.90 198.50h1.50v1.50h-1.50zM348.90 200.00h1.50v1.50h-1.50zM348.90 201.50h1.50v1.50h-1.50zM348.90 203.00h1.50v1.50h-1.50zM348.90 204.50h1.50v1.50h-1.50zM348.90 206.00h1.50v1.50h-1.50zM348.90 207.50h1.50v1.50h-1.50zM350.40 194.00h1.50v1.50h-1.50zM350.40 195.50h1.50v1.50h-1.50zM350.40 197.00h1.50v1.50h-1.50zM350.40 198.50h1.50v1.50h-1.50zM350.40 200.00h1.50v1.50h-1.50zM350.40 201.50h1.50v1.50h-1.50zM350.40 203.00h1.50v1.50h-1.50zM350.40 204.50h1.50v1.50h-1.50zM350.40 206.00h1.50v1.50h-1.50zM351.90 195.50h1.50v1.50h-1.50zM351.90 197.00h1.50v1.50h-1.50zM351.90 198.50h1.50v1.50h-1.50zM351.90 200.00h1.50v1.50h-1.50zM351.90 201.50h1.50v1.50h-1.50zM351.90 203.00h1.50v1.50h-1.50zM351.90 204.50h1.50v1.50h-1.50zM282.90 222.50h1.50v1.50h-1.50zM282.90 224.00h1.50v1.50h-1.50zM282.90 225.50h1.50v1.50h-1.50zM282.90 227.00h1.50v1.50h-1.50zM284.40 221.00h1.50v1.50h-1.50zM284.40 222.50h1.50v1.50h-1.50zM284.40 224.00h1.50v1.50h-1.50zM284.40 225.50h1.50v1.50h-1.50zM284.40 227.00h1.50v1.50h-1.50zM284.40 228.50h1.50v1.50h-1.50zM285.90 221.00h1.50v1.50h-1.50zM285.90 222.50h1.50v1.50h-1.50zM285.90 224.00h1.50v1.50h-1.50zM285.90 225.50h1.50v1.50h-1.50zM285.90 227.00h1.50v1.50h-1.50zM285.90 228.50h1.50v1.50h-1.50zM285.90 230.00h1.50v1.50h-1.50zM287.40 221.00h1.50v1.50h-1.50zM287.40 222.50h1.50v1.50h-1.50zM287.40 224.00h1.50v1.50h-1.50zM287.40 225.50h1.50v1.50h-1.50zM287.40 227.00h1.50v1.50h-1.50zM287.40 228.50h1.50v1.50h-1.50zM287.40 230.00h1.50v1.50h-1.50zM288.90 222.50h1.50v1.50h-1.50zM288.90 224.00h1.50v1.50h-1.50zM288.90 225.50h1.50v1.50h-1.50zM288.90 227.00h1.50v1.50h-1.50zM288.90 228.50h1.50v1.50h-1.50zM288.90 230.00h1.50v1.50h-1.50zM288.90 231.50h1.50v1.50h-1.50zM290.40 222.50h1.50v1.50h-1.50zM290.40 224.00h1.50v1.50h-1.50zM290.40 225.50h1.50v1.50h-1.50zM290.40 227.00h1.50v1.50h-1.50zM290.40 228.50h1.50v1.50h-1.50zM290.40 230.00h1.50v1.50h-1.50zM290.40 231.50h1.50v1.50h-1.50zM291.90 222.50h1.50v1.50h-1.50zM291.90 224.00h1.50v1.50h-1.50zM291.90 225.50h1.50v1.50h-1.50zM291.90 227.00h1.50v1.50h-1.50zM291.90 228.50h1.50v1.50h-1.50zM291.90 230.00h1.50v1.50h-1.50zM291.90 231.50h1.50v1.50h-1.50zM293.40 222.50h1.50v1.50h-1.50zM293.40 224.00h1.50v1.50h-1.50zM293.40 225.50h1.50v1.50h-1.50zM293.40 227.00h1.50v1.50h-1.50zM293.40 228.50h1.50v1.50h-1.50zM293.40 230.00h1.50v1.50h-1.50zM293.40 231.50h1.50v1.50h-1.50zM294.90 224.00h1.50v1.50h-1.50zM294.90 225.50h1.50v1.50h-1.50zM294.90 227.00h1.50v1.50h-1.50zM294.90 228.50h1.50v1.50h-1.50zM294.90 230.00h1.50v1.50h-1.50zM329.40 95.00h1.50v1.50h-1.50zM329.40 96.50h1.50v1.50h-1.50zM329.40 98.00h1.50v1.50h-1.50zM329.40 99.50h1.50v1.50h-1.50zM330.90 93.50h1.50v1.50h-1.50zM330.90 95.00h1.50v1.50h-1.50zM330.90 96.50h1.50v1.50h-1.50zM330.90 98.00h1.50v1.50h-1.50zM330.90 99.50h1.50v1.50h-1.50zM330.90 101.00h1.50v1.50h-1.50zM332.40 92.00h1.50v1.50h-1.50zM332.40 93.50h1.50v1.50h-1.50zM332.40 95.00h1.50v1.50h-1.50zM332.40 96.50h1.50v1.50h-1.50zM332.40 98.00h1.50v1.50h-1.50zM332.40 99.50h1.50v1.50h-1.50zM332.40 101.00h1.50v1.50h-1.50zM332.40 102.50h1.50v1.50h-1.50zM333.90 92.00h1.50v1.50h-1.50zM333.90 93.50h1.50v1.50h-1.50zM333.90 95.00h1.50v1.50h-1.50zM333.90 96.50h1.50v1.50h-1.50zM333.90 98.00h1.50v1.50h-1.50zM333.90 99.50h1.50v1.50h-1.50zM333.90 101.00h1.50v1.50h-1.50zM333.90 102.50h1.50v1.50h-1.50zM335.40 92.00h1.50v1.50h-1.50zM335.40 93.50h1.50v1.50h-1.50zM335.40 95.00h1.50v1.50h-1.50zM335.40 96.50h1.50v1.50h-1.50zM335.40 98.00h1.50v1.50h-1.50zM335.40 99.50h1.50v1.50h-1.50zM335.40 101.00h1.50v1.50h-1.50zM335.40 102.50h1.50v1.50h-1.50zM336.90 92.00h1.50v1.50h-1.50zM336.90 93.50h1.50v1.50h-1.50zM336.90 95.00h1.50v1.50h-1.50zM336.90 96.50h1.50v1.50h-1.50zM336.90 98.00h1.50v1.50h-1.50zM336.90 99.50h1.50v1.50h-1.50zM336.90 101.00h1.50v1.50h-1.50zM336.90 102.50h1.50v1.50h-1.50zM338.40 92.00h1.50v1.50h-1.50zM338.40 93.50h1.50v1.50h-1.50zM338.40 95.00h1.50v1.50h-1.50zM338.40 96.50h1.50v1.50h-1.50zM338.40 98.00h1.50v1.50h-1.50zM338.40 99.50h1.50v1.50h-1.50zM338.40 101.00h1.50v1.50h-1.50zM338.40 102.50h1.50v1.50h-1.50zM339.90 92.00h1.50v1.50h-1.50zM339.90 93.50h1.50v1.50h-1.50zM339.90 95.00h1.50v1.50h-1.50zM339.90 96.50h1.50v1.50h-1.50zM339.90 98.00h1.50v1.50h-1.50zM339.90 99.50h1.50v1.50h-1.50zM339.90 101.00h1.50v1.50h-1.50zM341.40 92.00h1.50v1.50h-1.50zM341.40 93.50h1.50v1.50h-1.50zM341.40 95.00h1.50v1.50h-1.50zM341.40 96.50h1.50v1.50h-1.50zM341.40 98.00h1.50v1.50h-1.50zM341.40 99.50h1.50v1.50h-1.50zM342.90 93.50h1.50v1.50h-1.50zM342.90 95.00h1.50v1.50h-1.50zM342.90 96.50h1.50v1.50h-1.50z"/>
</g><g>
<rect x="230.8" y="31.3" width="128.00" height="216.95" stroke="#1a1a1a" stroke-width="1.15" fill="none"/>
<line x1="235.40" y1="248.25" x2="235.40" y2="255.6" stroke="#1a1a1a" stroke-width="1.15" fill="none"/>
<line x1="252.40" y1="248.25" x2="252.40" y2="255.6" stroke="#1a1a1a" stroke-width="1.15" fill="none"/>
<line x1="269.40" y1="248.25" x2="269.40" y2="255.6" stroke="#1a1a1a" stroke-width="1.15" fill="none"/>
<line x1="286.40" y1="248.25" x2="286.40" y2="255.6" stroke="#1a1a1a" stroke-width="1.15" fill="none"/>
<line x1="303.40" y1="248.25" x2="303.40" y2="255.6" stroke="#1a1a1a" stroke-width="1.15" fill="none"/>
<line x1="319.60" y1="248.25" x2="319.60" y2="255.6" stroke="#1a1a1a" stroke-width="1.15" fill="none"/>
<line x1="336.55" y1="248.25" x2="336.55" y2="255.6" stroke="#1a1a1a" stroke-width="1.15" fill="none"/>
<line x1="353.60" y1="248.25" x2="353.60" y2="255.6" stroke="#1a1a1a" stroke-width="1.15" fill="none"/>
<text x="234.50" y="276.6" font-size="14.5" text-anchor="middle">0</text>
<text x="285.50" y="276.6" font-size="14.5" text-anchor="middle">30000</text>
<text x="352.70" y="276.6" font-size="14.5" text-anchor="middle">70000</text>
<line x1="222.40" y1="62.94" x2="230.8" y2="62.94" stroke="#1a1a1a" stroke-width="1.15" fill="none"/>
<line x1="222.40" y1="99.65" x2="230.8" y2="99.65" stroke="#1a1a1a" stroke-width="1.15" fill="none"/>
<line x1="222.40" y1="137.46" x2="230.8" y2="137.46" stroke="#1a1a1a" stroke-width="1.15" fill="none"/>
<line x1="222.40" y1="175.43" x2="230.8" y2="175.43" stroke="#1a1a1a" stroke-width="1.15" fill="none"/>
<line x1="222.40" y1="212.98" x2="230.8" y2="212.98" stroke="#1a1a1a" stroke-width="1.15" fill="none"/>
<text transform="translate(210.20,62.79) rotate(-90)" font-size="14" text-anchor="middle">0</text>
<text transform="translate(210.20,136.16) rotate(-90)" font-size="14" text-anchor="middle">40000</text>
<text transform="translate(210.20,212.58) rotate(-90)" font-size="14" text-anchor="middle">-80000</text>
</g>
<g filter="url(#bl)">
<path fill="#e4000c" d="M434.70 56.00h1.50v1.50h-1.50zM436.20 51.50h1.50v1.50h-1.50zM436.20 53.00h1.50v1.50h-1.50zM436.20 54.50h1.50v1.50h-1.50zM436.20 56.00h1.50v1.50h-1.50zM436.20 57.50h1.50v1.50h-1.50zM437.70 50.00h1.50v1.50h-1.50zM437.70 51.50h1.50v1.50h-1.50zM437.70 53.00h1.50v1.50h-1.50zM437.70 54.50h1.50v1.50h-1.50zM437.70 56.00h1.50v1.50h-1.50zM437.70 57.50h1.50v1.50h-1.50zM439.20 48.50h1.50v1.50h-1.50zM439.20 50.00h1.50v1.50h-1.50zM439.20 51.50h1.50v1.50h-1.50zM439.20 53.00h1.50v1.50h-1.50zM439.20 54.50h1.50v1.50h-1.50zM439.20 56.00h1.50v1.50h-1.50zM439.20 57.50h1.50v1.50h-1.50zM440.70 47.00h1.50v1.50h-1.50zM440.70 48.50h1.50v1.50h-1.50zM440.70 50.00h1.50v1.50h-1.50zM440.70 51.50h1.50v1.50h-1.50zM440.70 53.00h1.50v1.50h-1.50zM440.70 54.50h1.50v1.50h-1.50zM440.70 56.00h1.50v1.50h-1.50zM440.70 57.50h1.50v1.50h-1.50zM442.20 45.50h1.50v1.50h-1.50zM442.20 47.00h1.50v1.50h-1.50zM442.20 48.50h1.50v1.50h-1.50zM442.20 50.00h1.50v1.50h-1.50zM442.20 51.50h1.50v1.50h-1.50zM442.20 53.00h1.50v1.50h-1.50zM442.20 54.50h1.50v1.50h-1.50zM442.20 56.00h1.50v1.50h-1.50zM443.70 45.50h1.50v1.50h-1.50zM443.70 47.00h1.50v1.50h-1.50zM443.70 48.50h1.50v1.50h-1.50zM443.70 50.00h1.50v1.50h-1.50zM443.70 51.50h1.50v1.50h-1.50zM443.70 53.00h1.50v1.50h-1.50zM443.70 54.50h1.50v1.50h-1.50zM445.20 45.50h1.50v1.50h-1.50zM445.20 47.00h1.50v1.50h-1.50zM445.20 48.50h1.50v1.50h-1.50zM445.20 50.00h1.50v1.50h-1.50zM445.20 51.50h1.50v1.50h-1.50zM445.20 53.00h1.50v1.50h-1.50zM446.70 45.50h1.50v1.50h-1.50zM446.70 47.00h1.50v1.50h-1.50zM446.70 48.50h1.50v1.50h-1.50zM446.70 50.00h1.50v1.50h-1.50z"/>
<path fill="#e4000c" d="M449.70 51.50h1.50v1.50h-1.50zM449.70 53.00h1.50v1.50h-1.50zM449.70 54.50h1.50v1.50h-1.50zM451.20 51.50h1.50v1.50h-1.50zM451.20 53.00h1.50v1.50h-1.50zM451.20 54.50h1.50v1.50h-1.50zM452.70 51.50h1.50v1.50h-1.50zM452.70 53.00h1.50v1.50h-1.50zM452.70 54.50h1.50v1.50h-1.50zM454.20 51.50h1.50v1.50h-1.50zM454.20 53.00h1.50v1.50h-1.50z"/>
<path fill="#e03c08" d="M460.20 45.50h1.50v1.50h-1.50zM460.20 47.00h1.50v1.50h-1.50zM460.20 48.50h1.50v1.50h-1.50zM460.20 50.00h1.50v1.50h-1.50zM460.20 51.50h1.50v1.50h-1.50zM460.20 53.00h1.50v1.50h-1.50zM460.20 54.50h1.50v1.50h-1.50zM460.20 56.00h1.50v1.50h-1.50zM461.70 42.50h1.50v1.50h-1.50zM461.70 44.00h1.50v1.50h-1.50zM461.70 45.50h1.50v1.50h-1.50zM461.70 47.00h1.50v1.50h-1.50zM461.70 48.50h1.50v1.50h-1.50zM461.70 50.00h1.50v1.50h-1.50zM461.70 51.50h1.50v1.50h-1.50zM461.70 53.00h1.50v1.50h-1.50zM461.70 54.50h1.50v1.50h-1.50zM461.70 56.00h1.50v1.50h-1.50zM461.70 57.50h1.50v1.50h-1.50zM463.20 42.50h1.50v1.50h-1.50zM463.20 44.00h1.50v1.50h-1.50zM463.20 45.50h1.50v1.50h-1.50zM463.20 47.00h1.50v1.50h-1.50zM463.20 48.50h1.50v1.50h-1.50zM463.20 50.00h1.50v1.50h-1.50zM463.20 51.50h1.50v1.50h-1.50zM463.20 53.00h1.50v1.50h-1.50zM463.20 54.50h1.50v1.50h-1.50zM463.20 56.00h1.50v1.50h-1.50zM463.20 57.50h1.50v1.50h-1.50zM463.20 59.00h1.50v1.50h-1.50zM464.70 42.50h1.50v1.50h-1.50zM464.70 44.00h1.50v1.50h-1.50zM464.70 45.50h1.50v1.50h-1.50zM464.70 47.00h1.50v1.50h-1.50zM464.70 48.50h1.50v1.50h-1.50zM464.70 50.00h1.50v1.50h-1.50zM464.70 51.50h1.50v1.50h-1.50zM464.70 53.00h1.50v1.50h-1.50zM464.70 54.50h1.50v1.50h-1.50zM464.70 56.00h1.50v1.50h-1.50zM464.70 57.50h1.50v1.50h-1.50zM464.70 59.00h1.50v1.50h-1.50zM464.70 60.50h1.50v1.50h-1.50zM466.20 42.50h1.50v1.50h-1.50zM466.20 44.00h1.50v1.50h-1.50zM466.20 45.50h1.50v1.50h-1.50zM466.20 47.00h1.50v1.50h-1.50zM466.20 48.50h1.50v1.50h-1.50zM466.20 50.00h1.50v1.50h-1.50zM466.20 51.50h1.50v1.50h-1.50zM466.20 53.00h1.50v1.50h-1.50zM466.20 54.50h1.50v1.50h-1.50zM466.20 56.00h1.50v1.50h-1.50zM466.20 57.50h1.50v1.50h-1.50zM466.20 59.00h1.50v1.50h-1.50zM466.20 60.50h1.50v1.50h-1.50zM467.70 44.00h1.50v1.50h-1.50zM467.70 45.50h1.50v1.50h-1.50zM467.70 47.00h1.50v1.50h-1.50zM467.70 48.50h1.50v1.50h-1.50zM467.70 50.00h1.50v1.50h-1.50zM467.70 51.50h1.50v1.50h-1.50zM467.70 53.00h1.50v1.50h-1.50zM467.70 54.50h1.50v1.50h-1.50zM467.70 56.00h1.50v1.50h-1.50zM467.70 57.50h1.50v1.50h-1.50zM467.70 59.00h1.50v1.50h-1.50zM467.70 60.50h1.50v1.50h-1.50zM469.20 44.00h1.50v1.50h-1.50zM469.20 45.50h1.50v1.50h-1.50zM469.20 47.00h1.50v1.50h-1.50zM469.20 48.50h1.50v1.50h-1.50zM469.20 50.00h1.50v1.50h-1.50zM469.20 51.50h1.50v1.50h-1.50zM469.20 53.00h1.50v1.50h-1.50zM469.20 54.50h1.50v1.50h-1.50zM469.20 56.00h1.50v1.50h-1.50zM469.20 57.50h1.50v1.50h-1.50zM469.20 59.00h1.50v1.50h-1.50zM469.20 60.50h1.50v1.50h-1.50zM470.70 44.00h1.50v1.50h-1.50zM470.70 45.50h1.50v1.50h-1.50zM470.70 47.00h1.50v1.50h-1.50zM470.70 48.50h1.50v1.50h-1.50zM470.70 50.00h1.50v1.50h-1.50zM470.70 51.50h1.50v1.50h-1.50zM470.70 53.00h1.50v1.50h-1.50zM470.70 54.50h1.50v1.50h-1.50zM470.70 56.00h1.50v1.50h-1.50zM470.70 57.50h1.50v1.50h-1.50zM470.70 59.00h1.50v1.50h-1.50zM470.70 60.50h1.50v1.50h-1.50zM472.20 45.50h1.50v1.50h-1.50zM472.20 47.00h1.50v1.50h-1.50zM472.20 48.50h1.50v1.50h-1.50zM472.20 50.00h1.50v1.50h-1.50zM472.20 51.50h1.50v1.50h-1.50zM472.20 53.00h1.50v1.50h-1.50zM472.20 54.50h1.50v1.50h-1.50zM472.20 56.00h1.50v1.50h-1.50zM472.20 57.50h1.50v1.50h-1.50zM472.20 59.00h1.50v1.50h-1.50zM473.70 45.50h1.50v1.50h-1.50zM473.70 47.00h1.50v1.50h-1.50zM473.70 48.50h1.50v1.50h-1.50zM473.70 50.00h1.50v1.50h-1.50zM473.70 51.50h1.50v1.50h-1.50zM473.70 53.00h1.50v1.50h-1.50zM473.70 54.50h1.50v1.50h-1.50zM473.70 56.00h1.50v1.50h-1.50zM473.70 57.50h1.50v1.50h-1.50zM473.70 59.00h1.50v1.50h-1.50zM475.20 48.50h1.50v1.50h-1.50zM475.20 50.00h1.50v1.50h-1.50zM475.20 51.50h1.50v1.50h-1.50zM475.20 53.00h1.50v1.50h-1.50zM475.20 54.50h1.50v1.50h-1.50zM475.20 56.00h1.50v1.50h-1.50zM475.20 57.50h1.50v1.50h-1.50zM476.70 51.50h1.50v1.50h-1.50zM476.70 53.00h1.50v1.50h-1.50zM476.70 54.50h1.50v1.50h-1.50zM476.70 56.00h1.50v1.50h-1.50z"/>
<path fill="#f2d633" d="M436.20 74.00h1.50v1.50h-1.50zM436.20 75.50h1.50v1.50h-1.50zM436.20 77.00h1.50v1.50h-1.50zM436.20 78.50h1.50v1.50h-1.50zM436.20 80.00h1.50v1.50h-1.50zM437.70 72.50h1.50v1.50h-1.50zM437.70 74.00h1.50v1.50h-1.50zM437.70 75.50h1.50v1.50h-1.50zM437.70 77.00h1.50v1.50h-1.50zM437.70 78.50h1.50v1.50h-1.50zM437.70 80.00h1.50v1.50h-1.50zM437.70 81.50h1.50v1.50h-1.50zM439.20 72.50h1.50v1.50h-1.50zM439.20 74.00h1.50v1.50h-1.50zM439.20 75.50h1.50v1.50h-1.50zM439.20 77.00h1.50v1.50h-1.50zM439.20 78.50h1.50v1.50h-1.50zM439.20 80.00h1.50v1.50h-1.50zM439.20 81.50h1.50v1.50h-1.50zM439.20 83.00h1.50v1.50h-1.50zM440.70 72.50h1.50v1.50h-1.50zM440.70 74.00h1.50v1.50h-1.50zM440.70 75.50h1.50v1.50h-1.50zM440.70 77.00h1.50v1.50h-1.50zM440.70 78.50h1.50v1.50h-1.50zM440.70 80.00h1.50v1.50h-1.50zM440.70 81.50h1.50v1.50h-1.50zM440.70 83.00h1.50v1.50h-1.50zM440.70 84.50h1.50v1.50h-1.50zM440.70 86.00h1.50v1.50h-1.50zM440.70 87.50h1.50v1.50h-1.50zM442.20 72.50h1.50v1.50h-1.50zM442.20 74.00h1.50v1.50h-1.50zM442.20 75.50h1.50v1.50h-1.50zM442.20 77.00h1.50v1.50h-1.50zM442.20 78.50h1.50v1.50h-1.50zM442.20 80.00h1.50v1.50h-1.50zM442.20 81.50h1.50v1.50h-1.50zM442.20 83.00h1.50v1.50h-1.50zM442.20 84.50h1.50v1.50h-1.50zM442.20 86.00h1.50v1.50h-1.50zM442.20 87.50h1.50v1.50h-1.50zM442.20 89.00h1.50v1.50h-1.50zM443.70 72.50h1.50v1.50h-1.50zM443.70 74.00h1.50v1.50h-1.50zM443.70 75.50h1.50v1.50h-1.50zM443.70 77.00h1.50v1.50h-1.50zM443.70 78.50h1.50v1.50h-1.50zM443.70 80.00h1.50v1.50h-1.50zM443.70 81.50h1.50v1.50h-1.50zM443.70 83.00h1.50v1.50h-1.50zM443.70 84.50h1.50v1.50h-1.50zM443.70 86.00h1.50v1.50h-1.50zM443.70 87.50h1.50v1.50h-1.50zM443.70 89.00h1.50v1.50h-1.50zM443.70 90.50h1.50v1.50h-1.50zM445.20 72.50h1.50v1.50h-1.50zM445.20 74.00h1.50v1.50h-1.50zM445.20 75.50h1.50v1.50h-1.50zM445.20 77.00h1.50v1.50h-1.50zM445.20 78.50h1.50v1.50h-1.50zM445.20 80.00h1.50v1.50h-1.50zM445.20 81.50h1.50v1.50h-1.50zM445.20 83.00h1.50v1.50h-1.50zM445.20 84.50h1.50v1.50h-1.50zM445.20 86.00h1.50v1.50h-1.50zM445.20 87.50h1.50v1.50h-1.50zM445.20 89.00h1.50v1.50h-1.50zM445.20 90.50h1.50v1.50h-1.50zM446.70 72.50h1.50v1.50h-1.50zM446.70 74.00h1.50v1.50h-1.50zM446.70 75.50h1.50v1.50h-1.50zM446.70 77.00h1.50v1.50h-1.50zM446.70 78.50h1.50v1.50h-1.50zM446.70 80.00h1.50v1.50h-1.50zM446.70 81.50h1.50v1.50h-1.50zM446.70 83.00h1.50v1.50h-1.50zM446.70 84.50h1.50v1.50h-1.50zM446.70 86.00h1.50v1.50h-1.50zM446.70 87.50h1.50v1.50h-1.50zM446.70 89.00h1.50v1.50h-1.50zM446.70 90.50h1.50v1.50h-1.50zM448.20 74.00h1.50v1.50h-1.50zM448.20 75.50h1.50v1.50h-1.50zM448.20 77.00h1.50v1.50h-1.50zM448.20 78.50h1.50v1.50h-1.50zM448.20 80.00h1.50v1.50h-1.50zM448.20 81.50h1.50v1.50h-1.50zM448.20 83.00h1.50v1.50h-1.50zM448.20 84.50h1.50v1.50h-1.50zM448.20 86.00h1.50v1.50h-1.50zM448.20 87.50h1.50v1.50h-1.50zM448.20 89.00h1.50v1.50h-1.50zM448.20 90.50h1.50v1.50h-1.50zM449.70 74.00h1.50v1.50h-1.50zM449.70 75.50h1.50v1.50h-1.50zM449.70 77.00h1.50v1.50h-1.50zM449.70 78.50h1.50v1.50h-1.50zM449.70 80.00h1.50v1.50h-1.50zM449.70 81.50h1.50v1.50h-1.50zM449.70 83.00h1.50v1.50h-1.50zM449.70 84.50h1.50v1.50h-1.50zM449.70 86.00h1.50v1.50h-1.50zM449.70 87.50h1.50v1.50h-1.50zM449.70 89.00h1.50v1.50h-1.50zM449.70 90.50h1.50v1.50h-1.50zM451.20 78.50h1.50v1.50h-1.50zM451.20 80.00h1.50v1.50h-1.50zM451.20 81.50h1.50v1.50h-1.50zM451.20 83.00h1.50v1.50h-1.50zM451.20 84.50h1.50v1.50h-1.50zM451.20 86.00h1.50v1.50h-1.50zM451.20 87.50h1.50v1.50h-1.50zM451.20 89.00h1.50v1.50h-1.50zM451.20 90.50h1.50v1.50h-1.50zM452.70 81.50h1.50v1.50h-1.50zM452.70 83.00h1.50v1.50h-1.50zM452.70 84.50h1.50v1.50h-1.50zM452.70 86.00h1.50v1.50h-1.50zM452.70 87.50h1.50v1.50h-1.50zM452.70 89.00h1.50v1.50h-1.50z"/>
<path fill="#e8701c" d="M482.70 54.50h1.50v1.50h-1.50zM482.70 56.00h1.50v1.50h-1.50zM484.20 48.50h1.50v1.50h-1.50zM484.20 50.00h1.50v1.50h-1.50zM484.20 51.50h1.50v1.50h-1.50zM484.20 53.00h1.50v1.50h-1.50zM484.20 54.50h1.50v1.50h-1.50zM484.20 56.00h1.50v1.50h-1.50zM484.20 57.50h1.50v1.50h-1.50zM484.20 59.00h1.50v1.50h-1.50zM485.70 41.00h1.50v1.50h-1.50zM485.70 42.50h1.50v1.50h-1.50zM485.70 44.00h1.50v1.50h-1.50zM485.70 45.50h1.50v1.50h-1.50zM485.70 47.00h1.50v1.50h-1.50zM485.70 48.50h1.50v1.50h-1.50zM485.70 50.00h1.50v1.50h-1.50zM485.70 51.50h1.50v1.50h-1.50zM485.70 53.00h1.50v1.50h-1.50zM485.70 54.50h1.50v1.50h-1.50zM485.70 56.00h1.50v1.50h-1.50zM485.70 57.50h1.50v1.50h-1.50zM485.70 59.00h1.50v1.50h-1.50zM485.70 60.50h1.50v1.50h-1.50zM487.20 39.50h1.50v1.50h-1.50zM487.20 41.00h1.50v1.50h-1.50zM487.20 42.50h1.50v1.50h-1.50zM487.20 44.00h1.50v1.50h-1.50zM487.20 45.50h1.50v1.50h-1.50zM487.20 47.00h1.50v1.50h-1.50zM487.20 48.50h1.50v1.50h-1.50zM487.20 50.00h1.50v1.50h-1.50zM487.20 51.50h1.50v1.50h-1.50zM487.20 53.00h1.50v1.50h-1.50zM487.20 54.50h1.50v1.50h-1.50zM487.20 56.00h1.50v1.50h-1.50zM487.20 57.50h1.50v1.50h-1.50zM487.20 59.00h1.50v1.50h-1.50zM487.20 60.50h1.50v1.50h-1.50zM488.70 38.00h1.50v1.50h-1.50zM488.70 39.50h1.50v1.50h-1.50zM488.70 41.00h1.50v1.50h-1.50zM488.70 42.50h1.50v1.50h-1.50zM488.70 44.00h1.50v1.50h-1.50zM488.70 45.50h1.50v1.50h-1.50zM488.70 47.00h1.50v1.50h-1.50zM488.70 48.50h1.50v1.50h-1.50zM488.70 50.00h1.50v1.50h-1.50zM488.70 51.50h1.50v1.50h-1.50zM488.70 53.00h1.50v1.50h-1.50zM488.70 54.50h1.50v1.50h-1.50zM488.70 56.00h1.50v1.50h-1.50zM488.70 57.50h1.50v1.50h-1.50zM488.70 59.00h1.50v1.50h-1.50zM488.70 60.50h1.50v1.50h-1.50zM488.70 62.00h1.50v1.50h-1.50zM490.20 38.00h1.50v1.50h-1.50zM490.20 39.50h1.50v1.50h-1.50zM490.20 41.00h1.50v1.50h-1.50zM490.20 42.50h1.50v1.50h-1.50zM490.20 44.00h1.50v1.50h-1.50zM490.20 45.50h1.50v1.50h-1.50zM490.20 47.00h1.50v1.50h-1.50zM490.20 48.50h1.50v1.50h-1.50zM490.20 50.00h1.50v1.50h-1.50zM490.20 51.50h1.50v1.50h-1.50zM490.20 53.00h1.50v1.50h-1.50zM490.20 54.50h1.50v1.50h-1.50zM490.20 56.00h1.50v1.50h-1.50zM490.20 57.50h1.50v1.50h-1.50zM490.20 59.00h1.50v1.50h-1.50zM490.20 60.50h1.50v1.50h-1.50zM490.20 62.00h1.50v1.50h-1.50zM491.70 38.00h1.50v1.50h-1.50zM491.70 39.50h1.50v1.50h-1.50zM491.70 41.00h1.50v1.50h-1.50zM491.70 42.50h1.50v1.50h-1.50zM491.70 44.00h1.50v1.50h-1.50zM491.70 45.50h1.50v1.50h-1.50zM491.70 47.00h1.50v1.50h-1.50zM491.70 48.50h1.50v1.50h-1.50zM491.70 50.00h1.50v1.50h-1.50zM491.70 51.50h1.50v1.50h-1.50zM491.70 53.00h1.50v1.50h-1.50zM491.70 54.50h1.50v1.50h-1.50zM491.70 56.00h1.50v1.50h-1.50zM491.70 57.50h1.50v1.50h-1.50zM491.70 59.00h1.50v1.50h-1.50zM491.70 60.50h1.50v1.50h-1.50zM493.20 38.00h1.50v1.50h-1.50zM493.20 39.50h1.50v1.50h-1.50zM493.20 41.00h1.50v1.50h-1.50zM493.20 42.50h1.50v1.50h-1.50zM493.20 44.00h1.50v1.50h-1.50zM493.20 45.50h1.50v1.50h-1.50zM493.20 47.00h1.50v1.50h-1.50zM493.20 48.50h1.50v1.50h-1.50zM493.20 50.00h1.50v1.50h-1.50zM493.20 54.50h1.50v1.50h-1.50zM493.20 56.00h1.50v1.50h-1.50zM493.20 57.50h1.50v1.50h-1.50zM493.20 59.00h1.50v1.50h-1.50zM493.20 60.50h1.50v1.50h-1.50zM494.70 38.00h1.50v1.50h-1.50zM494.70 39.50h1.50v1.50h-1.50zM494.70 41.00h1.50v1.50h-1.50zM494.70 42.50h1.50v1.50h-1.50zM494.70 44.00h1.50v1.50h-1.50zM494.70 45.50h1.50v1.50h-1.50zM494.70 47.00h1.50v1.50h-1.50zM494.70 48.50h1.50v1.50h-1.50zM496.20 39.50h1.50v1.50h-1.50zM496.20 41.00h1.50v1.50h-1.50zM496.20 42.50h1.50v1.50h-1.50zM496.20 44.00h1.50v1.50h-1.50zM496.20 45.50h1.50v1.50h-1.50zM496.20 47.00h1.50v1.50h-1.50zM496.20 48.50h1.50v1.50h-1.50zM497.70 41.00h1.50v1.50h-1.50zM497.70 42.50h1.50v1.50h-1.50zM497.70 44.00h1.50v1.50h-1.50zM497.70 45.50h1.50v1.50h-1.50zM497.70 47.00h1.50v1.50h-1.50z"/>
<path fill="#e8922a" d="M512.70 47.00h1.50v1.50h-1.50zM512.70 48.50h1.50v1.50h-1.50zM512.70 50.00h1.50v1.50h-1.50zM514.20 47.00h1.50v1.50h-1.50zM514.20 48.50h1.50v1.50h-1.50zM514.20 50.00h1.50v1.50h-1.50zM514.20 51.50h1.50v1.50h-1.50zM515.70 47.00h1.50v1.50h-1.50zM515.70 48.50h1.50v1.50h-1.50zM515.70 50.00h1.50v1.50h-1.50zM515.70 51.50h1.50v1.50h-1.50zM517.20 47.00h1.50v1.50h-1.50zM517.20 48.50h1.50v1.50h-1.50zM517.20 50.00h1.50v1.50h-1.50z"/>
<path fill="#e8922a" d="M515.70 54.50h1.50v1.50h-1.50zM515.70 56.00h1.50v1.50h-1.50zM517.20 53.00h1.50v1.50h-1.50zM517.20 54.50h1.50v1.50h-1.50zM517.20 56.00h1.50v1.50h-1.50zM517.20 57.50h1.50v1.50h-1.50zM517.20 59.00h1.50v1.50h-1.50zM518.70 51.50h1.50v1.50h-1.50zM518.70 53.00h1.50v1.50h-1.50zM518.70 54.50h1.50v1.50h-1.50zM518.70 56.00h1.50v1.50h-1.50zM518.70 57.50h1.50v1.50h-1.50zM518.70 59.00h1.50v1.50h-1.50zM520.20 51.50h1.50v1.50h-1.50zM520.20 53.00h1.50v1.50h-1.50zM520.20 54.50h1.50v1.50h-1.50zM520.20 56.00h1.50v1.50h-1.50zM520.20 57.50h1.50v1.50h-1.50zM520.20 59.00h1.50v1.50h-1.50zM521.70 51.50h1.50v1.50h-1.50zM521.70 53.00h1.50v1.50h-1.50zM521.70 54.50h1.50v1.50h-1.50zM521.70 56.00h1.50v1.50h-1.50zM521.70 57.50h1.50v1.50h-1.50zM521.70 59.00h1.50v1.50h-1.50zM523.20 51.50h1.50v1.50h-1.50zM523.20 53.00h1.50v1.50h-1.50zM523.20 54.50h1.50v1.50h-1.50zM523.20 56.00h1.50v1.50h-1.50zM523.20 57.50h1.50v1.50h-1.50zM524.70 53.00h1.50v1.50h-1.50zM524.70 54.50h1.50v1.50h-1.50zM524.70 56.00h1.50v1.50h-1.50z"/>
<path fill="#d8f040" d="M484.20 75.50h1.50v1.50h-1.50zM484.20 77.00h1.50v1.50h-1.50zM484.20 78.50h1.50v1.50h-1.50zM484.20 80.00h1.50v1.50h-1.50zM484.20 81.50h1.50v1.50h-1.50zM484.20 83.00h1.50v1.50h-1.50zM485.70 74.00h1.50v1.50h-1.50zM485.70 75.50h1.50v1.50h-1.50zM485.70 77.00h1.50v1.50h-1.50zM485.70 78.50h1.50v1.50h-1.50zM485.70 80.00h1.50v1.50h-1.50zM485.70 81.50h1.50v1.50h-1.50zM485.70 83.00h1.50v1.50h-1.50zM485.70 84.50h1.50v1.50h-1.50zM485.70 86.00h1.50v1.50h-1.50zM487.20 74.00h1.50v1.50h-1.50zM487.20 75.50h1.50v1.50h-1.50zM487.20 77.00h1.50v1.50h-1.50zM487.20 78.50h1.50v1.50h-1.50zM487.20 80.00h1.50v1.50h-1.50zM487.20 81.50h1.50v1.50h-1.50zM487.20 83.00h1.50v1.50h-1.50zM487.20 84.50h1.50v1.50h-1.50zM487.20 86.00h1.50v1.50h-1.50zM488.70 74.00h1.50v1.50h-1.50zM488.70 75.50h1.50v1.50h-1.50zM488.70 77.00h1.50v1.50h-1.50zM488.70 78.50h1.50v1.50h-1.50zM488.70 80.00h1.50v1.50h-1.50zM488.70 81.50h1.50v1.50h-1.50zM488.70 83.00h1.50v1.50h-1.50zM488.70 84.50h1.50v1.50h-1.50zM488.70 86.00h1.50v1.50h-1.50zM488.70 87.50h1.50v1.50h-1.50zM490.20 75.50h1.50v1.50h-1.50zM490.20 77.00h1.50v1.50h-1.50zM490.20 78.50h1.50v1.50h-1.50zM490.20 80.00h1.50v1.50h-1.50zM490.20 81.50h1.50v1.50h-1.50zM490.20 83.00h1.50v1.50h-1.50zM490.20 84.50h1.50v1.50h-1.50zM490.20 86.00h1.50v1.50h-1.50zM490.20 87.50h1.50v1.50h-1.50zM491.70 75.50h1.50v1.50h-1.50zM491.70 77.00h1.50v1.50h-1.50zM491.70 78.50h1.50v1.50h-1.50zM491.70 80.00h1.50v1.50h-1.50zM491.70 81.50h1.50v1.50h-1.50zM491.70 83.00h1.50v1.50h-1.50zM491.70 84.50h1.50v1.50h-1.50zM491.70 86.00h1.50v1.50h-1.50zM491.70 87.50h1.50v1.50h-1.50zM491.70 89.00h1.50v1.50h-1.50zM493.20 75.50h1.50v1.50h-1.50zM493.20 77.00h1.50v1.50h-1.50zM493.20 78.50h1.50v1.50h-1.50zM493.20 80.00h1.50v1.50h-1.50zM493.20 81.50h1.50v1.50h-1.50zM493.20 83.00h1.50v1.50h-1.50zM493.20 84.50h1.50v1.50h-1.50zM493.20 86.00h1.50v1.50h-1.50zM493.20 87.50h1.50v1.50h-1.50zM493.20 89.00h1.50v1.50h-1.50zM493.20 90.50h1.50v1.50h-1.50zM494.70 75.50h1.50v1.50h-1.50zM494.70 77.00h1.50v1.50h-1.50zM494.70 78.50h1.50v1.50h-1.50zM494.70 80.00h1.50v1.50h-1.50zM494.70 81.50h1.50v1.50h-1.50zM494.70 83.00h1.50v1.50h-1.50zM494.70 84.50h1.50v1.50h-1.50zM494.70 86.00h1.50v1.50h-1.50zM494.70 87.50h1.50v1.50h-1.50zM494.70 89.00h1.50v1.50h-1.50zM494.70 90.50h1.50v1.50h-1.50zM496.20 77.00h1.50v1.50h-1.50zM496.20 78.50h1.50v1.50h-1.50zM496.20 80.00h1.50v1.50h-1.50zM496.20 81.50h1.50v1.50h-1.50zM496.20 83.00h1.50v1.50h-1.50zM496.20 84.50h1.50v1.50h-1.50zM496.20 86.00h1.50v1.50h-1.50zM496.20 87.50h1.50v1.50h-1.50zM496.20 89.00h1.50v1.50h-1.50zM496.20 90.50h1.50v1.50h-1.50zM497.70 78.50h1.50v1.50h-1.50zM497.70 80.00h1.50v1.50h-1.50zM497.70 81.50h1.50v1.50h-1.50zM497.70 83.00h1.50v1.50h-1.50zM497.70 84.50h1.50v1.50h-1.50zM497.70 86.00h1.50v1.50h-1.50zM497.70 87.50h1.50v1.50h-1.50zM497.70 89.00h1.50v1.50h-1.50zM497.70 90.50h1.50v1.50h-1.50zM499.20 78.50h1.50v1.50h-1.50zM499.20 80.00h1.50v1.50h-1.50zM499.20 81.50h1.50v1.50h-1.50zM499.20 83.00h1.50v1.50h-1.50zM499.20 84.50h1.50v1.50h-1.50zM499.20 86.00h1.50v1.50h-1.50zM499.20 87.50h1.50v1.50h-1.50zM499.20 89.00h1.50v1.50h-1.50zM500.70 78.50h1.50v1.50h-1.50zM500.70 80.00h1.50v1.50h-1.50zM500.70 81.50h1.50v1.50h-1.50zM500.70 83.00h1.50v1.50h-1.50zM500.70 84.50h1.50v1.50h-1.50zM500.70 86.00h1.50v1.50h-1.50zM500.70 87.50h1.50v1.50h-1.50zM502.20 80.00h1.50v1.50h-1.50zM502.20 81.50h1.50v1.50h-1.50zM502.20 83.00h1.50v1.50h-1.50zM502.20 84.50h1.50v1.50h-1.50z"/>
<path fill="#ebb232" d="M530.70 50.00h1.50v1.50h-1.50zM530.70 51.50h1.50v1.50h-1.50zM530.70 53.00h1.50v1.50h-1.50zM530.70 54.50h1.50v1.50h-1.50zM530.70 56.00h1.50v1.50h-1.50zM530.70 57.50h1.50v1.50h-1.50zM530.70 59.00h1.50v1.50h-1.50zM530.70 60.50h1.50v1.50h-1.50zM532.20 45.50h1.50v1.50h-1.50zM532.20 47.00h1.50v1.50h-1.50zM532.20 48.50h1.50v1.50h-1.50zM532.20 50.00h1.50v1.50h-1.50zM532.20 51.50h1.50v1.50h-1.50zM532.20 53.00h1.50v1.50h-1.50zM532.20 54.50h1.50v1.50h-1.50zM532.20 56.00h1.50v1.50h-1.50zM532.20 57.50h1.50v1.50h-1.50zM532.20 59.00h1.50v1.50h-1.50zM532.20 60.50h1.50v1.50h-1.50zM533.70 44.00h1.50v1.50h-1.50zM533.70 45.50h1.50v1.50h-1.50zM533.70 47.00h1.50v1.50h-1.50zM533.70 48.50h1.50v1.50h-1.50zM533.70 50.00h1.50v1.50h-1.50zM533.70 51.50h1.50v1.50h-1.50zM533.70 53.00h1.50v1.50h-1.50zM533.70 54.50h1.50v1.50h-1.50zM533.70 56.00h1.50v1.50h-1.50zM533.70 57.50h1.50v1.50h-1.50zM533.70 59.00h1.50v1.50h-1.50zM533.70 60.50h1.50v1.50h-1.50zM535.20 42.50h1.50v1.50h-1.50zM535.20 44.00h1.50v1.50h-1.50zM535.20 45.50h1.50v1.50h-1.50zM535.20 47.00h1.50v1.50h-1.50zM535.20 48.50h1.50v1.50h-1.50zM535.20 50.00h1.50v1.50h-1.50zM535.20 51.50h1.50v1.50h-1.50zM535.20 53.00h1.50v1.50h-1.50zM535.20 54.50h1.50v1.50h-1.50zM535.20 56.00h1.50v1.50h-1.50zM535.20 57.50h1.50v1.50h-1.50zM536.70 42.50h1.50v1.50h-1.50zM536.70 44.00h1.50v1.50h-1.50zM536.70 45.50h1.50v1.50h-1.50zM536.70 47.00h1.50v1.50h-1.50zM536.70 48.50h1.50v1.50h-1.50zM536.70 50.00h1.50v1.50h-1.50zM536.70 51.50h1.50v1.50h-1.50zM536.70 53.00h1.50v1.50h-1.50zM536.70 54.50h1.50v1.50h-1.50zM536.70 56.00h1.50v1.50h-1.50zM538.20 42.50h1.50v1.50h-1.50zM538.20 44.00h1.50v1.50h-1.50zM538.20 45.50h1.50v1.50h-1.50zM538.20 47.00h1.50v1.50h-1.50zM538.20 48.50h1.50v1.50h-1.50zM538.20 50.00h1.50v1.50h-1.50zM538.20 51.50h1.50v1.50h-1.50zM538.20 53.00h1.50v1.50h-1.50zM538.20 54.50h1.50v1.50h-1.50zM538.20 56.00h1.50v1.50h-1.50zM539.70 44.00h1.50v1.50h-1.50zM539.70 45.50h1.50v1.50h-1.50zM539.70 47.00h1.50v1.50h-1.50zM539.70 48.50h1.50v1.50h-1.50zM539.70 50.00h1.50v1.50h-1.50zM539.70 51.50h1.50v1.50h-1.50zM539.70 53.00h1.50v1.50h-1.50zM539.70 54.50h1.50v1.50h-1.50zM541.20 48.50h1.50v1.50h-1.50zM541.20 50.00h1.50v1.50h-1.50zM541.20 51.50h1.50v1.50h-1.50zM541.20 53.00h1.50v1.50h-1.50zM541.20 54.50h1.50v1.50h-1.50zM542.70 48.50h1.50v1.50h-1.50zM542.70 50.00h1.50v1.50h-1.50zM542.70 51.50h1.50v1.50h-1.50zM542.70 53.00h1.50v1.50h-1.50zM542.70 54.50h1.50v1.50h-1.50zM544.20 48.50h1.50v1.50h-1.50zM544.20 50.00h1.50v1.50h-1.50zM544.20 51.50h1.50v1.50h-1.50zM544.20 53.00h1.50v1.50h-1.50zM544.20 54.50h1.50v1.50h-1.50zM545.70 48.50h1.50v1.50h-1.50zM545.70 50.00h1.50v1.50h-1.50zM545.70 51.50h1.50v1.50h-1.50zM545.70 53.00h1.50v1.50h-1.50z"/>
<path fill="#b4f040" d="M511.20 71.00h1.50v1.50h-1.50zM511.20 72.50h1.50v1.50h-1.50zM511.20 74.00h1.50v1.50h-1.50zM511.20 75.50h1.50v1.50h-1.50zM511.20 77.00h1.50v1.50h-1.50zM511.20 78.50h1.50v1.50h-1.50zM512.70 71.00h1.50v1.50h-1.50zM512.70 72.50h1.50v1.50h-1.50zM512.70 74.00h1.50v1.50h-1.50zM512.70 75.50h1.50v1.50h-1.50zM512.70 77.00h1.50v1.50h-1.50zM512.70 78.50h1.50v1.50h-1.50zM512.70 80.00h1.50v1.50h-1.50zM512.70 81.50h1.50v1.50h-1.50zM512.70 83.00h1.50v1.50h-1.50zM512.70 84.50h1.50v1.50h-1.50zM512.70 86.00h1.50v1.50h-1.50zM512.70 87.50h1.50v1.50h-1.50zM514.20 71.00h1.50v1.50h-1.50zM514.20 72.50h1.50v1.50h-1.50zM514.20 74.00h1.50v1.50h-1.50zM514.20 75.50h1.50v1.50h-1.50zM514.20 77.00h1.50v1.50h-1.50zM514.20 78.50h1.50v1.50h-1.50zM514.20 80.00h1.50v1.50h-1.50zM514.20 81.50h1.50v1.50h-1.50zM514.20 83.00h1.50v1.50h-1.50zM514.20 84.50h1.50v1.50h-1.50zM514.20 86.00h1.50v1.50h-1.50zM514.20 87.50h1.50v1.50h-1.50zM514.20 89.00h1.50v1.50h-1.50zM515.70 71.00h1.50v1.50h-1.50zM515.70 72.50h1.50v1.50h-1.50zM515.70 74.00h1.50v1.50h-1.50zM515.70 75.50h1.50v1.50h-1.50zM515.70 77.00h1.50v1.50h-1.50zM515.70 78.50h1.50v1.50h-1.50zM515.70 80.00h1.50v1.50h-1.50zM515.70 81.50h1.50v1.50h-1.50zM515.70 83.00h1.50v1.50h-1.50zM515.70 84.50h1.50v1.50h-1.50zM515.70 86.00h1.50v1.50h-1.50zM515.70 87.50h1.50v1.50h-1.50zM515.70 89.00h1.50v1.50h-1.50zM517.20 72.50h1.50v1.50h-1.50zM517.20 74.00h1.50v1.50h-1.50zM517.20 75.50h1.50v1.50h-1.50zM517.20 77.00h1.50v1.50h-1.50zM517.20 78.50h1.50v1.50h-1.50zM517.20 80.00h1.50v1.50h-1.50zM517.20 81.50h1.50v1.50h-1.50zM517.20 83.00h1.50v1.50h-1.50zM517.20 84.50h1.50v1.50h-1.50zM517.20 86.00h1.50v1.50h-1.50zM517.20 87.50h1.50v1.50h-1.50zM517.20 89.00h1.50v1.50h-1.50zM518.70 75.50h1.50v1.50h-1.50zM518.70 77.00h1.50v1.50h-1.50zM518.70 78.50h1.50v1.50h-1.50zM518.70 80.00h1.50v1.50h-1.50zM518.70 81.50h1.50v1.50h-1.50zM518.70 83.00h1.50v1.50h-1.50zM518.70 84.50h1.50v1.50h-1.50zM518.70 86.00h1.50v1.50h-1.50zM518.70 87.50h1.50v1.50h-1.50zM518.70 89.00h1.50v1.50h-1.50zM520.20 77.00h1.50v1.50h-1.50zM520.20 78.50h1.50v1.50h-1.50zM520.20 80.00h1.50v1.50h-1.50zM520.20 81.50h1.50v1.50h-1.50zM520.20 83.00h1.50v1.50h-1.50zM520.20 84.50h1.50v1.50h-1.50zM520.20 86.00h1.50v1.50h-1.50zM520.20 87.50h1.50v1.50h-1.50zM520.20 89.00h1.50v1.50h-1.50zM521.70 80.00h1.50v1.50h-1.50zM521.70 81.50h1.50v1.50h-1.50zM521.70 83.00h1.50v1.50h-1.50zM521.70 84.50h1.50v1.50h-1.50zM521.70 86.00h1.50v1.50h-1.50zM521.70 87.50h1.50v1.50h-1.50zM521.70 89.00h1.50v1.50h-1.50zM523.20 81.50h1.50v1.50h-1.50zM523.20 83.00h1.50v1.50h-1.50zM523.20 84.50h1.50v1.50h-1.50zM523.20 86.00h1.50v1.50h-1.50zM523.20 87.50h1.50v1.50h-1.50z"/>
<path fill="#a0f040" d="M535.20 83.00h1.50v1.50h-1.50zM535.20 84.50h1.50v1.50h-1.50zM535.20 86.00h1.50v1.50h-1.50zM535.20 87.50h1.50v1.50h-1.50zM535.20 89.00h1.50v1.50h-1.50zM535.20 90.50h1.50v1.50h-1.50zM536.70 78.50h1.50v1.50h-1.50zM536.70 80.00h1.50v1.50h-1.50zM536.70 81.50h1.50v1.50h-1.50zM536.70 83.00h1.50v1.50h-1.50zM536.70 84.50h1.50v1.50h-1.50zM536.70 86.00h1.50v1.50h-1.50zM536.70 87.50h1.50v1.50h-1.50zM536.70 89.00h1.50v1.50h-1.50zM536.70 90.50h1.50v1.50h-1.50zM538.20 74.00h1.50v1.50h-1.50zM538.20 75.50h1.50v1.50h-1.50zM538.20 77.00h1.50v1.50h-1.50zM538.20 78.50h1.50v1.50h-1.50zM538.20 80.00h1.50v1.50h-1.50zM538.20 81.50h1.50v1.50h-1.50zM538.20 83.00h1.50v1.50h-1.50zM538.20 84.50h1.50v1.50h-1.50zM538.20 86.00h1.50v1.50h-1.50zM538.20 87.50h1.50v1.50h-1.50zM538.20 89.00h1.50v1.50h-1.50zM538.20 90.50h1.50v1.50h-1.50zM539.70 72.50h1.50v1.50h-1.50zM539.70 74.00h1.50v1.50h-1.50zM539.70 75.50h1.50v1.50h-1.50zM539.70 77.00h1.50v1.50h-1.50zM539.70 78.50h1.50v1.50h-1.50zM539.70 80.00h1.50v1.50h-1.50zM539.70 81.50h1.50v1.50h-1.50zM539.70 83.00h1.50v1.50h-1.50zM539.70 84.50h1.50v1.50h-1.50zM539.70 86.00h1.50v1.50h-1.50zM539.70 87.50h1.50v1.50h-1.50zM539.70 89.00h1.50v1.50h-1.50zM539.70 90.50h1.50v1.50h-1.50zM541.20 72.50h1.50v1.50h-1.50zM541.20 74.00h1.50v1.50h-1.50zM541.20 75.50h1.50v1.50h-1.50zM541.20 77.00h1.50v1.50h-1.50zM541.20 78.50h1.50v1.50h-1.50zM541.20 80.00h1.50v1.50h-1.50zM541.20 81.50h1.50v1.50h-1.50zM541.20 83.00h1.50v1.50h-1.50zM541.20 84.50h1.50v1.50h-1.50zM541.20 86.00h1.50v1.50h-1.50zM541.20 87.50h1.50v1.50h-1.50zM541.20 89.00h1.50v1.50h-1.50zM541.20 90.50h1.50v1.50h-1.50zM542.70 72.50h1.50v1.50h-1.50zM542.70 74.00h1.50v1.50h-1.50zM542.70 75.50h1.50v1.50h-1.50zM542.70 77.00h1.50v1.50h-1.50zM542.70 78.50h1.50v1.50h-1.50zM542.70 80.00h1.50v1.50h-1.50zM542.70 81.50h1.50v1.50h-1.50zM542.70 83.00h1.50v1.50h-1.50zM542.70 84.50h1.50v1.50h-1.50zM542.70 86.00h1.50v1.50h-1.50zM542.70 87.50h1.50v1.50h-1.50zM542.70 89.00h1.50v1.50h-1.50zM542.70 90.50h1.50v1.50h-1.50zM544.20 72.50h1.50v1.50h-1.50zM544.20 74.00h1.50v1.50h-1.50zM544.20 75.50h1.50v1.50h-1.50zM544.20 77.00h1.50v1.50h-1.50zM544.20 78.50h1.50v1.50h-1.50zM544.20 80.00h1.50v1.50h-1.50zM544.20 81.50h1.50v1.50h-1.50zM544.20 83.00h1.50v1.50h-1.50zM544.20 84.50h1.50v1.50h-1.50zM544.20 86.00h1.50v1.50h-1.50zM544.20 87.50h1.50v1.50h-1.50zM544.20 89.00h1.50v1.50h-1.50zM544.20 90.50h1.50v1.50h-1.50zM545.70 72.50h1.50v1.50h-1.50zM545.70 74.00h1.50v1.50h-1.50zM545.70 75.50h1.50v1.50h-1.50zM545.70 77.00h1.50v1.50h-1.50zM545.70 78.50h1.50v1.50h-1.50zM545.70 81.50h1.50v1.50h-1.50zM545.70 83.00h1.50v1.50h-1.50zM545.70 84.50h1.50v1.50h-1.50zM545.70 86.00h1.50v1.50h-1.50zM545.70 87.50h1.50v1.50h-1.50zM545.70 89.00h1.50v1.50h-1.50zM547.20 72.50h1.50v1.50h-1.50zM547.20 74.00h1.50v1.50h-1.50zM547.20 75.50h1.50v1.50h-1.50zM547.20 77.00h1.50v1.50h-1.50zM547.20 81.50h1.50v1.50h-1.50zM547.20 83.00h1.50v1.50h-1.50zM547.20 84.50h1.50v1.50h-1.50zM547.20 86.00h1.50v1.50h-1.50zM547.20 87.50h1.50v1.50h-1.50zM547.20 89.00h1.50v1.50h-1.50zM548.70 72.50h1.50v1.50h-1.50zM548.70 74.00h1.50v1.50h-1.50zM548.70 75.50h1.50v1.50h-1.50zM548.70 77.00h1.50v1.50h-1.50zM548.70 78.50h1.50v1.50h-1.50zM548.70 80.00h1.50v1.50h-1.50zM548.70 81.50h1.50v1.50h-1.50zM548.70 83.00h1.50v1.50h-1.50zM548.70 84.50h1.50v1.50h-1.50zM548.70 86.00h1.50v1.50h-1.50zM548.70 87.50h1.50v1.50h-1.50zM548.70 89.00h1.50v1.50h-1.50zM550.20 74.00h1.50v1.50h-1.50zM550.20 75.50h1.50v1.50h-1.50zM550.20 77.00h1.50v1.50h-1.50zM550.20 78.50h1.50v1.50h-1.50zM550.20 80.00h1.50v1.50h-1.50zM550.20 81.50h1.50v1.50h-1.50zM550.20 83.00h1.50v1.50h-1.50zM550.20 84.50h1.50v1.50h-1.50zM550.20 86.00h1.50v1.50h-1.50zM550.20 87.50h1.50v1.50h-1.50zM550.20 89.00h1.50v1.50h-1.50zM551.70 74.00h1.50v1.50h-1.50zM551.70 75.50h1.50v1.50h-1.50zM551.70 77.00h1.50v1.50h-1.50zM551.70 78.50h1.50v1.50h-1.50zM551.70 80.00h1.50v1.50h-1.50zM551.70 81.50h1.50v1.50h-1.50zM551.70 83.00h1.50v1.50h-1.50zM551.70 84.50h1.50v1.50h-1.50zM551.70 86.00h1.50v1.50h-1.50zM551.70 87.50h1.50v1.50h-1.50zM553.20 75.50h1.50v1.50h-1.50zM553.20 77.00h1.50v1.50h-1.50zM553.20 78.50h1.50v1.50h-1.50zM553.20 80.00h1.50v1.50h-1.50zM553.20 81.50h1.50v1.50h-1.50zM553.20 83.00h1.50v1.50h-1.50zM553.20 84.50h1.50v1.50h-1.50zM553.20 86.00h1.50v1.50h-1.50zM553.20 87.50h1.50v1.50h-1.50zM554.70 75.50h1.50v1.50h-1.50zM554.70 77.00h1.50v1.50h-1.50zM554.70 78.50h1.50v1.50h-1.50zM554.70 80.00h1.50v1.50h-1.50zM554.70 81.50h1.50v1.50h-1.50zM554.70 83.00h1.50v1.50h-1.50zM554.70 84.50h1.50v1.50h-1.50zM554.70 86.00h1.50v1.50h-1.50zM556.20 78.50h1.50v1.50h-1.50zM556.20 80.00h1.50v1.50h-1.50z"/>
<path fill="#eef23a" d="M458.70 83.00h1.50v1.50h-1.50zM458.70 84.50h1.50v1.50h-1.50zM458.70 86.00h1.50v1.50h-1.50zM460.20 81.50h1.50v1.50h-1.50zM460.20 83.00h1.50v1.50h-1.50zM460.20 84.50h1.50v1.50h-1.50zM460.20 86.00h1.50v1.50h-1.50zM460.20 87.50h1.50v1.50h-1.50zM460.20 89.00h1.50v1.50h-1.50zM460.20 90.50h1.50v1.50h-1.50zM460.20 92.00h1.50v1.50h-1.50zM461.70 81.50h1.50v1.50h-1.50zM461.70 83.00h1.50v1.50h-1.50zM461.70 84.50h1.50v1.50h-1.50zM461.70 86.00h1.50v1.50h-1.50zM461.70 87.50h1.50v1.50h-1.50zM461.70 89.00h1.50v1.50h-1.50zM461.70 90.50h1.50v1.50h-1.50zM461.70 92.00h1.50v1.50h-1.50zM463.20 81.50h1.50v1.50h-1.50zM463.20 83.00h1.50v1.50h-1.50zM463.20 84.50h1.50v1.50h-1.50zM463.20 86.00h1.50v1.50h-1.50zM463.20 87.50h1.50v1.50h-1.50zM463.20 89.00h1.50v1.50h-1.50zM463.20 90.50h1.50v1.50h-1.50zM463.20 92.00h1.50v1.50h-1.50zM464.70 80.00h1.50v1.50h-1.50zM464.70 81.50h1.50v1.50h-1.50zM464.70 83.00h1.50v1.50h-1.50zM464.70 84.50h1.50v1.50h-1.50zM464.70 86.00h1.50v1.50h-1.50zM464.70 87.50h1.50v1.50h-1.50zM464.70 89.00h1.50v1.50h-1.50zM464.70 90.50h1.50v1.50h-1.50zM464.70 92.00h1.50v1.50h-1.50zM466.20 80.00h1.50v1.50h-1.50zM466.20 81.50h1.50v1.50h-1.50zM466.20 83.00h1.50v1.50h-1.50zM466.20 84.50h1.50v1.50h-1.50zM466.20 86.00h1.50v1.50h-1.50zM466.20 87.50h1.50v1.50h-1.50zM466.20 89.00h1.50v1.50h-1.50zM466.20 90.50h1.50v1.50h-1.50zM466.20 92.00h1.50v1.50h-1.50zM467.70 80.00h1.50v1.50h-1.50zM467.70 81.50h1.50v1.50h-1.50zM467.70 83.00h1.50v1.50h-1.50zM467.70 84.50h1.50v1.50h-1.50zM467.70 86.00h1.50v1.50h-1.50zM467.70 87.50h1.50v1.50h-1.50zM467.70 89.00h1.50v1.50h-1.50zM467.70 90.50h1.50v1.50h-1.50zM467.70 92.00h1.50v1.50h-1.50zM469.20 80.00h1.50v1.50h-1.50zM469.20 81.50h1.50v1.50h-1.50zM469.20 83.00h1.50v1.50h-1.50zM469.20 84.50h1.50v1.50h-1.50zM469.20 86.00h1.50v1.50h-1.50zM469.20 87.50h1.50v1.50h-1.50zM469.20 89.00h1.50v1.50h-1.50zM469.20 90.50h1.50v1.50h-1.50zM470.70 81.50h1.50v1.50h-1.50zM470.70 83.00h1.50v1.50h-1.50zM470.70 84.50h1.50v1.50h-1.50zM470.70 86.00h1.50v1.50h-1.50zM470.70 87.50h1.50v1.50h-1.50zM470.70 89.00h1.50v1.50h-1.50z"/>
<path fill="#a0f040" d="M437.70 108.50h1.50v1.50h-1.50zM437.70 110.00h1.50v1.50h-1.50zM437.70 111.50h1.50v1.50h-1.50zM437.70 113.00h1.50v1.50h-1.50zM439.20 105.50h1.50v1.50h-1.50zM439.20 107.00h1.50v1.50h-1.50zM439.20 108.50h1.50v1.50h-1.50zM439.20 110.00h1.50v1.50h-1.50zM439.20 111.50h1.50v1.50h-1.50zM439.20 113.00h1.50v1.50h-1.50zM439.20 114.50h1.50v1.50h-1.50zM439.20 116.00h1.50v1.50h-1.50zM440.70 104.00h1.50v1.50h-1.50zM440.70 105.50h1.50v1.50h-1.50zM440.70 107.00h1.50v1.50h-1.50zM440.70 108.50h1.50v1.50h-1.50zM440.70 110.00h1.50v1.50h-1.50zM440.70 111.50h1.50v1.50h-1.50zM440.70 113.00h1.50v1.50h-1.50zM440.70 114.50h1.50v1.50h-1.50zM440.70 116.00h1.50v1.50h-1.50zM442.20 102.50h1.50v1.50h-1.50zM442.20 104.00h1.50v1.50h-1.50zM442.20 105.50h1.50v1.50h-1.50zM442.20 107.00h1.50v1.50h-1.50zM442.20 108.50h1.50v1.50h-1.50zM442.20 110.00h1.50v1.50h-1.50zM442.20 111.50h1.50v1.50h-1.50zM442.20 113.00h1.50v1.50h-1.50zM442.20 114.50h1.50v1.50h-1.50zM442.20 116.00h1.50v1.50h-1.50zM443.70 102.50h1.50v1.50h-1.50zM443.70 104.00h1.50v1.50h-1.50zM443.70 105.50h1.50v1.50h-1.50zM443.70 107.00h1.50v1.50h-1.50zM443.70 108.50h1.50v1.50h-1.50zM443.70 110.00h1.50v1.50h-1.50zM443.70 111.50h1.50v1.50h-1.50zM443.70 113.00h1.50v1.50h-1.50zM443.70 114.50h1.50v1.50h-1.50zM443.70 116.00h1.50v1.50h-1.50zM445.20 102.50h1.50v1.50h-1.50zM445.20 104.00h1.50v1.50h-1.50zM445.20 105.50h1.50v1.50h-1.50zM445.20 107.00h1.50v1.50h-1.50zM445.20 108.50h1.50v1.50h-1.50zM445.20 110.00h1.50v1.50h-1.50zM445.20 111.50h1.50v1.50h-1.50zM445.20 113.00h1.50v1.50h-1.50zM445.20 114.50h1.50v1.50h-1.50zM446.70 104.00h1.50v1.50h-1.50zM446.70 105.50h1.50v1.50h-1.50zM446.70 107.00h1.50v1.50h-1.50zM446.70 108.50h1.50v1.50h-1.50zM446.70 110.00h1.50v1.50h-1.50zM446.70 111.50h1.50v1.50h-1.50zM446.70 113.00h1.50v1.50h-1.50zM446.70 114.50h1.50v1.50h-1.50zM448.20 105.50h1.50v1.50h-1.50zM448.20 107.00h1.50v1.50h-1.50zM448.20 108.50h1.50v1.50h-1.50zM448.20 110.00h1.50v1.50h-1.50zM448.20 111.50h1.50v1.50h-1.50zM448.20 113.00h1.50v1.50h-1.50zM448.20 114.50h1.50v1.50h-1.50zM449.70 111.50h1.50v1.50h-1.50zM449.70 113.00h1.50v1.50h-1.50z"/>
<path fill="#8cf03c" d="M460.20 114.50h1.50v1.50h-1.50zM460.20 116.00h1.50v1.50h-1.50zM460.20 117.50h1.50v1.50h-1.50zM460.20 119.00h1.50v1.50h-1.50zM461.70 114.50h1.50v1.50h-1.50zM461.70 116.00h1.50v1.50h-1.50zM461.70 117.50h1.50v1.50h-1.50zM461.70 119.00h1.50v1.50h-1.50zM463.20 113.00h1.50v1.50h-1.50zM463.20 114.50h1.50v1.50h-1.50zM463.20 116.00h1.50v1.50h-1.50zM463.20 117.50h1.50v1.50h-1.50zM463.20 119.00h1.50v1.50h-1.50zM464.70 113.00h1.50v1.50h-1.50zM464.70 114.50h1.50v1.50h-1.50zM464.70 116.00h1.50v1.50h-1.50zM464.70 117.50h1.50v1.50h-1.50zM464.70 119.00h1.50v1.50h-1.50zM466.20 113.00h1.50v1.50h-1.50zM466.20 114.50h1.50v1.50h-1.50zM466.20 116.00h1.50v1.50h-1.50zM466.20 117.50h1.50v1.50h-1.50zM466.20 119.00h1.50v1.50h-1.50zM467.70 113.00h1.50v1.50h-1.50zM467.70 114.50h1.50v1.50h-1.50zM467.70 116.00h1.50v1.50h-1.50zM467.70 117.50h1.50v1.50h-1.50zM469.20 113.00h1.50v1.50h-1.50zM469.20 114.50h1.50v1.50h-1.50zM469.20 116.00h1.50v1.50h-1.50zM469.20 117.50h1.50v1.50h-1.50zM470.70 113.00h1.50v1.50h-1.50zM470.70 114.50h1.50v1.50h-1.50zM470.70 116.00h1.50v1.50h-1.50zM472.20 113.00h1.50v1.50h-1.50zM472.20 114.50h1.50v1.50h-1.50zM472.20 116.00h1.50v1.50h-1.50zM473.70 114.50h1.50v1.50h-1.50zM473.70 116.00h1.50v1.50h-1.50z"/>
<path fill="#90ee60" d="M511.20 98.00h1.50v1.50h-1.50zM511.20 99.50h1.50v1.50h-1.50zM511.20 101.00h1.50v1.50h-1.50zM511.20 102.50h1.50v1.50h-1.50zM511.20 104.00h1.50v1.50h-1.50zM511.20 111.50h1.50v1.50h-1.50zM511.20 116.00h1.50v1.50h-1.50zM511.20 117.50h1.50v1.50h-1.50zM512.70 96.50h1.50v1.50h-1.50zM512.70 98.00h1.50v1.50h-1.50zM512.70 99.50h1.50v1.50h-1.50zM512.70 101.00h1.50v1.50h-1.50zM512.70 102.50h1.50v1.50h-1.50zM512.70 104.00h1.50v1.50h-1.50zM512.70 105.50h1.50v1.50h-1.50zM512.70 110.00h1.50v1.50h-1.50zM512.70 111.50h1.50v1.50h-1.50zM512.70 116.00h1.50v1.50h-1.50zM512.70 117.50h1.50v1.50h-1.50zM512.70 119.00h1.50v1.50h-1.50zM514.20 95.00h1.50v1.50h-1.50zM514.20 96.50h1.50v1.50h-1.50zM514.20 98.00h1.50v1.50h-1.50zM514.20 99.50h1.50v1.50h-1.50zM514.20 101.00h1.50v1.50h-1.50zM514.20 102.50h1.50v1.50h-1.50zM514.20 104.00h1.50v1.50h-1.50zM514.20 105.50h1.50v1.50h-1.50zM514.20 110.00h1.50v1.50h-1.50zM514.20 111.50h1.50v1.50h-1.50zM514.20 113.00h1.50v1.50h-1.50zM514.20 114.50h1.50v1.50h-1.50zM514.20 116.00h1.50v1.50h-1.50zM514.20 117.50h1.50v1.50h-1.50zM514.20 119.00h1.50v1.50h-1.50zM515.70 95.00h1.50v1.50h-1.50zM515.70 96.50h1.50v1.50h-1.50zM515.70 98.00h1.50v1.50h-1.50zM515.70 99.50h1.50v1.50h-1.50zM515.70 101.00h1.50v1.50h-1.50zM515.70 102.50h1.50v1.50h-1.50zM515.70 104.00h1.50v1.50h-1.50zM515.70 105.50h1.50v1.50h-1.50zM515.70 107.00h1.50v1.50h-1.50zM515.70 108.50h1.50v1.50h-1.50zM515.70 110.00h1.50v1.50h-1.50zM515.70 111.50h1.50v1.50h-1.50zM515.70 113.00h1.50v1.50h-1.50zM515.70 114.50h1.50v1.50h-1.50zM515.70 116.00h1.50v1.50h-1.50zM515.70 117.50h1.50v1.50h-1.50zM515.70 119.00h1.50v1.50h-1.50zM517.20 95.00h1.50v1.50h-1.50zM517.20 96.50h1.50v1.50h-1.50zM517.20 98.00h1.50v1.50h-1.50zM517.20 99.50h1.50v1.50h-1.50zM517.20 101.00h1.50v1.50h-1.50zM517.20 102.50h1.50v1.50h-1.50zM517.20 104.00h1.50v1.50h-1.50zM517.20 105.50h1.50v1.50h-1.50zM517.20 107.00h1.50v1.50h-1.50zM517.20 108.50h1.50v1.50h-1.50zM517.20 110.00h1.50v1.50h-1.50zM517.20 111.50h1.50v1.50h-1.50zM517.20 113.00h1.50v1.50h-1.50zM517.20 114.50h1.50v1.50h-1.50zM517.20 116.00h1.50v1.50h-1.50zM517.20 117.50h1.50v1.50h-1.50zM517.20 119.00h1.50v1.50h-1.50zM517.20 120.50h1.50v1.50h-1.50zM518.70 95.00h1.50v1.50h-1.50zM518.70 96.50h1.50v1.50h-1.50zM518.70 98.00h1.50v1.50h-1.50zM518.70 99.50h1.50v1.50h-1.50zM518.70 101.00h1.50v1.50h-1.50zM518.70 102.50h1.50v1.50h-1.50zM518.70 104.00h1.50v1.50h-1.50zM518.70 105.50h1.50v1.50h-1.50zM518.70 107.00h1.50v1.50h-1.50zM518.70 108.50h1.50v1.50h-1.50zM518.70 110.00h1.50v1.50h-1.50zM518.70 111.50h1.50v1.50h-1.50zM518.70 113.00h1.50v1.50h-1.50zM518.70 114.50h1.50v1.50h-1.50zM518.70 116.00h1.50v1.50h-1.50zM518.70 117.50h1.50v1.50h-1.50zM518.70 119.00h1.50v1.50h-1.50zM518.70 120.50h1.50v1.50h-1.50zM520.20 96.50h1.50v1.50h-1.50zM520.20 98.00h1.50v1.50h-1.50zM520.20 99.50h1.50v1.50h-1.50zM520.20 101.00h1.50v1.50h-1.50zM520.20 102.50h1.50v1.50h-1.50zM520.20 104.00h1.50v1.50h-1.50zM520.20 105.50h1.50v1.50h-1.50zM520.20 107.00h1.50v1.50h-1.50zM520.20 108.50h1.50v1.50h-1.50zM520.20 110.00h1.50v1.50h-1.50zM520.20 111.50h1.50v1.50h-1.50zM520.20 113.00h1.50v1.50h-1.50zM520.20 114.50h1.50v1.50h-1.50zM520.20 116.00h1.50v1.50h-1.50zM520.20 117.50h1.50v1.50h-1.50zM520.20 119.00h1.50v1.50h-1.50zM520.20 120.50h1.50v1.50h-1.50zM521.70 96.50h1.50v1.50h-1.50zM521.70 98.00h1.50v1.50h-1.50zM521.70 99.50h1.50v1.50h-1.50zM521.70 101.00h1.50v1.50h-1.50zM521.70 102.50h1.50v1.50h-1.50zM521.70 104.00h1.50v1.50h-1.50zM521.70 105.50h1.50v1.50h-1.50zM521.70 107.00h1.50v1.50h-1.50zM521.70 108.50h1.50v1.50h-1.50zM521.70 110.00h1.50v1.50h-1.50zM521.70 111.50h1.50v1.50h-1.50zM521.70 113.00h1.50v1.50h-1.50zM521.70 114.50h1.50v1.50h-1.50zM521.70 116.00h1.50v1.50h-1.50zM521.70 117.50h1.50v1.50h-1.50zM521.70 119.00h1.50v1.50h-1.50zM521.70 120.50h1.50v1.50h-1.50zM523.20 98.00h1.50v1.50h-1.50zM523.20 99.50h1.50v1.50h-1.50zM523.20 101.00h1.50v1.50h-1.50zM523.20 102.50h1.50v1.50h-1.50zM523.20 104.00h1.50v1.50h-1.50zM523.20 105.50h1.50v1.50h-1.50zM523.20 110.00h1.50v1.50h-1.50zM523.20 111.50h1.50v1.50h-1.50zM523.20 113.00h1.50v1.50h-1.50zM523.20 114.50h1.50v1.50h-1.50zM523.20 116.00h1.50v1.50h-1.50zM523.20 117.50h1.50v1.50h-1.50zM523.20 119.00h1.50v1.50h-1.50zM524.70 99.50h1.50v1.50h-1.50zM524.70 101.00h1.50v1.50h-1.50zM524.70 102.50h1.50v1.50h-1.50zM524.70 104.00h1.50v1.50h-1.50zM524.70 111.50h1.50v1.50h-1.50zM524.70 113.00h1.50v1.50h-1.50zM524.70 114.50h1.50v1.50h-1.50zM524.70 116.00h1.50v1.50h-1.50zM524.70 117.50h1.50v1.50h-1.50zM524.70 119.00h1.50v1.50h-1.50zM526.20 113.00h1.50v1.50h-1.50zM526.20 114.50h1.50v1.50h-1.50zM526.20 116.00h1.50v1.50h-1.50zM526.20 117.50h1.50v1.50h-1.50z"/>
<path fill="#80e840" d="M482.70 113.00h1.50v1.50h-1.50zM482.70 114.50h1.50v1.50h-1.50zM482.70 116.00h1.50v1.50h-1.50zM482.70 117.50h1.50v1.50h-1.50zM482.70 119.00h1.50v1.50h-1.50zM484.20 110.00h1.50v1.50h-1.50zM484.20 111.50h1.50v1.50h-1.50zM484.20 113.00h1.50v1.50h-1.50zM484.20 114.50h1.50v1.50h-1.50zM484.20 116.00h1.50v1.50h-1.50zM484.20 117.50h1.50v1.50h-1.50zM484.20 119.00h1.50v1.50h-1.50zM484.20 120.50h1.50v1.50h-1.50zM485.70 107.00h1.50v1.50h-1.50zM485.70 108.50h1.50v1.50h-1.50zM485.70 110.00h1.50v1.50h-1.50zM485.70 111.50h1.50v1.50h-1.50zM485.70 113.00h1.50v1.50h-1.50zM485.70 114.50h1.50v1.50h-1.50zM485.70 116.00h1.50v1.50h-1.50zM485.70 117.50h1.50v1.50h-1.50zM485.70 119.00h1.50v1.50h-1.50zM485.70 120.50h1.50v1.50h-1.50zM487.20 104.00h1.50v1.50h-1.50zM487.20 105.50h1.50v1.50h-1.50zM487.20 107.00h1.50v1.50h-1.50zM487.20 108.50h1.50v1.50h-1.50zM487.20 110.00h1.50v1.50h-1.50zM487.20 111.50h1.50v1.50h-1.50zM487.20 113.00h1.50v1.50h-1.50zM487.20 114.50h1.50v1.50h-1.50zM487.20 116.00h1.50v1.50h-1.50zM487.20 117.50h1.50v1.50h-1.50zM487.20 119.00h1.50v1.50h-1.50zM487.20 120.50h1.50v1.50h-1.50zM488.70 104.00h1.50v1.50h-1.50zM488.70 105.50h1.50v1.50h-1.50zM488.70 107.00h1.50v1.50h-1.50zM488.70 108.50h1.50v1.50h-1.50zM488.70 110.00h1.50v1.50h-1.50zM488.70 111.50h1.50v1.50h-1.50zM488.70 113.00h1.50v1.50h-1.50zM488.70 114.50h1.50v1.50h-1.50zM488.70 116.00h1.50v1.50h-1.50zM488.70 117.50h1.50v1.50h-1.50zM488.70 119.00h1.50v1.50h-1.50zM488.70 120.50h1.50v1.50h-1.50zM490.20 104.00h1.50v1.50h-1.50zM490.20 105.50h1.50v1.50h-1.50zM490.20 107.00h1.50v1.50h-1.50zM490.20 108.50h1.50v1.50h-1.50zM490.20 110.00h1.50v1.50h-1.50zM490.20 111.50h1.50v1.50h-1.50zM490.20 113.00h1.50v1.50h-1.50zM490.20 114.50h1.50v1.50h-1.50zM490.20 116.00h1.50v1.50h-1.50zM490.20 117.50h1.50v1.50h-1.50zM490.20 119.00h1.50v1.50h-1.50zM490.20 120.50h1.50v1.50h-1.50zM491.70 104.00h1.50v1.50h-1.50zM491.70 105.50h1.50v1.50h-1.50zM491.70 107.00h1.50v1.50h-1.50zM491.70 108.50h1.50v1.50h-1.50zM491.70 110.00h1.50v1.50h-1.50zM491.70 111.50h1.50v1.50h-1.50zM491.70 113.00h1.50v1.50h-1.50zM491.70 114.50h1.50v1.50h-1.50zM491.70 116.00h1.50v1.50h-1.50zM491.70 117.50h1.50v1.50h-1.50zM491.70 119.00h1.50v1.50h-1.50zM493.20 104.00h1.50v1.50h-1.50zM493.20 105.50h1.50v1.50h-1.50zM493.20 107.00h1.50v1.50h-1.50zM493.20 108.50h1.50v1.50h-1.50zM493.20 110.00h1.50v1.50h-1.50zM493.20 111.50h1.50v1.50h-1.50zM493.20 113.00h1.50v1.50h-1.50zM493.20 114.50h1.50v1.50h-1.50zM493.20 116.00h1.50v1.50h-1.50zM493.20 117.50h1.50v1.50h-1.50zM494.70 105.50h1.50v1.50h-1.50zM494.70 107.00h1.50v1.50h-1.50zM494.70 108.50h1.50v1.50h-1.50zM494.70 110.00h1.50v1.50h-1.50zM494.70 111.50h1.50v1.50h-1.50zM494.70 113.00h1.50v1.50h-1.50zM494.70 114.50h1.50v1.50h-1.50zM494.70 116.00h1.50v1.50h-1.50zM496.20 107.00h1.50v1.50h-1.50zM496.20 108.50h1.50v1.50h-1.50zM496.20 110.00h1.50v1.50h-1.50zM496.20 111.50h1.50v1.50h-1.50zM496.20 113.00h1.50v1.50h-1.50zM496.20 114.50h1.50v1.50h-1.50zM496.20 116.00h1.50v1.50h-1.50zM497.70 110.00h1.50v1.50h-1.50zM497.70 111.50h1.50v1.50h-1.50zM497.70 113.00h1.50v1.50h-1.50zM497.70 114.50h1.50v1.50h-1.50zM497.70 116.00h1.50v1.50h-1.50zM499.20 111.50h1.50v1.50h-1.50zM499.20 113.00h1.50v1.50h-1.50zM499.20 114.50h1.50v1.50h-1.50z"/>
<path fill="#80e0f8" d="M484.20 144.50h1.50v1.50h-1.50zM485.70 134.00h1.50v1.50h-1.50zM485.70 135.50h1.50v1.50h-1.50zM485.70 137.00h1.50v1.50h-1.50zM485.70 141.50h1.50v1.50h-1.50zM485.70 143.00h1.50v1.50h-1.50zM485.70 144.50h1.50v1.50h-1.50zM485.70 146.00h1.50v1.50h-1.50zM487.20 132.50h1.50v1.50h-1.50zM487.20 134.00h1.50v1.50h-1.50zM487.20 135.50h1.50v1.50h-1.50zM487.20 137.00h1.50v1.50h-1.50zM487.20 138.50h1.50v1.50h-1.50zM487.20 140.00h1.50v1.50h-1.50zM487.20 141.50h1.50v1.50h-1.50zM487.20 143.00h1.50v1.50h-1.50zM487.20 144.50h1.50v1.50h-1.50zM487.20 146.00h1.50v1.50h-1.50zM487.20 147.50h1.50v1.50h-1.50zM488.70 132.50h1.50v1.50h-1.50zM488.70 134.00h1.50v1.50h-1.50zM488.70 135.50h1.50v1.50h-1.50zM488.70 137.00h1.50v1.50h-1.50zM488.70 138.50h1.50v1.50h-1.50zM488.70 140.00h1.50v1.50h-1.50zM488.70 141.50h1.50v1.50h-1.50zM488.70 143.00h1.50v1.50h-1.50zM488.70 144.50h1.50v1.50h-1.50zM488.70 146.00h1.50v1.50h-1.50zM488.70 147.50h1.50v1.50h-1.50zM488.70 149.00h1.50v1.50h-1.50zM490.20 132.50h1.50v1.50h-1.50zM490.20 134.00h1.50v1.50h-1.50zM490.20 135.50h1.50v1.50h-1.50zM490.20 137.00h1.50v1.50h-1.50zM490.20 138.50h1.50v1.50h-1.50zM490.20 140.00h1.50v1.50h-1.50zM490.20 141.50h1.50v1.50h-1.50zM490.20 143.00h1.50v1.50h-1.50zM490.20 146.00h1.50v1.50h-1.50zM490.20 147.50h1.50v1.50h-1.50zM490.20 149.00h1.50v1.50h-1.50zM491.70 134.00h1.50v1.50h-1.50zM491.70 135.50h1.50v1.50h-1.50zM491.70 137.00h1.50v1.50h-1.50zM491.70 138.50h1.50v1.50h-1.50zM491.70 140.00h1.50v1.50h-1.50zM491.70 141.50h1.50v1.50h-1.50zM491.70 143.00h1.50v1.50h-1.50zM491.70 144.50h1.50v1.50h-1.50zM491.70 146.00h1.50v1.50h-1.50zM491.70 147.50h1.50v1.50h-1.50zM491.70 149.00h1.50v1.50h-1.50zM493.20 140.00h1.50v1.50h-1.50zM493.20 141.50h1.50v1.50h-1.50zM493.20 143.00h1.50v1.50h-1.50zM493.20 144.50h1.50v1.50h-1.50zM493.20 146.00h1.50v1.50h-1.50zM493.20 147.50h1.50v1.50h-1.50zM494.70 141.50h1.50v1.50h-1.50zM494.70 143.00h1.50v1.50h-1.50zM494.70 144.50h1.50v1.50h-1.50zM494.70 146.00h1.50v1.50h-1.50zM496.20 141.50h1.50v1.50h-1.50zM496.20 143.00h1.50v1.50h-1.50zM496.20 144.50h1.50v1.50h-1.50zM496.20 146.00h1.50v1.50h-1.50zM497.70 143.00h1.50v1.50h-1.50zM497.70 144.50h1.50v1.50h-1.50z"/>
<path fill="#68b0f8" d="M506.70 135.50h1.50v1.50h-1.50zM506.70 137.00h1.50v1.50h-1.50zM506.70 138.50h1.50v1.50h-1.50zM506.70 140.00h1.50v1.50h-1.50zM508.20 131.00h1.50v1.50h-1.50zM508.20 132.50h1.50v1.50h-1.50zM508.20 134.00h1.50v1.50h-1.50zM508.20 135.50h1.50v1.50h-1.50zM508.20 137.00h1.50v1.50h-1.50zM508.20 138.50h1.50v1.50h-1.50zM508.20 140.00h1.50v1.50h-1.50zM508.20 141.50h1.50v1.50h-1.50zM508.20 143.00h1.50v1.50h-1.50zM509.70 129.50h1.50v1.50h-1.50zM509.70 131.00h1.50v1.50h-1.50zM509.70 132.50h1.50v1.50h-1.50zM509.70 134.00h1.50v1.50h-1.50zM509.70 135.50h1.50v1.50h-1.50zM509.70 137.00h1.50v1.50h-1.50zM509.70 138.50h1.50v1.50h-1.50zM509.70 140.00h1.50v1.50h-1.50zM509.70 141.50h1.50v1.50h-1.50zM509.70 143.00h1.50v1.50h-1.50zM509.70 144.50h1.50v1.50h-1.50zM511.20 128.00h1.50v1.50h-1.50zM511.20 129.50h1.50v1.50h-1.50zM511.20 131.00h1.50v1.50h-1.50zM511.20 132.50h1.50v1.50h-1.50zM511.20 134.00h1.50v1.50h-1.50zM511.20 135.50h1.50v1.50h-1.50zM511.20 137.00h1.50v1.50h-1.50zM511.20 138.50h1.50v1.50h-1.50zM511.20 140.00h1.50v1.50h-1.50zM511.20 141.50h1.50v1.50h-1.50zM511.20 143.00h1.50v1.50h-1.50zM511.20 144.50h1.50v1.50h-1.50zM512.70 128.00h1.50v1.50h-1.50zM512.70 129.50h1.50v1.50h-1.50zM512.70 131.00h1.50v1.50h-1.50zM512.70 132.50h1.50v1.50h-1.50zM512.70 134.00h1.50v1.50h-1.50zM512.70 135.50h1.50v1.50h-1.50zM512.70 137.00h1.50v1.50h-1.50zM512.70 138.50h1.50v1.50h-1.50zM512.70 140.00h1.50v1.50h-1.50zM512.70 141.50h1.50v1.50h-1.50zM512.70 143.00h1.50v1.50h-1.50zM512.70 144.50h1.50v1.50h-1.50zM514.20 128.00h1.50v1.50h-1.50zM514.20 129.50h1.50v1.50h-1.50zM514.20 131.00h1.50v1.50h-1.50zM514.20 132.50h1.50v1.50h-1.50zM514.20 134.00h1.50v1.50h-1.50zM514.20 135.50h1.50v1.50h-1.50zM514.20 137.00h1.50v1.50h-1.50zM514.20 138.50h1.50v1.50h-1.50zM514.20 140.00h1.50v1.50h-1.50zM514.20 141.50h1.50v1.50h-1.50zM514.20 143.00h1.50v1.50h-1.50zM514.20 144.50h1.50v1.50h-1.50zM514.20 146.00h1.50v1.50h-1.50zM515.70 129.50h1.50v1.50h-1.50zM515.70 131.00h1.50v1.50h-1.50zM515.70 132.50h1.50v1.50h-1.50zM515.70 134.00h1.50v1.50h-1.50zM515.70 135.50h1.50v1.50h-1.50zM515.70 137.00h1.50v1.50h-1.50zM515.70 138.50h1.50v1.50h-1.50zM515.70 140.00h1.50v1.50h-1.50zM515.70 141.50h1.50v1.50h-1.50zM515.70 143.00h1.50v1.50h-1.50zM515.70 144.50h1.50v1.50h-1.50zM515.70 146.00h1.50v1.50h-1.50zM517.20 131.00h1.50v1.50h-1.50zM517.20 132.50h1.50v1.50h-1.50zM517.20 134.00h1.50v1.50h-1.50zM517.20 135.50h1.50v1.50h-1.50zM517.20 137.00h1.50v1.50h-1.50zM517.20 138.50h1.50v1.50h-1.50zM517.20 140.00h1.50v1.50h-1.50zM517.20 141.50h1.50v1.50h-1.50zM517.20 143.00h1.50v1.50h-1.50zM517.20 144.50h1.50v1.50h-1.50zM517.20 146.00h1.50v1.50h-1.50zM517.20 147.50h1.50v1.50h-1.50zM518.70 132.50h1.50v1.50h-1.50zM518.70 134.00h1.50v1.50h-1.50zM518.70 135.50h1.50v1.50h-1.50zM518.70 137.00h1.50v1.50h-1.50zM518.70 138.50h1.50v1.50h-1.50zM518.70 140.00h1.50v1.50h-1.50zM518.70 141.50h1.50v1.50h-1.50zM518.70 143.00h1.50v1.50h-1.50zM518.70 144.50h1.50v1.50h-1.50zM518.70 146.00h1.50v1.50h-1.50zM518.70 147.50h1.50v1.50h-1.50zM518.70 149.00h1.50v1.50h-1.50zM520.20 144.50h1.50v1.50h-1.50zM520.20 146.00h1.50v1.50h-1.50zM520.20 147.50h1.50v1.50h-1.50zM520.20 149.00h1.50v1.50h-1.50zM521.70 146.00h1.50v1.50h-1.50zM521.70 147.50h1.50v1.50h-1.50zM521.70 149.00h1.50v1.50h-1.50z"/>
<path fill="#80f0b0" d="M437.70 138.50h1.50v1.50h-1.50zM437.70 140.00h1.50v1.50h-1.50zM437.70 141.50h1.50v1.50h-1.50zM437.70 143.00h1.50v1.50h-1.50zM439.20 137.00h1.50v1.50h-1.50zM439.20 138.50h1.50v1.50h-1.50zM439.20 140.00h1.50v1.50h-1.50zM439.20 141.50h1.50v1.50h-1.50zM439.20 143.00h1.50v1.50h-1.50zM439.20 144.50h1.50v1.50h-1.50zM440.70 137.00h1.50v1.50h-1.50zM440.70 138.50h1.50v1.50h-1.50zM440.70 140.00h1.50v1.50h-1.50zM440.70 141.50h1.50v1.50h-1.50zM440.70 143.00h1.50v1.50h-1.50zM440.70 144.50h1.50v1.50h-1.50zM440.70 146.00h1.50v1.50h-1.50zM442.20 135.50h1.50v1.50h-1.50zM442.20 137.00h1.50v1.50h-1.50zM442.20 138.50h1.50v1.50h-1.50zM442.20 140.00h1.50v1.50h-1.50zM442.20 141.50h1.50v1.50h-1.50zM442.20 143.00h1.50v1.50h-1.50zM442.20 144.50h1.50v1.50h-1.50zM442.20 146.00h1.50v1.50h-1.50zM442.20 147.50h1.50v1.50h-1.50zM443.70 134.00h1.50v1.50h-1.50zM443.70 135.50h1.50v1.50h-1.50zM443.70 137.00h1.50v1.50h-1.50zM443.70 138.50h1.50v1.50h-1.50zM443.70 140.00h1.50v1.50h-1.50zM443.70 141.50h1.50v1.50h-1.50zM443.70 143.00h1.50v1.50h-1.50zM443.70 144.50h1.50v1.50h-1.50zM443.70 146.00h1.50v1.50h-1.50zM443.70 147.50h1.50v1.50h-1.50zM445.20 134.00h1.50v1.50h-1.50zM445.20 135.50h1.50v1.50h-1.50zM445.20 137.00h1.50v1.50h-1.50zM445.20 138.50h1.50v1.50h-1.50zM445.20 140.00h1.50v1.50h-1.50zM445.20 141.50h1.50v1.50h-1.50zM445.20 143.00h1.50v1.50h-1.50zM445.20 144.50h1.50v1.50h-1.50zM445.20 146.00h1.50v1.50h-1.50zM445.20 147.50h1.50v1.50h-1.50zM445.20 149.00h1.50v1.50h-1.50zM446.70 134.00h1.50v1.50h-1.50zM446.70 135.50h1.50v1.50h-1.50zM446.70 137.00h1.50v1.50h-1.50zM446.70 138.50h1.50v1.50h-1.50zM446.70 140.00h1.50v1.50h-1.50zM446.70 141.50h1.50v1.50h-1.50zM446.70 143.00h1.50v1.50h-1.50zM446.70 144.50h1.50v1.50h-1.50zM446.70 146.00h1.50v1.50h-1.50zM446.70 147.50h1.50v1.50h-1.50zM446.70 149.00h1.50v1.50h-1.50zM448.20 135.50h1.50v1.50h-1.50zM448.20 137.00h1.50v1.50h-1.50zM448.20 138.50h1.50v1.50h-1.50zM448.20 140.00h1.50v1.50h-1.50zM448.20 141.50h1.50v1.50h-1.50zM448.20 143.00h1.50v1.50h-1.50zM448.20 144.50h1.50v1.50h-1.50zM448.20 146.00h1.50v1.50h-1.50zM448.20 147.50h1.50v1.50h-1.50zM448.20 149.00h1.50v1.50h-1.50zM448.20 150.50h1.50v1.50h-1.50zM449.70 137.00h1.50v1.50h-1.50zM449.70 138.50h1.50v1.50h-1.50zM449.70 140.00h1.50v1.50h-1.50zM449.70 141.50h1.50v1.50h-1.50zM449.70 143.00h1.50v1.50h-1.50zM449.70 144.50h1.50v1.50h-1.50zM449.70 146.00h1.50v1.50h-1.50zM449.70 147.50h1.50v1.50h-1.50zM449.70 149.00h1.50v1.50h-1.50zM449.70 150.50h1.50v1.50h-1.50zM451.20 138.50h1.50v1.50h-1.50zM451.20 140.00h1.50v1.50h-1.50zM451.20 141.50h1.50v1.50h-1.50zM451.20 143.00h1.50v1.50h-1.50zM451.20 144.50h1.50v1.50h-1.50zM451.20 146.00h1.50v1.50h-1.50zM451.20 147.50h1.50v1.50h-1.50zM451.20 149.00h1.50v1.50h-1.50zM452.70 141.50h1.50v1.50h-1.50zM452.70 143.00h1.50v1.50h-1.50zM452.70 144.50h1.50v1.50h-1.50zM452.70 146.00h1.50v1.50h-1.50zM452.70 147.50h1.50v1.50h-1.50z"/>
<path fill="#80f0e0" d="M458.70 140.00h1.50v1.50h-1.50zM458.70 141.50h1.50v1.50h-1.50zM458.70 143.00h1.50v1.50h-1.50zM460.20 138.50h1.50v1.50h-1.50zM460.20 140.00h1.50v1.50h-1.50zM460.20 141.50h1.50v1.50h-1.50zM460.20 143.00h1.50v1.50h-1.50zM460.20 144.50h1.50v1.50h-1.50zM460.20 146.00h1.50v1.50h-1.50zM461.70 138.50h1.50v1.50h-1.50zM461.70 140.00h1.50v1.50h-1.50zM461.70 141.50h1.50v1.50h-1.50zM461.70 143.00h1.50v1.50h-1.50zM461.70 144.50h1.50v1.50h-1.50zM461.70 146.00h1.50v1.50h-1.50zM461.70 147.50h1.50v1.50h-1.50zM463.20 137.00h1.50v1.50h-1.50zM463.20 138.50h1.50v1.50h-1.50zM463.20 140.00h1.50v1.50h-1.50zM463.20 141.50h1.50v1.50h-1.50zM463.20 143.00h1.50v1.50h-1.50zM463.20 144.50h1.50v1.50h-1.50zM463.20 146.00h1.50v1.50h-1.50zM463.20 147.50h1.50v1.50h-1.50zM464.70 135.50h1.50v1.50h-1.50zM464.70 137.00h1.50v1.50h-1.50zM464.70 138.50h1.50v1.50h-1.50zM464.70 140.00h1.50v1.50h-1.50zM464.70 141.50h1.50v1.50h-1.50zM464.70 143.00h1.50v1.50h-1.50zM464.70 144.50h1.50v1.50h-1.50zM464.70 146.00h1.50v1.50h-1.50zM464.70 147.50h1.50v1.50h-1.50zM464.70 149.00h1.50v1.50h-1.50zM466.20 135.50h1.50v1.50h-1.50zM466.20 137.00h1.50v1.50h-1.50zM466.20 138.50h1.50v1.50h-1.50zM466.20 140.00h1.50v1.50h-1.50zM466.20 141.50h1.50v1.50h-1.50zM466.20 143.00h1.50v1.50h-1.50zM466.20 144.50h1.50v1.50h-1.50zM466.20 146.00h1.50v1.50h-1.50zM466.20 147.50h1.50v1.50h-1.50zM466.20 149.00h1.50v1.50h-1.50zM467.70 137.00h1.50v1.50h-1.50zM467.70 138.50h1.50v1.50h-1.50zM467.70 140.00h1.50v1.50h-1.50zM467.70 141.50h1.50v1.50h-1.50zM467.70 143.00h1.50v1.50h-1.50zM467.70 144.50h1.50v1.50h-1.50zM467.70 146.00h1.50v1.50h-1.50zM467.70 147.50h1.50v1.50h-1.50zM467.70 149.00h1.50v1.50h-1.50zM469.20 138.50h1.50v1.50h-1.50zM469.20 140.00h1.50v1.50h-1.50zM469.20 141.50h1.50v1.50h-1.50zM469.20 143.00h1.50v1.50h-1.50zM469.20 144.50h1.50v1.50h-1.50zM469.20 146.00h1.50v1.50h-1.50zM469.20 147.50h1.50v1.50h-1.50zM469.20 149.00h1.50v1.50h-1.50zM469.20 150.50h1.50v1.50h-1.50zM470.70 138.50h1.50v1.50h-1.50zM470.70 140.00h1.50v1.50h-1.50zM470.70 141.50h1.50v1.50h-1.50zM470.70 143.00h1.50v1.50h-1.50zM470.70 144.50h1.50v1.50h-1.50zM470.70 146.00h1.50v1.50h-1.50zM470.70 147.50h1.50v1.50h-1.50zM470.70 149.00h1.50v1.50h-1.50zM470.70 150.50h1.50v1.50h-1.50zM472.20 135.50h1.50v1.50h-1.50zM472.20 137.00h1.50v1.50h-1.50zM472.20 138.50h1.50v1.50h-1.50zM472.20 140.00h1.50v1.50h-1.50zM472.20 141.50h1.50v1.50h-1.50zM472.20 143.00h1.50v1.50h-1.50zM472.20 144.50h1.50v1.50h-1.50zM472.20 146.00h1.50v1.50h-1.50zM472.20 147.50h1.50v1.50h-1.50zM472.20 149.00h1.50v1.50h-1.50zM472.20 150.50h1.50v1.50h-1.50zM473.70 134.00h1.50v1.50h-1.50zM473.70 135.50h1.50v1.50h-1.50zM473.70 137.00h1.50v1.50h-1.50zM473.70 138.50h1.50v1.50h-1.50zM473.70 140.00h1.50v1.50h-1.50zM473.70 141.50h1.50v1.50h-1.50zM473.70 143.00h1.50v1.50h-1.50zM473.70 144.50h1.50v1.50h-1.50zM473.70 146.00h1.50v1.50h-1.50zM473.70 147.50h1.50v1.50h-1.50zM473.70 149.00h1.50v1.50h-1.50zM475.20 134.00h1.50v1.50h-1.50zM475.20 135.50h1.50v1.50h-1.50zM475.20 137.00h1.50v1.50h-1.50zM475.20 138.50h1.50v1.50h-1.50zM475.20 140.00h1.50v1.50h-1.50zM475.20 141.50h1.50v1.50h-1.50zM475.20 143.00h1.50v1.50h-1.50zM475.20 144.50h1.50v1.50h-1.50zM475.20 146.00h1.50v1.50h-1.50zM475.20 147.50h1.50v1.50h-1.50zM475.20 149.00h1.50v1.50h-1.50zM476.70 134.00h1.50v1.50h-1.50zM476.70 135.50h1.50v1.50h-1.50zM476.70 137.00h1.50v1.50h-1.50zM476.70 138.50h1.50v1.50h-1.50zM476.70 140.00h1.50v1.50h-1.50zM476.70 141.50h1.50v1.50h-1.50zM476.70 143.00h1.50v1.50h-1.50zM476.70 144.50h1.50v1.50h-1.50zM476.70 146.00h1.50v1.50h-1.50zM476.70 147.50h1.50v1.50h-1.50zM476.70 149.00h1.50v1.50h-1.50zM478.20 134.00h1.50v1.50h-1.50zM478.20 135.50h1.50v1.50h-1.50zM478.20 137.00h1.50v1.50h-1.50zM478.20 138.50h1.50v1.50h-1.50zM478.20 140.00h1.50v1.50h-1.50zM478.20 141.50h1.50v1.50h-1.50zM478.20 143.00h1.50v1.50h-1.50zM478.20 144.50h1.50v1.50h-1.50zM478.20 146.00h1.50v1.50h-1.50zM478.20 147.50h1.50v1.50h-1.50zM479.70 140.00h1.50v1.50h-1.50zM479.70 141.50h1.50v1.50h-1.50zM479.70 143.00h1.50v1.50h-1.50zM479.70 144.50h1.50v1.50h-1.50z"/>
<path fill="#4068f0" d="M443.70 161.00h1.50v1.50h-1.50zM443.70 162.50h1.50v1.50h-1.50zM443.70 164.00h1.50v1.50h-1.50zM443.70 165.50h1.50v1.50h-1.50zM445.20 159.50h1.50v1.50h-1.50zM445.20 161.00h1.50v1.50h-1.50zM445.20 162.50h1.50v1.50h-1.50zM445.20 164.00h1.50v1.50h-1.50zM445.20 165.50h1.50v1.50h-1.50zM445.20 167.00h1.50v1.50h-1.50zM446.70 159.50h1.50v1.50h-1.50zM446.70 161.00h1.50v1.50h-1.50zM446.70 162.50h1.50v1.50h-1.50zM446.70 164.00h1.50v1.50h-1.50zM446.70 165.50h1.50v1.50h-1.50zM446.70 167.00h1.50v1.50h-1.50zM446.70 168.50h1.50v1.50h-1.50zM446.70 170.00h1.50v1.50h-1.50zM448.20 161.00h1.50v1.50h-1.50zM448.20 162.50h1.50v1.50h-1.50zM448.20 164.00h1.50v1.50h-1.50zM448.20 165.50h1.50v1.50h-1.50zM448.20 167.00h1.50v1.50h-1.50zM448.20 168.50h1.50v1.50h-1.50zM448.20 170.00h1.50v1.50h-1.50zM449.70 161.00h1.50v1.50h-1.50zM449.70 162.50h1.50v1.50h-1.50zM449.70 164.00h1.50v1.50h-1.50zM449.70 165.50h1.50v1.50h-1.50zM449.70 167.00h1.50v1.50h-1.50zM449.70 168.50h1.50v1.50h-1.50zM449.70 170.00h1.50v1.50h-1.50zM451.20 161.00h1.50v1.50h-1.50zM451.20 162.50h1.50v1.50h-1.50zM451.20 164.00h1.50v1.50h-1.50zM451.20 165.50h1.50v1.50h-1.50zM451.20 167.00h1.50v1.50h-1.50zM451.20 168.50h1.50v1.50h-1.50zM451.20 170.00h1.50v1.50h-1.50zM452.70 161.00h1.50v1.50h-1.50zM452.70 162.50h1.50v1.50h-1.50zM452.70 164.00h1.50v1.50h-1.50zM452.70 165.50h1.50v1.50h-1.50zM452.70 167.00h1.50v1.50h-1.50zM452.70 168.50h1.50v1.50h-1.50zM454.20 161.00h1.50v1.50h-1.50zM454.20 162.50h1.50v1.50h-1.50zM454.20 164.00h1.50v1.50h-1.50zM454.20 165.50h1.50v1.50h-1.50z"/>
<path fill="#2a3cf0" d="M458.70 168.50h1.50v1.50h-1.50zM458.70 170.00h1.50v1.50h-1.50zM458.70 171.50h1.50v1.50h-1.50zM460.20 168.50h1.50v1.50h-1.50zM460.20 170.00h1.50v1.50h-1.50zM460.20 171.50h1.50v1.50h-1.50zM460.20 173.00h1.50v1.50h-1.50zM460.20 174.50h1.50v1.50h-1.50zM461.70 168.50h1.50v1.50h-1.50zM461.70 170.00h1.50v1.50h-1.50zM461.70 171.50h1.50v1.50h-1.50zM461.70 173.00h1.50v1.50h-1.50zM461.70 174.50h1.50v1.50h-1.50zM461.70 176.00h1.50v1.50h-1.50zM463.20 168.50h1.50v1.50h-1.50zM463.20 170.00h1.50v1.50h-1.50zM463.20 171.50h1.50v1.50h-1.50zM463.20 173.00h1.50v1.50h-1.50zM463.20 174.50h1.50v1.50h-1.50zM463.20 176.00h1.50v1.50h-1.50zM463.20 177.50h1.50v1.50h-1.50zM464.70 168.50h1.50v1.50h-1.50zM464.70 170.00h1.50v1.50h-1.50zM464.70 171.50h1.50v1.50h-1.50zM464.70 173.00h1.50v1.50h-1.50zM464.70 174.50h1.50v1.50h-1.50zM464.70 176.00h1.50v1.50h-1.50zM464.70 177.50h1.50v1.50h-1.50zM464.70 179.00h1.50v1.50h-1.50zM466.20 168.50h1.50v1.50h-1.50zM466.20 170.00h1.50v1.50h-1.50zM466.20 171.50h1.50v1.50h-1.50zM466.20 173.00h1.50v1.50h-1.50zM466.20 174.50h1.50v1.50h-1.50zM466.20 176.00h1.50v1.50h-1.50zM466.20 177.50h1.50v1.50h-1.50zM466.20 179.00h1.50v1.50h-1.50zM467.70 168.50h1.50v1.50h-1.50zM467.70 170.00h1.50v1.50h-1.50zM467.70 171.50h1.50v1.50h-1.50zM467.70 173.00h1.50v1.50h-1.50zM467.70 174.50h1.50v1.50h-1.50zM467.70 176.00h1.50v1.50h-1.50zM467.70 177.50h1.50v1.50h-1.50zM469.20 168.50h1.50v1.50h-1.50zM469.20 170.00h1.50v1.50h-1.50zM469.20 171.50h1.50v1.50h-1.50zM469.20 173.00h1.50v1.50h-1.50zM469.20 174.50h1.50v1.50h-1.50zM469.20 176.00h1.50v1.50h-1.50zM469.20 177.50h1.50v1.50h-1.50zM470.70 168.50h1.50v1.50h-1.50zM470.70 170.00h1.50v1.50h-1.50zM470.70 171.50h1.50v1.50h-1.50zM470.70 173.00h1.50v1.50h-1.50zM470.70 174.50h1.50v1.50h-1.50zM470.70 176.00h1.50v1.50h-1.50zM472.20 168.50h1.50v1.50h-1.50zM472.20 170.00h1.50v1.50h-1.50zM472.20 171.50h1.50v1.50h-1.50zM472.20 173.00h1.50v1.50h-1.50zM472.20 174.50h1.50v1.50h-1.50zM473.70 170.00h1.50v1.50h-1.50zM473.70 171.50h1.50v1.50h-1.50zM473.70 173.00h1.50v1.50h-1.50zM473.70 174.50h1.50v1.50h-1.50zM475.20 170.00h1.50v1.50h-1.50zM475.20 171.50h1.50v1.50h-1.50zM475.20 173.00h1.50v1.50h-1.50z"/>
<path fill="#4a88f0" d="M530.70 144.50h1.50v1.50h-1.50zM530.70 146.00h1.50v1.50h-1.50zM532.20 141.50h1.50v1.50h-1.50zM532.20 143.00h1.50v1.50h-1.50zM532.20 144.50h1.50v1.50h-1.50zM532.20 146.00h1.50v1.50h-1.50zM532.20 147.50h1.50v1.50h-1.50zM532.20 149.00h1.50v1.50h-1.50zM532.20 150.50h1.50v1.50h-1.50zM533.70 140.00h1.50v1.50h-1.50zM533.70 141.50h1.50v1.50h-1.50zM533.70 143.00h1.50v1.50h-1.50zM533.70 144.50h1.50v1.50h-1.50zM533.70 146.00h1.50v1.50h-1.50zM533.70 147.50h1.50v1.50h-1.50zM533.70 149.00h1.50v1.50h-1.50zM533.70 150.50h1.50v1.50h-1.50zM535.20 138.50h1.50v1.50h-1.50zM535.20 140.00h1.50v1.50h-1.50zM535.20 141.50h1.50v1.50h-1.50zM535.20 143.00h1.50v1.50h-1.50zM535.20 144.50h1.50v1.50h-1.50zM535.20 146.00h1.50v1.50h-1.50zM535.20 147.50h1.50v1.50h-1.50zM535.20 149.00h1.50v1.50h-1.50zM535.20 150.50h1.50v1.50h-1.50zM536.70 138.50h1.50v1.50h-1.50zM536.70 140.00h1.50v1.50h-1.50zM536.70 141.50h1.50v1.50h-1.50zM536.70 143.00h1.50v1.50h-1.50zM536.70 144.50h1.50v1.50h-1.50zM536.70 146.00h1.50v1.50h-1.50zM536.70 147.50h1.50v1.50h-1.50zM536.70 149.00h1.50v1.50h-1.50zM538.20 137.00h1.50v1.50h-1.50zM538.20 138.50h1.50v1.50h-1.50zM538.20 140.00h1.50v1.50h-1.50zM538.20 141.50h1.50v1.50h-1.50zM538.20 143.00h1.50v1.50h-1.50zM538.20 144.50h1.50v1.50h-1.50zM538.20 146.00h1.50v1.50h-1.50zM538.20 147.50h1.50v1.50h-1.50zM539.70 138.50h1.50v1.50h-1.50zM539.70 140.00h1.50v1.50h-1.50zM539.70 141.50h1.50v1.50h-1.50zM539.70 143.00h1.50v1.50h-1.50z"/>
<path fill="#5808e8" d="M530.70 162.50h1.50v1.50h-1.50zM530.70 164.00h1.50v1.50h-1.50zM530.70 165.50h1.50v1.50h-1.50zM530.70 167.00h1.50v1.50h-1.50zM532.20 161.00h1.50v1.50h-1.50zM532.20 162.50h1.50v1.50h-1.50zM532.20 164.00h1.50v1.50h-1.50zM532.20 165.50h1.50v1.50h-1.50zM532.20 167.00h1.50v1.50h-1.50zM532.20 168.50h1.50v1.50h-1.50zM533.70 161.00h1.50v1.50h-1.50zM533.70 162.50h1.50v1.50h-1.50zM533.70 164.00h1.50v1.50h-1.50zM533.70 165.50h1.50v1.50h-1.50zM533.70 167.00h1.50v1.50h-1.50zM533.70 168.50h1.50v1.50h-1.50zM535.20 159.50h1.50v1.50h-1.50zM535.20 161.00h1.50v1.50h-1.50zM535.20 162.50h1.50v1.50h-1.50zM535.20 164.00h1.50v1.50h-1.50zM535.20 165.50h1.50v1.50h-1.50zM535.20 167.00h1.50v1.50h-1.50zM535.20 168.50h1.50v1.50h-1.50zM536.70 161.00h1.50v1.50h-1.50zM536.70 162.50h1.50v1.50h-1.50zM536.70 164.00h1.50v1.50h-1.50zM536.70 165.50h1.50v1.50h-1.50zM536.70 167.00h1.50v1.50h-1.50zM536.70 168.50h1.50v1.50h-1.50zM538.20 161.00h1.50v1.50h-1.50zM538.20 162.50h1.50v1.50h-1.50zM538.20 164.00h1.50v1.50h-1.50zM538.20 165.50h1.50v1.50h-1.50zM538.20 167.00h1.50v1.50h-1.50zM538.20 168.50h1.50v1.50h-1.50zM539.70 161.00h1.50v1.50h-1.50zM539.70 162.50h1.50v1.50h-1.50zM539.70 164.00h1.50v1.50h-1.50zM539.70 165.50h1.50v1.50h-1.50zM539.70 167.00h1.50v1.50h-1.50zM539.70 168.50h1.50v1.50h-1.50zM541.20 161.00h1.50v1.50h-1.50zM541.20 162.50h1.50v1.50h-1.50zM541.20 164.00h1.50v1.50h-1.50zM541.20 165.50h1.50v1.50h-1.50zM541.20 167.00h1.50v1.50h-1.50zM541.20 168.50h1.50v1.50h-1.50zM542.70 161.00h1.50v1.50h-1.50zM542.70 162.50h1.50v1.50h-1.50zM542.70 164.00h1.50v1.50h-1.50zM542.70 165.50h1.50v1.50h-1.50zM542.70 167.00h1.50v1.50h-1.50zM542.70 168.50h1.50v1.50h-1.50zM544.20 161.00h1.50v1.50h-1.50zM544.20 162.50h1.50v1.50h-1.50zM544.20 164.00h1.50v1.50h-1.50zM544.20 165.50h1.50v1.50h-1.50zM544.20 167.00h1.50v1.50h-1.50zM544.20 168.50h1.50v1.50h-1.50zM545.70 162.50h1.50v1.50h-1.50zM545.70 164.00h1.50v1.50h-1.50zM545.70 165.50h1.50v1.50h-1.50z"/>
<path fill="#1c00e6" d="M509.70 170.00h1.50v1.50h-1.50zM509.70 171.50h1.50v1.50h-1.50zM509.70 173.00h1.50v1.50h-1.50zM509.70 174.50h1.50v1.50h-1.50zM509.70 176.00h1.50v1.50h-1.50zM511.20 168.50h1.50v1.50h-1.50zM511.20 170.00h1.50v1.50h-1.50zM511.20 171.50h1.50v1.50h-1.50zM511.20 173.00h1.50v1.50h-1.50zM511.20 174.50h1.50v1.50h-1.50zM511.20 176.00h1.50v1.50h-1.50zM512.70 168.50h1.50v1.50h-1.50zM512.70 170.00h1.50v1.50h-1.50zM512.70 171.50h1.50v1.50h-1.50zM512.70 173.00h1.50v1.50h-1.50zM512.70 174.50h1.50v1.50h-1.50zM512.70 176.00h1.50v1.50h-1.50zM512.70 177.50h1.50v1.50h-1.50zM514.20 168.50h1.50v1.50h-1.50zM514.20 170.00h1.50v1.50h-1.50zM514.20 171.50h1.50v1.50h-1.50zM514.20 173.00h1.50v1.50h-1.50zM514.20 174.50h1.50v1.50h-1.50zM514.20 176.00h1.50v1.50h-1.50zM514.20 177.50h1.50v1.50h-1.50zM514.20 179.00h1.50v1.50h-1.50zM515.70 170.00h1.50v1.50h-1.50zM515.70 171.50h1.50v1.50h-1.50zM515.70 173.00h1.50v1.50h-1.50zM515.70 174.50h1.50v1.50h-1.50zM515.70 176.00h1.50v1.50h-1.50zM515.70 177.50h1.50v1.50h-1.50zM515.70 179.00h1.50v1.50h-1.50zM517.20 171.50h1.50v1.50h-1.50zM517.20 173.00h1.50v1.50h-1.50zM517.20 174.50h1.50v1.50h-1.50zM517.20 176.00h1.50v1.50h-1.50zM517.20 177.50h1.50v1.50h-1.50zM517.20 179.00h1.50v1.50h-1.50zM517.20 180.50h1.50v1.50h-1.50zM518.70 174.50h1.50v1.50h-1.50zM518.70 176.00h1.50v1.50h-1.50zM518.70 177.50h1.50v1.50h-1.50zM518.70 179.00h1.50v1.50h-1.50z"/>
<path fill="#5a14ea" d="M434.70 203.00h1.50v1.50h-1.50zM434.70 204.50h1.50v1.50h-1.50zM434.70 206.00h1.50v1.50h-1.50zM434.70 207.50h1.50v1.50h-1.50zM436.20 201.50h1.50v1.50h-1.50zM436.20 203.00h1.50v1.50h-1.50zM436.20 204.50h1.50v1.50h-1.50zM436.20 206.00h1.50v1.50h-1.50zM436.20 207.50h1.50v1.50h-1.50zM436.20 209.00h1.50v1.50h-1.50zM437.70 200.00h1.50v1.50h-1.50zM437.70 201.50h1.50v1.50h-1.50zM437.70 203.00h1.50v1.50h-1.50zM437.70 204.50h1.50v1.50h-1.50zM437.70 206.00h1.50v1.50h-1.50zM437.70 207.50h1.50v1.50h-1.50zM437.70 209.00h1.50v1.50h-1.50zM439.20 200.00h1.50v1.50h-1.50zM439.20 201.50h1.50v1.50h-1.50zM439.20 203.00h1.50v1.50h-1.50zM439.20 204.50h1.50v1.50h-1.50zM439.20 206.00h1.50v1.50h-1.50zM439.20 207.50h1.50v1.50h-1.50zM439.20 209.00h1.50v1.50h-1.50zM439.20 210.50h1.50v1.50h-1.50zM440.70 200.00h1.50v1.50h-1.50zM440.70 201.50h1.50v1.50h-1.50zM440.70 203.00h1.50v1.50h-1.50zM440.70 204.50h1.50v1.50h-1.50zM440.70 206.00h1.50v1.50h-1.50zM440.70 207.50h1.50v1.50h-1.50zM440.70 209.00h1.50v1.50h-1.50zM440.70 210.50h1.50v1.50h-1.50zM442.20 200.00h1.50v1.50h-1.50zM442.20 201.50h1.50v1.50h-1.50zM442.20 203.00h1.50v1.50h-1.50zM442.20 204.50h1.50v1.50h-1.50zM442.20 206.00h1.50v1.50h-1.50zM442.20 207.50h1.50v1.50h-1.50zM442.20 209.00h1.50v1.50h-1.50zM442.20 210.50h1.50v1.50h-1.50zM443.70 201.50h1.50v1.50h-1.50zM443.70 203.00h1.50v1.50h-1.50zM443.70 204.50h1.50v1.50h-1.50zM443.70 206.00h1.50v1.50h-1.50zM443.70 207.50h1.50v1.50h-1.50zM443.70 209.00h1.50v1.50h-1.50zM445.20 201.50h1.50v1.50h-1.50zM445.20 203.00h1.50v1.50h-1.50zM445.20 204.50h1.50v1.50h-1.50zM445.20 206.00h1.50v1.50h-1.50zM445.20 207.50h1.50v1.50h-1.50z"/>
<path fill="#dc1090" d="M436.20 219.50h1.50v1.50h-1.50zM436.20 221.00h1.50v1.50h-1.50zM436.20 222.50h1.50v1.50h-1.50zM436.20 224.00h1.50v1.50h-1.50zM436.20 225.50h1.50v1.50h-1.50zM436.20 227.00h1.50v1.50h-1.50zM436.20 228.50h1.50v1.50h-1.50zM436.20 230.00h1.50v1.50h-1.50zM436.20 231.50h1.50v1.50h-1.50zM436.20 233.00h1.50v1.50h-1.50zM436.20 234.50h1.50v1.50h-1.50zM436.20 236.00h1.50v1.50h-1.50zM437.70 218.00h1.50v1.50h-1.50zM437.70 219.50h1.50v1.50h-1.50zM437.70 221.00h1.50v1.50h-1.50zM437.70 222.50h1.50v1.50h-1.50zM437.70 224.00h1.50v1.50h-1.50zM437.70 225.50h1.50v1.50h-1.50zM437.70 227.00h1.50v1.50h-1.50zM437.70 228.50h1.50v1.50h-1.50zM437.70 230.00h1.50v1.50h-1.50zM437.70 231.50h1.50v1.50h-1.50zM437.70 233.00h1.50v1.50h-1.50zM437.70 234.50h1.50v1.50h-1.50zM437.70 236.00h1.50v1.50h-1.50zM437.70 237.50h1.50v1.50h-1.50zM439.20 216.50h1.50v1.50h-1.50zM439.20 218.00h1.50v1.50h-1.50zM439.20 219.50h1.50v1.50h-1.50zM439.20 221.00h1.50v1.50h-1.50zM439.20 222.50h1.50v1.50h-1.50zM439.20 224.00h1.50v1.50h-1.50zM439.20 225.50h1.50v1.50h-1.50zM439.20 227.00h1.50v1.50h-1.50zM439.20 228.50h1.50v1.50h-1.50zM439.20 230.00h1.50v1.50h-1.50zM439.20 231.50h1.50v1.50h-1.50zM439.20 233.00h1.50v1.50h-1.50zM439.20 234.50h1.50v1.50h-1.50zM439.20 236.00h1.50v1.50h-1.50zM439.20 237.50h1.50v1.50h-1.50zM439.20 239.00h1.50v1.50h-1.50zM440.70 216.50h1.50v1.50h-1.50zM440.70 218.00h1.50v1.50h-1.50zM440.70 219.50h1.50v1.50h-1.50zM440.70 221.00h1.50v1.50h-1.50zM440.70 222.50h1.50v1.50h-1.50zM440.70 224.00h1.50v1.50h-1.50zM440.70 225.50h1.50v1.50h-1.50zM440.70 227.00h1.50v1.50h-1.50zM440.70 228.50h1.50v1.50h-1.50zM440.70 230.00h1.50v1.50h-1.50zM440.70 231.50h1.50v1.50h-1.50zM440.70 233.00h1.50v1.50h-1.50zM440.70 234.50h1.50v1.50h-1.50zM440.70 236.00h1.50v1.50h-1.50zM440.70 237.50h1.50v1.50h-1.50zM440.70 239.00h1.50v1.50h-1.50zM442.20 216.50h1.50v1.50h-1.50zM442.20 218.00h1.50v1.50h-1.50zM442.20 219.50h1.50v1.50h-1.50zM442.20 221.00h1.50v1.50h-1.50zM442.20 222.50h1.50v1.50h-1.50zM442.20 224.00h1.50v1.50h-1.50zM442.20 225.50h1.50v1.50h-1.50zM442.20 227.00h1.50v1.50h-1.50zM442.20 228.50h1.50v1.50h-1.50zM442.20 230.00h1.50v1.50h-1.50zM442.20 231.50h1.50v1.50h-1.50zM442.20 233.00h1.50v1.50h-1.50zM442.20 234.50h1.50v1.50h-1.50zM442.20 236.00h1.50v1.50h-1.50zM442.20 237.50h1.50v1.50h-1.50zM442.20 239.00h1.50v1.50h-1.50zM443.70 216.50h1.50v1.50h-1.50zM443.70 218.00h1.50v1.50h-1.50zM443.70 219.50h1.50v1.50h-1.50zM443.70 221.00h1.50v1.50h-1.50zM443.70 222.50h1.50v1.50h-1.50zM443.70 224.00h1.50v1.50h-1.50zM443.70 225.50h1.50v1.50h-1.50zM443.70 227.00h1.50v1.50h-1.50zM443.70 228.50h1.50v1.50h-1.50zM443.70 230.00h1.50v1.50h-1.50zM443.70 231.50h1.50v1.50h-1.50zM443.70 233.00h1.50v1.50h-1.50zM443.70 234.50h1.50v1.50h-1.50zM443.70 236.00h1.50v1.50h-1.50zM443.70 237.50h1.50v1.50h-1.50zM443.70 239.00h1.50v1.50h-1.50zM445.20 218.00h1.50v1.50h-1.50zM445.20 219.50h1.50v1.50h-1.50zM445.20 221.00h1.50v1.50h-1.50zM445.20 222.50h1.50v1.50h-1.50zM445.20 224.00h1.50v1.50h-1.50zM445.20 225.50h1.50v1.50h-1.50zM445.20 227.00h1.50v1.50h-1.50zM445.20 228.50h1.50v1.50h-1.50zM445.20 230.00h1.50v1.50h-1.50zM445.20 231.50h1.50v1.50h-1.50zM445.20 233.00h1.50v1.50h-1.50zM445.20 234.50h1.50v1.50h-1.50zM445.20 236.00h1.50v1.50h-1.50zM445.20 237.50h1.50v1.50h-1.50zM445.20 239.00h1.50v1.50h-1.50zM446.70 218.00h1.50v1.50h-1.50zM446.70 219.50h1.50v1.50h-1.50zM446.70 221.00h1.50v1.50h-1.50zM446.70 222.50h1.50v1.50h-1.50zM446.70 224.00h1.50v1.50h-1.50zM446.70 225.50h1.50v1.50h-1.50zM446.70 227.00h1.50v1.50h-1.50zM446.70 228.50h1.50v1.50h-1.50zM446.70 230.00h1.50v1.50h-1.50zM446.70 231.50h1.50v1.50h-1.50zM446.70 233.00h1.50v1.50h-1.50zM446.70 234.50h1.50v1.50h-1.50zM446.70 236.00h1.50v1.50h-1.50zM446.70 237.50h1.50v1.50h-1.50zM448.20 219.50h1.50v1.50h-1.50zM448.20 221.00h1.50v1.50h-1.50zM448.20 222.50h1.50v1.50h-1.50zM448.20 224.00h1.50v1.50h-1.50zM448.20 225.50h1.50v1.50h-1.50zM448.20 227.00h1.50v1.50h-1.50zM448.20 228.50h1.50v1.50h-1.50zM448.20 230.00h1.50v1.50h-1.50zM448.20 231.50h1.50v1.50h-1.50zM448.20 233.00h1.50v1.50h-1.50zM448.20 234.50h1.50v1.50h-1.50zM448.20 236.00h1.50v1.50h-1.50zM449.70 224.00h1.50v1.50h-1.50zM449.70 225.50h1.50v1.50h-1.50zM449.70 227.00h1.50v1.50h-1.50zM449.70 228.50h1.50v1.50h-1.50zM449.70 230.00h1.50v1.50h-1.50zM449.70 231.50h1.50v1.50h-1.50zM449.70 233.00h1.50v1.50h-1.50z"/>
<path fill="#8c10ea" d="M460.20 198.50h1.50v1.50h-1.50zM460.20 200.00h1.50v1.50h-1.50zM460.20 201.50h1.50v1.50h-1.50zM460.20 203.00h1.50v1.50h-1.50zM460.20 204.50h1.50v1.50h-1.50zM460.20 206.00h1.50v1.50h-1.50zM460.20 207.50h1.50v1.50h-1.50zM461.70 197.00h1.50v1.50h-1.50zM461.70 198.50h1.50v1.50h-1.50zM461.70 200.00h1.50v1.50h-1.50zM461.70 201.50h1.50v1.50h-1.50zM461.70 203.00h1.50v1.50h-1.50zM461.70 204.50h1.50v1.50h-1.50zM461.70 206.00h1.50v1.50h-1.50zM461.70 207.50h1.50v1.50h-1.50zM461.70 209.00h1.50v1.50h-1.50zM463.20 197.00h1.50v1.50h-1.50zM463.20 198.50h1.50v1.50h-1.50zM463.20 200.00h1.50v1.50h-1.50zM463.20 201.50h1.50v1.50h-1.50zM463.20 203.00h1.50v1.50h-1.50zM463.20 204.50h1.50v1.50h-1.50zM463.20 206.00h1.50v1.50h-1.50zM463.20 207.50h1.50v1.50h-1.50zM463.20 209.00h1.50v1.50h-1.50zM463.20 210.50h1.50v1.50h-1.50zM464.70 195.50h1.50v1.50h-1.50zM464.70 197.00h1.50v1.50h-1.50zM464.70 198.50h1.50v1.50h-1.50zM464.70 200.00h1.50v1.50h-1.50zM464.70 201.50h1.50v1.50h-1.50zM464.70 203.00h1.50v1.50h-1.50zM464.70 204.50h1.50v1.50h-1.50zM464.70 206.00h1.50v1.50h-1.50zM464.70 207.50h1.50v1.50h-1.50zM464.70 209.00h1.50v1.50h-1.50zM464.70 210.50h1.50v1.50h-1.50zM466.20 195.50h1.50v1.50h-1.50zM466.20 197.00h1.50v1.50h-1.50zM466.20 198.50h1.50v1.50h-1.50zM466.20 200.00h1.50v1.50h-1.50zM466.20 201.50h1.50v1.50h-1.50zM466.20 203.00h1.50v1.50h-1.50zM466.20 204.50h1.50v1.50h-1.50zM466.20 206.00h1.50v1.50h-1.50zM466.20 207.50h1.50v1.50h-1.50zM466.20 209.00h1.50v1.50h-1.50zM467.70 194.00h1.50v1.50h-1.50zM467.70 195.50h1.50v1.50h-1.50zM467.70 197.00h1.50v1.50h-1.50zM467.70 198.50h1.50v1.50h-1.50zM467.70 200.00h1.50v1.50h-1.50zM467.70 201.50h1.50v1.50h-1.50zM467.70 203.00h1.50v1.50h-1.50zM467.70 204.50h1.50v1.50h-1.50zM467.70 206.00h1.50v1.50h-1.50zM467.70 207.50h1.50v1.50h-1.50zM467.70 209.00h1.50v1.50h-1.50zM469.20 192.50h1.50v1.50h-1.50zM469.20 194.00h1.50v1.50h-1.50zM469.20 195.50h1.50v1.50h-1.50zM469.20 197.00h1.50v1.50h-1.50zM469.20 198.50h1.50v1.50h-1.50zM469.20 200.00h1.50v1.50h-1.50zM469.20 201.50h1.50v1.50h-1.50zM469.20 203.00h1.50v1.50h-1.50zM469.20 204.50h1.50v1.50h-1.50zM469.20 206.00h1.50v1.50h-1.50zM469.20 207.50h1.50v1.50h-1.50zM470.70 191.00h1.50v1.50h-1.50zM470.70 192.50h1.50v1.50h-1.50zM470.70 194.00h1.50v1.50h-1.50zM470.70 195.50h1.50v1.50h-1.50zM470.70 197.00h1.50v1.50h-1.50zM470.70 198.50h1.50v1.50h-1.50zM470.70 200.00h1.50v1.50h-1.50zM470.70 201.50h1.50v1.50h-1.50zM470.70 203.00h1.50v1.50h-1.50zM470.70 204.50h1.50v1.50h-1.50zM470.70 206.00h1.50v1.50h-1.50zM472.20 191.00h1.50v1.50h-1.50zM472.20 192.50h1.50v1.50h-1.50zM472.20 194.00h1.50v1.50h-1.50zM472.20 195.50h1.50v1.50h-1.50zM472.20 197.00h1.50v1.50h-1.50zM472.20 198.50h1.50v1.50h-1.50zM472.20 200.00h1.50v1.50h-1.50zM472.20 201.50h1.50v1.50h-1.50zM472.20 203.00h1.50v1.50h-1.50zM473.70 191.00h1.50v1.50h-1.50zM473.70 192.50h1.50v1.50h-1.50zM473.70 194.00h1.50v1.50h-1.50zM473.70 195.50h1.50v1.50h-1.50zM473.70 197.00h1.50v1.50h-1.50zM473.70 198.50h1.50v1.50h-1.50zM473.70 200.00h1.50v1.50h-1.50zM473.70 201.50h1.50v1.50h-1.50zM475.20 192.50h1.50v1.50h-1.50zM475.20 194.00h1.50v1.50h-1.50zM475.20 195.50h1.50v1.50h-1.50zM475.20 197.00h1.50v1.50h-1.50zM475.20 198.50h1.50v1.50h-1.50zM475.20 200.00h1.50v1.50h-1.50z"/>
<path fill="#e01058" d="M461.70 231.50h1.50v1.50h-1.50zM461.70 233.00h1.50v1.50h-1.50zM461.70 234.50h1.50v1.50h-1.50zM461.70 236.00h1.50v1.50h-1.50zM461.70 237.50h1.50v1.50h-1.50zM463.20 228.50h1.50v1.50h-1.50zM463.20 230.00h1.50v1.50h-1.50zM463.20 231.50h1.50v1.50h-1.50zM463.20 233.00h1.50v1.50h-1.50zM463.20 234.50h1.50v1.50h-1.50zM463.20 236.00h1.50v1.50h-1.50zM463.20 237.50h1.50v1.50h-1.50zM464.70 227.00h1.50v1.50h-1.50zM464.70 228.50h1.50v1.50h-1.50zM464.70 230.00h1.50v1.50h-1.50zM464.70 231.50h1.50v1.50h-1.50zM464.70 233.00h1.50v1.50h-1.50zM464.70 234.50h1.50v1.50h-1.50zM464.70 236.00h1.50v1.50h-1.50zM464.70 237.50h1.50v1.50h-1.50zM466.20 224.00h1.50v1.50h-1.50zM466.20 225.50h1.50v1.50h-1.50zM466.20 227.00h1.50v1.50h-1.50zM466.20 228.50h1.50v1.50h-1.50zM466.20 230.00h1.50v1.50h-1.50zM466.20 231.50h1.50v1.50h-1.50zM466.20 233.00h1.50v1.50h-1.50zM466.20 234.50h1.50v1.50h-1.50zM466.20 236.00h1.50v1.50h-1.50zM467.70 224.00h1.50v1.50h-1.50zM467.70 225.50h1.50v1.50h-1.50zM467.70 227.00h1.50v1.50h-1.50zM467.70 228.50h1.50v1.50h-1.50zM467.70 230.00h1.50v1.50h-1.50zM467.70 231.50h1.50v1.50h-1.50zM467.70 233.00h1.50v1.50h-1.50zM467.70 234.50h1.50v1.50h-1.50zM467.70 236.00h1.50v1.50h-1.50zM469.20 224.00h1.50v1.50h-1.50zM469.20 225.50h1.50v1.50h-1.50zM469.20 227.00h1.50v1.50h-1.50zM469.20 228.50h1.50v1.50h-1.50zM469.20 230.00h1.50v1.50h-1.50zM469.20 231.50h1.50v1.50h-1.50zM469.20 233.00h1.50v1.50h-1.50zM469.20 234.50h1.50v1.50h-1.50zM470.70 224.00h1.50v1.50h-1.50zM470.70 225.50h1.50v1.50h-1.50zM470.70 227.00h1.50v1.50h-1.50zM470.70 228.50h1.50v1.50h-1.50zM470.70 230.00h1.50v1.50h-1.50zM470.70 231.50h1.50v1.50h-1.50zM470.70 233.00h1.50v1.50h-1.50zM472.20 225.50h1.50v1.50h-1.50zM472.20 227.00h1.50v1.50h-1.50zM472.20 228.50h1.50v1.50h-1.50zM472.20 230.00h1.50v1.50h-1.50zM472.20 231.50h1.50v1.50h-1.50z"/>
<path fill="#0a0ae6" d="M482.70 176.00h1.50v1.50h-1.50zM482.70 177.50h1.50v1.50h-1.50zM482.70 179.00h1.50v1.50h-1.50zM482.70 180.50h1.50v1.50h-1.50zM484.20 170.00h1.50v1.50h-1.50zM484.20 171.50h1.50v1.50h-1.50zM484.20 173.00h1.50v1.50h-1.50zM484.20 174.50h1.50v1.50h-1.50zM484.20 176.00h1.50v1.50h-1.50zM484.20 177.50h1.50v1.50h-1.50zM484.20 179.00h1.50v1.50h-1.50zM484.20 180.50h1.50v1.50h-1.50zM485.70 164.00h1.50v1.50h-1.50zM485.70 165.50h1.50v1.50h-1.50zM485.70 167.00h1.50v1.50h-1.50zM485.70 168.50h1.50v1.50h-1.50zM485.70 170.00h1.50v1.50h-1.50zM485.70 171.50h1.50v1.50h-1.50zM485.70 173.00h1.50v1.50h-1.50zM485.70 174.50h1.50v1.50h-1.50zM485.70 176.00h1.50v1.50h-1.50zM485.70 177.50h1.50v1.50h-1.50zM485.70 179.00h1.50v1.50h-1.50zM485.70 180.50h1.50v1.50h-1.50zM487.20 162.50h1.50v1.50h-1.50zM487.20 164.00h1.50v1.50h-1.50zM487.20 165.50h1.50v1.50h-1.50zM487.20 167.00h1.50v1.50h-1.50zM487.20 168.50h1.50v1.50h-1.50zM487.20 170.00h1.50v1.50h-1.50zM487.20 171.50h1.50v1.50h-1.50zM487.20 173.00h1.50v1.50h-1.50zM487.20 174.50h1.50v1.50h-1.50zM487.20 176.00h1.50v1.50h-1.50zM487.20 177.50h1.50v1.50h-1.50zM487.20 179.00h1.50v1.50h-1.50zM488.70 161.00h1.50v1.50h-1.50zM488.70 162.50h1.50v1.50h-1.50zM488.70 164.00h1.50v1.50h-1.50zM488.70 165.50h1.50v1.50h-1.50zM488.70 167.00h1.50v1.50h-1.50zM488.70 168.50h1.50v1.50h-1.50zM488.70 170.00h1.50v1.50h-1.50zM488.70 171.50h1.50v1.50h-1.50zM488.70 173.00h1.50v1.50h-1.50zM488.70 174.50h1.50v1.50h-1.50zM488.70 176.00h1.50v1.50h-1.50zM488.70 177.50h1.50v1.50h-1.50zM488.70 179.00h1.50v1.50h-1.50zM490.20 161.00h1.50v1.50h-1.50zM490.20 162.50h1.50v1.50h-1.50zM490.20 164.00h1.50v1.50h-1.50zM490.20 165.50h1.50v1.50h-1.50zM490.20 167.00h1.50v1.50h-1.50zM490.20 168.50h1.50v1.50h-1.50zM490.20 170.00h1.50v1.50h-1.50zM490.20 171.50h1.50v1.50h-1.50zM490.20 173.00h1.50v1.50h-1.50zM490.20 174.50h1.50v1.50h-1.50zM490.20 176.00h1.50v1.50h-1.50zM490.20 177.50h1.50v1.50h-1.50zM491.70 161.00h1.50v1.50h-1.50zM491.70 162.50h1.50v1.50h-1.50zM491.70 164.00h1.50v1.50h-1.50zM491.70 165.50h1.50v1.50h-1.50zM491.70 167.00h1.50v1.50h-1.50zM491.70 168.50h1.50v1.50h-1.50zM491.70 170.00h1.50v1.50h-1.50zM491.70 171.50h1.50v1.50h-1.50zM491.70 173.00h1.50v1.50h-1.50zM491.70 174.50h1.50v1.50h-1.50zM491.70 176.00h1.50v1.50h-1.50zM493.20 162.50h1.50v1.50h-1.50zM493.20 164.00h1.50v1.50h-1.50zM493.20 165.50h1.50v1.50h-1.50zM493.20 167.00h1.50v1.50h-1.50zM493.20 168.50h1.50v1.50h-1.50zM493.20 170.00h1.50v1.50h-1.50zM493.20 171.50h1.50v1.50h-1.50zM493.20 173.00h1.50v1.50h-1.50zM493.20 174.50h1.50v1.50h-1.50zM494.70 164.00h1.50v1.50h-1.50zM494.70 165.50h1.50v1.50h-1.50zM494.70 167.00h1.50v1.50h-1.50zM494.70 168.50h1.50v1.50h-1.50zM494.70 170.00h1.50v1.50h-1.50zM494.70 171.50h1.50v1.50h-1.50zM494.70 173.00h1.50v1.50h-1.50z"/>
<path fill="#d00ee0" d="M506.70 189.50h1.50v1.50h-1.50zM506.70 191.00h1.50v1.50h-1.50zM506.70 192.50h1.50v1.50h-1.50zM506.70 194.00h1.50v1.50h-1.50zM508.20 188.00h1.50v1.50h-1.50zM508.20 189.50h1.50v1.50h-1.50zM508.20 191.00h1.50v1.50h-1.50zM508.20 192.50h1.50v1.50h-1.50zM508.20 194.00h1.50v1.50h-1.50zM508.20 195.50h1.50v1.50h-1.50zM509.70 188.00h1.50v1.50h-1.50zM509.70 189.50h1.50v1.50h-1.50zM509.70 191.00h1.50v1.50h-1.50zM509.70 192.50h1.50v1.50h-1.50zM509.70 194.00h1.50v1.50h-1.50zM509.70 195.50h1.50v1.50h-1.50zM511.20 186.50h1.50v1.50h-1.50zM511.20 188.00h1.50v1.50h-1.50zM511.20 189.50h1.50v1.50h-1.50zM511.20 191.00h1.50v1.50h-1.50zM511.20 192.50h1.50v1.50h-1.50zM511.20 194.00h1.50v1.50h-1.50zM511.20 195.50h1.50v1.50h-1.50zM512.70 186.50h1.50v1.50h-1.50zM512.70 188.00h1.50v1.50h-1.50zM512.70 189.50h1.50v1.50h-1.50zM512.70 191.00h1.50v1.50h-1.50zM512.70 192.50h1.50v1.50h-1.50zM512.70 194.00h1.50v1.50h-1.50zM512.70 195.50h1.50v1.50h-1.50zM514.20 186.50h1.50v1.50h-1.50zM514.20 188.00h1.50v1.50h-1.50zM514.20 189.50h1.50v1.50h-1.50zM514.20 191.00h1.50v1.50h-1.50zM514.20 192.50h1.50v1.50h-1.50zM514.20 194.00h1.50v1.50h-1.50zM515.70 186.50h1.50v1.50h-1.50zM515.70 188.00h1.50v1.50h-1.50zM515.70 189.50h1.50v1.50h-1.50zM515.70 191.00h1.50v1.50h-1.50zM515.70 192.50h1.50v1.50h-1.50zM515.70 194.00h1.50v1.50h-1.50zM517.20 188.00h1.50v1.50h-1.50zM517.20 189.50h1.50v1.50h-1.50zM517.20 191.00h1.50v1.50h-1.50zM517.20 192.50h1.50v1.50h-1.50z"/>
<path fill="#c414ea" d="M482.70 203.00h1.50v1.50h-1.50zM482.70 204.50h1.50v1.50h-1.50zM482.70 206.00h1.50v1.50h-1.50zM484.20 203.00h1.50v1.50h-1.50zM484.20 204.50h1.50v1.50h-1.50zM484.20 206.00h1.50v1.50h-1.50zM484.20 207.50h1.50v1.50h-1.50zM485.70 201.50h1.50v1.50h-1.50zM485.70 203.00h1.50v1.50h-1.50zM485.70 204.50h1.50v1.50h-1.50zM485.70 206.00h1.50v1.50h-1.50zM485.70 207.50h1.50v1.50h-1.50zM487.20 198.50h1.50v1.50h-1.50zM487.20 200.00h1.50v1.50h-1.50zM487.20 201.50h1.50v1.50h-1.50zM487.20 203.00h1.50v1.50h-1.50zM487.20 204.50h1.50v1.50h-1.50zM487.20 206.00h1.50v1.50h-1.50zM487.20 207.50h1.50v1.50h-1.50zM487.20 209.00h1.50v1.50h-1.50zM488.70 197.00h1.50v1.50h-1.50zM488.70 198.50h1.50v1.50h-1.50zM488.70 200.00h1.50v1.50h-1.50zM488.70 201.50h1.50v1.50h-1.50zM488.70 203.00h1.50v1.50h-1.50zM488.70 204.50h1.50v1.50h-1.50zM488.70 206.00h1.50v1.50h-1.50zM488.70 207.50h1.50v1.50h-1.50zM488.70 209.00h1.50v1.50h-1.50zM490.20 197.00h1.50v1.50h-1.50zM490.20 198.50h1.50v1.50h-1.50zM490.20 200.00h1.50v1.50h-1.50zM490.20 201.50h1.50v1.50h-1.50zM490.20 203.00h1.50v1.50h-1.50zM490.20 204.50h1.50v1.50h-1.50zM490.20 206.00h1.50v1.50h-1.50zM490.20 207.50h1.50v1.50h-1.50zM490.20 209.00h1.50v1.50h-1.50zM490.20 210.50h1.50v1.50h-1.50zM491.70 195.50h1.50v1.50h-1.50zM491.70 197.00h1.50v1.50h-1.50zM491.70 198.50h1.50v1.50h-1.50zM491.70 200.00h1.50v1.50h-1.50zM491.70 201.50h1.50v1.50h-1.50zM491.70 203.00h1.50v1.50h-1.50zM491.70 204.50h1.50v1.50h-1.50zM491.70 206.00h1.50v1.50h-1.50zM491.70 207.50h1.50v1.50h-1.50zM491.70 209.00h1.50v1.50h-1.50zM491.70 210.50h1.50v1.50h-1.50zM493.20 194.00h1.50v1.50h-1.50zM493.20 195.50h1.50v1.50h-1.50zM493.20 197.00h1.50v1.50h-1.50zM493.20 198.50h1.50v1.50h-1.50zM493.20 200.00h1.50v1.50h-1.50zM493.20 201.50h1.50v1.50h-1.50zM493.20 203.00h1.50v1.50h-1.50zM493.20 204.50h1.50v1.50h-1.50zM493.20 206.00h1.50v1.50h-1.50zM493.20 207.50h1.50v1.50h-1.50zM493.20 209.00h1.50v1.50h-1.50zM493.20 210.50h1.50v1.50h-1.50zM494.70 195.50h1.50v1.50h-1.50zM494.70 197.00h1.50v1.50h-1.50zM494.70 198.50h1.50v1.50h-1.50zM494.70 200.00h1.50v1.50h-1.50zM494.70 201.50h1.50v1.50h-1.50zM494.70 203.00h1.50v1.50h-1.50zM494.70 204.50h1.50v1.50h-1.50zM494.70 206.00h1.50v1.50h-1.50zM494.70 207.50h1.50v1.50h-1.50zM494.70 209.00h1.50v1.50h-1.50zM494.70 210.50h1.50v1.50h-1.50zM496.20 198.50h1.50v1.50h-1.50zM496.20 200.00h1.50v1.50h-1.50zM496.20 201.50h1.50v1.50h-1.50zM496.20 203.00h1.50v1.50h-1.50zM496.20 204.50h1.50v1.50h-1.50zM496.20 206.00h1.50v1.50h-1.50zM496.20 207.50h1.50v1.50h-1.50zM496.20 209.00h1.50v1.50h-1.50zM497.70 198.50h1.50v1.50h-1.50zM497.70 200.00h1.50v1.50h-1.50zM497.70 201.50h1.50v1.50h-1.50zM497.70 203.00h1.50v1.50h-1.50zM497.70 204.50h1.50v1.50h-1.50zM497.70 206.00h1.50v1.50h-1.50zM497.70 207.50h1.50v1.50h-1.50zM497.70 209.00h1.50v1.50h-1.50zM499.20 200.00h1.50v1.50h-1.50zM499.20 201.50h1.50v1.50h-1.50zM499.20 203.00h1.50v1.50h-1.50zM499.20 204.50h1.50v1.50h-1.50zM499.20 206.00h1.50v1.50h-1.50zM499.20 207.50h1.50v1.50h-1.50zM499.20 209.00h1.50v1.50h-1.50zM500.70 200.00h1.50v1.50h-1.50zM500.70 201.50h1.50v1.50h-1.50zM500.70 203.00h1.50v1.50h-1.50zM500.70 204.50h1.50v1.50h-1.50zM500.70 206.00h1.50v1.50h-1.50zM500.70 207.50h1.50v1.50h-1.50zM502.20 203.00h1.50v1.50h-1.50zM502.20 204.50h1.50v1.50h-1.50z"/>
<path fill="#c812cc" d="M532.20 192.50h1.50v1.50h-1.50zM532.20 194.00h1.50v1.50h-1.50zM533.70 191.00h1.50v1.50h-1.50zM533.70 192.50h1.50v1.50h-1.50zM533.70 194.00h1.50v1.50h-1.50zM533.70 195.50h1.50v1.50h-1.50zM535.20 191.00h1.50v1.50h-1.50zM535.20 192.50h1.50v1.50h-1.50zM535.20 194.00h1.50v1.50h-1.50zM535.20 195.50h1.50v1.50h-1.50zM535.20 197.00h1.50v1.50h-1.50zM536.70 191.00h1.50v1.50h-1.50zM536.70 192.50h1.50v1.50h-1.50zM536.70 194.00h1.50v1.50h-1.50zM536.70 195.50h1.50v1.50h-1.50zM536.70 197.00h1.50v1.50h-1.50zM538.20 189.50h1.50v1.50h-1.50zM538.20 191.00h1.50v1.50h-1.50zM538.20 192.50h1.50v1.50h-1.50zM538.20 194.00h1.50v1.50h-1.50zM538.20 195.50h1.50v1.50h-1.50zM538.20 197.00h1.50v1.50h-1.50zM538.20 198.50h1.50v1.50h-1.50zM539.70 188.00h1.50v1.50h-1.50zM539.70 189.50h1.50v1.50h-1.50zM539.70 191.00h1.50v1.50h-1.50zM539.70 192.50h1.50v1.50h-1.50zM539.70 194.00h1.50v1.50h-1.50zM539.70 195.50h1.50v1.50h-1.50zM539.70 197.00h1.50v1.50h-1.50zM539.70 198.50h1.50v1.50h-1.50zM539.70 200.00h1.50v1.50h-1.50zM541.20 188.00h1.50v1.50h-1.50zM541.20 189.50h1.50v1.50h-1.50zM541.20 191.00h1.50v1.50h-1.50zM541.20 192.50h1.50v1.50h-1.50zM541.20 194.00h1.50v1.50h-1.50zM541.20 195.50h1.50v1.50h-1.50zM541.20 197.00h1.50v1.50h-1.50zM541.20 198.50h1.50v1.50h-1.50zM541.20 200.00h1.50v1.50h-1.50zM541.20 201.50h1.50v1.50h-1.50zM542.70 188.00h1.50v1.50h-1.50zM542.70 189.50h1.50v1.50h-1.50zM542.70 191.00h1.50v1.50h-1.50zM542.70 192.50h1.50v1.50h-1.50zM542.70 194.00h1.50v1.50h-1.50zM542.70 195.50h1.50v1.50h-1.50zM542.70 197.00h1.50v1.50h-1.50zM542.70 198.50h1.50v1.50h-1.50zM542.70 200.00h1.50v1.50h-1.50zM542.70 201.50h1.50v1.50h-1.50zM542.70 203.00h1.50v1.50h-1.50zM544.20 188.00h1.50v1.50h-1.50zM544.20 189.50h1.50v1.50h-1.50zM544.20 191.00h1.50v1.50h-1.50zM544.20 192.50h1.50v1.50h-1.50zM544.20 194.00h1.50v1.50h-1.50zM544.20 195.50h1.50v1.50h-1.50zM544.20 197.00h1.50v1.50h-1.50zM544.20 198.50h1.50v1.50h-1.50zM544.20 200.00h1.50v1.50h-1.50zM544.20 201.50h1.50v1.50h-1.50zM544.20 203.00h1.50v1.50h-1.50zM544.20 204.50h1.50v1.50h-1.50zM545.70 189.50h1.50v1.50h-1.50zM545.70 191.00h1.50v1.50h-1.50zM545.70 192.50h1.50v1.50h-1.50zM545.70 194.00h1.50v1.50h-1.50zM545.70 195.50h1.50v1.50h-1.50zM545.70 197.00h1.50v1.50h-1.50zM545.70 198.50h1.50v1.50h-1.50zM545.70 200.00h1.50v1.50h-1.50zM545.70 201.50h1.50v1.50h-1.50zM545.70 203.00h1.50v1.50h-1.50zM545.70 204.50h1.50v1.50h-1.50zM545.70 206.00h1.50v1.50h-1.50zM547.20 191.00h1.50v1.50h-1.50zM547.20 192.50h1.50v1.50h-1.50zM547.20 194.00h1.50v1.50h-1.50zM547.20 195.50h1.50v1.50h-1.50zM547.20 197.00h1.50v1.50h-1.50zM547.20 198.50h1.50v1.50h-1.50zM547.20 200.00h1.50v1.50h-1.50zM547.20 201.50h1.50v1.50h-1.50zM547.20 203.00h1.50v1.50h-1.50zM547.20 204.50h1.50v1.50h-1.50zM547.20 206.00h1.50v1.50h-1.50zM547.20 207.50h1.50v1.50h-1.50zM548.70 192.50h1.50v1.50h-1.50zM548.70 194.00h1.50v1.50h-1.50zM548.70 195.50h1.50v1.50h-1.50zM548.70 197.00h1.50v1.50h-1.50zM548.70 198.50h1.50v1.50h-1.50zM548.70 200.00h1.50v1.50h-1.50zM548.70 201.50h1.50v1.50h-1.50zM548.70 203.00h1.50v1.50h-1.50zM548.70 204.50h1.50v1.50h-1.50zM548.70 206.00h1.50v1.50h-1.50zM548.70 207.50h1.50v1.50h-1.50zM550.20 192.50h1.50v1.50h-1.50zM550.20 194.00h1.50v1.50h-1.50zM550.20 195.50h1.50v1.50h-1.50zM550.20 197.00h1.50v1.50h-1.50zM550.20 198.50h1.50v1.50h-1.50zM550.20 200.00h1.50v1.50h-1.50zM550.20 201.50h1.50v1.50h-1.50zM550.20 203.00h1.50v1.50h-1.50zM550.20 204.50h1.50v1.50h-1.50zM550.20 206.00h1.50v1.50h-1.50zM550.20 207.50h1.50v1.50h-1.50zM551.70 194.00h1.50v1.50h-1.50zM551.70 195.50h1.50v1.50h-1.50zM551.70 197.00h1.50v1.50h-1.50zM551.70 198.50h1.50v1.50h-1.50zM551.70 200.00h1.50v1.50h-1.50zM551.70 201.50h1.50v1.50h-1.50zM551.70 203.00h1.50v1.50h-1.50zM551.70 204.50h1.50v1.50h-1.50zM551.70 206.00h1.50v1.50h-1.50zM553.20 195.50h1.50v1.50h-1.50zM553.20 197.00h1.50v1.50h-1.50zM553.20 198.50h1.50v1.50h-1.50zM553.20 200.00h1.50v1.50h-1.50zM553.20 201.50h1.50v1.50h-1.50zM553.20 203.00h1.50v1.50h-1.50zM553.20 204.50h1.50v1.50h-1.50z"/>
<path fill="#e0102a" d="M484.20 222.50h1.50v1.50h-1.50zM484.20 224.00h1.50v1.50h-1.50zM484.20 225.50h1.50v1.50h-1.50zM484.20 227.00h1.50v1.50h-1.50zM485.70 221.00h1.50v1.50h-1.50zM485.70 222.50h1.50v1.50h-1.50zM485.70 224.00h1.50v1.50h-1.50zM485.70 225.50h1.50v1.50h-1.50zM485.70 227.00h1.50v1.50h-1.50zM485.70 228.50h1.50v1.50h-1.50zM487.20 221.00h1.50v1.50h-1.50zM487.20 222.50h1.50v1.50h-1.50zM487.20 224.00h1.50v1.50h-1.50zM487.20 225.50h1.50v1.50h-1.50zM487.20 227.00h1.50v1.50h-1.50zM487.20 228.50h1.50v1.50h-1.50zM487.20 230.00h1.50v1.50h-1.50zM488.70 221.00h1.50v1.50h-1.50zM488.70 222.50h1.50v1.50h-1.50zM488.70 224.00h1.50v1.50h-1.50zM488.70 225.50h1.50v1.50h-1.50zM488.70 227.00h1.50v1.50h-1.50zM488.70 228.50h1.50v1.50h-1.50zM488.70 230.00h1.50v1.50h-1.50zM490.20 222.50h1.50v1.50h-1.50zM490.20 224.00h1.50v1.50h-1.50zM490.20 225.50h1.50v1.50h-1.50zM490.20 227.00h1.50v1.50h-1.50zM490.20 228.50h1.50v1.50h-1.50zM490.20 230.00h1.50v1.50h-1.50zM490.20 231.50h1.50v1.50h-1.50zM491.70 222.50h1.50v1.50h-1.50zM491.70 224.00h1.50v1.50h-1.50zM491.70 225.50h1.50v1.50h-1.50zM491.70 227.00h1.50v1.50h-1.50zM491.70 228.50h1.50v1.50h-1.50zM491.70 230.00h1.50v1.50h-1.50zM491.70 231.50h1.50v1.50h-1.50zM493.20 222.50h1.50v1.50h-1.50zM493.20 224.00h1.50v1.50h-1.50zM493.20 225.50h1.50v1.50h-1.50zM493.20 227.00h1.50v1.50h-1.50zM493.20 228.50h1.50v1.50h-1.50zM493.20 230.00h1.50v1.50h-1.50zM493.20 231.50h1.50v1.50h-1.50zM494.70 222.50h1.50v1.50h-1.50zM494.70 224.00h1.50v1.50h-1.50zM494.70 225.50h1.50v1.50h-1.50zM494.70 227.00h1.50v1.50h-1.50zM494.70 228.50h1.50v1.50h-1.50zM494.70 230.00h1.50v1.50h-1.50zM494.70 231.50h1.50v1.50h-1.50zM496.20 224.00h1.50v1.50h-1.50zM496.20 225.50h1.50v1.50h-1.50zM496.20 227.00h1.50v1.50h-1.50zM496.20 228.50h1.50v1.50h-1.50zM496.20 230.00h1.50v1.50h-1.50z"/>
<path fill="#80f0a0" d="M530.70 95.00h1.50v1.50h-1.50zM530.70 96.50h1.50v1.50h-1.50zM530.70 98.00h1.50v1.50h-1.50zM530.70 99.50h1.50v1.50h-1.50zM532.20 93.50h1.50v1.50h-1.50zM532.20 95.00h1.50v1.50h-1.50zM532.20 96.50h1.50v1.50h-1.50zM532.20 98.00h1.50v1.50h-1.50zM532.20 99.50h1.50v1.50h-1.50zM532.20 101.00h1.50v1.50h-1.50zM533.70 92.00h1.50v1.50h-1.50zM533.70 93.50h1.50v1.50h-1.50zM533.70 95.00h1.50v1.50h-1.50zM533.70 96.50h1.50v1.50h-1.50zM533.70 98.00h1.50v1.50h-1.50zM533.70 99.50h1.50v1.50h-1.50zM533.70 101.00h1.50v1.50h-1.50zM533.70 102.50h1.50v1.50h-1.50zM535.20 92.00h1.50v1.50h-1.50zM535.20 93.50h1.50v1.50h-1.50zM535.20 95.00h1.50v1.50h-1.50zM535.20 96.50h1.50v1.50h-1.50zM535.20 98.00h1.50v1.50h-1.50zM535.20 99.50h1.50v1.50h-1.50zM535.20 101.00h1.50v1.50h-1.50zM535.20 102.50h1.50v1.50h-1.50zM536.70 92.00h1.50v1.50h-1.50zM536.70 93.50h1.50v1.50h-1.50zM536.70 95.00h1.50v1.50h-1.50zM536.70 96.50h1.50v1.50h-1.50zM536.70 98.00h1.50v1.50h-1.50zM536.70 99.50h1.50v1.50h-1.50zM536.70 101.00h1.50v1.50h-1.50zM536.70 102.50h1.50v1.50h-1.50zM538.20 92.00h1.50v1.50h-1.50zM538.20 93.50h1.50v1.50h-1.50zM538.20 95.00h1.50v1.50h-1.50zM538.20 96.50h1.50v1.50h-1.50zM538.20 98.00h1.50v1.50h-1.50zM538.20 99.50h1.50v1.50h-1.50zM538.20 101.00h1.50v1.50h-1.50zM538.20 102.50h1.50v1.50h-1.50zM539.70 92.00h1.50v1.50h-1.50zM539.70 93.50h1.50v1.50h-1.50zM539.70 95.00h1.50v1.50h-1.50zM539.70 96.50h1.50v1.50h-1.50zM539.70 98.00h1.50v1.50h-1.50zM539.70 99.50h1.50v1.50h-1.50zM539.70 101.00h1.50v1.50h-1.50zM539.70 102.50h1.50v1.50h-1.50zM541.20 92.00h1.50v1.50h-1.50zM541.20 93.50h1.50v1.50h-1.50zM541.20 95.00h1.50v1.50h-1.50zM541.20 96.50h1.50v1.50h-1.50zM541.20 98.00h1.50v1.50h-1.50zM541.20 99.50h1.50v1.50h-1.50zM541.20 101.00h1.50v1.50h-1.50zM542.70 92.00h1.50v1.50h-1.50zM542.70 93.50h1.50v1.50h-1.50zM542.70 95.00h1.50v1.50h-1.50zM542.70 96.50h1.50v1.50h-1.50zM542.70 98.00h1.50v1.50h-1.50zM542.70 99.50h1.50v1.50h-1.50zM544.20 93.50h1.50v1.50h-1.50zM544.20 95.00h1.50v1.50h-1.50zM544.20 96.50h1.50v1.50h-1.50z"/>
</g><g>
<rect x="432.4" y="31.3" width="127.90" height="216.95" stroke="#1a1a1a" stroke-width="1.15" fill="none"/>
<line x1="436.80" y1="248.25" x2="436.80" y2="255.6" stroke="#1a1a1a" stroke-width="1.15" fill="none"/>
<line x1="453.80" y1="248.25" x2="453.80" y2="255.6" stroke="#1a1a1a" stroke-width="1.15" fill="none"/>
<line x1="470.80" y1="248.25" x2="470.80" y2="255.6" stroke="#1a1a1a" stroke-width="1.15" fill="none"/>
<line x1="487.80" y1="248.25" x2="487.80" y2="255.6" stroke="#1a1a1a" stroke-width="1.15" fill="none"/>
<line x1="504.80" y1="248.25" x2="504.80" y2="255.6" stroke="#1a1a1a" stroke-width="1.15" fill="none"/>
<line x1="521.00" y1="248.25" x2="521.00" y2="255.6" stroke="#1a1a1a" stroke-width="1.15" fill="none"/>
<line x1="537.95" y1="248.25" x2="537.95" y2="255.6" stroke="#1a1a1a" stroke-width="1.15" fill="none"/>
<line x1="555.00" y1="248.25" x2="555.00" y2="255.6" stroke="#1a1a1a" stroke-width="1.15" fill="none"/>
<text x="435.90" y="276.6" font-size="14.5" text-anchor="middle">0</text>
<text x="486.90" y="276.6" font-size="14.5" text-anchor="middle">30000</text>
<text x="554.10" y="276.6" font-size="14.5" text-anchor="middle">70000</text>
<line x1="424.00" y1="62.94" x2="432.4" y2="62.94" stroke="#1a1a1a" stroke-width="1.15" fill="none"/>
<line x1="424.00" y1="99.65" x2="432.4" y2="99.65" stroke="#1a1a1a" stroke-width="1.15" fill="none"/>
<line x1="424.00" y1="137.46" x2="432.4" y2="137.46" stroke="#1a1a1a" stroke-width="1.15" fill="none"/>
<line x1="424.00" y1="175.43" x2="432.4" y2="175.43" stroke="#1a1a1a" stroke-width="1.15" fill="none"/>
<line x1="424.00" y1="212.98" x2="432.4" y2="212.98" stroke="#1a1a1a" stroke-width="1.15" fill="none"/>
<text transform="translate(411.80,62.79) rotate(-90)" font-size="14" text-anchor="middle">0</text>
<text transform="translate(411.80,136.16) rotate(-90)" font-size="14" text-anchor="middle">40000</text>
<text transform="translate(411.80,212.58) rotate(-90)" font-size="14" text-anchor="middle">-80000</text>
</g>
<text x="0.7" y="29" font-size="38">a</text>
<text transform="translate(54.86,27.7) scale(1,1.03)" font-size="20.4">Classes</text>
<text transform="translate(187.2,29) scale(1.04,1)" font-size="40">b</text>
<path transform="translate(243.90,27.70) scale(0.00986,-0.00986)" d="M583,0L763,0L763,1409L646,1409C618,1354 571,1297 505,1239C440,1180 364,1132 278,1095L223,1071L223,903C271,921 326,946 388,979C450,1013 515,1054 583,1102Z"/>
<text x="255.13" y="27.7" font-size="20.2">0-fold CV</text>
<text x="450.8" y="27.7" font-size="20.3">LOPOCV</text>
<text transform="translate(586.35,29.5) scale(1.085,1)" font-size="40.5">c</text>
<rect x="645.1" y="31.3" width="128.10" height="216.80" stroke="#1a1a1a" stroke-width="1.15" fill="none"/>
<line x1="636.8" y1="240.30" x2="645.1" y2="240.30" stroke="#1a1a1a" stroke-width="1.15" fill="none"/>
<text transform="translate(625.2,239.40) rotate(-90) scale(0.88,1)" font-size="14.4" text-anchor="middle">0.0</text>
<line x1="636.8" y1="199.44" x2="645.1" y2="199.44" stroke="#1a1a1a" stroke-width="1.15" fill="none"/>
<text transform="translate(625.2,198.54) rotate(-90) scale(0.88,1)" font-size="14.4" text-anchor="middle">0.2</text>
<line x1="636.8" y1="158.58" x2="645.1" y2="158.58" stroke="#1a1a1a" stroke-width="1.15" fill="none"/>
<text transform="translate(625.2,157.68) rotate(-90) scale(0.88,1)" font-size="14.4" text-anchor="middle">0.4</text>
<line x1="636.8" y1="117.72" x2="645.1" y2="117.72" stroke="#1a1a1a" stroke-width="1.15" fill="none"/>
<text transform="translate(625.2,116.82) rotate(-90) scale(0.88,1)" font-size="14.4" text-anchor="middle">0.6</text>
<line x1="636.8" y1="76.86" x2="645.1" y2="76.86" stroke="#1a1a1a" stroke-width="1.15" fill="none"/>
<text transform="translate(625.2,75.96) rotate(-90) scale(0.88,1)" font-size="14.4" text-anchor="middle">0.8</text>
<line x1="636.8" y1="36.00" x2="645.1" y2="36.00" stroke="#1a1a1a" stroke-width="1.15" fill="none"/>
<g transform="translate(625.2,35.10) rotate(-90) scale(0.88,1)"><path transform="translate(-10.01,0.00) scale(0.00703,-0.00703)" d="M583,0L763,0L763,1409L646,1409C618,1354 571,1297 505,1239C440,1180 364,1132 278,1095L223,1071L223,903C271,921 326,946 388,979C450,1013 515,1054 583,1102Z"/><text x="-2.00" y="0" font-size="14.4">.0</text></g>
<line x1="680.0" y1="248.1" x2="680.0" y2="255.5" stroke="#1a1a1a" stroke-width="1.15" fill="none"/>
<line x1="739.2" y1="248.1" x2="739.2" y2="255.5" stroke="#1a1a1a" stroke-width="1.15" fill="none"/>
<text transform="translate(608.1,172.1) rotate(-90)" font-size="22.2">Accuracy</text>
<g transform="translate(649.6,242.7) scale(1,1.035)"><text x="0" y="0" font-size="20.4">P&lt;0.0</text><path transform="translate(53.88,0.00) scale(0.00996,-0.00996)" d="M583,0L763,0L763,1409L646,1409C618,1354 571,1297 505,1239C440,1180 364,1132 278,1095L223,1071L223,903C271,921 326,946 388,979C450,1013 515,1054 583,1102Z"/></g>
<g transform="translate(612.75,276.4) scale(1,1.04)"><path transform="translate(0.00,0.00) scale(0.00879,-0.00879)" d="M583,0L763,0L763,1409L646,1409C618,1354 571,1297 505,1239C440,1180 364,1132 278,1095L223,1071L223,903C271,921 326,946 388,979C450,1013 515,1054 583,1102Z"/><text x="10.01" y="0" font-size="18">0-fold CV</text></g>
<text transform="translate(711.1,276.4) scale(1,1.04)" font-size="18">LOPOCV</text>
<line x1="655.3" y1="58.65" x2="703.8" y2="58.65" stroke="#000" stroke-width="2.1"/>
<line x1="666.7" y1="58.35" x2="692" y2="58.35" stroke="#000" stroke-width="2.9"/>
<rect x="715.1" y="63.8" width="47.50" height="145.30" stroke="#1a1a1a" stroke-width="1.15" fill="none"/>
<line x1="715.1" y1="114.6" x2="762.6" y2="114.6" stroke="#000" stroke-width="3"/>
<line x1="739.0" y1="39.2" x2="739.0" y2="63.8" stroke="#1a1a1a" stroke-width="1.15" fill="none" stroke-dasharray="4,3.5"/>
<line x1="739.0" y1="209.1" x2="739.0" y2="240.1" stroke="#1a1a1a" stroke-width="1.15" fill="none" stroke-dasharray="4,3.5"/>
<line x1="727.1" y1="39.2" x2="751" y2="39.2" stroke="#1a1a1a" stroke-width="1.15" fill="none"/>
<line x1="727.1" y1="240.1" x2="751" y2="240.1" stroke="#1a1a1a" stroke-width="1.15" fill="none"/>
</svg></body></html>
